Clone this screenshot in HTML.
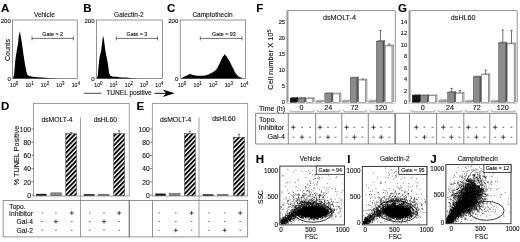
<!DOCTYPE html>
<html><head><meta charset="utf-8"><title>Figure</title>
<style>html,body{margin:0;padding:0;background:#fff}svg{display:block;filter:blur(0.35px);font-family:"Liberation Sans", Arial, sans-serif}text{stroke:#222;stroke-width:.12px;paint-order:stroke}</style></head>
<body><svg width="520" height="242" viewBox="0 0 520 242">
<rect width="520" height="242" fill="#fff"/>
<defs><pattern id="hatch" width="3.25" height="3.25" patternUnits="userSpaceOnUse" patternTransform="rotate(-46)"><rect width="3.25" height="3.25" fill="#fff"/><rect width="3.25" height="1.85" fill="#000"/></pattern></defs>
<text x="1" y="12" font-size="11.5" text-anchor="start" font-weight="bold" fill="#000" >A</text>
<text x="44.4" y="17.4" font-size="6.5" text-anchor="middle" font-weight="normal" fill="#111" >Vehicle</text>
<text x="10.799999999999999" y="23.2" font-size="6.1" text-anchor="end" font-weight="normal" fill="#111" >200</text>
<text x="10.799999999999999" y="80.7" font-size="6.1" text-anchor="end" font-weight="normal" fill="#111" >0</text>
<rect x="12.6" y="20" width="64.60000000000001" height="58.599999999999994" fill="none" stroke="#666" stroke-width="0.7" />
<line x1="32" y1="38.4" x2="73.4" y2="38.4" stroke="#333" stroke-width="0.7" />
<line x1="32" y1="36.4" x2="32" y2="40.4" stroke="#333" stroke-width="0.7" />
<line x1="73.4" y1="36.4" x2="73.4" y2="40.4" stroke="#333" stroke-width="0.7" />
<text x="52.7" y="35.8" font-size="5.4" text-anchor="middle" font-weight="normal" fill="#111" >Gate = 2</text>
<path d="M13.0 78.6 L13.4 76.8 L14.0 75.3 L14.6 68.9 L15.3 60.3 L16.2 54.0 L17.2 48.3 L18.2 42.2 L18.8 35.8 L19.9 31.3 L20.5 34.9 L21.7 41.7 L22.7 48.4 L23.5 54.8 L24.4 60.5 L25.4 66.5 L26.5 71.9 L27.5 75.0 L29.4 76.1 L32.7 76.8 L37.5 77.3 L42.6 77.4 L48.7 78.0 L54.5 78.2 L58.6 78.6 L58.6 78.6 Z" fill="#000"/>
<text transform="translate(14.2,86.8) scale(0.86,1)" font-size="6.1" text-anchor="middle" fill="#111">10<tspan dy="-1.7" font-size="5.2">0</tspan></text>
<text transform="translate(29.599999999999998,86.8) scale(0.86,1)" font-size="6.1" text-anchor="middle" fill="#111">10<tspan dy="-1.7" font-size="5.2">1</tspan></text>
<text transform="translate(45.0,86.8) scale(0.86,1)" font-size="6.1" text-anchor="middle" fill="#111">10<tspan dy="-1.7" font-size="5.2">2</tspan></text>
<text transform="translate(60.39999999999999,86.8) scale(0.86,1)" font-size="6.1" text-anchor="middle" fill="#111">10<tspan dy="-1.7" font-size="5.2">3</tspan></text>
<text transform="translate(75.8,86.8) scale(0.86,1)" font-size="6.1" text-anchor="middle" fill="#111">10<tspan dy="-1.7" font-size="5.2">4</tspan></text>
<text x="83.3" y="12" font-size="11.5" text-anchor="start" font-weight="bold" fill="#000" >B</text>
<text x="128.9" y="17.4" font-size="6.5" text-anchor="middle" font-weight="normal" fill="#111" >Galectin-2</text>
<text x="94.60000000000001" y="23.2" font-size="6.1" text-anchor="end" font-weight="normal" fill="#111" >200</text>
<text x="94.60000000000001" y="80.7" font-size="6.1" text-anchor="end" font-weight="normal" fill="#111" >0</text>
<rect x="96.4" y="20" width="66.0" height="58.599999999999994" fill="none" stroke="#666" stroke-width="0.7" />
<line x1="116.3" y1="38.4" x2="157.5" y2="38.4" stroke="#333" stroke-width="0.7" />
<line x1="116.3" y1="36.4" x2="116.3" y2="40.4" stroke="#333" stroke-width="0.7" />
<line x1="157.5" y1="36.4" x2="157.5" y2="40.4" stroke="#333" stroke-width="0.7" />
<text x="136.9" y="35.8" font-size="5.4" text-anchor="middle" font-weight="normal" fill="#111" >Gate = 3</text>
<path d="M96.8 78.6 L97.3 77.0 L97.8 75.7 L98.2 70.1 L99.0 62.0 L99.7 56.4 L101.0 51.4 L101.8 45.3 L102.4 40.1 L103.1 35.5 L103.9 39.4 L104.7 45.6 L105.5 51.5 L106.7 57.5 L107.6 61.9 L108.4 67.7 L109.0 72.6 L110.1 75.4 L113.2 76.7 L116.3 76.8 L121.4 77.6 L126.2 77.6 L132.4 78.2 L138.5 78.5 L142.3 78.4 L142.4 78.6 Z" fill="#000"/>
<text transform="translate(98.4,86.8) scale(0.86,1)" font-size="6.1" text-anchor="middle" fill="#111">10<tspan dy="-1.7" font-size="5.2">0</tspan></text>
<text transform="translate(113.65,86.8) scale(0.86,1)" font-size="6.1" text-anchor="middle" fill="#111">10<tspan dy="-1.7" font-size="5.2">1</tspan></text>
<text transform="translate(128.9,86.8) scale(0.86,1)" font-size="6.1" text-anchor="middle" fill="#111">10<tspan dy="-1.7" font-size="5.2">2</tspan></text>
<text transform="translate(144.15,86.8) scale(0.86,1)" font-size="6.1" text-anchor="middle" fill="#111">10<tspan dy="-1.7" font-size="5.2">3</tspan></text>
<text transform="translate(159.4,86.8) scale(0.86,1)" font-size="6.1" text-anchor="middle" fill="#111">10<tspan dy="-1.7" font-size="5.2">4</tspan></text>
<text x="167" y="12" font-size="11.5" text-anchor="start" font-weight="bold" fill="#000" >C</text>
<text x="212.45" y="17.4" font-size="6.5" text-anchor="middle" font-weight="normal" fill="#111" >Camptothecin</text>
<text x="178.39999999999998" y="23.2" font-size="6.1" text-anchor="end" font-weight="normal" fill="#111" >200</text>
<text x="178.39999999999998" y="80.7" font-size="6.1" text-anchor="end" font-weight="normal" fill="#111" >0</text>
<rect x="180.2" y="20" width="65.5" height="58.599999999999994" fill="none" stroke="#666" stroke-width="0.7" />
<line x1="200.3" y1="38.4" x2="242" y2="38.4" stroke="#333" stroke-width="0.7" />
<line x1="200.3" y1="36.4" x2="200.3" y2="40.4" stroke="#333" stroke-width="0.7" />
<line x1="242" y1="36.4" x2="242" y2="40.4" stroke="#333" stroke-width="0.7" />
<text x="223.95000000000002" y="35.8" font-size="5.4" text-anchor="middle" font-weight="normal" fill="#111" >Gate = 93</text>
<path d="M180.7 78.6 L181.7 77.9 L183.9 76.8 L186.2 75.7 L189.5 74.1 L192.2 74.7 L195.2 75.5 L197.5 75.7 L201.2 75.8 L205.5 75.6 L208.9 74.3 L211.2 73.0 L213.4 71.9 L215.2 70.4 L216.8 69.0 L218.6 65.5 L220.2 62.2 L221.4 59.5 L222.5 57.1 L223.7 55.7 L224.8 54.1 L225.7 55.4 L226.4 56.3 L227.2 57.6 L228.2 58.9 L230.0 61.9 L231.6 65.4 L233.2 68.6 L235.0 72.4 L236.8 74.6 L238.4 76.4 L240.2 77.3 L242.2 77.9 L242.2 78.6 Z" fill="#000"/>
<text transform="translate(182.1,86.8) scale(0.86,1)" font-size="6.1" text-anchor="middle" fill="#111">10<tspan dy="-1.7" font-size="5.2">0</tspan></text>
<text transform="translate(197.675,86.8) scale(0.86,1)" font-size="6.1" text-anchor="middle" fill="#111">10<tspan dy="-1.7" font-size="5.2">1</tspan></text>
<text transform="translate(213.25,86.8) scale(0.86,1)" font-size="6.1" text-anchor="middle" fill="#111">10<tspan dy="-1.7" font-size="5.2">2</tspan></text>
<text transform="translate(228.825,86.8) scale(0.86,1)" font-size="6.1" text-anchor="middle" fill="#111">10<tspan dy="-1.7" font-size="5.2">3</tspan></text>
<text transform="translate(244.4,86.8) scale(0.86,1)" font-size="6.1" text-anchor="middle" fill="#111">10<tspan dy="-1.7" font-size="5.2">4</tspan></text>
<line x1="83.8" y1="93.3" x2="101.5" y2="93.3" stroke="#222" stroke-width="0.8" />
<text x="129" y="95.3" font-size="6.6" text-anchor="middle" font-weight="normal" fill="#111" >TUNEL positive</text>
<line x1="154.5" y1="93.3" x2="168" y2="93.3" stroke="#111" stroke-width="1" />
<path d="M162.6 89.6 L174.8 93.3 L162.6 97 L166.2 93.3 Z" fill="#000"/>
<text transform="translate(9.7,50) rotate(-90)" font-size="6.9" text-anchor="middle" fill="#111">Counts</text>
<text x="1" y="110" font-size="11.5" text-anchor="start" font-weight="bold" fill="#000" >D</text>
<rect x="33.6" y="103.5" width="95.6" height="92.5" fill="none" stroke="#777" stroke-width="0.7" />
<line x1="80.5" y1="117.5" x2="80.5" y2="237.2" stroke="#777" stroke-width="0.7" />
<text x="57.05" y="122.3" font-size="6.8" text-anchor="middle" font-weight="normal" fill="#111" >dsMOLT-4</text>
<text x="105.35" y="122.3" font-size="6.8" text-anchor="middle" font-weight="normal" fill="#111" >dsHL60</text>
<text x="31.0" y="197.8" font-size="6.7" text-anchor="end" font-weight="normal" fill="#111" >0</text>
<line x1="31.400000000000002" y1="195.0" x2="33.6" y2="195.0" stroke="#333" stroke-width="0.6" />
<text x="31.0" y="184.60000000000002" font-size="6.7" text-anchor="end" font-weight="normal" fill="#111" >20</text>
<line x1="31.400000000000002" y1="181.8" x2="33.6" y2="181.8" stroke="#333" stroke-width="0.6" />
<text x="31.0" y="171.4" font-size="6.7" text-anchor="end" font-weight="normal" fill="#111" >40</text>
<line x1="31.400000000000002" y1="168.6" x2="33.6" y2="168.6" stroke="#333" stroke-width="0.6" />
<text x="31.0" y="158.20000000000002" font-size="6.7" text-anchor="end" font-weight="normal" fill="#111" >60</text>
<line x1="31.400000000000002" y1="155.4" x2="33.6" y2="155.4" stroke="#333" stroke-width="0.6" />
<text x="31.0" y="145.0" font-size="6.7" text-anchor="end" font-weight="normal" fill="#111" >80</text>
<line x1="31.400000000000002" y1="142.2" x2="33.6" y2="142.2" stroke="#333" stroke-width="0.6" />
<text x="31.0" y="131.8" font-size="6.7" text-anchor="end" font-weight="normal" fill="#111" >100</text>
<line x1="31.400000000000002" y1="129.0" x2="33.6" y2="129.0" stroke="#333" stroke-width="0.6" />
<rect x="36.2" y="194.0546" width="10.2" height="1.4454000000000065" fill="#111" stroke="#111" stroke-width="0.4" />
<rect x="50.8" y="192.872" width="10.5" height="2.627999999999986" fill="#888" stroke="#444" stroke-width="0.5" />
<rect x="65.8" y="133.742" width="10.7" height="61.75800000000001" fill="url(#hatch)" stroke="#222" stroke-width="0.45" />
<line x1="71.14999999999999" y1="133.742" x2="71.14999999999999" y2="132.542" stroke="#222" stroke-width="0.6" />
<line x1="69.94999999999999" y1="132.542" x2="72.35" y2="132.542" stroke="#222" stroke-width="0.6" />
<rect x="84" y="194.3174" width="10.2" height="1.1826000000000079" fill="#111" stroke="#111" stroke-width="0.4" />
<rect x="98.5" y="194.186" width="10.5" height="1.313999999999993" fill="#888" stroke="#444" stroke-width="0.5" />
<rect x="113.7" y="133.742" width="10.8" height="61.75800000000001" fill="url(#hatch)" stroke="#222" stroke-width="0.45" />
<line x1="119.10000000000001" y1="133.742" x2="119.10000000000001" y2="130.742" stroke="#222" stroke-width="0.6" />
<line x1="117.9" y1="130.742" x2="120.30000000000001" y2="130.742" stroke="#222" stroke-width="0.6" />
<rect x="3.1" y="200.5" width="126.1" height="36.4" fill="none" stroke="#666" stroke-width="0.7"/>
<line x1="41.5" y1="213" x2="43.099999999999994" y2="213" stroke="#333" stroke-width="0.7" />
<line x1="55.1" y1="213" x2="56.699999999999996" y2="213" stroke="#333" stroke-width="0.7" />
<line x1="69.8" y1="213" x2="73.8" y2="213" stroke="#222" stroke-width="0.8" />
<line x1="71.8" y1="211" x2="71.8" y2="215" stroke="#222" stroke-width="0.8" />
<line x1="88.9" y1="213" x2="90.5" y2="213" stroke="#333" stroke-width="0.7" />
<line x1="103.2" y1="213" x2="104.8" y2="213" stroke="#333" stroke-width="0.7" />
<line x1="117.2" y1="213" x2="121.2" y2="213" stroke="#222" stroke-width="0.8" />
<line x1="119.2" y1="211" x2="119.2" y2="215" stroke="#222" stroke-width="0.8" />
<line x1="41.5" y1="221.6" x2="43.099999999999994" y2="221.6" stroke="#333" stroke-width="0.7" />
<line x1="53.9" y1="221.6" x2="57.9" y2="221.6" stroke="#222" stroke-width="0.8" />
<line x1="55.9" y1="219.6" x2="55.9" y2="223.6" stroke="#222" stroke-width="0.8" />
<line x1="71.0" y1="221.6" x2="72.6" y2="221.6" stroke="#333" stroke-width="0.7" />
<line x1="88.9" y1="221.6" x2="90.5" y2="221.6" stroke="#333" stroke-width="0.7" />
<line x1="102" y1="221.6" x2="106" y2="221.6" stroke="#222" stroke-width="0.8" />
<line x1="104" y1="219.6" x2="104" y2="223.6" stroke="#222" stroke-width="0.8" />
<line x1="118.4" y1="221.6" x2="120.0" y2="221.6" stroke="#333" stroke-width="0.7" />
<line x1="41.5" y1="230.3" x2="43.099999999999994" y2="230.3" stroke="#333" stroke-width="0.7" />
<line x1="55.1" y1="230.3" x2="56.699999999999996" y2="230.3" stroke="#333" stroke-width="0.7" />
<line x1="71.0" y1="230.3" x2="72.6" y2="230.3" stroke="#333" stroke-width="0.7" />
<line x1="88.9" y1="230.3" x2="90.5" y2="230.3" stroke="#333" stroke-width="0.7" />
<line x1="103.2" y1="230.3" x2="104.8" y2="230.3" stroke="#333" stroke-width="0.7" />
<line x1="118.4" y1="230.3" x2="120.0" y2="230.3" stroke="#333" stroke-width="0.7" />
<text x="32.9" y="216.4" font-size="6.7" text-anchor="end" font-weight="normal" fill="#111" >Inhibitor</text>
<text x="32.9" y="223.8" font-size="6.7" text-anchor="end" font-weight="normal" fill="#111" >Gal-4</text>
<text x="32.9" y="232.5" font-size="6.7" text-anchor="end" font-weight="normal" fill="#111" >Gal-2</text>
<text x="9.3" y="208.8" font-size="6.7" text-anchor="start" font-weight="normal" fill="#111" >Topo.</text>
<text transform="translate(18.6,155.5) rotate(-90)" font-size="7.3" text-anchor="middle" fill="#111">% TUNEL Positive</text>
<text x="136.5" y="110" font-size="11.5" text-anchor="start" font-weight="bold" fill="#000" >E</text>
<rect x="152.3" y="103.5" width="95.39999999999998" height="92.5" fill="none" stroke="#777" stroke-width="0.7" />
<line x1="199" y1="117.5" x2="199" y2="237.2" stroke="#777" stroke-width="0.7" />
<text x="175.65" y="122.3" font-size="6.8" text-anchor="middle" font-weight="normal" fill="#111" >dsMOLT-4</text>
<text x="223.85" y="121.4" font-size="6.8" text-anchor="middle" font-weight="normal" fill="#111" >dsHL60</text>
<text x="149.70000000000002" y="197.8" font-size="6.7" text-anchor="end" font-weight="normal" fill="#111" >0</text>
<line x1="150.10000000000002" y1="195.0" x2="152.3" y2="195.0" stroke="#333" stroke-width="0.6" />
<text x="149.70000000000002" y="184.60000000000002" font-size="6.7" text-anchor="end" font-weight="normal" fill="#111" >20</text>
<line x1="150.10000000000002" y1="181.8" x2="152.3" y2="181.8" stroke="#333" stroke-width="0.6" />
<text x="149.70000000000002" y="171.4" font-size="6.7" text-anchor="end" font-weight="normal" fill="#111" >40</text>
<line x1="150.10000000000002" y1="168.6" x2="152.3" y2="168.6" stroke="#333" stroke-width="0.6" />
<text x="149.70000000000002" y="158.20000000000002" font-size="6.7" text-anchor="end" font-weight="normal" fill="#111" >60</text>
<line x1="150.10000000000002" y1="155.4" x2="152.3" y2="155.4" stroke="#333" stroke-width="0.6" />
<text x="149.70000000000002" y="145.0" font-size="6.7" text-anchor="end" font-weight="normal" fill="#111" >80</text>
<line x1="150.10000000000002" y1="142.2" x2="152.3" y2="142.2" stroke="#333" stroke-width="0.6" />
<text x="149.70000000000002" y="131.8" font-size="6.7" text-anchor="end" font-weight="normal" fill="#111" >100</text>
<line x1="150.10000000000002" y1="129.0" x2="152.3" y2="129.0" stroke="#333" stroke-width="0.6" />
<rect x="155.5" y="193.8575" width="10.2" height="1.6425000000000125" fill="#111" stroke="#111" stroke-width="0.4" />
<rect x="169.5" y="193.529" width="10.5" height="1.9710000000000036" fill="#888" stroke="#444" stroke-width="0.5" />
<rect x="184.5" y="133.742" width="10.8" height="61.75800000000001" fill="url(#hatch)" stroke="#222" stroke-width="0.45" />
<line x1="189.9" y1="133.742" x2="189.9" y2="131.242" stroke="#222" stroke-width="0.6" />
<line x1="188.70000000000002" y1="131.242" x2="191.1" y2="131.242" stroke="#222" stroke-width="0.6" />
<rect x="203" y="194.5145" width="10.2" height="0.9855000000000018" fill="#111" stroke="#111" stroke-width="0.4" />
<rect x="217.5" y="194.3174" width="10.5" height="1.1826000000000079" fill="#888" stroke="#444" stroke-width="0.5" />
<rect x="233.6" y="137.3555" width="10.8" height="58.144499999999994" fill="url(#hatch)" stroke="#222" stroke-width="0.45" />
<line x1="239.0" y1="137.3555" x2="239.0" y2="134.3555" stroke="#222" stroke-width="0.6" />
<line x1="237.8" y1="134.3555" x2="240.2" y2="134.3555" stroke="#222" stroke-width="0.6" />
<rect x="129.2" y="200.5" width="118.5" height="36.4" fill="none" stroke="#666" stroke-width="0.7"/>
<line x1="158.2" y1="213" x2="159.8" y2="213" stroke="#333" stroke-width="0.7" />
<line x1="175.0" y1="213" x2="176.60000000000002" y2="213" stroke="#333" stroke-width="0.7" />
<line x1="189.6" y1="213" x2="193.6" y2="213" stroke="#222" stroke-width="0.8" />
<line x1="191.6" y1="211" x2="191.6" y2="215" stroke="#222" stroke-width="0.8" />
<line x1="208.2" y1="213" x2="209.8" y2="213" stroke="#333" stroke-width="0.7" />
<line x1="223.89999999999998" y1="213" x2="225.5" y2="213" stroke="#333" stroke-width="0.7" />
<line x1="238.2" y1="213" x2="242.2" y2="213" stroke="#222" stroke-width="0.8" />
<line x1="240.2" y1="211" x2="240.2" y2="215" stroke="#222" stroke-width="0.8" />
<line x1="158.2" y1="221.6" x2="159.8" y2="221.6" stroke="#333" stroke-width="0.7" />
<line x1="175.0" y1="221.6" x2="176.60000000000002" y2="221.6" stroke="#333" stroke-width="0.7" />
<line x1="190.79999999999998" y1="221.6" x2="192.4" y2="221.6" stroke="#333" stroke-width="0.7" />
<line x1="208.2" y1="221.6" x2="209.8" y2="221.6" stroke="#333" stroke-width="0.7" />
<line x1="223.89999999999998" y1="221.6" x2="225.5" y2="221.6" stroke="#333" stroke-width="0.7" />
<line x1="239.39999999999998" y1="221.6" x2="241.0" y2="221.6" stroke="#333" stroke-width="0.7" />
<line x1="158.2" y1="230.3" x2="159.8" y2="230.3" stroke="#333" stroke-width="0.7" />
<line x1="173.8" y1="230.3" x2="177.8" y2="230.3" stroke="#222" stroke-width="0.8" />
<line x1="175.8" y1="228.3" x2="175.8" y2="232.3" stroke="#222" stroke-width="0.8" />
<line x1="190.79999999999998" y1="230.3" x2="192.4" y2="230.3" stroke="#333" stroke-width="0.7" />
<line x1="208.2" y1="230.3" x2="209.8" y2="230.3" stroke="#333" stroke-width="0.7" />
<line x1="222.7" y1="230.3" x2="226.7" y2="230.3" stroke="#222" stroke-width="0.8" />
<line x1="224.7" y1="228.3" x2="224.7" y2="232.3" stroke="#222" stroke-width="0.8" />
<line x1="239.39999999999998" y1="230.3" x2="241.0" y2="230.3" stroke="#333" stroke-width="0.7" />
<line x1="152.5" y1="200.5" x2="152.5" y2="237.2" stroke="#666" stroke-width="0.7" />
<text x="256.2" y="11.9" font-size="11.5" text-anchor="start" font-weight="bold" fill="#000" >F</text>
<path d="M287.6 102.5 V10.6 H394.7 q0.6 0 0.6 0.6 V102.5" fill="none" stroke="#666" stroke-width="0.7"/>
<rect x="286.40000000000003" y="10.6" width="2" height="91.9" fill="#999"/>
<path d="M286.40000000000003 103.5 H394.3 l1.5 -2.2 H288.40000000000003 Z" fill="#eee" stroke="#aaa" stroke-width="0.5"/>
<text x="339.5" y="19.7" font-size="7.2" text-anchor="middle" font-weight="normal" fill="#111" >dsMOLT-4</text>
<text x="285.0" y="104.1" font-size="5.7" text-anchor="end" font-weight="normal" fill="#111" >0</text>
<text x="285.0" y="88.1" font-size="5.7" text-anchor="end" font-weight="normal" fill="#111" >5</text>
<text x="285.0" y="72.1" font-size="5.7" text-anchor="end" font-weight="normal" fill="#111" >10</text>
<text x="285.0" y="56.1" font-size="5.7" text-anchor="end" font-weight="normal" fill="#111" >15</text>
<text x="285.0" y="40.1" font-size="5.7" text-anchor="end" font-weight="normal" fill="#111" >20</text>
<text x="285.0" y="24.1" font-size="5.7" text-anchor="end" font-weight="normal" fill="#111" >25</text>
<path d="M296.4 98.48 l1.6 -0.96 V101.34 l-1.6 0.96 Z" fill="#000" stroke="#000" stroke-width="0.4"/>
<path d="M290.2 98.48 l1.6 -0.96 h6.199999999999999 l-1.6 0.96 Z" fill="#333" stroke="#000" stroke-width="0.4"/>
<rect x="290.2" y="98.48" width="6.199999999999999" height="3.819999999999993" fill="#111" stroke="#000" stroke-width="0.4"/>
<path d="M304.2 98.32 l1.6 -0.96 V101.34 l-1.6 0.96 Z" fill="#5a5a5a" stroke="#3a3a3a" stroke-width="0.4"/>
<path d="M298 98.32 l1.6 -0.96 h6.199999999999999 l-1.6 0.96 Z" fill="#b0b0b0" stroke="#3a3a3a" stroke-width="0.4"/>
<rect x="298" y="98.32" width="6.199999999999999" height="3.980000000000004" fill="#8c8c8c" stroke="#3a3a3a" stroke-width="0.4"/>
<path d="M312.7 98.48 l1.6 -0.96 V101.34 l-1.6 0.96 Z" fill="#ccc" stroke="#4a4a4a" stroke-width="0.4"/>
<path d="M306.5 98.48 l1.6 -0.96 h6.199999999999999 l-1.6 0.96 Z" fill="#fff" stroke="#4a4a4a" stroke-width="0.4"/>
<rect x="306.5" y="98.48" width="6.199999999999999" height="3.819999999999993" fill="#fff" stroke="#4a4a4a" stroke-width="0.4"/>
<path d="M321.59999999999997 101.04 l1.6 -0.96 V101.34 l-1.6 0.96 Z" fill="#888" stroke="#888" stroke-width="0.4"/>
<path d="M316.2 101.04 l1.6 -0.96 h5.4 l-1.6 0.96 Z" fill="#ccc" stroke="#888" stroke-width="0.4"/>
<rect x="316.2" y="101.04" width="5.4" height="1.259999999999991" fill="#a8a8a8" stroke="#888" stroke-width="0.4"/>
<path d="M331.2 93.68 l1.6 -0.96 V101.34 l-1.6 0.96 Z" fill="#5a5a5a" stroke="#3a3a3a" stroke-width="0.4"/>
<path d="M324.8 93.68 l1.6 -0.96 h6.4 l-1.6 0.96 Z" fill="#b0b0b0" stroke="#3a3a3a" stroke-width="0.4"/>
<rect x="324.8" y="93.68" width="6.4" height="8.61999999999999" fill="#8c8c8c" stroke="#3a3a3a" stroke-width="0.4"/>
<path d="M339.4 94.0 l1.6 -0.96 V101.34 l-1.6 0.96 Z" fill="#ccc" stroke="#4a4a4a" stroke-width="0.4"/>
<path d="M333 94.0 l1.6 -0.96 h6.4 l-1.6 0.96 Z" fill="#fff" stroke="#4a4a4a" stroke-width="0.4"/>
<rect x="333" y="94.0" width="6.4" height="8.299999999999997" fill="#fff" stroke="#4a4a4a" stroke-width="0.4"/>
<path d="M347.7 101.04 l1.6 -0.96 V101.34 l-1.6 0.96 Z" fill="#888" stroke="#888" stroke-width="0.4"/>
<path d="M342.3 101.04 l1.6 -0.96 h5.4 l-1.6 0.96 Z" fill="#ccc" stroke="#888" stroke-width="0.4"/>
<rect x="342.3" y="101.04" width="5.4" height="1.259999999999991" fill="#a8a8a8" stroke="#888" stroke-width="0.4"/>
<path d="M356.8 78.0 l1.6 -0.96 V101.34 l-1.6 0.96 Z" fill="#5a5a5a" stroke="#3a3a3a" stroke-width="0.4"/>
<path d="M350.2 78.0 l1.6 -0.96 h6.6 l-1.6 0.96 Z" fill="#b0b0b0" stroke="#3a3a3a" stroke-width="0.4"/>
<rect x="350.2" y="78.0" width="6.6" height="24.299999999999997" fill="#8c8c8c" stroke="#3a3a3a" stroke-width="0.4"/>
<path d="M365.40000000000003 80.08 l1.6 -0.96 V101.34 l-1.6 0.96 Z" fill="#ccc" stroke="#4a4a4a" stroke-width="0.4"/>
<path d="M358.8 80.08 l1.6 -0.96 h6.6 l-1.6 0.96 Z" fill="#fff" stroke="#4a4a4a" stroke-width="0.4"/>
<rect x="358.8" y="80.08" width="6.6" height="22.22" fill="#fff" stroke="#4a4a4a" stroke-width="0.4"/>
<line x1="362.90000000000003" y1="79.58" x2="362.90000000000003" y2="78.98" stroke="#444" stroke-width="0.75" />
<line x1="361.70000000000005" y1="78.98" x2="364.1" y2="78.98" stroke="#444" stroke-width="0.75" />
<path d="M374.2 101.04 l1.6 -0.96 V101.34 l-1.6 0.96 Z" fill="#888" stroke="#888" stroke-width="0.4"/>
<path d="M368.8 101.04 l1.6 -0.96 h5.4 l-1.6 0.96 Z" fill="#ccc" stroke="#888" stroke-width="0.4"/>
<rect x="368.8" y="101.04" width="5.4" height="1.259999999999991" fill="#a8a8a8" stroke="#888" stroke-width="0.4"/>
<path d="M383.0 41.52 l1.6 -0.96 V101.34 l-1.6 0.96 Z" fill="#5a5a5a" stroke="#3a3a3a" stroke-width="0.4"/>
<path d="M376.3 41.52 l1.6 -0.96 h6.700000000000001 l-1.6 0.96 Z" fill="#b0b0b0" stroke="#3a3a3a" stroke-width="0.4"/>
<rect x="376.3" y="41.52" width="6.700000000000001" height="60.779999999999994" fill="#8c8c8c" stroke="#3a3a3a" stroke-width="0.4"/>
<line x1="380.45000000000005" y1="41.02" x2="380.45000000000005" y2="30.520000000000003" stroke="#444" stroke-width="0.75" />
<line x1="379.25000000000006" y1="30.520000000000003" x2="381.65000000000003" y2="30.520000000000003" stroke="#444" stroke-width="0.75" />
<path d="M391.9 46.0 l1.6 -0.96 V101.34 l-1.6 0.96 Z" fill="#ccc" stroke="#4a4a4a" stroke-width="0.4"/>
<path d="M385.2 46.0 l1.6 -0.96 h6.700000000000001 l-1.6 0.96 Z" fill="#fff" stroke="#4a4a4a" stroke-width="0.4"/>
<rect x="385.2" y="46.0" width="6.700000000000001" height="56.3" fill="#fff" stroke="#4a4a4a" stroke-width="0.4"/>
<line x1="389.35" y1="45.5" x2="389.35" y2="44.0" stroke="#444" stroke-width="0.75" />
<line x1="388.15000000000003" y1="44.0" x2="390.55" y2="44.0" stroke="#444" stroke-width="0.75" />
<text x="301.5" y="110.4" font-size="7.2" text-anchor="middle" font-weight="normal" fill="#111" >0</text>
<text x="328.3" y="110.4" font-size="7.2" text-anchor="middle" font-weight="normal" fill="#111" >24</text>
<text x="354.6" y="110.4" font-size="7.2" text-anchor="middle" font-weight="normal" fill="#111" >72</text>
<text x="381" y="110.4" font-size="7.2" text-anchor="middle" font-weight="normal" fill="#111" >120</text>
<path d="M289.8 109.8 q0 2 2 2 H312.2 q2 0 2 -2" fill="none" stroke="#666" stroke-width="0.6"/>
<path d="M317.2 109.8 q0 2 2 2 H338.3 q2 0 2 -2" fill="none" stroke="#666" stroke-width="0.6"/>
<path d="M343.3 109.8 q0 2 2 2 H364.8 q2 0 2 -2" fill="none" stroke="#666" stroke-width="0.6"/>
<path d="M369.8 109.8 q0 2 2 2 H391.3 q2 0 2 -2" fill="none" stroke="#666" stroke-width="0.6"/>
<line x1="288.3" y1="113.3" x2="288.3" y2="144" stroke="#555" stroke-width="0.7" />
<line x1="315.7" y1="113.3" x2="315.7" y2="144" stroke="#555" stroke-width="0.7" />
<line x1="341.8" y1="113.3" x2="341.8" y2="144" stroke="#555" stroke-width="0.7" />
<line x1="368.3" y1="113.3" x2="368.3" y2="144" stroke="#555" stroke-width="0.7" />
<line x1="394.8" y1="113.3" x2="394.8" y2="144" stroke="#555" stroke-width="0.7" />
<line x1="291.1" y1="127.3" x2="295.5" y2="127.3" stroke="#111" stroke-width="0.75" />
<line x1="293.3" y1="125.1" x2="293.3" y2="129.5" stroke="#111" stroke-width="0.75" />
<line x1="292.3" y1="137.2" x2="294.3" y2="137.2" stroke="#333" stroke-width="0.7" />
<line x1="301" y1="127.3" x2="303" y2="127.3" stroke="#333" stroke-width="0.7" />
<line x1="299.8" y1="137.2" x2="304.2" y2="137.2" stroke="#111" stroke-width="0.75" />
<line x1="302" y1="135.0" x2="302" y2="139.39999999999998" stroke="#111" stroke-width="0.75" />
<line x1="309" y1="127.3" x2="311" y2="127.3" stroke="#333" stroke-width="0.7" />
<line x1="309" y1="137.2" x2="311" y2="137.2" stroke="#333" stroke-width="0.7" />
<line x1="317.8" y1="127.3" x2="322.2" y2="127.3" stroke="#111" stroke-width="0.75" />
<line x1="320" y1="125.1" x2="320" y2="129.5" stroke="#111" stroke-width="0.75" />
<line x1="319" y1="137.2" x2="321" y2="137.2" stroke="#333" stroke-width="0.7" />
<line x1="327" y1="127.3" x2="329" y2="127.3" stroke="#333" stroke-width="0.7" />
<line x1="325.8" y1="137.2" x2="330.2" y2="137.2" stroke="#111" stroke-width="0.75" />
<line x1="328" y1="135.0" x2="328" y2="139.39999999999998" stroke="#111" stroke-width="0.75" />
<line x1="334.5" y1="127.3" x2="336.5" y2="127.3" stroke="#333" stroke-width="0.7" />
<line x1="334.5" y1="137.2" x2="336.5" y2="137.2" stroke="#333" stroke-width="0.7" />
<line x1="344.40000000000003" y1="127.3" x2="348.8" y2="127.3" stroke="#111" stroke-width="0.75" />
<line x1="346.6" y1="125.1" x2="346.6" y2="129.5" stroke="#111" stroke-width="0.75" />
<line x1="345.6" y1="137.2" x2="347.6" y2="137.2" stroke="#333" stroke-width="0.7" />
<line x1="353.4" y1="127.3" x2="355.4" y2="127.3" stroke="#333" stroke-width="0.7" />
<line x1="352.2" y1="137.2" x2="356.59999999999997" y2="137.2" stroke="#111" stroke-width="0.75" />
<line x1="354.4" y1="135.0" x2="354.4" y2="139.39999999999998" stroke="#111" stroke-width="0.75" />
<line x1="361.5" y1="127.3" x2="363.5" y2="127.3" stroke="#333" stroke-width="0.7" />
<line x1="361.5" y1="137.2" x2="363.5" y2="137.2" stroke="#333" stroke-width="0.7" />
<line x1="371.3" y1="127.3" x2="375.7" y2="127.3" stroke="#111" stroke-width="0.75" />
<line x1="373.5" y1="125.1" x2="373.5" y2="129.5" stroke="#111" stroke-width="0.75" />
<line x1="372.5" y1="137.2" x2="374.5" y2="137.2" stroke="#333" stroke-width="0.7" />
<line x1="380.2" y1="127.3" x2="382.2" y2="127.3" stroke="#333" stroke-width="0.7" />
<line x1="379.0" y1="137.2" x2="383.4" y2="137.2" stroke="#111" stroke-width="0.75" />
<line x1="381.2" y1="135.0" x2="381.2" y2="139.39999999999998" stroke="#111" stroke-width="0.75" />
<line x1="388.3" y1="127.3" x2="390.3" y2="127.3" stroke="#333" stroke-width="0.7" />
<line x1="388.3" y1="137.2" x2="390.3" y2="137.2" stroke="#333" stroke-width="0.7" />
<line x1="255.6" y1="113.3" x2="394.8" y2="113.3" stroke="#555" stroke-width="0.7" />
<line x1="255.6" y1="144" x2="394.8" y2="144" stroke="#555" stroke-width="0.7" />
<line x1="255.6" y1="113.3" x2="255.6" y2="144" stroke="#555" stroke-width="0.7" />
<text x="259" y="110.5" font-size="7.1" text-anchor="start" font-weight="normal" fill="#111" >Time (h)</text>
<text x="258.9" y="121.6" font-size="7.2" text-anchor="start" font-weight="normal" fill="#111" >Topo.</text>
<text x="258.7" y="130.2" font-size="7.2" text-anchor="start" font-weight="normal" fill="#111" >Inhibitor</text>
<text x="285" y="139.4" font-size="7.2" text-anchor="end" font-weight="normal" fill="#111" >Gal-4</text>
<text transform="translate(273,59.6) rotate(-90)" font-size="7.4" text-anchor="middle" fill="#111">Cell number X 10<tspan dy="-2.3" font-size="5.6">5</tspan></text>
<text x="398.1" y="11.9" font-size="11.5" text-anchor="start" font-weight="bold" fill="#000" >G</text>
<path d="M409.7 102.5 V10.6 H516.6 q0.6 0 0.6 0.6 V102.5" fill="none" stroke="#666" stroke-width="0.7"/>
<rect x="408.5" y="10.6" width="2" height="91.9" fill="#999"/>
<path d="M408.5 103.5 H516.2 l1.5 -2.2 H410.5 Z" fill="#eee" stroke="#aaa" stroke-width="0.5"/>
<text x="463.2" y="19.7" font-size="7.2" text-anchor="middle" font-weight="normal" fill="#111" >dsHL60</text>
<text x="407.09999999999997" y="104.1" font-size="5.7" text-anchor="end" font-weight="normal" fill="#111" >0</text>
<text x="407.09999999999997" y="92.6" font-size="5.7" text-anchor="end" font-weight="normal" fill="#111" >2</text>
<text x="407.09999999999997" y="81.1" font-size="5.7" text-anchor="end" font-weight="normal" fill="#111" >4</text>
<text x="407.09999999999997" y="69.6" font-size="5.7" text-anchor="end" font-weight="normal" fill="#111" >6</text>
<text x="407.09999999999997" y="58.1" font-size="5.7" text-anchor="end" font-weight="normal" fill="#111" >8</text>
<text x="407.09999999999997" y="46.6" font-size="5.7" text-anchor="end" font-weight="normal" fill="#111" >10</text>
<text x="407.09999999999997" y="35.1" font-size="5.7" text-anchor="end" font-weight="normal" fill="#111" >12</text>
<text x="407.09999999999997" y="23.6" font-size="5.7" text-anchor="end" font-weight="normal" fill="#111" >14</text>
<path d="M418.90000000000003 95.78999999999999 l1.6 -0.96 V101.34 l-1.6 0.96 Z" fill="#000" stroke="#000" stroke-width="0.4"/>
<path d="M412.3 95.78999999999999 l1.6 -0.96 h6.6 l-1.6 0.96 Z" fill="#333" stroke="#000" stroke-width="0.4"/>
<rect x="412.3" y="95.78999999999999" width="6.6" height="6.510000000000005" fill="#111" stroke="#000" stroke-width="0.4"/>
<path d="M427.20000000000005 95.78999999999999 l1.6 -0.96 V101.34 l-1.6 0.96 Z" fill="#5a5a5a" stroke="#3a3a3a" stroke-width="0.4"/>
<path d="M420.6 95.78999999999999 l1.6 -0.96 h6.6 l-1.6 0.96 Z" fill="#b0b0b0" stroke="#3a3a3a" stroke-width="0.4"/>
<rect x="420.6" y="95.78999999999999" width="6.6" height="6.510000000000005" fill="#8c8c8c" stroke="#3a3a3a" stroke-width="0.4"/>
<path d="M435.5 95.78999999999999 l1.6 -0.96 V101.34 l-1.6 0.96 Z" fill="#ccc" stroke="#4a4a4a" stroke-width="0.4"/>
<path d="M428.9 95.78999999999999 l1.6 -0.96 h6.6 l-1.6 0.96 Z" fill="#fff" stroke="#4a4a4a" stroke-width="0.4"/>
<rect x="428.9" y="95.78999999999999" width="6.6" height="6.510000000000005" fill="#fff" stroke="#4a4a4a" stroke-width="0.4"/>
<path d="M444.9 100.5625 l1.6 -0.96 V101.34 l-1.6 0.96 Z" fill="#888" stroke="#888" stroke-width="0.4"/>
<path d="M439 100.5625 l1.6 -0.96 h5.9 l-1.6 0.96 Z" fill="#ccc" stroke="#888" stroke-width="0.4"/>
<rect x="439" y="100.5625" width="5.9" height="1.7374999999999972" fill="#a8a8a8" stroke="#888" stroke-width="0.4"/>
<path d="M454.20000000000005 92.5125 l1.6 -0.96 V101.34 l-1.6 0.96 Z" fill="#5a5a5a" stroke="#3a3a3a" stroke-width="0.4"/>
<path d="M447.6 92.5125 l1.6 -0.96 h6.6 l-1.6 0.96 Z" fill="#b0b0b0" stroke="#3a3a3a" stroke-width="0.4"/>
<rect x="447.6" y="92.5125" width="6.6" height="9.787499999999994" fill="#8c8c8c" stroke="#3a3a3a" stroke-width="0.4"/>
<line x1="451.70000000000005" y1="92.0125" x2="451.70000000000005" y2="88.41250000000001" stroke="#444" stroke-width="0.75" />
<line x1="450.50000000000006" y1="88.41250000000001" x2="452.90000000000003" y2="88.41250000000001" stroke="#444" stroke-width="0.75" />
<path d="M462.5 93.26 l1.6 -0.96 V101.34 l-1.6 0.96 Z" fill="#ccc" stroke="#4a4a4a" stroke-width="0.4"/>
<path d="M455.9 93.26 l1.6 -0.96 h6.6 l-1.6 0.96 Z" fill="#fff" stroke="#4a4a4a" stroke-width="0.4"/>
<rect x="455.9" y="93.26" width="6.6" height="9.039999999999992" fill="#fff" stroke="#4a4a4a" stroke-width="0.4"/>
<line x1="460.0" y1="92.76" x2="460.0" y2="90.36" stroke="#444" stroke-width="0.75" />
<line x1="458.8" y1="90.36" x2="461.2" y2="90.36" stroke="#444" stroke-width="0.75" />
<path d="M471.4 101.1375 l1.6 -0.96 V101.34 l-1.6 0.96 Z" fill="#888" stroke="#888" stroke-width="0.4"/>
<path d="M465.5 101.1375 l1.6 -0.96 h5.9 l-1.6 0.96 Z" fill="#ccc" stroke="#888" stroke-width="0.4"/>
<rect x="465.5" y="101.1375" width="5.9" height="1.1624999999999943" fill="#a8a8a8" stroke="#888" stroke-width="0.4"/>
<path d="M479.8 76.9875 l1.6 -0.96 V101.34 l-1.6 0.96 Z" fill="#5a5a5a" stroke="#3a3a3a" stroke-width="0.4"/>
<path d="M473.2 76.9875 l1.6 -0.96 h6.6 l-1.6 0.96 Z" fill="#b0b0b0" stroke="#3a3a3a" stroke-width="0.4"/>
<rect x="473.2" y="76.9875" width="6.6" height="25.3125" fill="#8c8c8c" stroke="#3a3a3a" stroke-width="0.4"/>
<path d="M488.20000000000005 74.6875 l1.6 -0.96 V101.34 l-1.6 0.96 Z" fill="#ccc" stroke="#4a4a4a" stroke-width="0.4"/>
<path d="M481.6 74.6875 l1.6 -0.96 h6.6 l-1.6 0.96 Z" fill="#fff" stroke="#4a4a4a" stroke-width="0.4"/>
<rect x="481.6" y="74.6875" width="6.6" height="27.612499999999997" fill="#fff" stroke="#4a4a4a" stroke-width="0.4"/>
<line x1="485.70000000000005" y1="74.1875" x2="485.70000000000005" y2="70.1875" stroke="#444" stroke-width="0.75" />
<line x1="484.50000000000006" y1="70.1875" x2="486.90000000000003" y2="70.1875" stroke="#444" stroke-width="0.75" />
<path d="M497.09999999999997 101.1375 l1.6 -0.96 V101.34 l-1.6 0.96 Z" fill="#888" stroke="#888" stroke-width="0.4"/>
<path d="M491.2 101.1375 l1.6 -0.96 h5.9 l-1.6 0.96 Z" fill="#ccc" stroke="#888" stroke-width="0.4"/>
<rect x="491.2" y="101.1375" width="5.9" height="1.1624999999999943" fill="#a8a8a8" stroke="#888" stroke-width="0.4"/>
<path d="M505.40000000000003 43.0625 l1.6 -0.96 V101.34 l-1.6 0.96 Z" fill="#5a5a5a" stroke="#3a3a3a" stroke-width="0.4"/>
<path d="M498.6 43.0625 l1.6 -0.96 h6.800000000000001 l-1.6 0.96 Z" fill="#b0b0b0" stroke="#3a3a3a" stroke-width="0.4"/>
<rect x="498.6" y="43.0625" width="6.800000000000001" height="59.2375" fill="#8c8c8c" stroke="#3a3a3a" stroke-width="0.4"/>
<line x1="502.8" y1="42.5625" x2="502.8" y2="29.9625" stroke="#444" stroke-width="0.75" />
<line x1="501.6" y1="29.9625" x2="504.0" y2="29.9625" stroke="#444" stroke-width="0.75" />
<path d="M514.1 43.925000000000004 l1.6 -0.96 V101.34 l-1.6 0.96 Z" fill="#ccc" stroke="#4a4a4a" stroke-width="0.4"/>
<path d="M507.3 43.925000000000004 l1.6 -0.96 h6.800000000000001 l-1.6 0.96 Z" fill="#fff" stroke="#4a4a4a" stroke-width="0.4"/>
<rect x="507.3" y="43.925000000000004" width="6.800000000000001" height="58.37499999999999" fill="#fff" stroke="#4a4a4a" stroke-width="0.4"/>
<line x1="511.5" y1="43.425000000000004" x2="511.5" y2="30.425000000000004" stroke="#444" stroke-width="0.75" />
<line x1="510.3" y1="30.425000000000004" x2="512.7" y2="30.425000000000004" stroke="#444" stroke-width="0.75" />
<text x="422.7" y="110.4" font-size="7.2" text-anchor="middle" font-weight="normal" fill="#111" >0</text>
<text x="450" y="110.4" font-size="7.2" text-anchor="middle" font-weight="normal" fill="#111" >24</text>
<text x="476.7" y="110.4" font-size="7.2" text-anchor="middle" font-weight="normal" fill="#111" >72</text>
<text x="502.8" y="110.4" font-size="7.2" text-anchor="middle" font-weight="normal" fill="#111" >120</text>
<path d="M411.0 109.8 q0 2 2 2 H433.1 q2 0 2 -2" fill="none" stroke="#666" stroke-width="0.6"/>
<path d="M438.1 109.8 q0 2 2 2 H460.3 q2 0 2 -2" fill="none" stroke="#666" stroke-width="0.6"/>
<path d="M465.3 109.8 q0 2 2 2 H486.3 q2 0 2 -2" fill="none" stroke="#666" stroke-width="0.6"/>
<path d="M491.3 109.8 q0 2 2 2 H513.3 q2 0 2 -2" fill="none" stroke="#666" stroke-width="0.6"/>
<line x1="409.5" y1="113.3" x2="409.5" y2="144" stroke="#555" stroke-width="0.7" />
<line x1="436.6" y1="113.3" x2="436.6" y2="144" stroke="#555" stroke-width="0.7" />
<line x1="463.8" y1="113.3" x2="463.8" y2="144" stroke="#555" stroke-width="0.7" />
<line x1="489.8" y1="113.3" x2="489.8" y2="144" stroke="#555" stroke-width="0.7" />
<line x1="516.8" y1="113.3" x2="516.8" y2="144" stroke="#555" stroke-width="0.7" />
<line x1="414.1" y1="127.3" x2="418.5" y2="127.3" stroke="#111" stroke-width="0.75" />
<line x1="416.3" y1="125.1" x2="416.3" y2="129.5" stroke="#111" stroke-width="0.75" />
<line x1="415.3" y1="137.2" x2="417.3" y2="137.2" stroke="#333" stroke-width="0.7" />
<line x1="423.4" y1="127.3" x2="425.4" y2="127.3" stroke="#333" stroke-width="0.7" />
<line x1="422.2" y1="137.2" x2="426.59999999999997" y2="137.2" stroke="#111" stroke-width="0.75" />
<line x1="424.4" y1="135.0" x2="424.4" y2="139.39999999999998" stroke="#111" stroke-width="0.75" />
<line x1="431.5" y1="127.3" x2="433.5" y2="127.3" stroke="#333" stroke-width="0.7" />
<line x1="431.5" y1="137.2" x2="433.5" y2="137.2" stroke="#333" stroke-width="0.7" />
<line x1="441.1" y1="127.3" x2="445.5" y2="127.3" stroke="#111" stroke-width="0.75" />
<line x1="443.3" y1="125.1" x2="443.3" y2="129.5" stroke="#111" stroke-width="0.75" />
<line x1="442.3" y1="137.2" x2="444.3" y2="137.2" stroke="#333" stroke-width="0.7" />
<line x1="450.4" y1="127.3" x2="452.4" y2="127.3" stroke="#333" stroke-width="0.7" />
<line x1="449.2" y1="137.2" x2="453.59999999999997" y2="137.2" stroke="#111" stroke-width="0.75" />
<line x1="451.4" y1="135.0" x2="451.4" y2="139.39999999999998" stroke="#111" stroke-width="0.75" />
<line x1="458.4" y1="127.3" x2="460.4" y2="127.3" stroke="#333" stroke-width="0.7" />
<line x1="458.4" y1="137.2" x2="460.4" y2="137.2" stroke="#333" stroke-width="0.7" />
<line x1="466.1" y1="127.3" x2="470.5" y2="127.3" stroke="#111" stroke-width="0.75" />
<line x1="468.3" y1="125.1" x2="468.3" y2="129.5" stroke="#111" stroke-width="0.75" />
<line x1="467.3" y1="137.2" x2="469.3" y2="137.2" stroke="#333" stroke-width="0.7" />
<line x1="475.4" y1="127.3" x2="477.4" y2="127.3" stroke="#333" stroke-width="0.7" />
<line x1="474.2" y1="137.2" x2="478.59999999999997" y2="137.2" stroke="#111" stroke-width="0.75" />
<line x1="476.4" y1="135.0" x2="476.4" y2="139.39999999999998" stroke="#111" stroke-width="0.75" />
<line x1="483.5" y1="127.3" x2="485.5" y2="127.3" stroke="#333" stroke-width="0.7" />
<line x1="483.5" y1="137.2" x2="485.5" y2="137.2" stroke="#333" stroke-width="0.7" />
<line x1="493.0" y1="127.3" x2="497.4" y2="127.3" stroke="#111" stroke-width="0.75" />
<line x1="495.2" y1="125.1" x2="495.2" y2="129.5" stroke="#111" stroke-width="0.75" />
<line x1="494.2" y1="137.2" x2="496.2" y2="137.2" stroke="#333" stroke-width="0.7" />
<line x1="502.3" y1="127.3" x2="504.3" y2="127.3" stroke="#333" stroke-width="0.7" />
<line x1="501.1" y1="137.2" x2="505.5" y2="137.2" stroke="#111" stroke-width="0.75" />
<line x1="503.3" y1="135.0" x2="503.3" y2="139.39999999999998" stroke="#111" stroke-width="0.75" />
<line x1="510.4" y1="127.3" x2="512.4" y2="127.3" stroke="#333" stroke-width="0.7" />
<line x1="510.4" y1="137.2" x2="512.4" y2="137.2" stroke="#333" stroke-width="0.7" />
<line x1="395.6" y1="113.3" x2="516.8" y2="113.3" stroke="#555" stroke-width="0.7" />
<line x1="395.6" y1="144" x2="516.8" y2="144" stroke="#555" stroke-width="0.7" />
<line x1="395.6" y1="113.3" x2="395.6" y2="144" stroke="#555" stroke-width="0.7" />
<text x="255.8" y="162.9" font-size="11.5" text-anchor="start" font-weight="bold" fill="#000" >H</text>
<text x="310.3" y="161.1" font-size="6.5" text-anchor="middle" font-weight="normal" fill="#111" >Vehicle</text>
<path d="M309.2 196.2h.7M321.2 192.0h.7M324.2 200.5h.7M305.2 186.4h.7M311.8 205.9h.7M306.6 197.8h.7M294.0 195.7h.7M318.4 195.6h.7M305.1 201.8h.7M316.5 184.2h.7M303.1 190.5h.7M308.4 191.1h.7M328.1 174.5h.7M310.9 206.3h.7M325.7 214.4h.7M284.8 186.7h.7M306.5 201.3h.7M329.4 170.3h.7M322.9 169.6h.7M314.8 209.9h.7M309.6 194.9h.7M324.8 194.1h.7M310.6 215.0h.7M328.8 187.6h.7M326.6 188.0h.7M314.1 202.6h.7M315.6 201.6h.7M287.6 169.4h.7M321.8 177.6h.7M295.6 169.9h.7M332.3 203.2h.7M335.6 177.9h.7M312.0 174.9h.7M324.3 215.8h.7M297.8 215.4h.7M327.8 189.3h.7M280.4 213.1h.7M310.5 183.0h.7M318.4 198.1h.7M336.0 176.7h.7M330.2 214.3h.7M335.2 189.3h.7M300.1 207.3h.7M313.8 193.9h.7M334.8 188.0h.7M282.3 204.3h.7M317.1 182.8h.7M311.8 204.5h.7M313.3 211.9h.7M311.0 207.6h.7M335.9 216.1h.7M301.3 205.2h.7M282.0 175.7h.7M280.6 208.0h.7M292.3 191.8h.7M308.9 191.6h.7M302.5 195.5h.7M340.7 192.7h.7M320.5 207.0h.7M308.8 173.1h.7M303.1 208.1h.7M285.7 183.0h.7M328.1 203.9h.7M312.1 204.1h.7M314.7 174.3h.7M287.0 182.4h.7M326.8 183.5h.7M297.6 180.4h.7M287.5 190.2h.7M293.1 197.5h.7M323.6 187.9h.7M316.7 185.1h.7M324.5 203.2h.7M322.7 196.9h.7M333.3 201.9h.7M326.3 211.6h.7M307.2 185.0h.7M297.2 202.3h.7M342.2 190.2h.7M321.0 205.5h.7M297.5 190.7h.7M316.7 204.4h.7M311.4 189.1h.7M295.7 186.6h.7M326.3 193.5h.7M298.4 179.4h.7M321.9 199.2h.7M338.9 198.4h.7M310.9 199.8h.7M280.9 207.5h.7M317.2 181.5h.7M333.2 219.1h.7M289.6 182.0h.7M316.7 194.8h.7M305.6 177.4h.7M292.9 171.8h.7M339.3 206.8h.7M341.1 204.2h.7M298.0 195.9h.7M311.1 199.8h.7M300.4 190.1h.7M319.3 197.7h.7M322.2 195.1h.7M306.8 203.8h.7M312.8 179.6h.7M302.0 192.0h.7M310.2 194.4h.7M312.0 194.6h.7M309.9 173.1h.7M318.7 207.8h.7M319.0 189.2h.7M319.1 177.5h.7M281.7 192.9h.7M297.1 203.1h.7M295.4 215.7h.7M305.9 171.5h.7M299.8 199.8h.7M319.9 194.7h.7M335.7 202.6h.7M311.7 201.0h.7M338.5 206.6h.7M328.4 175.8h.7M309.6 202.9h.7M307.3 208.0h.7M321.5 205.6h.7M331.8 188.8h.7M306.5 205.1h.7M327.7 192.1h.7M293.3 194.8h.7M317.8 208.9h.7M324.5 192.4h.7M325.7 200.1h.7M315.3 192.8h.7M308.1 202.3h.7M295.1 182.6h.7M312.1 170.0h.7M301.1 200.5h.7M321.1 191.2h.7M308.3 170.7h.7M341.2 199.7h.7M329.5 178.8h.7M324.5 206.0h.7M281.6 191.2h.7M282.8 176.0h.7M301.9 171.0h.7M312.5 195.7h.7M322.1 202.5h.7M301.2 197.6h.7M307.5 184.0h.7M310.4 191.9h.7M310.0 181.0h.7M313.9 187.9h.7M304.4 195.9h.7M314.0 185.1h.7M315.2 174.9h.7M305.1 188.0h.7M309.2 185.9h.7M302.6 197.8h.7M303.8 193.6h.7M301.2 199.0h.7M310.2 183.5h.7M306.2 187.6h.7M301.7 197.7h.7M317.9 176.9h.7M307.2 190.3h.7M306.9 190.8h.7M318.3 178.9h.7M298.2 194.3h.7M301.4 197.0h.7M314.6 178.4h.7M315.2 178.5h.7M298.8 198.0h.7M305.3 194.9h.7M304.3 193.6h.7M312.9 183.1h.7M314.0 176.0h.7M303.3 193.8h.7M315.8 174.3h.7M306.3 191.2h.7M301.1 197.7h.7M317.0 178.3h.7M308.9 190.1h.7M319.4 179.0h.7M313.1 188.3h.7M308.2 187.9h.7M309.3 181.3h.7M310.4 185.8h.7M315.6 204.7h.7M299.2 206.9h.7M304.2 214.8h.7M319.2 205.4h.7M304.3 202.1h.7M298.8 204.0h.7M313.5 208.9h.7M316.8 217.8h.7M301.5 206.1h.7M303.7 206.9h.7M311.9 208.3h.7M307.1 208.1h.7M310.6 210.3h.7M287.3 201.0h.7M310.0 200.2h.7M297.5 209.5h.7M302.2 209.6h.7M318.9 207.7h.7M316.1 205.4h.7M293.1 205.8h.7M315.5 203.0h.7M308.8 210.2h.7M299.5 209.6h.7M332.4 202.9h.7M311.8 205.2h.7M328.5 207.8h.7M320.8 202.1h.7M309.8 205.9h.7M288.7 214.1h.7M320.8 196.2h.7M318.9 205.3h.7M315.4 208.1h.7M292.0 204.8h.7M327.9 202.8h.7M297.7 198.4h.7M295.3 207.9h.7M330.3 208.4h.7M312.9 218.5h.7M303.8 202.2h.7M316.3 209.1h.7M297.8 199.4h.7M313.5 207.4h.7M294.3 204.9h.7M303.5 208.6h.7M308.6 205.5h.7M305.8 211.9h.7M326.7 203.9h.7M320.2 201.8h.7M310.9 210.2h.7M328.2 203.9h.7M309.1 207.1h.7M292.0 206.1h.7M301.9 208.1h.7M296.4 194.9h.7M310.5 207.5h.7M303.4 211.0h.7M306.7 202.6h.7M315.7 197.2h.7M301.9 205.9h.7M320.2 205.1h.7M313.7 202.3h.7M313.6 215.3h.7M301.8 219.3h.7M302.3 206.1h.7M312.1 211.7h.7M295.2 194.2h.7M317.3 210.5h.7M317.5 220.7h.7M312.5 207.4h.7M321.2 208.1h.7M330.0 199.1h.7M305.5 186.7h.7M319.7 203.9h.7M321.1 218.1h.7M309.9 204.6h.7M304.0 201.3h.7M302.4 209.6h.7M310.4 206.4h.7M307.9 211.1h.7M315.9 205.2h.7M318.0 205.2h.7M296.2 214.1h.7M315.6 200.6h.7M322.9 207.9h.7M291.2 215.0h.7M314.0 211.0h.7M312.4 205.2h.7M291.4 211.4h.7M310.4 204.4h.7M314.2 206.4h.7M318.1 203.9h.7M309.6 194.0h.7M304.9 209.8h.7M326.0 204.0h.7M308.5 214.9h.7M306.1 210.1h.7M330.1 206.2h.7M324.7 202.0h.7M312.5 205.6h.7M311.4 212.3h.7M338.7 202.3h.7M303.1 208.8h.7M297.3 208.8h.7M316.9 204.4h.7M316.4 197.3h.7M319.1 197.3h.7M301.6 202.9h.7M305.2 210.8h.7M311.0 203.8h.7M316.5 214.9h.7M310.1 208.0h.7M324.9 207.5h.7M294.6 219.9h.7M336.5 194.9h.7M309.5 208.3h.7M321.6 209.7h.7M306.7 200.1h.7M311.2 211.8h.7M296.9 200.2h.7M309.7 195.2h.7M306.9 203.6h.7M315.4 202.1h.7M299.4 203.8h.7M309.4 202.3h.7M310.1 210.2h.7M324.2 215.5h.7M300.6 203.6h.7M301.3 205.8h.7M316.3 198.4h.7M315.6 205.9h.7M288.1 207.6h.7M324.3 195.5h.7M319.7 207.2h.7M315.7 208.5h.7M325.6 204.7h.7M320.5 203.7h.7M318.7 201.4h.7M308.7 215.7h.7M315.3 205.1h.7M296.3 201.6h.7M312.3 211.3h.7M315.1 208.9h.7M309.5 213.6h.7M305.3 202.9h.7M320.7 206.4h.7M306.7 202.8h.7M306.9 209.5h.7M314.2 199.2h.7M315.1 207.0h.7M298.0 210.3h.7M306.6 204.1h.7M319.5 213.4h.7M301.7 208.5h.7M299.5 219.0h.7M304.1 212.7h.7M302.2 210.5h.7M336.6 191.8h.7M304.8 208.8h.7M308.9 202.3h.7M335.8 206.4h.7M290.3 210.8h.7M289.3 212.4h.7M303.1 206.8h.7M325.1 206.7h.7M293.3 196.5h.7M324.2 210.1h.7M300.2 210.8h.7M316.0 209.6h.7M282.9 204.3h.7M320.8 210.1h.7M320.6 192.2h.7M312.0 208.8h.7M340.6 200.7h.7M306.0 206.2h.7M320.6 203.5h.7M323.8 201.6h.7M313.2 203.0h.7M311.9 202.1h.7M290.8 212.1h.7M313.6 202.9h.7M312.4 211.5h.7M298.3 205.4h.7M316.5 208.9h.7M306.0 194.2h.7M324.9 207.8h.7M310.2 204.4h.7M313.2 203.6h.7M297.7 201.9h.7M302.8 202.6h.7M296.1 209.6h.7M294.3 209.7h.7M297.8 208.0h.7M326.5 207.1h.7M301.2 206.3h.7M311.8 196.3h.7M302.7 206.9h.7M304.4 206.4h.7M318.8 210.3h.7M320.9 209.3h.7M306.5 205.9h.7M306.7 204.2h.7M307.8 196.3h.7M306.0 205.9h.7M298.3 205.9h.7M316.2 205.1h.7M334.9 191.4h.7M307.5 195.8h.7M321.8 220.9h.7M316.2 204.3h.7M316.6 193.4h.7M320.2 208.1h.7M310.3 202.7h.7M317.7 203.3h.7M312.7 203.1h.7M283.0 205.8h.7M312.4 210.2h.7M299.5 205.8h.7M317.4 206.8h.7M324.9 217.2h.7M299.1 195.2h.7M320.3 214.6h.7M321.1 210.6h.7M302.6 202.0h.7M320.7 200.9h.7M288.2 200.4h.7M339.9 216.8h.7M301.8 201.9h.7M312.8 201.8h.7M325.7 205.6h.7M297.0 213.3h.7M303.0 207.2h.7M309.8 204.2h.7M313.9 202.1h.7M287.9 193.6h.7M294.8 201.8h.7M309.7 206.3h.7M316.7 206.7h.7M300.5 202.0h.7M284.6 205.1h.7M315.8 209.0h.7M308.5 205.0h.7M321.2 206.1h.7M318.9 209.3h.7M312.6 213.3h.7M303.1 204.0h.7M300.3 201.5h.7M328.7 215.9h.7M310.3 209.2h.7M324.1 210.5h.7M324.5 198.9h.7M302.3 208.5h.7M327.2 206.6h.7M299.7 204.0h.7M302.1 201.2h.7M328.0 202.5h.7M310.2 218.1h.7M324.2 207.9h.7M302.7 208.3h.7M329.5 209.5h.7M325.1 206.5h.7M316.2 204.9h.7M315.1 213.3h.7M292.8 205.6h.7M312.9 202.8h.7M306.3 210.4h.7M334.0 209.5h.7M313.9 197.3h.7M333.1 206.4h.7M309.6 199.7h.7M309.3 199.9h.7M310.9 208.6h.7M310.4 207.6h.7M299.8 214.0h.7M302.2 195.8h.7M307.7 201.7h.7M297.9 204.0h.7M313.5 199.4h.7M308.3 214.0h.7M318.2 205.1h.7M311.5 205.3h.7M309.4 210.1h.7M308.9 192.5h.7M309.7 201.0h.7M317.8 202.6h.7M311.8 218.2h.7M297.4 199.7h.7M293.1 192.6h.7M287.5 208.0h.7M302.3 195.5h.7M292.2 209.5h.7M300.7 203.9h.7M314.0 213.6h.7M333.3 211.8h.7M311.7 207.0h.7M331.6 214.0h.7M306.3 208.6h.7M313.4 206.3h.7M304.0 198.6h.7M303.6 197.4h.7M324.7 209.0h.7M295.5 213.8h.7M320.7 195.3h.7M332.1 210.5h.7M334.8 199.1h.7M316.4 208.4h.7M312.4 207.0h.7M322.6 197.6h.7M295.1 198.2h.7M303.3 202.6h.7M314.4 207.5h.7M310.4 202.2h.7M304.7 211.3h.7M319.2 206.6h.7M306.1 214.7h.7M302.9 209.6h.7M323.8 204.5h.7M319.9 199.8h.7M322.2 207.1h.7M291.0 209.7h.7M299.3 213.2h.7M301.9 205.1h.7M313.4 204.1h.7M313.1 202.9h.7M318.1 206.0h.7M312.5 190.6h.7M323.9 206.2h.7M288.6 206.5h.7M315.6 212.0h.7M297.0 214.7h.7M308.1 219.4h.7M308.2 209.8h.7M305.6 199.8h.7M323.2 211.1h.7M328.5 210.8h.7M303.1 196.7h.7M302.2 202.2h.7M300.2 209.3h.7M313.9 204.5h.7M312.1 205.2h.7M312.6 210.2h.7M321.5 202.2h.7M291.9 214.0h.7M311.4 212.2h.7M290.3 204.2h.7M310.3 197.9h.7M303.8 210.1h.7M322.9 214.9h.7M299.6 198.2h.7M316.2 211.3h.7M312.3 198.7h.7M319.4 210.4h.7M316.6 203.3h.7M313.6 210.4h.7M303.3 195.7h.7M313.9 208.7h.7M310.2 211.0h.7M303.0 205.5h.7M306.3 209.2h.7M329.1 204.6h.7M334.7 214.6h.7M319.5 209.3h.7M331.2 205.0h.7M308.7 200.0h.7M315.7 213.5h.7M316.4 208.4h.7M307.6 206.9h.7M292.9 211.9h.7M305.1 199.8h.7M301.0 201.4h.7M320.3 211.9h.7M293.7 211.2h.7M320.7 202.8h.7M292.2 201.8h.7M302.4 207.9h.7M305.7 194.6h.7M312.8 197.4h.7M320.9 199.2h.7M301.7 201.2h.7M303.5 213.3h.7M320.2 209.4h.7M313.8 197.3h.7M303.8 202.9h.7M298.3 208.9h.7M301.1 202.0h.7M297.5 194.5h.7M317.1 213.5h.7M312.1 200.5h.7M324.6 207.7h.7M321.1 214.3h.7M323.5 203.5h.7M322.6 210.3h.7M291.6 203.7h.7M292.9 205.4h.7M316.9 200.0h.7M285.3 213.3h.7M314.5 214.2h.7M294.1 211.9h.7M334.9 217.2h.7M307.5 207.5h.7M308.2 211.6h.7M322.5 206.5h.7M293.7 210.2h.7M304.4 209.5h.7M313.2 215.1h.7M323.7 203.5h.7M314.2 215.9h.7M303.6 208.4h.7M324.3 213.0h.7M316.2 198.6h.7M294.9 207.4h.7M314.6 220.3h.7M299.7 212.4h.7M319.2 196.6h.7M300.2 206.9h.7M304.1 205.1h.7M315.6 201.5h.7M315.6 202.4h.7M303.5 209.0h.7M303.1 207.6h.7M329.2 206.2h.7M308.2 210.1h.7M305.6 212.1h.7M294.6 209.5h.7M303.9 201.5h.7M331.2 201.2h.7M331.1 209.7h.7M327.4 200.5h.7M324.4 214.2h.7M308.6 205.3h.7M339.5 207.0h.7M304.9 202.5h.7M315.4 207.9h.7M312.1 215.6h.7M306.1 208.6h.7M327.5 200.4h.7M322.5 216.3h.7M293.7 199.9h.7M297.5 195.7h.7M315.4 195.6h.7M316.0 214.1h.7M290.6 204.2h.7M287.0 210.4h.7M301.2 204.5h.7M310.7 209.1h.7M305.8 206.1h.7M303.4 206.6h.7M295.9 206.4h.7M286.8 203.3h.7M333.0 206.4h.7M294.9 207.4h.7M298.3 196.8h.7M301.2 210.1h.7M314.6 205.5h.7M298.9 200.0h.7M326.2 207.4h.7M298.6 194.2h.7M293.6 219.9h.7M296.2 205.6h.7M312.5 205.1h.7M306.7 198.3h.7M297.4 215.5h.7M300.9 210.7h.7M289.7 204.5h.7M313.1 211.8h.7M296.5 209.3h.7M314.6 201.9h.7M315.7 201.0h.7M300.4 205.9h.7M298.0 197.8h.7M304.9 210.3h.7M305.1 213.1h.7M296.1 198.7h.7M328.6 208.2h.7M321.3 201.4h.7M319.7 207.5h.7M317.8 206.1h.7M324.5 202.4h.7M298.4 197.7h.7M323.9 201.9h.7M297.5 200.7h.7M304.7 198.9h.7M306.5 202.5h.7M303.4 200.6h.7M310.4 203.4h.7M311.4 207.4h.7M314.1 193.7h.7M303.6 201.5h.7M319.3 197.2h.7M301.4 204.4h.7M306.0 211.6h.7M304.7 211.4h.7M292.4 195.9h.7M324.6 208.4h.7M315.9 206.7h.7M315.8 199.2h.7M321.4 203.0h.7M321.8 206.5h.7M286.3 198.8h.7M323.5 205.2h.7M305.3 207.4h.7M304.9 203.0h.7M311.2 206.8h.7M328.2 206.3h.7M332.6 216.1h.7M330.6 211.9h.7M311.6 206.8h.7M308.3 201.9h.7M309.2 202.4h.7M329.7 209.0h.7M304.6 195.3h.7M309.4 203.7h.7M297.0 199.6h.7M283.0 209.2h.7M309.2 220.5h.7M309.6 205.2h.7M327.3 206.8h.7M312.0 203.9h.7M302.7 214.4h.7M322.0 215.6h.7M305.8 206.2h.7M299.4 211.4h.7M293.3 209.2h.7M323.2 213.9h.7M298.7 212.1h.7M301.4 201.8h.7M294.1 212.5h.7M329.8 202.7h.7M300.9 204.1h.7M340.1 211.6h.7M303.5 196.0h.7M301.9 212.6h.7M332.4 204.5h.7M301.7 203.1h.7M287.4 211.1h.7M297.0 212.0h.7M289.5 198.9h.7M313.5 201.7h.7M319.4 206.0h.7M295.9 209.5h.7M320.1 195.3h.7M331.9 208.8h.7M319.1 195.6h.7M301.4 204.0h.7M322.9 197.8h.7M299.4 194.6h.7M307.1 207.9h.7M289.8 202.7h.7M316.1 214.9h.7M318.0 204.3h.7M295.9 200.8h.7M302.0 206.8h.7M309.4 215.3h.7M313.4 200.0h.7M328.5 211.3h.7M311.2 202.0h.7M287.6 200.3h.7M320.9 201.5h.7M294.2 207.1h.7M312.9 209.4h.7M317.9 213.9h.7M299.9 211.5h.7M298.2 209.9h.7M312.1 207.4h.7M321.6 205.9h.7M323.3 210.9h.7M311.6 202.8h.7M301.0 203.0h.7M307.6 205.9h.7M319.2 201.2h.7M301.5 204.2h.7M312.3 200.2h.7M329.3 202.8h.7M322.9 192.9h.7M309.9 207.6h.7M312.3 209.4h.7M313.4 206.9h.7M287.3 202.0h.7M281.9 209.5h.7M313.7 204.9h.7M300.1 202.7h.7M332.1 215.7h.7M309.3 213.2h.7M290.9 195.2h.7M304.2 201.1h.7M303.3 207.1h.7M310.6 207.5h.7M309.6 211.2h.7M331.3 199.0h.7M311.9 204.5h.7M314.3 197.4h.7M288.9 193.0h.7M316.3 207.1h.7M310.9 192.7h.7M305.5 201.8h.7M293.0 200.9h.7M318.4 209.0h.7M309.7 208.9h.7M302.8 206.4h.7M310.5 209.1h.7M309.2 205.2h.7M308.4 202.4h.7M336.8 208.9h.7M315.1 218.8h.7M326.8 197.3h.7M318.3 210.7h.7M332.6 213.4h.7M319.2 199.4h.7M299.6 207.5h.7M316.1 200.3h.7M305.4 203.8h.7M310.7 207.9h.7M306.6 199.1h.7M324.9 214.9h.7M308.7 211.7h.7M315.3 209.7h.7M315.8 201.7h.7M316.9 211.7h.7M299.2 217.0h.7M335.1 216.2h.7M333.9 210.2h.7M305.9 202.6h.7M300.2 206.6h.7M309.6 209.8h.7M285.8 218.9h.7M337.3 205.8h.7M318.1 208.7h.7M313.3 204.8h.7M308.5 201.4h.7M312.1 205.9h.7M313.8 201.2h.7M310.5 206.3h.7M317.3 200.0h.7M315.0 211.5h.7M317.2 203.9h.7M304.1 204.7h.7M318.8 214.7h.7M308.1 202.4h.7M314.5 207.1h.7M299.1 201.9h.7M308.8 209.8h.7M295.7 200.3h.7M316.0 199.1h.7M311.3 208.0h.7M308.7 200.3h.7M309.3 204.1h.7M314.0 201.3h.7M323.1 196.6h.7M307.9 206.0h.7M321.5 202.6h.7M316.6 202.8h.7M318.9 215.7h.7M305.2 208.5h.7M298.9 211.4h.7M324.5 206.2h.7M296.4 208.3h.7M323.8 212.1h.7M319.8 195.7h.7M301.8 214.0h.7M295.3 212.3h.7M332.6 210.3h.7M323.4 204.1h.7M295.3 205.4h.7M307.6 205.7h.7M318.4 205.2h.7M312.3 208.4h.7M309.9 216.3h.7M315.3 206.5h.7M307.5 202.5h.7M326.1 206.8h.7M297.1 202.9h.7M308.4 203.5h.7M323.0 199.5h.7M315.9 206.8h.7M295.9 206.3h.7M308.9 208.8h.7M304.6 207.7h.7M290.0 199.9h.7M319.4 211.8h.7M309.8 202.6h.7M323.0 194.3h.7M300.4 209.8h.7M317.8 200.2h.7M287.4 214.1h.7M311.8 201.0h.7M310.7 211.0h.7M318.9 194.3h.7M319.3 196.0h.7M323.7 208.2h.7M337.0 202.6h.7M310.1 211.9h.7M302.3 202.1h.7M305.5 205.6h.7M297.0 208.7h.7M316.5 206.4h.7M330.4 204.2h.7M325.7 202.9h.7M319.1 195.2h.7M312.4 205.0h.7M304.1 202.6h.7M305.8 202.0h.7M283.7 202.7h.7M303.4 203.1h.7M297.3 205.2h.7M319.4 204.6h.7M304.1 213.6h.7M321.7 211.2h.7M323.9 204.2h.7M308.4 212.2h.7M303.4 205.3h.7M314.5 208.1h.7M306.7 211.5h.7M307.9 210.1h.7M322.8 209.7h.7M318.8 199.5h.7M294.3 202.5h.7M315.7 214.4h.7M295.3 207.7h.7M299.8 201.9h.7M306.7 209.9h.7M312.6 212.6h.7M298.2 211.0h.7M321.2 206.4h.7M315.7 202.8h.7M296.9 203.7h.7M302.3 222.2h.7M304.2 215.2h.7M312.4 207.7h.7M318.9 201.6h.7M321.0 208.1h.7M291.8 209.4h.7M316.6 208.5h.7M329.0 203.7h.7M316.1 210.2h.7M299.2 212.7h.7M292.6 198.7h.7M316.3 199.9h.7M308.6 196.8h.7M310.8 199.7h.7M314.1 197.4h.7M315.4 204.5h.7M310.8 205.6h.7M311.6 198.6h.7M298.8 203.5h.7M315.1 194.9h.7M300.8 202.6h.7M297.3 207.8h.7M308.3 201.4h.7M298.2 210.5h.7M302.1 209.3h.7M315.4 195.4h.7M297.0 206.0h.7M314.1 210.4h.7M319.6 211.8h.7M305.5 204.8h.7M319.3 203.6h.7M322.7 197.1h.7M317.8 205.0h.7M286.4 211.5h.7M313.7 206.1h.7M297.1 203.4h.7M328.1 201.4h.7M295.6 205.3h.7M305.3 200.9h.7M299.9 211.9h.7M292.7 217.0h.7M303.5 199.9h.7M319.4 209.2h.7M297.5 210.2h.7M287.9 200.8h.7M323.5 204.6h.7M294.4 208.9h.7M321.0 205.9h.7M288.3 204.1h.7M315.0 210.3h.7M332.2 204.6h.7M304.2 205.8h.7M324.5 200.7h.7M325.7 190.6h.7M319.6 202.2h.7M315.5 209.9h.7M295.8 205.5h.7M312.9 209.3h.7M298.8 200.4h.7M286.9 220.2h.7M307.7 204.8h.7M292.1 211.2h.7M303.6 214.0h.7M320.2 206.1h.7M318.7 199.8h.7M306.1 202.8h.7M294.8 206.1h.7M308.3 214.0h.7M299.0 203.4h.7M315.1 208.3h.7M310.3 203.3h.7M315.9 208.0h.7M287.9 204.5h.7M293.5 199.4h.7M311.8 206.3h.7M311.4 201.1h.7M307.6 200.9h.7M314.6 209.9h.7M331.1 213.1h.7M300.3 203.4h.7M298.7 207.7h.7M333.8 210.0h.7M283.6 199.0h.7M294.5 208.9h.7M310.0 207.7h.7M331.4 201.4h.7M299.8 217.0h.7M314.1 201.6h.7M285.7 197.5h.7M280.7 206.4h.7M310.5 211.6h.7M308.3 202.1h.7M301.1 216.6h.7M288.8 207.0h.7M310.3 209.5h.7M305.1 208.8h.7M319.8 205.2h.7M304.5 205.0h.7M298.4 204.8h.7M306.4 207.2h.7M326.0 213.3h.7M304.7 209.4h.7M313.5 210.3h.7M310.3 207.5h.7M304.4 201.6h.7M320.5 213.3h.7M317.9 208.4h.7M313.2 203.5h.7M288.6 209.7h.7M312.4 202.9h.7M298.4 213.2h.7M288.3 215.9h.7M317.7 219.3h.7M301.4 205.9h.7M303.9 206.9h.7M311.2 209.6h.7M322.1 209.5h.7M308.7 213.8h.7M308.4 210.6h.7M316.0 210.8h.7M302.4 211.7h.7M311.1 217.5h.7M303.7 215.1h.7M306.3 210.9h.7M310.2 212.9h.7M320.3 217.6h.7M307.6 216.3h.7M321.5 214.6h.7M306.5 214.9h.7M312.1 213.1h.7M310.7 214.1h.7M322.5 215.6h.7M311.3 215.2h.7M325.3 209.0h.7M325.5 207.7h.7M317.6 213.9h.7M325.6 212.9h.7M308.9 209.5h.7M302.4 214.5h.7M311.0 209.7h.7M317.5 209.6h.7M309.3 210.5h.7M327.1 216.7h.7M311.7 207.0h.7M315.4 212.2h.7M316.0 213.8h.7M310.3 215.0h.7M320.1 212.7h.7M309.5 210.5h.7M318.9 208.5h.7M311.6 209.6h.7M301.2 213.9h.7M312.8 212.1h.7M320.4 207.2h.7M312.4 212.9h.7M320.1 208.5h.7M319.1 212.7h.7M324.5 215.6h.7M317.7 218.9h.7M313.0 210.6h.7M310.1 209.0h.7M312.8 206.0h.7M312.3 213.4h.7M321.4 210.9h.7M324.8 209.9h.7M311.9 206.0h.7M306.5 209.5h.7M325.4 213.7h.7M303.8 213.7h.7M317.0 211.3h.7M313.2 211.0h.7M308.5 206.5h.7M312.2 216.0h.7M324.9 211.1h.7M306.8 211.3h.7M320.4 213.1h.7M308.2 213.1h.7M311.3 213.6h.7M309.6 207.4h.7M313.5 214.4h.7M303.8 211.7h.7M320.3 210.8h.7M307.6 218.3h.7M319.9 215.2h.7M305.2 217.1h.7M299.3 210.4h.7M319.1 216.1h.7M305.3 209.9h.7M314.6 206.0h.7M318.3 213.7h.7M309.3 213.7h.7M319.4 213.0h.7M317.3 216.7h.7M309.1 212.5h.7M308.7 215.2h.7M309.6 213.5h.7M314.1 212.2h.7M327.1 211.7h.7M324.7 214.6h.7M323.9 211.5h.7M320.6 214.3h.7M307.9 212.8h.7M311.9 211.9h.7M323.7 209.8h.7M299.2 206.6h.7M309.3 210.0h.7M313.1 213.7h.7M327.4 213.0h.7M316.8 209.7h.7M317.8 216.2h.7M324.0 206.0h.7M320.3 216.9h.7M319.8 207.4h.7M310.5 213.8h.7M316.4 209.5h.7M305.7 215.0h.7M302.1 216.4h.7M313.2 212.9h.7M302.1 210.2h.7M318.6 207.5h.7M329.9 207.7h.7M303.0 212.1h.7M316.9 214.3h.7M310.0 211.4h.7M311.1 210.2h.7M291.9 215.0h.7M315.1 212.5h.7M307.9 212.8h.7M312.9 211.8h.7M322.0 206.7h.7M315.1 208.7h.7M310.4 216.6h.7M304.1 211.7h.7M308.2 214.9h.7M305.0 206.8h.7M317.2 210.9h.7M310.4 215.3h.7M305.8 210.9h.7M314.2 213.3h.7M308.8 215.2h.7M331.3 210.7h.7M328.3 205.5h.7M324.5 210.9h.7M314.1 211.0h.7M307.8 208.1h.7M309.8 216.0h.7M322.3 210.9h.7M308.7 209.8h.7M303.2 217.5h.7M318.4 212.4h.7M309.0 208.9h.7M323.7 214.4h.7M305.2 215.0h.7M304.0 214.0h.7M305.2 210.7h.7M317.0 213.3h.7M321.3 209.4h.7M325.9 216.1h.7M312.9 213.4h.7M306.7 211.5h.7M302.2 212.3h.7M314.6 216.1h.7M320.7 214.5h.7M310.0 211.3h.7M310.2 212.7h.7M297.2 214.4h.7M300.2 210.4h.7M313.2 210.4h.7M326.6 211.7h.7M325.8 215.6h.7M308.9 213.2h.7M323.6 211.0h.7M313.7 210.3h.7M313.5 210.9h.7M313.7 215.1h.7M324.4 212.4h.7M314.6 214.6h.7M310.6 208.7h.7M322.1 209.1h.7M320.6 209.0h.7M327.9 208.8h.7M319.9 216.6h.7M305.2 216.6h.7M306.3 206.6h.7M318.9 214.2h.7M311.3 204.2h.7M312.6 211.1h.7M309.9 211.1h.7M298.4 210.3h.7M327.7 216.8h.7M310.0 209.8h.7M316.2 215.3h.7M318.9 208.4h.7M314.3 212.4h.7M324.7 215.7h.7M317.3 215.7h.7M309.8 216.7h.7M309.5 213.2h.7M320.5 209.2h.7M307.3 206.6h.7M314.3 211.8h.7M310.3 213.5h.7M295.7 211.9h.7M313.7 211.2h.7M319.5 217.4h.7M309.4 209.1h.7M308.1 212.3h.7M317.8 209.4h.7M321.2 208.9h.7M319.7 213.3h.7M316.8 218.6h.7M310.8 211.5h.7M316.9 214.7h.7M302.1 212.8h.7M306.9 213.9h.7M324.2 212.2h.7M312.1 212.6h.7M288.9 214.4h.7M317.6 212.5h.7M309.8 209.8h.7M311.5 215.7h.7M312.2 216.1h.7M292.0 210.6h.7M315.2 212.0h.7M299.5 210.0h.7M323.2 208.0h.7M304.9 208.6h.7M308.5 214.0h.7M317.8 205.8h.7M324.9 210.2h.7M308.2 217.1h.7M312.3 208.2h.7M307.8 209.8h.7M304.8 211.0h.7M320.2 213.1h.7M301.7 220.6h.7M304.9 212.4h.7M313.3 214.3h.7M310.3 213.4h.7M330.2 212.3h.7M304.2 213.0h.7M306.4 210.9h.7M314.5 213.0h.7M310.7 214.6h.7M311.4 208.0h.7M320.2 210.9h.7M322.9 210.0h.7M317.7 213.0h.7M291.0 207.4h.7M303.9 216.3h.7M297.6 214.8h.7M321.9 213.5h.7M318.5 210.5h.7M312.9 212.7h.7M316.4 214.2h.7M311.3 209.8h.7M308.4 213.3h.7M299.4 208.1h.7M309.6 210.3h.7M310.8 203.8h.7M310.2 211.2h.7M319.3 205.9h.7M310.5 213.5h.7M317.0 215.7h.7M321.6 208.8h.7M318.2 211.0h.7M306.4 216.7h.7M307.9 209.4h.7M309.7 209.4h.7M321.2 213.2h.7M324.4 213.3h.7M308.0 215.2h.7M307.6 210.6h.7M311.6 212.1h.7M322.8 210.1h.7M315.9 211.9h.7M302.7 208.6h.7M311.2 213.2h.7M315.6 213.5h.7M313.4 210.6h.7M316.5 208.9h.7M302.0 211.0h.7M301.3 210.4h.7M306.9 210.3h.7M312.6 209.5h.7M309.5 206.7h.7M314.2 209.3h.7M316.3 203.3h.7M306.4 212.7h.7M293.0 210.9h.7M313.8 212.3h.7M300.7 212.7h.7M314.2 209.0h.7M319.1 211.8h.7M313.2 210.6h.7M317.5 212.3h.7M322.3 213.4h.7M307.9 211.3h.7M320.5 210.9h.7M316.1 213.6h.7M311.5 204.8h.7M314.1 212.7h.7M314.1 209.7h.7M322.9 211.6h.7M307.9 209.8h.7M315.9 208.6h.7M304.8 218.2h.7M323.8 215.3h.7M324.2 213.8h.7M299.1 215.7h.7M323.2 213.5h.7M296.9 215.8h.7M324.2 210.5h.7M314.0 214.4h.7M312.3 215.4h.7M313.7 214.1h.7M313.7 207.4h.7M304.8 221.8h.7M315.3 216.1h.7M322.4 217.3h.7M317.6 210.2h.7M313.2 206.0h.7M311.4 214.8h.7M295.2 212.6h.7M319.8 216.1h.7M305.4 210.0h.7M297.5 208.8h.7M317.4 218.4h.7M303.5 216.3h.7M316.5 210.5h.7M331.1 204.2h.7M312.4 212.7h.7M330.6 217.6h.7M331.7 212.4h.7M321.1 216.2h.7M317.2 213.1h.7M311.5 210.7h.7M302.8 218.1h.7M309.3 205.5h.7M315.2 211.9h.7M314.5 217.6h.7M312.1 211.2h.7M306.8 211.9h.7M309.4 212.6h.7M338.8 213.2h.7M305.9 218.0h.7M320.1 214.5h.7M318.9 214.6h.7M318.6 216.4h.7M321.3 216.2h.7M308.8 212.0h.7M307.0 215.0h.7M319.9 210.5h.7M317.8 220.2h.7M323.2 208.5h.7M312.2 214.0h.7M312.7 213.2h.7M322.8 213.0h.7M303.9 214.2h.7M312.2 212.4h.7M308.3 207.7h.7M302.7 210.9h.7M304.1 203.5h.7M322.5 208.4h.7M307.0 213.7h.7M293.0 216.2h.7M306.6 214.1h.7M309.0 213.0h.7M313.9 212.0h.7M297.9 207.4h.7M312.7 216.4h.7M308.5 213.7h.7M314.3 213.5h.7M321.2 207.3h.7M315.3 211.4h.7M310.4 209.3h.7M306.5 208.8h.7M303.9 219.8h.7M327.1 212.0h.7M319.1 209.0h.7M290.0 206.3h.7M314.2 216.5h.7M312.7 208.9h.7M311.0 208.9h.7M301.4 211.3h.7M309.7 209.5h.7M305.7 209.1h.7M315.0 216.3h.7M311.3 219.0h.7M299.6 212.9h.7M303.4 211.5h.7M313.8 213.7h.7M322.4 210.3h.7M302.7 211.4h.7M315.4 209.8h.7M320.4 217.3h.7M301.2 213.1h.7M321.4 206.0h.7M314.7 211.3h.7M301.2 216.1h.7M314.8 210.5h.7M316.7 214.0h.7M319.4 213.8h.7M316.4 208.3h.7M309.5 212.4h.7M290.1 218.6h.7M309.9 208.7h.7M297.9 212.8h.7M313.3 210.2h.7M309.5 209.2h.7M306.8 211.7h.7M307.7 214.1h.7M311.8 212.4h.7M316.4 216.0h.7M318.0 212.7h.7M311.6 209.5h.7M310.2 214.1h.7M314.9 210.8h.7M302.0 207.2h.7M315.7 215.2h.7M316.1 207.7h.7M311.2 212.7h.7M305.4 213.1h.7M311.3 209.4h.7M302.7 214.5h.7M316.0 209.2h.7M304.6 214.8h.7M317.9 211.1h.7M326.2 211.1h.7M304.3 215.4h.7M311.4 213.1h.7M313.3 208.9h.7M303.2 211.4h.7M324.6 208.9h.7M324.2 212.7h.7M303.8 212.8h.7M317.7 209.2h.7M295.4 213.1h.7M303.8 213.4h.7M297.2 211.6h.7M306.3 207.4h.7M311.0 212.5h.7M308.4 208.3h.7M314.8 206.6h.7M317.4 213.5h.7M326.9 214.7h.7M315.9 212.8h.7M313.2 207.9h.7M325.1 213.6h.7M310.6 208.4h.7M325.3 213.7h.7M303.2 214.1h.7M328.7 211.9h.7M316.3 210.7h.7M307.8 215.3h.7M338.4 212.4h.7M312.0 214.5h.7M310.5 214.3h.7M319.8 208.8h.7M304.1 211.8h.7M319.9 212.9h.7M323.2 207.7h.7M317.1 210.1h.7M313.8 213.0h.7M305.0 211.3h.7M303.4 212.8h.7M306.0 210.5h.7M314.8 210.0h.7M322.5 210.0h.7M320.0 212.9h.7M304.5 211.3h.7M306.1 210.9h.7M310.8 217.6h.7M309.5 216.9h.7M316.7 207.9h.7M293.9 214.1h.7M296.6 214.2h.7M321.5 213.2h.7M311.3 211.2h.7M315.1 211.1h.7M308.6 210.9h.7M322.6 210.1h.7M316.1 208.4h.7M307.1 207.7h.7M311.4 214.1h.7M315.5 210.5h.7M318.0 210.9h.7M316.1 212.8h.7M317.5 204.3h.7M302.3 214.4h.7M312.1 218.9h.7M311.1 210.3h.7M325.3 213.7h.7M328.6 213.6h.7M311.3 214.2h.7M306.5 210.6h.7M308.4 211.3h.7M319.4 210.5h.7M315.6 210.5h.7M320.3 203.5h.7M311.3 212.5h.7M304.1 215.1h.7M314.8 216.0h.7M320.9 214.0h.7M311.8 208.6h.7M311.2 210.6h.7M315.1 210.6h.7M338.1 207.1h.7M322.6 210.5h.7M311.0 214.9h.7M313.0 208.3h.7M316.4 211.4h.7M296.1 212.6h.7M304.3 209.7h.7M317.0 212.9h.7M310.6 218.7h.7M316.4 210.1h.7M314.9 211.6h.7M294.9 207.1h.7M301.6 218.4h.7M311.5 211.1h.7M308.4 215.0h.7M313.2 217.3h.7M319.5 217.1h.7M312.0 213.2h.7M309.4 211.5h.7M298.8 210.2h.7M305.2 210.0h.7M323.0 212.8h.7M323.0 214.6h.7M320.5 215.1h.7M308.0 214.5h.7M310.4 210.4h.7M322.8 218.7h.7M305.0 217.4h.7M319.8 209.4h.7M315.2 213.1h.7M316.1 210.9h.7M302.5 212.1h.7M320.1 214.4h.7M318.4 215.4h.7M304.9 211.9h.7M315.8 215.1h.7M314.3 213.6h.7M314.1 218.5h.7M295.1 211.9h.7M333.3 212.7h.7M298.0 212.4h.7M301.3 209.9h.7M314.8 217.3h.7M316.8 214.1h.7M321.3 212.6h.7M306.0 211.7h.7M315.8 211.1h.7M307.5 210.9h.7M300.7 208.8h.7M312.3 210.9h.7M313.3 216.3h.7M315.5 211.9h.7M303.4 208.7h.7M316.1 209.3h.7M316.5 208.7h.7M314.1 211.8h.7M321.2 210.8h.7M310.0 212.8h.7M313.4 217.2h.7M310.9 210.3h.7M310.4 213.5h.7M314.9 214.1h.7M301.7 219.6h.7M328.1 211.9h.7M303.1 212.5h.7M316.4 205.1h.7M313.1 207.4h.7M316.7 216.3h.7M321.5 207.4h.7M324.3 214.8h.7M310.0 213.5h.7M325.4 211.0h.7M312.9 210.3h.7M322.5 205.4h.7M324.6 209.0h.7M320.6 207.0h.7M305.3 210.2h.7M319.8 207.0h.7M317.9 210.0h.7M323.2 211.0h.7M317.0 211.5h.7M327.7 210.9h.7M312.8 218.1h.7M313.6 214.1h.7M307.0 212.6h.7M294.4 212.3h.7M307.7 207.4h.7M301.4 215.5h.7M316.5 207.3h.7M327.8 209.9h.7M310.0 212.8h.7M303.7 207.0h.7M306.9 215.6h.7M320.8 207.1h.7M322.8 212.1h.7M317.1 212.2h.7M316.4 208.9h.7M305.6 209.8h.7M310.0 213.9h.7M303.1 216.9h.7M307.8 210.2h.7M318.8 213.3h.7M310.2 208.7h.7M304.8 207.1h.7M322.4 215.3h.7M328.3 213.5h.7M315.7 214.3h.7M320.8 211.2h.7M315.9 218.6h.7M299.1 207.7h.7M305.1 214.3h.7M322.7 211.0h.7M318.5 211.9h.7M315.5 210.3h.7M312.8 212.0h.7M322.3 218.9h.7M298.1 213.6h.7M313.0 215.0h.7M321.7 214.4h.7M319.6 209.1h.7M299.0 217.1h.7M322.9 209.1h.7M323.6 214.1h.7M292.9 214.8h.7M304.9 215.6h.7M307.4 209.7h.7M300.4 211.3h.7M321.3 209.9h.7M297.8 218.6h.7M328.1 214.1h.7M308.6 208.3h.7M299.6 213.7h.7M323.6 208.7h.7M313.0 211.1h.7M310.9 213.5h.7M330.1 210.0h.7M320.0 215.4h.7M310.7 211.5h.7M302.0 215.3h.7M308.7 210.0h.7M313.6 209.4h.7M304.5 211.1h.7M325.2 211.4h.7M317.3 207.5h.7M297.0 217.6h.7M309.7 207.3h.7M312.1 213.9h.7M298.8 209.3h.7M315.1 209.2h.7M319.5 215.0h.7M316.6 210.7h.7M312.6 210.0h.7M311.9 213.0h.7M310.5 215.0h.7M334.3 210.3h.7M315.8 214.5h.7M318.3 211.3h.7M309.1 215.1h.7M318.1 213.6h.7M306.4 214.0h.7M319.5 211.4h.7M318.3 218.7h.7M297.6 213.9h.7M303.4 207.8h.7M311.1 213.7h.7M313.4 208.4h.7M301.2 210.3h.7M313.1 209.4h.7M300.6 217.4h.7M306.1 211.5h.7M308.5 210.2h.7M313.3 211.1h.7M318.1 208.3h.7M300.8 218.0h.7M312.4 214.4h.7M322.7 213.7h.7M313.3 207.2h.7M299.8 215.0h.7M318.6 213.8h.7M299.3 205.4h.7M304.3 208.3h.7M314.3 208.8h.7M326.0 210.1h.7M308.4 214.7h.7M315.7 209.2h.7M319.8 218.0h.7M302.9 211.2h.7M304.1 206.0h.7M318.2 214.2h.7M321.0 213.3h.7M296.4 211.9h.7M307.5 208.3h.7M303.9 214.4h.7M310.6 218.1h.7M316.9 206.1h.7M320.4 215.9h.7M313.3 208.2h.7M327.6 207.9h.7M312.3 206.1h.7M302.6 206.7h.7M322.0 215.7h.7M309.6 207.8h.7M312.5 213.2h.7M300.4 208.4h.7M312.2 214.2h.7M313.6 213.4h.7M302.7 204.2h.7M315.6 209.1h.7M312.0 210.8h.7M317.0 209.6h.7M325.0 212.1h.7M317.4 214.0h.7M321.6 213.3h.7M298.5 210.0h.7M328.4 213.5h.7M317.7 213.5h.7M307.7 209.9h.7M307.6 215.6h.7M316.0 217.6h.7M317.1 217.9h.7M316.8 208.3h.7M327.5 213.1h.7M322.9 212.7h.7M310.3 212.5h.7M303.7 208.3h.7M305.6 210.4h.7M301.7 211.7h.7M315.5 218.4h.7M328.3 211.8h.7M320.4 211.3h.7M316.3 211.9h.7M308.5 212.2h.7M300.7 213.4h.7M310.6 208.6h.7M310.0 213.7h.7M307.3 213.5h.7M317.8 216.9h.7M303.9 211.7h.7M317.3 216.7h.7M315.2 214.4h.7M300.7 210.2h.7M326.9 211.1h.7M331.1 209.7h.7M310.7 207.0h.7M318.3 212.8h.7M329.9 212.5h.7M310.9 207.6h.7M312.3 215.0h.7M319.2 215.9h.7M320.3 211.9h.7M318.1 212.5h.7M301.8 217.4h.7M316.1 208.7h.7M316.2 212.9h.7M321.4 216.6h.7M287.5 213.8h.7M325.9 209.0h.7M297.4 212.9h.7M315.8 213.1h.7M303.7 210.5h.7M314.6 214.4h.7M331.4 212.9h.7M307.9 204.5h.7M322.0 211.6h.7M312.1 208.9h.7M319.2 206.3h.7M313.9 212.4h.7M315.5 216.1h.7M312.2 212.3h.7M320.2 207.1h.7M310.5 212.2h.7M321.1 209.5h.7M319.8 213.2h.7M300.5 207.3h.7M300.9 212.4h.7M314.7 214.3h.7M319.9 210.2h.7M322.0 214.6h.7M317.0 213.5h.7M302.1 213.1h.7M304.3 208.2h.7M310.0 212.4h.7M312.5 210.9h.7M304.6 212.6h.7M306.7 207.5h.7M313.8 216.6h.7M309.6 208.6h.7M324.7 217.4h.7M310.5 211.3h.7M314.8 221.4h.7M314.1 215.2h.7M316.8 206.2h.7M303.7 208.1h.7M316.7 212.3h.7M328.1 211.1h.7M315.6 212.2h.7M314.2 219.4h.7M315.4 216.7h.7M324.0 210.1h.7M318.8 210.8h.7M313.9 212.5h.7M313.2 210.5h.7M326.2 211.2h.7M319.0 217.4h.7M318.3 215.3h.7M324.8 215.5h.7M327.6 207.4h.7M329.6 212.1h.7M298.2 210.0h.7M301.2 211.9h.7M300.4 208.8h.7M315.5 212.5h.7M306.2 211.3h.7M312.2 212.2h.7M312.9 211.3h.7M320.5 206.9h.7M308.8 212.4h.7M309.6 210.2h.7M309.3 212.7h.7M323.6 211.4h.7M310.7 213.1h.7M310.9 205.8h.7M315.3 210.8h.7M308.1 214.0h.7M313.4 210.2h.7M294.5 206.5h.7M313.1 211.6h.7M316.7 212.7h.7M308.9 208.0h.7M303.7 211.6h.7M303.2 214.4h.7M301.7 206.3h.7M311.4 206.3h.7M326.8 208.8h.7M312.6 211.2h.7M306.0 206.3h.7M297.2 214.8h.7M321.7 218.9h.7M300.6 213.8h.7M312.9 214.7h.7M308.6 214.3h.7M320.6 213.9h.7M325.3 211.4h.7M326.1 209.8h.7M327.2 203.2h.7M313.1 209.4h.7M313.0 215.3h.7M319.1 212.3h.7M327.5 207.3h.7M306.1 216.8h.7M315.8 205.4h.7M315.9 208.2h.7M325.6 215.7h.7M308.4 216.1h.7M305.9 214.9h.7M317.9 211.6h.7M300.9 211.1h.7M293.5 210.2h.7M297.3 215.9h.7M304.8 204.2h.7M318.0 213.2h.7M308.7 218.8h.7M319.6 212.2h.7M307.5 202.5h.7M317.1 215.1h.7M308.0 207.5h.7M312.6 206.6h.7M313.1 214.5h.7M325.8 212.8h.7M314.7 214.4h.7M324.9 211.0h.7M302.6 209.5h.7M302.3 209.2h.7M312.0 213.1h.7M314.3 212.2h.7M310.0 213.4h.7M320.5 214.4h.7M325.7 211.1h.7M310.9 217.4h.7M314.7 213.3h.7M310.1 215.1h.7M309.6 208.8h.7M312.5 210.6h.7M320.1 210.8h.7M314.0 211.3h.7M315.9 210.0h.7M322.4 207.4h.7M309.7 209.7h.7M318.5 212.1h.7M317.1 210.9h.7M306.9 208.4h.7M310.2 210.3h.7M315.4 213.1h.7M321.3 211.7h.7M306.6 208.6h.7M313.5 213.2h.7M329.6 212.6h.7M327.9 218.0h.7M304.1 215.9h.7M322.7 216.3h.7M312.9 215.1h.7M308.9 211.8h.7M313.2 217.7h.7M311.2 215.1h.7M313.6 209.7h.7M315.1 214.1h.7M306.9 214.0h.7M306.9 209.2h.7M314.9 211.2h.7M304.6 206.8h.7M313.2 212.8h.7M309.1 212.6h.7M300.0 213.3h.7M316.5 212.9h.7M307.8 212.3h.7M314.1 215.4h.7M315.3 212.8h.7M306.8 214.8h.7M323.0 210.4h.7M318.4 213.0h.7M312.6 207.9h.7M327.9 206.0h.7M315.6 210.8h.7M322.7 210.6h.7M313.3 214.0h.7M316.9 210.3h.7M318.8 213.3h.7M321.4 210.4h.7M312.6 210.8h.7M305.9 212.8h.7M316.5 216.5h.7M310.2 213.2h.7M322.7 211.6h.7M313.5 212.4h.7M307.1 208.8h.7M322.5 212.6h.7M312.4 208.0h.7M314.0 215.7h.7M303.2 209.2h.7M322.4 216.6h.7M326.2 210.2h.7M318.1 209.6h.7M317.4 210.8h.7M314.7 216.3h.7M315.9 211.2h.7M313.5 212.8h.7M308.7 212.7h.7M318.1 217.0h.7M295.6 208.2h.7M302.5 214.8h.7M333.6 212.6h.7M314.0 215.6h.7M292.4 211.4h.7M286.7 212.5h.7M308.7 210.5h.7M315.9 210.1h.7M322.4 212.0h.7M316.2 220.1h.7M309.2 214.9h.7M306.0 216.0h.7M321.1 212.4h.7M321.4 217.1h.7M324.6 212.0h.7M312.5 215.5h.7M300.6 210.1h.7M317.1 213.8h.7M328.7 217.6h.7M315.7 213.4h.7M301.9 211.4h.7M315.2 211.3h.7M313.5 213.9h.7M305.0 210.2h.7M298.0 215.6h.7M304.1 206.6h.7M319.5 211.3h.7M321.1 210.8h.7M330.9 214.3h.7M314.3 212.4h.7M311.3 214.6h.7M329.8 210.7h.7M303.9 213.9h.7M322.0 207.3h.7M307.2 208.8h.7M317.7 213.6h.7M306.8 208.4h.7M318.7 205.5h.7M318.4 211.5h.7M329.1 215.1h.7M308.1 211.1h.7M310.7 209.7h.7M313.7 215.0h.7M300.4 211.3h.7M325.5 214.3h.7M306.2 209.5h.7M305.8 206.9h.7M322.6 212.2h.7M307.2 207.5h.7M309.8 210.4h.7M327.4 210.6h.7M314.0 215.4h.7M318.6 211.4h.7M294.7 216.4h.7M318.0 210.6h.7M312.3 209.0h.7M305.5 207.3h.7M317.2 213.6h.7M314.5 214.5h.7M317.5 212.4h.7M305.6 213.9h.7M322.9 214.0h.7M323.4 210.5h.7M304.8 215.9h.7M308.1 212.8h.7M311.4 212.1h.7M310.7 210.3h.7M298.1 218.0h.7M314.7 206.0h.7M305.4 208.5h.7M306.8 204.0h.7M317.8 217.1h.7M310.9 214.3h.7M318.0 208.1h.7M323.2 206.7h.7M308.2 210.9h.7M323.5 212.4h.7M312.0 209.5h.7M313.8 212.1h.7M319.1 216.4h.7M319.1 212.1h.7M311.7 217.0h.7M314.7 211.9h.7M328.0 216.9h.7M317.7 211.7h.7M307.7 215.3h.7M309.2 215.0h.7M306.5 212.3h.7M316.3 212.5h.7M314.9 213.2h.7M303.7 208.5h.7M311.8 217.6h.7M312.0 209.1h.7M307.5 212.1h.7M322.8 210.2h.7M317.7 212.6h.7M310.0 209.0h.7M311.7 209.7h.7M317.5 206.5h.7M322.4 214.4h.7M317.8 216.7h.7M318.0 206.7h.7M313.4 213.4h.7M307.3 208.5h.7M316.6 213.6h.7M309.5 211.2h.7M308.8 210.2h.7M312.5 215.4h.7M299.6 210.9h.7M326.4 213.0h.7M314.3 214.6h.7M304.7 208.2h.7M299.2 207.4h.7M315.1 214.7h.7M309.5 209.9h.7M316.3 213.9h.7M315.1 206.1h.7M308.5 204.1h.7M315.0 209.4h.7M307.6 216.7h.7M323.9 213.5h.7M315.3 212.5h.7M308.2 211.8h.7M328.8 209.3h.7M307.5 212.5h.7M320.4 214.6h.7M305.0 211.6h.7M310.8 208.2h.7M313.6 210.5h.7M320.6 213.3h.7M306.5 212.3h.7M310.1 210.0h.7M309.0 215.3h.7M309.6 206.7h.7M306.6 214.5h.7M330.8 208.7h.7M310.1 211.0h.7M301.4 213.3h.7M312.6 212.9h.7M331.5 211.2h.7M319.6 214.6h.7M307.7 210.2h.7M325.9 214.2h.7M314.2 208.6h.7M320.3 213.6h.7M331.2 216.6h.7M319.6 212.8h.7M313.5 210.3h.7M315.6 212.8h.7M318.4 215.4h.7M315.6 210.3h.7M319.7 216.8h.7M306.1 213.3h.7M317.5 213.7h.7M317.2 211.7h.7M312.2 217.2h.7M327.3 207.6h.7M292.0 213.4h.7M307.4 210.4h.7M299.8 213.1h.7M312.6 210.3h.7M320.4 219.6h.7M325.2 215.7h.7M309.6 214.0h.7M312.7 215.6h.7M317.8 211.9h.7M317.6 209.8h.7M319.5 216.7h.7M310.0 213.7h.7M299.2 214.9h.7M320.3 208.8h.7M327.4 212.4h.7M298.7 207.7h.7M320.2 211.2h.7M322.1 207.2h.7M312.2 215.0h.7M307.4 214.1h.7M310.0 213.1h.7M315.7 218.9h.7M302.8 214.4h.7M323.8 208.5h.7M313.7 219.2h.7M321.7 202.8h.7M311.0 206.7h.7M315.5 209.7h.7M308.4 209.4h.7M315.4 210.6h.7M305.5 211.3h.7M316.4 209.3h.7M322.2 206.8h.7M316.4 210.8h.7M326.0 210.0h.7M307.5 207.8h.7M329.4 213.9h.7M304.0 211.0h.7M305.1 216.7h.7M316.5 205.7h.7M314.7 214.8h.7M313.0 213.5h.7M312.1 212.6h.7M314.8 209.8h.7M315.9 212.5h.7M312.7 209.9h.7M304.6 212.8h.7M319.8 204.5h.7M308.6 216.2h.7M320.6 209.8h.7M324.2 208.9h.7M306.5 218.0h.7M309.4 211.3h.7M299.4 208.9h.7M303.3 211.6h.7M297.8 215.3h.7M310.1 210.1h.7M307.8 214.3h.7M325.7 210.7h.7M326.3 217.0h.7M324.1 212.9h.7M300.7 214.1h.7M309.6 212.6h.7M297.4 211.1h.7M314.9 209.1h.7M315.4 217.2h.7M314.9 209.9h.7M332.7 205.3h.7M305.4 213.3h.7M308.1 204.9h.7M315.2 214.6h.7M306.4 216.6h.7M317.1 215.7h.7M300.4 212.0h.7M326.2 218.3h.7M323.9 212.0h.7M314.5 210.0h.7M322.1 209.8h.7M314.0 205.6h.7M300.5 217.5h.7M313.5 212.7h.7M294.8 211.9h.7M330.2 207.3h.7M293.3 211.5h.7M308.6 211.3h.7M302.6 207.8h.7M302.8 214.0h.7M312.6 214.6h.7M304.1 213.8h.7M309.3 212.3h.7M320.7 212.1h.7M310.1 206.8h.7M313.5 214.5h.7M307.7 211.8h.7M298.3 207.8h.7M316.4 216.1h.7M310.4 206.8h.7M309.8 207.1h.7M310.7 218.0h.7M315.5 211.5h.7M321.6 210.8h.7M315.8 212.6h.7M316.7 207.4h.7M318.9 214.8h.7M294.0 203.5h.7M305.5 216.7h.7M313.2 214.1h.7M317.6 214.8h.7M307.7 210.2h.7M316.1 213.9h.7M317.8 213.1h.7M309.0 215.5h.7M316.9 215.3h.7M291.8 215.2h.7M292.6 212.7h.7M307.4 212.4h.7M309.0 211.0h.7M314.6 213.1h.7M306.3 204.0h.7M306.5 213.7h.7M305.9 213.4h.7M309.9 209.0h.7M322.8 217.2h.7M312.1 211.8h.7M321.0 207.8h.7M305.7 215.6h.7M320.6 210.4h.7M306.5 213.1h.7M301.2 210.4h.7M311.1 204.2h.7M318.0 214.4h.7M322.0 207.5h.7M302.2 209.4h.7M302.0 218.5h.7M304.8 211.0h.7M314.7 213.4h.7M325.2 208.6h.7M320.4 212.5h.7M303.1 212.5h.7M301.2 217.1h.7M306.9 215.2h.7M324.0 210.0h.7M305.4 212.4h.7M304.2 214.9h.7M314.5 209.6h.7M307.2 214.3h.7M300.8 217.4h.7M306.4 211.4h.7M305.2 217.2h.7M320.0 216.1h.7M318.5 212.3h.7M327.3 214.1h.7M316.7 213.8h.7M319.2 212.9h.7M311.6 206.9h.7M330.4 207.9h.7M294.8 209.7h.7M329.4 215.9h.7M307.9 212.8h.7M312.8 205.7h.7M310.2 212.9h.7M322.9 208.2h.7M293.9 207.0h.7M315.8 212.3h.7M314.3 212.5h.7M309.9 207.6h.7M316.8 213.2h.7M317.9 216.0h.7M302.5 204.5h.7M297.9 218.8h.7M305.2 213.3h.7M312.9 214.3h.7M340.3 210.3h.7M311.6 210.1h.7M315.1 213.7h.7M304.8 216.2h.7M322.7 213.4h.7M312.1 211.2h.7M299.0 214.1h.7M304.7 210.4h.7M321.5 209.1h.7M308.6 214.7h.7M328.8 209.8h.7M322.4 209.9h.7M316.3 213.5h.7M303.3 215.3h.7M328.3 212.2h.7M315.3 208.2h.7M328.2 212.2h.7M302.2 214.4h.7M300.6 209.8h.7M294.9 216.4h.7M331.8 210.0h.7M307.4 210.2h.7M308.2 213.8h.7M325.4 208.8h.7M316.7 206.2h.7M326.0 211.7h.7M307.0 216.9h.7M312.1 216.4h.7M322.1 217.3h.7M306.2 212.2h.7M316.1 211.4h.7M325.9 209.7h.7M321.5 216.4h.7M296.4 208.9h.7M305.3 210.3h.7M316.3 211.4h.7M313.7 210.5h.7M312.3 213.6h.7M319.3 209.5h.7M312.0 209.6h.7M311.5 207.4h.7M321.1 214.1h.7M312.0 209.8h.7M309.1 209.9h.7M299.9 217.2h.7M341.0 208.1h.7M303.1 213.9h.7M318.1 207.0h.7M296.7 213.7h.7M296.1 216.6h.7M308.8 212.3h.7M313.0 210.2h.7M311.8 211.0h.7M323.6 211.7h.7M312.7 210.3h.7M307.6 209.6h.7M313.1 217.9h.7M322.5 212.8h.7M327.2 215.2h.7M314.8 211.5h.7M303.7 212.8h.7M310.3 206.9h.7M302.1 218.2h.7M314.8 213.6h.7M314.7 210.5h.7M316.9 215.5h.7M310.4 213.6h.7M321.7 210.5h.7M314.4 209.6h.7M318.1 210.8h.7M322.7 209.6h.7M327.4 211.0h.7M305.9 209.1h.7M318.6 209.3h.7M328.3 216.1h.7M317.4 207.4h.7M312.8 209.7h.7M297.6 213.4h.7M331.7 210.3h.7M319.9 216.1h.7M304.8 210.9h.7M315.3 213.5h.7M303.3 212.7h.7M312.1 215.0h.7M299.4 210.2h.7M308.7 211.0h.7M319.1 210.0h.7M336.3 209.7h.7M320.1 215.3h.7M321.2 211.3h.7M305.9 211.2h.7M318.7 212.4h.7M317.9 213.8h.7M305.5 209.0h.7M325.3 210.4h.7M299.5 217.9h.7M305.9 209.0h.7M321.2 208.4h.7M305.6 215.4h.7M306.0 220.0h.7M313.8 220.6h.7M314.1 212.2h.7M307.5 211.3h.7M308.7 211.9h.7M319.6 207.9h.7M305.2 205.3h.7M325.8 211.8h.7M312.9 211.8h.7M321.5 213.0h.7M320.2 211.5h.7M312.0 211.8h.7M297.2 215.5h.7M299.6 208.8h.7M318.7 212.2h.7M319.9 217.5h.7M328.8 216.4h.7M311.1 218.6h.7M305.5 211.7h.7M321.5 211.3h.7M312.0 210.9h.7M324.6 204.1h.7M323.8 215.4h.7M312.4 213.8h.7M304.8 215.5h.7M339.0 209.1h.7M324.9 211.8h.7M310.1 210.4h.7M311.4 208.0h.7M301.5 217.3h.7M312.9 213.8h.7M315.6 213.5h.7M300.0 209.0h.7M318.4 215.2h.7M303.3 210.2h.7M303.9 214.1h.7M315.9 212.1h.7M307.5 213.1h.7M313.3 209.6h.7M315.8 209.9h.7M321.1 214.0h.7M307.2 213.9h.7M313.6 209.7h.7M305.2 206.7h.7M303.4 213.1h.7M323.3 210.0h.7M314.4 213.1h.7M319.6 213.4h.7M323.4 214.5h.7M306.5 213.3h.7M293.1 211.4h.7M313.2 213.9h.7M310.4 214.7h.7M324.2 209.3h.7M308.4 212.8h.7M317.2 212.5h.7M320.1 208.2h.7M319.6 215.7h.7M322.4 213.4h.7M311.0 213.3h.7M312.4 206.9h.7M307.9 211.9h.7M308.6 209.0h.7M311.0 210.8h.7M313.6 211.8h.7M314.5 215.2h.7M314.2 213.3h.7M302.6 202.6h.7M309.6 214.2h.7M310.1 210.0h.7M302.5 214.9h.7M308.5 212.8h.7M322.6 213.7h.7M332.1 211.6h.7M321.1 214.2h.7M307.4 212.2h.7M308.2 208.7h.7M315.5 209.5h.7M327.3 209.6h.7M308.4 212.3h.7M308.6 212.2h.7M307.8 207.4h.7M292.5 207.9h.7M325.9 213.4h.7M314.3 210.5h.7M311.8 213.0h.7M301.2 209.4h.7M305.4 216.0h.7M304.0 215.8h.7M309.0 220.7h.7M312.3 212.1h.7M324.5 214.8h.7M321.0 208.6h.7M322.7 217.4h.7M312.1 210.5h.7M303.7 215.3h.7M315.5 212.0h.7M302.5 217.2h.7M320.4 211.9h.7M325.5 209.0h.7M320.5 208.8h.7M325.0 211.1h.7M323.4 210.7h.7M316.4 215.7h.7M305.3 212.3h.7M305.9 214.7h.7M307.9 210.8h.7M311.3 215.7h.7M304.1 211.9h.7M310.2 210.2h.7M306.3 211.5h.7M314.7 207.0h.7M315.0 208.2h.7M313.1 219.3h.7M304.8 211.8h.7M310.8 215.1h.7M309.0 206.3h.7M299.3 212.6h.7M315.2 215.4h.7M308.4 214.1h.7M304.0 216.1h.7M312.4 209.8h.7M314.5 217.6h.7M305.8 208.0h.7M304.4 208.3h.7M312.6 213.1h.7M311.6 212.6h.7M323.1 211.1h.7M302.4 204.7h.7M315.1 209.8h.7M310.9 213.3h.7M316.9 207.0h.7M304.9 212.2h.7M311.8 215.7h.7M308.7 205.4h.7M322.9 206.8h.7M304.8 213.2h.7M304.0 220.0h.7M315.0 213.7h.7M309.3 219.1h.7M317.6 209.7h.7M323.7 206.6h.7M308.0 212.9h.7M314.2 208.9h.7M326.4 216.7h.7M305.1 213.2h.7M307.6 210.6h.7M321.4 212.4h.7M312.1 212.3h.7M303.0 215.9h.7M306.6 216.2h.7M309.1 210.5h.7M325.6 212.6h.7M307.6 210.3h.7M318.1 218.0h.7M318.2 210.7h.7M303.5 209.8h.7M312.0 212.8h.7M307.4 216.1h.7M304.9 209.7h.7M317.2 213.5h.7M309.7 215.1h.7M301.0 217.2h.7M331.6 218.2h.7M314.0 218.3h.7M313.5 216.3h.7M311.3 212.6h.7M317.5 206.4h.7M311.2 217.5h.7M288.2 213.2h.7M320.8 213.0h.7M314.7 216.4h.7M315.9 205.9h.7M305.0 211.1h.7M314.2 210.6h.7M312.1 217.3h.7M288.1 215.7h.7M321.0 213.9h.7M313.1 212.2h.7M316.1 212.8h.7M306.9 214.5h.7M306.0 211.9h.7M310.0 208.3h.7M318.1 211.8h.7M303.1 211.8h.7M301.3 216.6h.7M317.4 218.3h.7M308.2 214.3h.7M304.8 209.3h.7M312.2 213.3h.7M320.8 211.1h.7M322.4 215.1h.7M305.6 211.4h.7M305.2 217.4h.7M308.3 214.8h.7M320.7 211.2h.7M308.9 213.1h.7M306.4 208.0h.7M304.8 213.1h.7M314.6 217.6h.7M297.5 213.6h.7M303.2 215.7h.7M318.9 212.4h.7M325.5 210.8h.7M308.5 208.6h.7M307.4 212.4h.7M318.7 216.1h.7M310.7 209.7h.7M310.2 210.6h.7M309.0 210.7h.7M305.6 211.8h.7M308.7 211.5h.7M301.3 212.5h.7M317.8 214.1h.7M308.4 208.4h.7M302.0 208.3h.7M307.6 211.0h.7M298.0 214.1h.7M300.0 209.8h.7M306.9 214.6h.7M328.5 210.9h.7M310.7 210.8h.7M311.3 211.5h.7M333.8 208.5h.7M312.1 209.5h.7M316.0 210.4h.7M317.8 208.6h.7M330.8 212.7h.7M298.1 214.2h.7M309.0 208.3h.7M316.7 210.4h.7M319.2 210.3h.7M320.6 212.5h.7M316.0 212.5h.7M309.9 210.9h.7M316.8 214.2h.7M309.6 219.1h.7M327.2 208.4h.7M322.1 211.8h.7M315.0 209.5h.7M326.9 209.4h.7M312.3 209.7h.7M329.2 216.0h.7M301.9 210.6h.7M316.1 210.6h.7M310.0 208.6h.7M315.1 208.6h.7M320.0 219.6h.7M310.3 217.2h.7M316.1 209.9h.7M310.1 209.0h.7M314.0 214.2h.7M320.8 211.1h.7M303.0 211.8h.7M327.0 212.9h.7M312.5 205.5h.7M309.4 213.7h.7M305.1 216.3h.7M308.3 209.3h.7M308.1 211.7h.7M321.4 210.2h.7M298.1 211.8h.7M317.4 216.9h.7M303.6 216.7h.7M318.7 213.4h.7M306.6 209.2h.7M305.0 214.9h.7M314.8 215.4h.7M328.2 212.1h.7M312.6 218.0h.7M302.1 210.6h.7M309.9 210.8h.7M314.2 209.4h.7M322.7 207.7h.7M306.2 206.7h.7M301.3 213.9h.7M318.3 211.4h.7M320.1 214.0h.7M308.2 211.9h.7M316.1 218.3h.7M309.3 213.2h.7M317.6 215.8h.7M316.6 215.4h.7M304.1 211.2h.7M296.8 211.9h.7M332.5 212.8h.7M313.7 212.8h.7M314.2 207.9h.7M307.2 211.5h.7M314.4 209.3h.7M312.1 209.7h.7M302.0 210.0h.7M306.3 214.6h.7M324.2 213.8h.7M311.2 210.3h.7M299.9 210.4h.7M326.1 215.6h.7M314.9 211.3h.7M313.0 213.3h.7M312.9 213.4h.7M306.6 212.2h.7M310.1 215.4h.7M302.6 216.1h.7M312.3 210.4h.7M313.2 212.4h.7M311.1 213.3h.7M308.2 206.7h.7M318.8 211.9h.7M326.9 213.2h.7M296.3 215.9h.7M307.3 213.7h.7M331.5 215.4h.7M303.9 211.7h.7M299.6 214.1h.7M317.7 208.8h.7M316.8 214.9h.7M319.7 209.9h.7M307.2 208.5h.7M302.2 213.0h.7M313.3 216.1h.7M315.3 211.0h.7M301.1 216.8h.7M314.4 211.9h.7M304.6 208.8h.7M318.3 209.0h.7M317.9 214.0h.7M309.8 207.0h.7M316.4 216.4h.7M306.1 208.1h.7M322.1 212.5h.7M307.8 215.8h.7M310.7 213.4h.7M309.6 209.7h.7M314.8 209.4h.7M298.2 210.3h.7M323.3 215.4h.7M331.1 215.1h.7M326.5 212.8h.7M309.4 213.5h.7M305.1 214.3h.7M309.3 212.8h.7M305.9 211.6h.7M321.2 211.4h.7M307.4 212.9h.7M320.3 211.5h.7M303.3 207.2h.7M301.8 215.3h.7M312.3 213.5h.7M322.0 212.9h.7M317.0 210.5h.7M299.6 214.0h.7M312.2 213.8h.7M304.1 211.6h.7M329.8 209.4h.7M313.8 216.1h.7M311.1 212.4h.7M295.2 214.4h.7M309.3 216.0h.7M312.2 210.9h.7M316.6 211.3h.7M308.7 216.8h.7M321.2 212.4h.7M319.7 214.6h.7M317.8 212.2h.7M313.6 213.3h.7M317.7 213.1h.7M308.4 211.8h.7M316.8 209.0h.7M312.9 214.4h.7M314.4 211.2h.7M312.8 210.6h.7M321.2 210.9h.7M299.1 208.3h.7M315.5 212.7h.7M309.1 208.0h.7M311.8 209.5h.7M307.5 212.0h.7M306.6 213.0h.7M306.8 210.6h.7M311.1 216.5h.7M326.1 214.9h.7M306.9 212.1h.7M320.6 214.5h.7M299.5 211.9h.7M306.8 214.3h.7M318.3 210.4h.7M330.8 211.2h.7M333.3 211.5h.7M312.3 217.9h.7M308.6 210.6h.7M325.3 211.9h.7M317.0 208.2h.7M327.9 215.1h.7M316.0 214.2h.7M308.8 210.6h.7M299.9 213.2h.7M323.3 214.7h.7M320.7 214.2h.7M305.3 208.1h.7M318.3 212.6h.7M321.2 211.2h.7M305.7 213.4h.7M308.4 207.0h.7M307.9 209.4h.7M303.7 210.4h.7M320.9 219.2h.7M327.4 210.8h.7M322.5 211.8h.7M316.3 210.0h.7M312.4 206.9h.7M327.9 209.7h.7M317.9 210.3h.7M315.2 208.5h.7M309.9 214.8h.7M317.9 206.1h.7M320.1 208.1h.7M315.4 213.6h.7M307.7 211.1h.7M311.0 213.3h.7M320.6 216.2h.7M315.7 218.1h.7M305.1 217.5h.7M310.8 214.4h.7M312.0 212.3h.7M305.4 213.2h.7M329.8 212.5h.7M312.8 212.1h.7M318.9 211.4h.7M313.0 212.7h.7M323.8 214.9h.7M304.2 210.1h.7M313.2 214.6h.7M321.1 211.4h.7M330.7 211.6h.7M324.7 216.4h.7M326.3 212.7h.7M317.8 207.4h.7M298.2 210.2h.7M319.0 215.3h.7M312.1 215.2h.7M317.8 216.7h.7M299.8 209.5h.7M305.0 208.9h.7M326.7 209.2h.7M306.1 210.8h.7M320.4 210.7h.7M319.1 213.7h.7M307.7 204.9h.7M305.4 208.3h.7M326.6 209.9h.7M304.1 213.2h.7M313.5 209.2h.7M322.1 214.8h.7M315.3 209.7h.7M305.7 205.8h.7M316.2 213.2h.7M305.3 212.1h.7M340.3 208.6h.7M298.8 213.9h.7M309.5 210.5h.7M318.2 211.7h.7M321.3 213.6h.7M322.7 212.4h.7M295.0 216.2h.7M298.8 215.2h.7M315.1 207.8h.7M313.6 214.7h.7M304.5 212.2h.7M306.8 209.0h.7M307.9 215.9h.7M318.7 212.0h.7M312.3 212.4h.7M315.4 212.6h.7M298.7 214.8h.7M305.9 204.1h.7M318.9 208.4h.7M311.8 211.8h.7M308.1 213.7h.7M310.7 211.2h.7M305.0 211.2h.7M304.4 212.2h.7M324.0 215.1h.7M316.6 207.9h.7M321.6 214.9h.7M330.2 205.2h.7M313.1 211.0h.7M322.1 208.7h.7M309.8 219.1h.7M321.3 206.0h.7M313.2 216.2h.7M307.8 213.8h.7M313.8 207.6h.7M307.8 215.5h.7M322.9 210.2h.7M322.4 209.9h.7M315.1 212.0h.7M302.6 213.0h.7M309.8 203.7h.7M306.1 209.4h.7M306.0 209.0h.7M307.2 204.6h.7M320.4 212.2h.7M315.1 211.2h.7M313.5 211.2h.7M303.9 207.4h.7M313.6 215.1h.7M315.0 216.9h.7M301.6 211.2h.7M307.8 215.8h.7M327.2 210.4h.7M319.1 211.3h.7M304.7 211.7h.7M304.3 216.8h.7M317.9 215.6h.7M316.0 204.6h.7M319.7 212.3h.7M293.1 212.3h.7M321.5 217.2h.7M304.4 214.4h.7M315.8 211.5h.7M310.6 213.6h.7M317.8 214.0h.7M309.6 208.0h.7M324.0 216.0h.7M308.3 211.9h.7M319.8 206.6h.7M317.2 219.4h.7M315.3 209.9h.7M330.1 212.0h.7M314.8 210.7h.7M314.5 206.5h.7M302.3 207.5h.7M320.5 211.7h.7M322.6 205.8h.7M308.0 216.5h.7M306.4 206.3h.7M306.8 211.0h.7M312.9 216.0h.7M324.1 216.8h.7M317.9 210.5h.7M308.9 207.5h.7M323.6 215.8h.7M313.7 209.3h.7M318.6 213.5h.7M314.3 208.4h.7M315.0 210.3h.7M319.2 213.8h.7M316.7 210.7h.7M325.7 214.4h.7M323.6 214.6h.7M318.5 213.2h.7M304.1 206.4h.7M305.2 213.9h.7M320.6 212.6h.7M313.7 217.6h.7M309.7 206.5h.7M300.1 211.0h.7M318.8 214.3h.7M311.2 214.5h.7M312.6 209.8h.7M309.8 214.3h.7M321.0 208.6h.7M304.8 212.4h.7M330.7 208.4h.7M302.6 213.3h.7M317.2 210.1h.7M312.8 213.5h.7M298.5 211.9h.7M318.0 214.8h.7M322.7 211.8h.7M301.0 216.1h.7M319.4 210.1h.7M321.6 215.2h.7M311.8 204.8h.7M309.1 209.7h.7M306.0 211.8h.7M304.0 213.2h.7M328.7 208.4h.7M321.7 210.4h.7M317.5 211.6h.7M323.7 209.8h.7M319.1 209.6h.7M314.9 212.0h.7M322.1 207.2h.7M301.8 216.3h.7M316.2 217.2h.7M304.4 212.6h.7M318.0 217.4h.7M312.6 210.6h.7M319.0 211.7h.7M306.8 214.3h.7M297.2 208.9h.7M324.3 210.5h.7M310.3 213.1h.7M322.3 213.6h.7M305.0 210.3h.7M321.7 211.6h.7M307.8 214.7h.7M322.5 218.7h.7M304.1 209.8h.7M307.2 213.1h.7M309.0 215.4h.7M290.7 215.0h.7M307.7 211.2h.7M317.7 212.6h.7M304.6 216.6h.7M317.8 210.5h.7M314.7 208.6h.7M302.8 211.1h.7M316.0 212.3h.7M306.6 207.8h.7M299.1 216.9h.7M316.1 209.5h.7M322.9 213.7h.7M309.6 210.1h.7M322.5 213.0h.7M326.6 213.1h.7M308.2 210.2h.7M307.2 212.8h.7M315.1 213.9h.7M316.7 208.8h.7M311.3 209.1h.7M317.0 208.0h.7M308.2 209.4h.7M307.9 211.2h.7M325.5 211.2h.7M301.1 211.1h.7M319.2 213.7h.7M315.0 218.1h.7M322.2 212.3h.7M323.1 207.9h.7M311.6 209.3h.7M314.5 217.0h.7M308.9 216.9h.7M304.6 216.4h.7M299.0 209.4h.7M321.3 211.7h.7M314.2 212.0h.7M314.5 211.5h.7M304.9 211.1h.7M313.9 209.2h.7M316.9 217.4h.7M299.4 210.3h.7M310.7 212.1h.7M313.8 209.8h.7M312.7 212.0h.7M312.3 216.7h.7M314.1 207.5h.7M300.1 213.8h.7M310.2 210.1h.7M301.8 211.1h.7M312.2 209.9h.7M310.1 214.7h.7M319.5 213.7h.7M311.6 207.8h.7M319.4 216.6h.7M323.5 215.6h.7M315.3 213.2h.7M312.9 215.8h.7M310.8 218.6h.7M319.4 211.0h.7M313.0 207.1h.7M307.0 211.1h.7M333.2 209.5h.7M320.6 212.2h.7M310.6 213.9h.7M296.5 214.9h.7M329.0 212.9h.7M312.5 212.5h.7M318.5 210.5h.7M314.0 213.5h.7M310.1 213.2h.7M315.8 214.2h.7M304.9 210.4h.7M309.5 215.7h.7M315.1 206.9h.7M302.5 218.0h.7M315.8 208.0h.7M305.5 212.4h.7M324.8 217.0h.7M310.0 211.1h.7M328.8 209.0h.7M325.9 213.0h.7M313.8 216.0h.7M317.0 209.4h.7M300.4 212.0h.7M317.2 216.2h.7M291.4 216.1h.7M318.1 216.7h.7M319.6 212.7h.7M316.6 213.2h.7M307.8 211.7h.7M314.1 210.6h.7M300.9 207.6h.7M317.2 213.6h.7M313.9 208.4h.7M320.0 210.8h.7M295.9 216.8h.7M300.7 218.9h.7M317.4 210.6h.7M293.6 209.8h.7M325.2 216.2h.7M315.1 206.7h.7M309.9 211.1h.7M316.8 211.6h.7M315.9 207.0h.7M307.7 216.4h.7M301.0 214.8h.7M332.1 214.0h.7M301.5 215.8h.7M297.7 213.0h.7M309.6 215.8h.7M322.7 212.6h.7M327.8 215.0h.7M309.1 209.0h.7M333.3 210.8h.7M316.4 211.6h.7M309.1 207.1h.7M311.8 211.6h.7M321.1 210.4h.7M300.1 208.7h.7M312.7 212.8h.7M319.0 210.8h.7M317.5 212.4h.7M326.9 211.8h.7M314.2 213.7h.7M323.1 209.2h.7M309.1 211.2h.7M295.4 216.0h.7M321.9 212.1h.7M340.8 215.9h.7M329.7 216.8h.7M320.5 207.6h.7M325.6 213.3h.7M303.1 212.2h.7M319.2 215.0h.7M314.4 210.4h.7M319.3 209.7h.7M312.4 214.4h.7M301.1 213.2h.7M296.8 209.1h.7M302.8 211.7h.7M318.9 211.8h.7M320.5 212.3h.7M311.3 213.5h.7M311.0 212.4h.7M321.6 210.2h.7M322.5 208.6h.7M311.2 206.6h.7M308.6 216.9h.7M315.9 215.9h.7M300.9 208.9h.7M316.9 214.6h.7M319.9 206.8h.7M317.2 211.8h.7M314.0 213.5h.7M310.7 206.8h.7M304.2 207.5h.7M302.1 211.6h.7M323.8 209.8h.7M306.7 208.5h.7M298.7 212.2h.7M309.0 211.3h.7M305.1 213.5h.7M303.1 213.7h.7M307.5 214.4h.7M305.7 213.4h.7M316.6 211.8h.7M326.5 212.5h.7M305.7 214.1h.7M306.2 210.3h.7M313.1 212.6h.7M327.1 206.6h.7M310.9 215.5h.7M311.7 213.0h.7M325.6 208.2h.7M313.4 214.5h.7M308.1 206.6h.7M304.7 212.6h.7M314.6 217.7h.7M324.0 207.2h.7M321.6 214.8h.7M326.4 211.5h.7M308.4 212.5h.7M325.8 213.9h.7M327.1 214.4h.7M308.1 208.9h.7M328.3 207.3h.7M310.1 211.0h.7M305.5 210.2h.7M313.1 219.4h.7M312.5 210.4h.7M314.0 214.9h.7M306.2 210.7h.7M298.5 214.2h.7M318.6 216.6h.7M303.1 218.7h.7M320.2 211.1h.7M309.8 211.0h.7M303.0 214.4h.7M308.0 209.8h.7M317.3 212.3h.7M308.2 211.3h.7M308.9 216.2h.7M321.3 209.8h.7M312.7 216.2h.7M310.6 217.5h.7M316.7 214.1h.7M295.8 214.6h.7M315.8 213.8h.7M317.0 213.6h.7M308.8 214.8h.7M313.5 208.8h.7M304.6 212.5h.7M315.8 205.2h.7M295.9 215.3h.7M312.9 220.8h.7M300.3 211.2h.7M308.0 213.7h.7M324.7 217.0h.7M304.6 215.8h.7M302.9 213.0h.7M314.4 213.9h.7M306.4 216.1h.7M312.4 211.9h.7M310.8 208.7h.7M319.0 213.0h.7M316.8 217.8h.7M305.8 211.1h.7M313.1 214.7h.7M311.5 214.9h.7M316.8 206.5h.7M293.6 216.7h.7M282.4 222.9h.7M282.3 217.8h.7M290.0 215.8h.7M299.0 210.8h.7M281.5 223.5h.7M298.3 216.0h.7M286.1 220.2h.7M283.1 223.9h.7M297.5 208.5h.7M284.7 220.5h.7M301.6 214.4h.7M286.7 220.9h.7M298.7 212.4h.7M290.1 214.4h.7M282.9 221.7h.7M283.5 222.3h.7M286.4 215.3h.7M297.1 212.0h.7M297.1 215.3h.7M280.4 219.2h.7M282.7 222.3h.7M294.7 218.2h.7M294.7 213.2h.7M292.1 215.7h.7M282.4 221.2h.7M285.0 217.1h.7M286.7 219.0h.7M286.6 222.1h.7M297.5 211.7h.7M294.3 213.0h.7M286.2 223.8h.7M284.7 218.8h.7M295.6 214.8h.7M281.4 221.0h.7M286.1 219.2h.7M294.1 210.1h.7M285.7 219.6h.7M294.4 215.6h.7M291.7 212.9h.7M293.1 212.5h.7M284.8 221.7h.7M285.6 221.2h.7M301.7 215.6h.7M287.8 215.2h.7M286.4 218.2h.7M298.8 213.3h.7M290.2 212.6h.7M293.1 215.8h.7M281.7 224.0h.7M280.8 219.2h.7M280.4 218.5h.7M293.4 213.2h.7M285.7 222.7h.7M292.9 215.4h.7M288.2 217.9h.7M296.0 211.2h.7M289.7 217.1h.7M301.9 216.3h.7M291.1 211.4h.7M282.4 221.4h.7M294.4 210.4h.7M292.5 216.9h.7M280.4 221.0h.7M283.9 220.1h.7M298.0 213.1h.7M287.9 218.5h.7M287.8 223.2h.7M293.6 215.0h.7M281.9 221.8h.7M288.9 221.7h.7M299.6 212.3h.7M280.8 222.8h.7M289.6 217.5h.7M288.9 215.6h.7M292.2 212.8h.7M287.4 217.0h.7M283.0 222.2h.7M296.4 213.4h.7M283.5 222.1h.7M299.8 211.5h.7M285.7 219.0h.7M281.7 222.3h.7M297.7 211.9h.7M283.6 223.1h.7M297.5 216.1h.7M296.3 219.1h.7M281.1 220.2h.7M290.1 218.5h.7M281.1 223.5h.7M289.7 216.2h.7M300.5 215.7h.7M284.0 220.7h.7M287.6 219.8h.7M285.3 218.2h.7M292.7 214.4h.7M300.3 215.5h.7M286.1 220.2h.7M299.8 211.2h.7M297.6 218.2h.7M289.9 217.8h.7M298.4 210.0h.7M295.3 211.5h.7M298.3 215.6h.7M282.7 222.7h.7M282.3 220.2h.7M287.7 219.4h.7M294.2 216.4h.7M296.1 215.5h.7M284.1 223.8h.7M290.7 216.4h.7M288.2 219.6h.7M299.9 211.7h.7M293.8 216.6h.7M288.3 220.0h.7M284.6 219.2h.7M286.0 218.1h.7M295.6 214.5h.7M289.4 212.7h.7M280.7 221.2h.7M287.6 221.5h.7M293.1 212.4h.7M291.4 213.5h.7M282.0 219.8h.7M299.1 215.2h.7M286.4 221.1h.7M294.8 215.7h.7M298.4 207.8h.7M285.3 215.8h.7M283.2 220.3h.7M281.5 222.5h.7M291.1 210.6h.7M292.7 216.4h.7M280.7 222.4h.7M288.5 216.4h.7M294.6 209.4h.7M284.5 217.6h.7M284.1 220.5h.7M284.3 220.6h.7M289.7 219.3h.7M290.9 216.5h.7M294.1 212.8h.7M285.1 215.0h.7M299.4 214.7h.7M293.3 215.7h.7M294.4 211.4h.7M286.2 221.0h.7M290.4 219.1h.7M297.7 212.4h.7M288.9 221.4h.7M295.0 213.6h.7M282.3 222.6h.7M296.3 213.8h.7M283.7 221.1h.7M286.2 218.2h.7M292.1 219.8h.7M298.7 212.9h.7M294.8 215.3h.7M285.9 220.2h.7M291.2 224.0h.7M287.6 216.6h.7M294.4 213.8h.7M292.1 212.3h.7M285.1 220.7h.7M289.5 215.4h.7M282.2 223.6h.7M292.8 213.6h.7M293.5 215.4h.7M282.5 219.4h.7M286.3 223.2h.7M292.0 217.0h.7M283.9 220.0h.7M283.7 218.3h.7M295.8 209.2h.7M290.1 216.6h.7M282.7 222.9h.7M292.3 216.1h.7M289.4 219.2h.7M286.4 219.3h.7M284.7 221.2h.7M286.9 218.4h.7M280.5 223.0h.7M289.3 219.2h.7M296.9 211.2h.7M296.0 214.2h.7M288.1 216.9h.7M283.6 217.7h.7M290.2 214.5h.7M297.0 213.5h.7M295.6 215.6h.7M283.3 222.0h.7M294.8 210.9h.7M282.5 218.3h.7M283.6 220.6h.7M295.7 214.6h.7M283.0 218.4h.7M289.5 218.5h.7M282.7 220.2h.7M284.2 221.3h.7M286.2 220.7h.7M282.4 223.4h.7M289.8 218.3h.7M289.6 216.3h.7M295.5 215.2h.7M289.2 216.5h.7M285.9 217.7h.7M298.2 216.7h.7M288.4 216.0h.7M301.0 215.0h.7M282.3 219.4h.7M283.3 220.7h.7M292.0 213.2h.7M290.8 212.5h.7M299.9 211.1h.7M289.7 211.3h.7M287.6 218.4h.7M287.1 216.7h.7M281.4 221.6h.7M282.1 220.5h.7M287.6 216.1h.7M283.2 223.7h.7M299.6 211.6h.7M284.4 219.2h.7M295.8 215.0h.7M283.1 220.6h.7M287.3 220.7h.7M291.6 219.1h.7M290.7 216.9h.7M281.5 224.0h.7M292.4 219.9h.7M285.3 218.2h.7M297.7 211.4h.7M298.1 213.3h.7M288.9 218.8h.7M283.1 221.1h.7M286.4 218.5h.7M297.8 217.9h.7M285.7 219.6h.7M296.5 211.0h.7M282.1 221.3h.7M282.8 222.3h.7M298.1 214.9h.7M289.0 219.5h.7M297.2 211.0h.7M291.6 218.2h.7M293.1 220.4h.7M282.9 221.9h.7M287.6 215.7h.7M289.8 220.6h.7M289.8 217.3h.7M301.0 216.6h.7M280.9 221.7h.7M282.7 219.2h.7M296.8 211.8h.7M286.0 215.4h.7M284.1 222.3h.7M292.4 211.3h.7M283.6 221.4h.7M281.3 223.1h.7M287.3 220.5h.7M294.9 217.4h.7M291.1 219.6h.7M287.7 218.1h.7M293.4 216.2h.7M281.7 223.2h.7M301.6 215.5h.7M281.3 221.5h.7M289.5 220.4h.7M282.3 222.4h.7M288.7 213.1h.7M285.2 221.5h.7M281.0 221.6h.7M289.9 216.9h.7M288.9 213.5h.7M289.9 218.8h.7M292.5 216.8h.7M283.6 220.5h.7M286.9 221.3h.7M281.7 217.8h.7M285.3 217.9h.7M298.9 210.0h.7M290.5 216.5h.7M294.7 217.4h.7M283.1 217.1h.7M287.1 216.9h.7M282.9 218.8h.7M282.9 220.4h.7M287.0 220.6h.7M298.4 213.7h.7M281.0 222.1h.7M295.6 211.8h.7M287.0 217.8h.7M285.5 219.1h.7M291.3 218.0h.7M285.5 222.9h.7M291.1 218.6h.7M296.6 209.8h.7M282.8 217.3h.7M289.4 219.6h.7M281.8 219.5h.7M289.3 220.2h.7M289.4 214.8h.7M291.5 217.5h.7M296.9 211.1h.7M294.6 218.0h.7M291.7 216.0h.7M287.8 218.3h.7M282.4 222.5h.7M296.1 207.6h.7M281.0 221.2h.7M286.6 221.4h.7M297.5 212.2h.7M293.6 207.8h.7M290.4 220.7h.7M283.6 223.1h.7M296.5 210.6h.7M291.2 214.6h.7M283.6 218.9h.7M284.7 222.4h.7M293.1 217.3h.7M300.1 212.0h.7M286.2 222.0h.7M296.8 212.8h.7M291.6 213.2h.7M291.4 214.5h.7M293.9 216.8h.7M294.8 210.6h.7M292.1 213.3h.7M290.8 218.9h.7M294.1 218.8h.7M284.1 220.3h.7M290.4 216.0h.7M293.8 209.8h.7M296.8 213.9h.7M288.2 222.9h.7M291.3 213.1h.7M298.4 214.8h.7M291.2 213.1h.7M285.2 221.9h.7M286.9 222.3h.7M299.7 211.7h.7M281.6 221.9h.7M290.1 220.3h.7M287.0 220.2h.7M280.9 223.0h.7M282.0 223.9h.7M285.7 217.6h.7M289.8 219.0h.7M287.0 222.6h.7M291.4 215.3h.7M281.5 223.0h.7M288.7 219.2h.7M293.2 218.6h.7M295.8 217.4h.7M299.4 212.3h.7M297.6 210.5h.7M295.6 213.7h.7M293.2 216.9h.7M285.5 220.8h.7M285.0 220.8h.7M281.2 222.4h.7M298.4 210.8h.7M294.6 210.1h.7M285.5 215.0h.7M283.3 218.7h.7M283.3 223.3h.7M294.9 213.3h.7M301.1 215.8h.7M283.3 218.9h.7M286.8 217.5h.7M290.1 218.2h.7M284.2 223.1h.7M285.6 219.4h.7M291.8 213.8h.7M284.3 219.2h.7M290.0 217.8h.7M286.2 218.1h.7M286.0 215.6h.7M291.6 215.3h.7M282.4 222.9h.7M282.0 220.2h.7M298.3 212.9h.7M284.3 223.4h.7M291.4 217.9h.7M291.4 213.6h.7M291.7 215.2h.7M286.7 220.7h.7M293.8 219.3h.7M296.3 212.0h.7M289.4 218.1h.7M281.0 220.6h.7M301.3 215.7h.7M298.7 212.0h.7M289.8 214.5h.7M288.5 220.6h.7M286.5 223.4h.7M290.5 217.6h.7M291.1 217.4h.7M282.0 219.4h.7M286.6 221.8h.7M289.1 217.7h.7M283.4 221.5h.7M283.4 220.5h.7M280.4 221.2h.7M285.4 217.4h.7M291.2 221.5h.7M290.3 216.4h.7M283.9 223.3h.7M284.9 217.3h.7M284.7 223.7h.7M282.3 221.3h.7M292.6 219.0h.7M291.9 222.0h.7M288.5 218.1h.7M295.3 212.0h.7M288.3 221.2h.7M282.9 220.4h.7M290.8 212.6h.7M299.1 211.7h.7M287.4 220.7h.7M293.4 212.9h.7M300.6 217.1h.7M285.3 219.9h.7M296.0 213.4h.7M286.2 218.9h.7M289.6 217.5h.7M299.1 217.5h.7M285.2 223.3h.7M291.6 213.9h.7M290.8 218.9h.7M288.6 215.8h.7M294.7 218.2h.7M297.6 211.5h.7M286.3 220.3h.7M290.2 219.0h.7M281.7 220.3h.7M288.4 218.5h.7M283.9 217.3h.7M288.2 218.6h.7M286.2 218.4h.7M287.5 217.1h.7M292.0 215.5h.7M299.4 211.6h.7M299.3 212.0h.7M285.1 223.7h.7M290.0 219.1h.7M289.8 218.8h.7M297.0 211.1h.7M292.2 218.7h.7M293.4 218.3h.7M284.1 219.2h.7M296.9 211.0h.7M281.4 219.6h.7M280.8 221.7h.7M288.4 219.2h.7M293.6 214.3h.7M290.8 215.4h.7M288.7 216.6h.7M297.2 214.7h.7M297.5 215.1h.7M302.4 217.3h.7M284.8 223.8h.7M282.4 221.5h.7M281.9 221.8h.7M288.0 217.5h.7M290.2 220.8h.7M283.6 223.4h.7M289.4 215.9h.7M285.7 220.5h.7M291.2 215.9h.7M290.2 217.0h.7M294.6 210.3h.7M282.9 219.8h.7M292.8 213.9h.7M284.7 220.1h.7M289.5 213.1h.7M284.4 218.2h.7M295.7 217.0h.7M283.3 219.4h.7M284.7 222.8h.7M286.5 220.6h.7M284.1 220.3h.7M297.7 211.1h.7M287.6 215.1h.7M285.2 221.6h.7M280.8 222.4h.7M283.3 218.3h.7M299.8 216.8h.7M283.5 220.6h.7M288.8 220.1h.7M301.4 213.7h.7M292.7 213.3h.7M287.9 216.7h.7M284.1 221.2h.7M291.8 213.8h.7M290.1 216.7h.7M288.1 219.5h.7M288.9 219.6h.7M298.2 217.3h.7M295.5 214.6h.7M297.8 210.8h.7M296.7 208.3h.7M282.4 223.1h.7M281.5 222.1h.7M298.2 210.7h.7M293.3 214.8h.7M281.1 222.6h.7M289.5 215.7h.7M282.3 221.8h.7M290.9 218.2h.7M288.5 218.7h.7M290.0 221.7h.7M280.9 220.8h.7M281.9 215.0h.7M290.0 213.7h.7M284.7 221.7h.7M287.4 218.7h.7M296.5 211.9h.7M298.8 210.0h.7M298.2 215.8h.7M294.3 213.7h.7M280.6 221.5h.7M290.4 215.3h.7M287.0 213.6h.7M284.8 220.6h.7M281.7 222.7h.7M281.8 221.0h.7M300.4 219.1h.7M285.7 221.4h.7M289.6 219.1h.7M287.6 217.5h.7M282.0 221.9h.7M299.6 216.7h.7M295.2 211.8h.7M296.1 214.2h.7M300.7 213.8h.7M294.8 215.4h.7M293.5 218.3h.7M293.2 216.5h.7M283.5 221.9h.7M292.3 214.7h.7M296.8 212.4h.7M288.8 213.8h.7M289.9 217.8h.7M284.4 222.8h.7M296.3 212.2h.7M287.3 215.4h.7M286.3 215.8h.7M294.8 209.0h.7M293.5 216.9h.7M285.0 219.5h.7M286.2 222.6h.7M284.2 217.0h.7M286.7 220.6h.7M287.1 222.5h.7M286.9 218.4h.7M294.8 217.4h.7M295.5 215.7h.7M281.3 223.7h.7M282.3 220.8h.7M291.5 214.9h.7M292.7 215.4h.7M295.0 212.2h.7M285.5 221.0h.7M283.3 223.5h.7M290.7 218.7h.7M287.7 219.6h.7M293.9 221.6h.7M293.9 214.9h.7M283.0 221.6h.7M290.5 218.4h.7M283.5 223.1h.7M285.0 221.1h.7M281.8 220.7h.7M281.1 221.8h.7M295.2 213.7h.7M280.7 221.2h.7M295.2 215.3h.7M283.3 221.7h.7M282.2 221.4h.7M289.0 219.1h.7M292.7 214.1h.7M284.5 217.2h.7M296.7 210.0h.7M294.2 213.8h.7M289.1 216.2h.7M287.2 219.9h.7M294.6 215.8h.7M297.9 215.5h.7M293.6 214.4h.7M283.5 223.2h.7M291.9 215.6h.7M289.0 214.6h.7M291.4 215.0h.7M298.3 220.4h.7M289.6 215.7h.7M292.9 216.3h.7M291.9 210.6h.7M281.4 222.2h.7M290.9 215.5h.7M285.1 216.2h.7M282.5 223.6h.7M286.1 220.3h.7M282.7 219.5h.7M294.9 206.4h.7M287.2 218.7h.7M287.6 219.7h.7M296.6 215.4h.7M289.0 217.1h.7M280.8 220.9h.7M280.8 221.0h.7M300.9 212.5h.7M296.4 216.5h.7M287.2 221.8h.7M291.5 217.1h.7M288.8 216.5h.7M285.0 216.4h.7M294.9 212.9h.7M294.5 216.7h.7M281.1 223.4h.7M285.7 219.5h.7" stroke="#000" stroke-width="0.7" fill="none"/>
<ellipse cx="313" cy="212" rx="15" ry="5.6" fill="#000" transform="rotate(0 313 212)"/>
<clipPath id="clH"><rect x="279.8" y="215.7" width="64.59999999999997" height="30"/></clipPath>
<ellipse cx="313" cy="212.7" rx="17.8" ry="8.6" fill="none" stroke="#fff" stroke-width="1.1" clip-path="url(#clH)"/>
<ellipse cx="313" cy="212.7" rx="18.8" ry="9.6" fill="none" stroke="#111" stroke-width="0.8" transform="rotate(0 313 212.7)"/>
<rect x="279.8" y="166.1" width="64.59999999999997" height="58.80000000000001" fill="none" stroke="#222" stroke-width="0.9" />
<rect x="316.2" y="166.1" width="28.19999999999999" height="8.200000000000017" fill="#fff" stroke="#222" stroke-width="0.8" />
<text x="330.29999999999995" y="172.0" font-size="5.3" text-anchor="middle" font-weight="normal" fill="#111" >Gate = 94</text>
<text x="278.1" y="172.79999999999998" font-size="6.3" text-anchor="end" font-weight="normal" fill="#111" >1000</text>
<text x="278.1" y="198.7" font-size="6.3" text-anchor="end" font-weight="normal" fill="#111" >500</text>
<text x="278.1" y="226.5" font-size="6.3" text-anchor="end" font-weight="normal" fill="#111" >0</text>
<text x="281" y="232.3" font-size="6.3" text-anchor="middle" font-weight="normal" fill="#111" >0</text>
<text x="310.4" y="232.3" font-size="6.3" text-anchor="middle" font-weight="normal" fill="#111" >500</text>
<text x="342.5" y="232.3" font-size="6.3" text-anchor="middle" font-weight="normal" fill="#111" >1000</text>
<text x="311.5" y="239.4" font-size="6.5" text-anchor="middle" font-weight="normal" fill="#111" >FSC</text>
<text transform="translate(263,197.2) rotate(-90)" font-size="6.7" text-anchor="middle" fill="#111">SSC</text>
<text x="347.2" y="162.9" font-size="11.5" text-anchor="start" font-weight="bold" fill="#000" >I</text>
<text x="394.7" y="161.1" font-size="6.5" text-anchor="middle" font-weight="normal" fill="#111" >Galectin-2</text>
<path d="M401.0 187.4h.7M372.9 173.1h.7M412.3 186.1h.7M398.6 188.9h.7M400.5 170.7h.7M397.5 183.6h.7M412.9 201.1h.7M376.9 177.8h.7M404.9 209.5h.7M408.0 189.8h.7M388.0 177.7h.7M380.4 200.3h.7M400.5 196.2h.7M394.2 201.1h.7M408.2 183.6h.7M410.6 178.4h.7M423.3 172.9h.7M391.8 176.1h.7M396.8 211.3h.7M384.6 218.1h.7M418.0 197.7h.7M387.1 205.3h.7M411.0 191.4h.7M375.7 188.8h.7M405.1 217.0h.7M369.0 194.3h.7M415.7 182.1h.7M389.2 174.2h.7M408.1 204.2h.7M405.3 195.6h.7M411.5 190.2h.7M407.3 204.0h.7M416.3 199.5h.7M397.5 202.4h.7M421.3 194.0h.7M379.9 183.5h.7M393.9 193.1h.7M384.4 206.7h.7M379.4 216.5h.7M406.6 167.2h.7M377.2 192.9h.7M400.4 185.8h.7M396.4 194.4h.7M378.4 192.9h.7M380.4 201.8h.7M417.1 207.4h.7M386.4 190.9h.7M399.4 188.9h.7M402.4 208.0h.7M404.7 191.8h.7M393.1 218.4h.7M377.0 221.6h.7M407.7 193.3h.7M384.6 219.1h.7M415.2 205.4h.7M397.8 187.5h.7M384.8 193.1h.7M404.6 199.8h.7M394.0 172.5h.7M405.0 201.0h.7M396.5 175.0h.7M399.3 203.1h.7M404.1 211.7h.7M380.0 181.8h.7M399.0 173.8h.7M386.6 212.5h.7M400.9 190.5h.7M387.3 192.7h.7M395.7 176.1h.7M408.6 173.1h.7M416.4 187.0h.7M400.8 179.1h.7M424.7 212.5h.7M417.5 183.0h.7M416.8 185.5h.7M395.4 171.8h.7M397.1 198.0h.7M395.2 175.6h.7M410.5 205.5h.7M394.8 203.6h.7M411.8 177.4h.7M379.8 198.4h.7M382.3 197.8h.7M388.5 214.6h.7M396.4 193.8h.7M385.0 168.2h.7M393.3 179.0h.7M418.4 217.5h.7M384.3 196.8h.7M381.9 204.8h.7M382.8 189.9h.7M417.0 199.8h.7M391.0 169.4h.7M370.8 209.9h.7M404.4 192.9h.7M416.2 194.2h.7M384.6 190.4h.7M394.7 191.8h.7M400.6 188.3h.7M385.4 177.2h.7M366.2 185.1h.7M418.1 210.6h.7M380.7 222.6h.7M396.5 177.1h.7M368.4 188.1h.7M414.6 198.7h.7M372.8 182.1h.7M384.1 209.1h.7M394.6 177.3h.7M382.7 205.4h.7M365.6 194.9h.7M394.4 204.2h.7M377.8 205.6h.7M370.1 191.5h.7M392.8 193.8h.7M380.3 204.9h.7M380.9 183.3h.7M407.8 194.0h.7M383.9 210.5h.7M404.5 207.4h.7M393.3 211.2h.7M388.7 175.2h.7M396.0 171.1h.7M416.2 203.0h.7M369.1 194.6h.7M409.7 186.6h.7M402.8 183.2h.7M395.0 190.7h.7M403.9 177.5h.7M378.0 196.9h.7M388.0 199.8h.7M388.0 172.3h.7M408.0 196.0h.7M407.9 186.9h.7M390.3 211.0h.7M368.9 218.1h.7M404.4 191.1h.7M397.5 201.1h.7M383.7 196.2h.7M399.3 193.5h.7M406.5 200.4h.7M407.3 203.9h.7M379.1 210.3h.7M375.8 202.3h.7M410.8 207.2h.7M420.8 171.2h.7M402.1 199.0h.7M416.2 178.6h.7M396.5 186.4h.7M393.5 189.8h.7M395.5 193.0h.7M384.9 182.2h.7M382.1 216.1h.7M406.7 204.9h.7M384.8 208.8h.7M389.1 214.6h.7M408.9 205.3h.7M403.1 201.4h.7M377.7 210.9h.7M415.0 204.2h.7M390.0 195.6h.7M420.9 199.0h.7M384.8 204.9h.7M410.1 206.3h.7M395.8 206.1h.7M405.8 205.8h.7M397.9 205.6h.7M383.2 213.8h.7M388.0 198.3h.7M391.0 206.2h.7M405.5 197.4h.7M381.4 207.0h.7M400.5 199.6h.7M382.9 207.0h.7M394.4 196.6h.7M385.9 214.6h.7M383.8 212.1h.7M378.3 214.7h.7M414.6 202.3h.7M388.1 209.7h.7M381.7 209.2h.7M410.1 207.5h.7M399.8 205.1h.7M407.6 201.2h.7M414.4 205.9h.7M392.3 196.5h.7M390.9 207.4h.7M410.4 196.6h.7M394.6 202.0h.7M382.2 206.0h.7M387.2 211.1h.7M364.9 210.3h.7M374.0 194.6h.7M402.0 204.0h.7M397.5 200.4h.7M383.9 201.7h.7M395.4 201.1h.7M391.2 201.0h.7M398.7 199.4h.7M372.0 190.7h.7M395.8 206.6h.7M407.1 201.7h.7M382.8 197.3h.7M404.8 202.4h.7M407.4 205.5h.7M392.8 195.2h.7M388.2 210.6h.7M389.0 209.9h.7M377.0 211.9h.7M399.7 198.8h.7M389.9 202.2h.7M398.2 194.2h.7M386.0 210.6h.7M397.7 210.3h.7M405.9 199.3h.7M380.5 208.7h.7M396.4 206.5h.7M386.6 211.9h.7M401.7 212.6h.7M391.9 210.0h.7M395.3 200.5h.7M395.1 196.4h.7M393.9 207.0h.7M404.0 199.9h.7M380.7 201.7h.7M372.1 202.2h.7M387.2 202.0h.7M416.4 199.2h.7M394.7 205.5h.7M387.5 201.8h.7M376.6 201.1h.7M411.0 214.2h.7M392.7 210.1h.7M401.3 206.6h.7M394.4 213.1h.7M402.6 204.7h.7M393.3 211.4h.7M389.2 201.8h.7M392.8 203.1h.7M410.6 208.1h.7M395.0 202.9h.7M412.3 208.6h.7M420.0 211.3h.7M393.5 202.8h.7M392.7 207.1h.7M405.1 208.8h.7M414.1 197.2h.7M396.3 197.7h.7M384.1 202.5h.7M388.5 200.4h.7M378.5 212.6h.7M392.3 211.6h.7M383.3 192.5h.7M389.1 211.1h.7M389.6 208.3h.7M383.6 214.1h.7M401.0 212.1h.7M392.8 213.4h.7M396.8 203.2h.7M388.6 206.3h.7M385.5 199.1h.7M397.5 210.1h.7M392.6 210.9h.7M414.3 198.6h.7M399.0 200.4h.7M388.6 207.0h.7M368.6 209.5h.7M405.7 209.2h.7M403.5 216.5h.7M391.8 212.4h.7M412.7 208.9h.7M375.4 205.1h.7M392.6 196.6h.7M395.3 210.4h.7M393.0 204.9h.7M412.9 202.4h.7M385.1 206.2h.7M408.9 209.4h.7M396.8 203.1h.7M410.2 211.1h.7M376.0 207.9h.7M368.3 214.7h.7M403.1 202.3h.7M381.1 204.2h.7M375.8 209.3h.7M390.1 195.7h.7M395.8 212.9h.7M381.3 203.9h.7M416.9 207.1h.7M389.6 207.1h.7M405.0 200.2h.7M394.9 196.5h.7M377.7 197.0h.7M405.7 207.8h.7M404.4 213.1h.7M396.5 207.4h.7M400.7 208.7h.7M383.7 204.4h.7M394.2 206.2h.7M387.3 205.2h.7M399.3 207.1h.7M402.8 210.8h.7M402.4 211.6h.7M405.7 214.1h.7M403.2 202.4h.7M422.8 212.6h.7M410.4 210.2h.7M396.5 199.3h.7M401.0 203.9h.7M391.4 193.6h.7M413.8 199.2h.7M383.3 208.7h.7M402.5 201.4h.7M395.9 207.5h.7M397.8 209.1h.7M404.9 203.9h.7M377.3 218.6h.7M391.6 200.2h.7M404.6 209.4h.7M388.9 219.7h.7M368.9 213.4h.7M395.5 207.8h.7M399.7 204.6h.7M399.7 198.4h.7M391.4 216.7h.7M366.3 213.2h.7M370.2 201.0h.7M406.1 203.6h.7M389.3 197.3h.7M394.6 205.0h.7M388.6 196.9h.7M397.8 208.4h.7M409.1 209.0h.7M413.5 213.0h.7M363.4 215.7h.7M394.8 199.9h.7M401.0 211.6h.7M378.1 198.8h.7M403.9 202.8h.7M412.8 207.3h.7M389.6 198.3h.7M402.9 196.0h.7M380.9 198.4h.7M415.6 215.9h.7M393.4 203.8h.7M404.1 213.2h.7M386.7 218.8h.7M393.6 212.6h.7M368.7 205.7h.7M387.9 217.5h.7M393.5 198.6h.7M418.5 202.0h.7M395.9 198.7h.7M403.8 207.1h.7M392.7 203.7h.7M389.4 201.8h.7M379.7 213.0h.7M406.3 197.9h.7M382.5 208.4h.7M422.1 204.8h.7M392.4 204.5h.7M398.9 205.0h.7M408.5 211.7h.7M402.4 215.2h.7M393.3 202.8h.7M378.0 192.3h.7M400.1 199.8h.7M408.2 193.8h.7M394.4 203.7h.7M383.5 212.5h.7M391.4 208.6h.7M389.9 206.9h.7M390.8 206.4h.7M394.8 202.0h.7M401.0 204.9h.7M384.8 199.9h.7M401.1 213.7h.7M380.8 203.6h.7M401.2 212.1h.7M404.2 199.1h.7M396.4 211.2h.7M398.8 204.7h.7M382.3 207.0h.7M395.2 206.2h.7M413.3 212.9h.7M386.8 207.3h.7M392.4 206.6h.7M414.8 211.3h.7M396.5 202.2h.7M394.1 208.1h.7M390.2 212.4h.7M396.2 199.1h.7M419.6 189.1h.7M392.9 205.3h.7M407.4 212.5h.7M412.8 215.1h.7M399.7 206.7h.7M407.7 205.8h.7M381.4 203.3h.7M403.6 209.6h.7M383.2 213.0h.7M399.6 197.2h.7M401.4 211.9h.7M402.1 204.2h.7M386.7 212.5h.7M398.6 206.0h.7M391.4 200.0h.7M374.3 204.0h.7M408.8 210.4h.7M388.1 214.9h.7M393.4 200.1h.7M407.3 214.1h.7M391.5 198.9h.7M395.3 191.9h.7M396.6 214.9h.7M399.2 201.7h.7M404.2 203.1h.7M410.6 203.9h.7M419.5 204.0h.7M398.2 200.5h.7M381.2 208.0h.7M400.0 200.3h.7M402.5 203.6h.7M389.6 205.6h.7M400.5 210.2h.7M410.3 208.2h.7M387.6 202.0h.7M400.3 199.0h.7M394.0 203.8h.7M394.9 207.1h.7M408.0 215.5h.7M406.2 211.9h.7M383.7 212.0h.7M411.0 198.1h.7M425.2 202.7h.7M368.5 216.3h.7M396.7 201.3h.7M389.4 212.2h.7M399.0 203.8h.7M409.3 200.5h.7M386.2 202.7h.7M387.4 210.0h.7M393.3 199.9h.7M390.7 194.4h.7M397.9 206.6h.7M403.0 204.6h.7M400.6 200.6h.7M396.3 206.9h.7M382.0 209.4h.7M397.6 206.3h.7M390.5 217.6h.7M396.0 201.5h.7M386.2 209.4h.7M393.6 201.4h.7M387.6 211.4h.7M397.0 212.1h.7M395.8 199.1h.7M406.0 207.8h.7M388.5 204.2h.7M384.8 210.8h.7M391.2 208.8h.7M399.0 204.5h.7M400.3 204.6h.7M382.4 203.6h.7M382.4 210.4h.7M403.5 202.6h.7M403.1 207.4h.7M407.2 200.6h.7M396.3 200.2h.7M388.1 213.9h.7M372.9 200.7h.7M401.6 210.5h.7M387.0 194.2h.7M376.2 208.1h.7M408.7 211.3h.7M387.6 213.8h.7M393.8 209.6h.7M393.8 215.2h.7M390.0 193.5h.7M392.4 207.1h.7M399.2 201.8h.7M393.3 199.4h.7M393.3 206.5h.7M398.8 215.5h.7M373.0 209.0h.7M401.0 199.3h.7M396.8 206.0h.7M384.5 210.2h.7M418.0 209.9h.7M404.9 212.2h.7M394.5 211.6h.7M386.7 207.0h.7M404.1 213.6h.7M392.7 204.3h.7M401.4 205.5h.7M397.6 210.6h.7M387.2 211.1h.7M400.4 204.5h.7M381.6 202.4h.7M395.5 211.4h.7M373.4 210.1h.7M398.2 199.5h.7M405.8 208.3h.7M401.0 200.3h.7M383.3 211.2h.7M412.1 208.1h.7M393.8 203.4h.7M376.4 211.7h.7M394.9 213.1h.7M387.7 212.1h.7M387.8 209.4h.7M411.7 201.9h.7M406.4 206.0h.7M385.3 207.2h.7M403.4 201.9h.7M392.9 202.7h.7M387.2 204.8h.7M405.4 203.1h.7M410.2 203.8h.7M388.1 212.2h.7M412.0 202.2h.7M402.7 199.3h.7M391.4 203.8h.7M404.1 198.8h.7M390.2 202.0h.7M397.1 198.9h.7M380.7 222.3h.7M398.4 197.3h.7M405.5 198.4h.7M374.5 215.6h.7M410.2 201.2h.7M383.6 208.7h.7M419.1 209.4h.7M403.5 199.2h.7M375.7 208.2h.7M407.5 206.8h.7M395.9 213.9h.7M386.4 212.3h.7M405.5 202.4h.7M397.4 206.6h.7M402.6 200.4h.7M393.4 206.5h.7M396.3 206.1h.7M398.8 204.9h.7M390.3 211.9h.7M388.7 204.2h.7M386.0 199.4h.7M401.1 205.8h.7M394.5 208.6h.7M394.0 209.9h.7M416.5 208.0h.7M393.0 215.5h.7M404.0 196.5h.7M411.1 207.2h.7M405.7 199.4h.7M386.4 202.3h.7M402.3 199.6h.7M388.0 211.4h.7M388.7 206.7h.7M385.8 196.3h.7M395.1 205.3h.7M379.8 211.6h.7M405.3 211.0h.7M390.2 199.5h.7M395.0 206.9h.7M394.0 202.6h.7M384.7 201.8h.7M395.1 203.2h.7M414.8 204.4h.7M401.1 203.3h.7M393.9 200.4h.7M390.5 197.5h.7M372.5 213.6h.7M384.1 208.5h.7M394.6 202.8h.7M404.2 202.8h.7M400.9 203.9h.7M406.9 211.4h.7M396.7 212.2h.7M401.7 214.9h.7M394.6 197.2h.7M398.4 207.3h.7M391.9 204.8h.7M392.9 198.9h.7M415.3 201.6h.7M383.9 197.0h.7M386.5 205.8h.7M412.6 209.4h.7M387.8 198.9h.7M383.4 205.5h.7M405.8 203.3h.7M414.0 217.0h.7M397.8 193.7h.7M408.3 205.4h.7M403.5 211.6h.7M384.6 206.4h.7M398.0 201.7h.7M403.8 205.3h.7M391.4 216.7h.7M397.9 215.3h.7M394.2 211.9h.7M387.5 206.8h.7M408.1 193.6h.7M402.0 204.4h.7M408.2 207.0h.7M395.1 198.7h.7M392.3 201.9h.7M392.6 207.2h.7M380.9 212.0h.7M393.0 209.4h.7M372.3 203.0h.7M392.6 203.8h.7M388.5 207.7h.7M400.5 200.4h.7M373.9 210.1h.7M392.4 212.1h.7M405.8 205.4h.7M379.9 203.9h.7M387.8 213.0h.7M376.9 211.2h.7M378.6 202.7h.7M380.1 202.0h.7M391.0 208.1h.7M389.3 209.9h.7M415.6 206.9h.7M383.0 205.0h.7M394.8 203.9h.7M408.9 212.5h.7M418.4 209.0h.7M366.0 205.2h.7M403.5 201.4h.7M389.2 211.1h.7M397.6 199.6h.7M389.4 188.5h.7M395.9 199.0h.7M395.3 199.2h.7M385.5 203.1h.7M382.6 202.9h.7M407.8 210.5h.7M403.7 204.1h.7M397.4 201.6h.7M393.9 201.4h.7M379.6 200.3h.7M417.6 208.2h.7M387.5 205.4h.7M390.9 212.9h.7M395.6 202.4h.7M403.5 207.8h.7M388.2 201.6h.7M397.5 196.7h.7M385.7 211.7h.7M405.6 212.3h.7M390.9 202.6h.7M392.9 203.3h.7M410.3 204.7h.7M411.1 201.9h.7M400.1 215.2h.7M387.6 202.3h.7M389.2 196.8h.7M392.6 202.3h.7M420.6 203.3h.7M371.9 211.3h.7M406.6 205.8h.7M399.1 210.0h.7M389.6 206.2h.7M397.5 215.4h.7M411.7 206.9h.7M380.9 211.0h.7M395.3 212.6h.7M396.5 207.0h.7M403.2 201.8h.7M388.5 219.0h.7M386.2 211.3h.7M403.5 210.6h.7M411.2 198.4h.7M406.6 194.3h.7M396.5 207.9h.7M407.4 212.1h.7M385.4 204.4h.7M394.1 202.0h.7M386.7 202.2h.7M408.7 213.7h.7M404.3 215.5h.7M396.9 199.8h.7M388.5 207.1h.7M407.4 212.9h.7M385.8 211.4h.7M389.9 209.4h.7M406.1 214.4h.7M390.0 207.4h.7M400.7 203.6h.7M396.9 209.4h.7M377.4 202.3h.7M421.7 208.6h.7M389.6 195.5h.7M385.1 208.9h.7M403.5 208.5h.7M402.5 202.6h.7M413.7 199.6h.7M401.6 204.5h.7M376.7 211.1h.7M392.8 210.0h.7M410.1 206.9h.7M388.5 204.8h.7M395.1 214.2h.7M405.4 215.0h.7M404.3 201.6h.7M406.2 211.5h.7M394.5 208.6h.7M392.3 198.8h.7M394.8 210.3h.7M391.8 193.2h.7M386.9 212.2h.7M398.4 212.4h.7M387.4 203.6h.7M384.6 201.6h.7M401.6 206.8h.7M390.4 207.7h.7M381.2 203.8h.7M379.1 197.5h.7M380.6 199.7h.7M413.5 213.8h.7M409.9 202.7h.7M402.8 199.5h.7M389.8 207.4h.7M378.0 207.1h.7M402.7 194.2h.7M368.5 204.4h.7M394.5 206.8h.7M383.2 209.2h.7M397.2 201.8h.7M414.2 207.5h.7M404.1 216.6h.7M390.3 204.7h.7M376.4 204.7h.7M400.7 220.3h.7M402.1 207.1h.7M381.7 201.1h.7M375.1 198.1h.7M397.1 207.7h.7M385.6 204.7h.7M386.8 209.5h.7M403.0 202.8h.7M390.7 199.0h.7M390.6 218.5h.7M395.7 210.9h.7M402.3 214.4h.7M392.2 200.8h.7M407.4 211.3h.7M388.4 212.3h.7M395.7 205.7h.7M416.4 209.0h.7M399.3 204.2h.7M398.0 212.0h.7M400.9 201.7h.7M400.8 205.3h.7M399.3 204.9h.7M371.4 196.8h.7M391.5 193.4h.7M379.0 217.6h.7M403.6 203.4h.7M399.5 193.2h.7M398.6 211.6h.7M397.9 198.5h.7M406.7 202.9h.7M389.4 207.1h.7M392.4 217.7h.7M394.3 218.3h.7M400.9 198.9h.7M395.8 206.3h.7M411.9 213.3h.7M424.5 202.2h.7M390.9 219.4h.7M385.8 208.0h.7M413.9 200.2h.7M391.9 201.7h.7M401.7 208.3h.7M395.4 209.8h.7M387.0 203.8h.7M401.1 217.6h.7M395.4 206.3h.7M410.5 206.4h.7M410.4 207.4h.7M408.8 207.0h.7M385.5 201.1h.7M400.6 216.8h.7M416.8 204.2h.7M423.9 199.6h.7M386.3 211.4h.7M378.7 211.3h.7M400.1 209.6h.7M382.3 208.2h.7M406.4 205.7h.7M407.4 206.1h.7M399.7 204.2h.7M380.5 205.1h.7M401.4 201.6h.7M373.8 197.1h.7M410.6 204.7h.7M387.2 213.1h.7M393.9 197.3h.7M390.9 200.9h.7M393.7 200.7h.7M396.6 208.6h.7M389.4 204.8h.7M394.1 210.8h.7M387.7 210.3h.7M409.9 204.9h.7M384.9 204.2h.7M375.8 202.9h.7M382.4 205.0h.7M391.6 209.0h.7M397.1 208.4h.7M395.3 207.6h.7M383.1 209.8h.7M410.5 212.4h.7M380.7 208.4h.7M377.5 210.4h.7M393.5 203.3h.7M387.4 204.6h.7M395.8 200.4h.7M396.5 207.5h.7M401.8 205.7h.7M395.8 219.4h.7M407.2 207.9h.7M380.2 209.6h.7M402.3 190.6h.7M394.0 208.2h.7M396.2 206.6h.7M394.1 214.0h.7M400.1 204.4h.7M393.3 218.1h.7M386.1 203.0h.7M399.5 206.9h.7M399.2 213.9h.7M408.7 208.4h.7M396.3 205.6h.7M393.2 211.8h.7M381.5 200.0h.7M390.7 200.4h.7M387.5 212.9h.7M370.4 209.3h.7M381.0 204.6h.7M389.3 200.3h.7M379.0 206.4h.7M391.4 212.4h.7M416.8 204.3h.7M386.8 204.4h.7M401.2 211.4h.7M385.0 208.8h.7M395.5 212.6h.7M391.2 204.8h.7M386.2 198.3h.7M398.9 210.1h.7M408.6 207.6h.7M390.6 200.7h.7M382.7 201.8h.7M399.7 206.5h.7M369.9 205.4h.7M392.6 199.9h.7M395.6 209.1h.7M384.1 198.2h.7M392.2 207.5h.7M392.9 215.0h.7M397.5 200.2h.7M404.7 202.2h.7M403.7 206.6h.7M409.9 200.2h.7M404.1 208.5h.7M385.6 210.1h.7M421.6 208.1h.7M387.2 205.1h.7M410.7 207.5h.7M412.7 202.2h.7M410.8 196.9h.7M394.0 204.3h.7M390.3 213.1h.7M389.0 208.0h.7M417.0 210.8h.7M391.2 201.8h.7M373.1 208.2h.7M406.0 212.4h.7M398.6 218.5h.7M404.7 192.6h.7M385.9 210.6h.7M391.4 210.9h.7M425.1 201.6h.7M421.1 205.5h.7M379.1 206.6h.7M406.2 202.6h.7M413.9 200.9h.7M393.7 211.4h.7M393.5 202.8h.7M395.7 209.8h.7M415.7 213.9h.7M417.3 205.8h.7M377.0 205.8h.7M391.2 200.2h.7M390.0 205.6h.7M396.5 211.3h.7M385.5 212.7h.7M396.4 210.3h.7M410.2 198.8h.7M414.2 201.8h.7M400.5 212.3h.7M406.5 196.9h.7M397.8 212.6h.7M394.5 205.5h.7M396.8 215.5h.7M389.7 200.5h.7M383.3 202.9h.7M393.3 208.0h.7M395.0 196.0h.7M377.9 210.0h.7M404.3 198.1h.7M406.7 191.9h.7M422.6 209.4h.7M376.9 209.0h.7M395.6 203.4h.7M391.7 204.7h.7M394.8 200.8h.7M389.4 209.2h.7M402.0 198.3h.7M390.3 215.1h.7M404.2 215.6h.7M380.5 200.0h.7M371.1 194.7h.7M391.7 199.9h.7M383.5 202.0h.7M393.8 210.8h.7M402.4 195.8h.7M413.1 204.1h.7M384.5 205.8h.7M391.4 197.9h.7M413.9 202.6h.7M389.1 209.1h.7M415.2 208.8h.7M385.6 208.5h.7M408.7 208.2h.7M403.4 203.2h.7M395.2 196.2h.7M387.7 199.4h.7M396.1 214.7h.7M370.1 198.3h.7M385.3 205.5h.7M409.4 201.5h.7M387.0 213.1h.7M400.3 209.1h.7M405.6 201.7h.7M398.6 202.2h.7M387.7 206.8h.7M401.0 198.6h.7M387.1 209.5h.7M397.9 209.9h.7M392.4 201.3h.7M405.0 209.5h.7M363.3 211.0h.7M387.2 209.9h.7M414.1 204.4h.7M384.8 207.5h.7M397.0 209.3h.7M379.8 207.4h.7M406.3 210.1h.7M403.2 213.0h.7M386.5 213.1h.7M398.4 200.2h.7M392.6 207.6h.7M399.8 213.9h.7M398.2 203.0h.7M421.2 204.1h.7M386.5 211.4h.7M391.2 201.4h.7M383.7 212.9h.7M383.7 206.6h.7M390.7 204.9h.7M386.6 206.9h.7M403.0 212.1h.7M391.9 199.2h.7M378.9 206.1h.7M367.3 213.8h.7M396.3 206.7h.7M379.9 202.3h.7M387.4 209.9h.7M391.3 209.6h.7M401.9 194.8h.7M393.3 213.4h.7M390.1 206.8h.7M394.5 198.9h.7M421.2 205.3h.7M403.4 203.4h.7M412.2 212.7h.7M409.6 211.6h.7M404.1 214.1h.7M400.6 206.8h.7M405.3 200.8h.7M366.7 210.7h.7M398.2 209.4h.7M394.8 208.3h.7M390.2 212.1h.7M398.0 214.9h.7M396.3 214.0h.7M402.5 209.6h.7M383.4 208.6h.7M395.0 209.8h.7M414.7 210.3h.7M400.8 209.3h.7M402.5 207.6h.7M404.6 212.9h.7M393.8 207.4h.7M410.4 210.5h.7M408.6 203.8h.7M387.4 217.8h.7M411.3 212.7h.7M405.0 214.4h.7M394.1 212.1h.7M387.8 206.5h.7M398.0 214.5h.7M398.3 207.5h.7M403.8 212.5h.7M403.0 211.1h.7M394.9 215.5h.7M408.0 208.1h.7M388.1 214.8h.7M399.9 212.2h.7M389.1 215.0h.7M398.5 212.7h.7M400.1 210.1h.7M400.2 212.5h.7M402.8 213.5h.7M386.7 208.8h.7M394.8 215.9h.7M391.8 215.6h.7M405.7 215.4h.7M415.1 212.8h.7M399.6 216.3h.7M400.3 215.6h.7M396.0 216.8h.7M399.8 205.2h.7M405.7 211.6h.7M389.9 210.4h.7M394.7 215.8h.7M399.7 211.7h.7M396.9 208.6h.7M391.9 209.9h.7M395.2 207.6h.7M393.8 215.2h.7M400.6 212.0h.7M399.8 211.1h.7M387.5 214.5h.7M415.0 214.6h.7M402.5 220.9h.7M387.3 213.2h.7M394.3 210.7h.7M383.7 210.9h.7M400.2 206.3h.7M395.2 210.0h.7M389.0 213.7h.7M410.2 214.0h.7M405.3 215.0h.7M396.5 213.9h.7M407.6 210.9h.7M395.8 206.9h.7M382.1 208.1h.7M404.2 213.5h.7M399.1 216.6h.7M382.8 216.0h.7M397.7 214.7h.7M408.1 209.6h.7M390.0 212.9h.7M396.5 209.8h.7M396.0 209.2h.7M398.1 210.5h.7M410.7 208.9h.7M401.7 212.4h.7M409.7 209.1h.7M393.3 217.8h.7M391.7 210.2h.7M393.8 208.2h.7M406.8 217.8h.7M395.8 209.1h.7M386.1 213.6h.7M392.7 213.6h.7M377.7 209.3h.7M402.0 213.6h.7M374.0 211.7h.7M398.0 211.8h.7M394.3 210.1h.7M398.2 213.7h.7M371.6 210.4h.7M404.5 211.5h.7M406.8 209.1h.7M412.4 216.1h.7M393.7 221.4h.7M408.6 218.1h.7M387.4 210.9h.7M400.8 215.8h.7M397.6 207.3h.7M406.8 211.8h.7M400.5 210.9h.7M396.1 206.9h.7M402.4 209.9h.7M382.7 212.5h.7M396.7 215.2h.7M403.6 207.9h.7M395.6 211.8h.7M397.7 208.2h.7M397.6 215.4h.7M407.0 217.5h.7M403.1 203.2h.7M394.8 209.8h.7M373.7 216.0h.7M404.3 212.2h.7M399.9 213.7h.7M395.3 216.6h.7M411.7 215.5h.7M392.5 212.5h.7M404.9 214.8h.7M391.5 214.9h.7M402.8 214.2h.7M393.6 211.6h.7M381.7 210.9h.7M393.4 210.6h.7M394.7 210.6h.7M397.7 212.2h.7M392.1 211.1h.7M396.3 213.5h.7M400.5 210.8h.7M390.4 205.7h.7M387.0 212.7h.7M389.6 217.1h.7M395.7 210.4h.7M395.7 209.8h.7M391.9 211.8h.7M385.4 211.7h.7M396.3 208.6h.7M405.2 213.6h.7M405.7 210.0h.7M387.0 207.1h.7M384.4 204.5h.7M409.6 210.8h.7M398.6 210.0h.7M395.8 217.3h.7M383.1 207.6h.7M398.1 208.7h.7M402.6 216.7h.7M404.2 214.9h.7M395.7 215.3h.7M390.6 207.3h.7M394.9 210.8h.7M406.8 208.9h.7M406.2 209.6h.7M386.9 205.3h.7M396.7 206.7h.7M398.7 212.1h.7M393.8 204.9h.7M392.8 213.2h.7M382.7 213.5h.7M397.1 209.9h.7M398.6 214.2h.7M396.8 209.1h.7M403.3 209.8h.7M399.9 215.4h.7M407.5 218.0h.7M405.2 212.8h.7M395.4 212.4h.7M401.2 222.6h.7M402.3 209.2h.7M409.2 206.9h.7M405.1 207.7h.7M388.3 209.6h.7M394.7 206.9h.7M402.0 211.7h.7M407.8 208.8h.7M382.5 213.5h.7M395.2 215.2h.7M378.2 206.4h.7M397.7 218.8h.7M387.1 204.6h.7M393.4 216.6h.7M409.7 207.7h.7M392.1 205.1h.7M390.2 208.1h.7M400.4 216.0h.7M416.1 211.6h.7M403.6 212.9h.7M398.0 218.7h.7M402.6 217.6h.7M399.4 215.0h.7M401.1 211.7h.7M391.4 210.1h.7M397.1 210.5h.7M394.3 209.2h.7M403.9 211.3h.7M396.1 211.0h.7M407.5 210.5h.7M408.3 209.4h.7M409.3 214.6h.7M393.1 213.2h.7M406.1 208.9h.7M395.2 212.8h.7M395.3 210.7h.7M397.2 212.9h.7M403.2 217.4h.7M394.4 222.1h.7M394.4 218.0h.7M396.0 206.6h.7M393.5 210.4h.7M405.6 205.1h.7M391.9 211.1h.7M402.3 213.5h.7M403.9 211.6h.7M395.1 216.0h.7M410.8 213.9h.7M398.3 208.9h.7M413.9 214.1h.7M402.0 206.4h.7M401.9 220.7h.7M395.7 211.0h.7M409.3 211.8h.7M403.8 219.0h.7M387.7 208.4h.7M402.5 212.5h.7M397.3 211.2h.7M398.1 213.1h.7M393.2 210.6h.7M398.9 208.1h.7M400.6 204.3h.7M402.1 211.7h.7M387.6 216.1h.7M387.7 218.6h.7M391.2 215.8h.7M396.5 217.5h.7M395.3 215.4h.7M394.5 205.1h.7M400.1 213.7h.7M400.2 217.9h.7M391.2 206.4h.7M399.1 209.5h.7M396.2 211.8h.7M390.5 215.3h.7M396.1 218.1h.7M399.0 215.7h.7M394.7 209.4h.7M392.8 208.5h.7M400.6 212.5h.7M388.4 205.9h.7M390.2 205.0h.7M390.0 206.1h.7M402.7 208.0h.7M392.3 211.1h.7M397.3 213.3h.7M403.1 214.4h.7M394.3 216.1h.7M400.0 209.5h.7M408.9 208.3h.7M400.8 216.5h.7M397.9 213.1h.7M398.0 214.2h.7M398.8 211.9h.7M402.6 205.4h.7M399.0 210.9h.7M412.6 213.7h.7M391.8 213.9h.7M394.0 207.5h.7M394.8 213.5h.7M406.5 216.0h.7M398.9 211.3h.7M398.6 216.2h.7M396.0 215.9h.7M390.7 211.4h.7M403.2 214.6h.7M398.6 210.1h.7M382.8 209.5h.7M390.3 210.0h.7M409.6 209.8h.7M403.8 212.1h.7M388.3 211.7h.7M403.0 207.9h.7M387.9 210.0h.7M402.8 210.0h.7M400.4 213.6h.7M397.1 213.4h.7M407.1 211.7h.7M399.6 208.2h.7M391.3 211.2h.7M403.5 209.8h.7M386.1 214.5h.7M415.8 203.7h.7M388.7 211.8h.7M400.9 208.7h.7M399.7 215.8h.7M394.9 214.3h.7M398.0 208.6h.7M392.2 209.4h.7M407.5 216.5h.7M398.9 206.4h.7M393.2 210.2h.7M381.9 210.9h.7M399.3 207.3h.7M393.7 210.0h.7M411.6 214.9h.7M403.1 212.4h.7M387.0 214.5h.7M391.7 204.7h.7M402.8 210.9h.7M397.0 213.6h.7M395.2 213.2h.7M407.2 211.2h.7M394.3 211.7h.7M402.1 210.7h.7M397.7 209.4h.7M396.4 213.7h.7M390.6 210.8h.7M385.6 208.7h.7M397.6 213.7h.7M389.0 211.0h.7M389.8 212.5h.7M399.1 213.5h.7M395.4 206.7h.7M392.6 206.9h.7M391.7 211.3h.7M405.5 210.0h.7M391.0 212.2h.7M380.9 218.0h.7M385.0 214.7h.7M404.7 215.6h.7M396.2 214.3h.7M394.3 215.0h.7M391.9 208.7h.7M400.0 210.4h.7M402.3 209.1h.7M399.1 208.5h.7M396.2 219.3h.7M388.6 207.0h.7M384.5 210.3h.7M409.7 210.9h.7M404.3 211.6h.7M392.1 218.6h.7M405.4 205.8h.7M389.4 212.8h.7M402.1 211.3h.7M399.5 213.8h.7M394.3 215.2h.7M390.4 214.1h.7M404.1 212.9h.7M394.3 211.6h.7M379.8 211.8h.7M386.0 204.1h.7M403.0 208.9h.7M399.8 212.1h.7M383.3 207.9h.7M394.9 213.3h.7M397.6 207.4h.7M392.9 212.0h.7M387.1 209.7h.7M392.8 204.1h.7M410.4 215.6h.7M393.4 214.9h.7M388.9 216.8h.7M394.1 212.1h.7M392.5 211.9h.7M399.6 212.1h.7M390.6 214.1h.7M401.3 212.0h.7M405.2 209.7h.7M406.9 211.8h.7M408.8 210.9h.7M395.1 212.4h.7M405.5 217.3h.7M393.5 209.1h.7M402.9 216.5h.7M402.5 210.9h.7M406.9 212.2h.7M398.3 214.1h.7M392.6 203.6h.7M398.7 214.4h.7M400.4 213.9h.7M398.3 215.5h.7M397.9 217.1h.7M397.4 214.6h.7M392.7 212.6h.7M400.3 212.5h.7M409.0 212.6h.7M405.7 213.5h.7M405.5 209.1h.7M394.2 215.0h.7M390.7 212.8h.7M401.4 212.7h.7M400.4 213.9h.7M395.2 213.2h.7M393.0 210.0h.7M384.7 210.8h.7M383.9 211.2h.7M398.6 208.1h.7M397.6 212.9h.7M394.3 208.5h.7M396.2 213.2h.7M404.2 219.0h.7M381.7 212.2h.7M400.4 209.7h.7M399.5 219.3h.7M397.9 216.7h.7M405.3 210.7h.7M379.1 214.9h.7M408.9 206.2h.7M395.5 209.3h.7M398.6 212.1h.7M405.9 210.2h.7M411.9 206.6h.7M398.7 221.3h.7M396.3 214.0h.7M393.4 223.2h.7M403.9 210.9h.7M382.2 211.8h.7M402.7 204.9h.7M393.2 213.6h.7M378.4 210.1h.7M384.7 206.4h.7M400.2 216.0h.7M406.0 210.0h.7M400.9 205.8h.7M385.6 213.1h.7M393.9 208.0h.7M382.5 210.2h.7M414.3 205.6h.7M388.9 215.3h.7M382.2 208.8h.7M397.5 215.8h.7M396.4 218.2h.7M396.8 211.4h.7M400.4 213.2h.7M385.4 207.8h.7M395.2 212.9h.7M387.5 208.8h.7M391.2 212.7h.7M393.7 213.8h.7M400.0 208.7h.7M394.7 207.3h.7M397.8 214.7h.7M389.4 205.1h.7M401.0 211.0h.7M396.8 213.4h.7M399.9 215.2h.7M393.5 203.8h.7M393.2 210.5h.7M393.8 213.0h.7M395.1 216.3h.7M392.1 211.5h.7M394.2 219.2h.7M389.6 207.9h.7M394.0 214.3h.7M397.1 211.2h.7M385.6 203.8h.7M395.3 210.9h.7M410.7 213.9h.7M400.3 215.4h.7M390.0 207.1h.7M394.1 216.9h.7M404.7 210.1h.7M387.3 214.6h.7M405.5 208.4h.7M409.5 209.7h.7M402.8 211.4h.7M394.4 209.5h.7M402.4 214.3h.7M403.3 211.1h.7M390.4 219.1h.7M410.4 211.8h.7M388.1 216.6h.7M398.0 212.1h.7M403.7 213.4h.7M397.9 218.9h.7M382.2 213.3h.7M389.3 211.6h.7M395.7 212.7h.7M378.1 213.2h.7M415.2 211.3h.7M404.1 214.4h.7M399.3 210.1h.7M402.0 213.0h.7M408.3 215.4h.7M391.4 201.1h.7M408.8 214.2h.7M398.4 209.7h.7M416.7 217.6h.7M397.8 210.5h.7M401.5 216.9h.7M401.1 215.4h.7M399.1 213.2h.7M387.0 211.7h.7M397.4 211.6h.7M395.1 212.8h.7M392.5 210.9h.7M386.7 219.5h.7M390.0 207.1h.7M392.8 210.1h.7M388.5 202.7h.7M409.9 216.1h.7M394.0 213.6h.7M388.2 205.6h.7M399.6 214.0h.7M391.6 211.5h.7M372.7 210.0h.7M405.3 212.9h.7M398.4 213.9h.7M380.5 206.3h.7M387.0 212.1h.7M392.0 204.8h.7M404.0 211.5h.7M404.9 219.4h.7M383.9 206.6h.7M405.5 217.3h.7M400.1 213.3h.7M402.5 214.4h.7M386.9 213.9h.7M404.8 210.8h.7M389.8 209.7h.7M392.3 213.4h.7M403.1 212.2h.7M394.6 205.4h.7M393.6 208.1h.7M392.6 212.8h.7M390.1 209.5h.7M387.9 210.4h.7M394.7 215.3h.7M381.5 214.2h.7M402.1 210.2h.7M391.6 212.2h.7M401.1 211.5h.7M395.8 211.8h.7M388.4 212.3h.7M401.6 212.2h.7M387.9 211.3h.7M396.1 212.9h.7M393.7 214.6h.7M405.6 215.2h.7M398.8 216.2h.7M396.7 211.2h.7M385.6 211.3h.7M406.6 208.9h.7M403.2 207.6h.7M399.4 218.4h.7M397.3 207.7h.7M399.3 211.4h.7M403.3 210.3h.7M383.2 209.4h.7M401.7 215.7h.7M399.2 212.0h.7M402.4 211.4h.7M393.4 212.4h.7M405.7 210.5h.7M400.9 209.8h.7M391.1 212.1h.7M386.4 208.2h.7M387.5 209.2h.7M389.7 219.6h.7M401.8 212.3h.7M386.3 202.9h.7M400.5 209.8h.7M405.3 210.9h.7M386.6 209.0h.7M384.8 206.2h.7M402.6 210.3h.7M402.4 210.1h.7M395.1 209.8h.7M392.6 209.3h.7M408.8 212.3h.7M381.5 216.9h.7M406.9 216.3h.7M396.1 211.2h.7M393.1 212.0h.7M400.7 212.0h.7M390.4 208.1h.7M410.2 218.4h.7M387.1 209.0h.7M396.6 213.8h.7M396.0 212.6h.7M399.8 215.9h.7M386.6 215.1h.7M400.4 213.9h.7M384.9 210.4h.7M394.9 213.9h.7M402.4 214.5h.7M386.6 215.6h.7M397.5 215.1h.7M396.8 209.4h.7M417.8 215.2h.7M403.0 210.5h.7M395.2 215.6h.7M400.5 218.1h.7M406.5 208.6h.7M384.6 215.2h.7M401.7 211.2h.7M394.6 209.8h.7M411.2 212.0h.7M385.9 214.4h.7M396.2 213.0h.7M393.8 211.5h.7M381.9 212.9h.7M391.4 210.2h.7M399.4 216.4h.7M379.7 210.4h.7M401.2 215.6h.7M389.6 212.5h.7M400.1 215.2h.7M391.9 210.9h.7M392.8 215.5h.7M405.5 210.8h.7M395.8 212.5h.7M389.7 211.0h.7M403.8 214.9h.7M391.5 209.3h.7M395.9 206.7h.7M399.3 212.4h.7M386.2 210.4h.7M391.6 210.6h.7M389.9 216.1h.7M389.2 214.0h.7M398.5 216.9h.7M396.4 211.8h.7M397.4 205.4h.7M416.0 212.1h.7M394.3 207.8h.7M395.8 217.3h.7M390.8 213.0h.7M405.1 215.5h.7M393.6 205.7h.7M400.1 213.9h.7M394.3 210.2h.7M410.8 207.2h.7M392.8 209.5h.7M384.4 208.8h.7M390.5 215.7h.7M382.9 206.4h.7M398.9 206.7h.7M380.9 208.8h.7M387.2 208.0h.7M395.6 213.3h.7M391.7 210.6h.7M402.6 211.6h.7M402.7 210.1h.7M400.8 216.4h.7M385.8 221.4h.7M394.3 210.5h.7M395.6 213.3h.7M387.2 211.4h.7M392.2 216.4h.7M383.1 213.3h.7M394.3 209.2h.7M397.9 211.1h.7M397.2 212.7h.7M406.5 211.0h.7M410.2 203.4h.7M411.4 216.7h.7M409.3 213.2h.7M399.1 208.5h.7M407.5 208.5h.7M390.5 211.5h.7M398.7 213.1h.7M387.6 210.2h.7M400.8 216.1h.7M403.0 213.6h.7M394.8 209.9h.7M392.8 211.3h.7M401.1 210.4h.7M413.3 209.3h.7M403.4 211.5h.7M395.7 210.5h.7M409.1 211.5h.7M401.2 212.5h.7M402.8 214.1h.7M410.0 210.1h.7M390.3 217.2h.7M407.0 212.6h.7M394.6 212.6h.7M407.2 209.8h.7M408.4 212.3h.7M394.0 210.4h.7M380.1 212.0h.7M386.4 209.4h.7M389.7 212.2h.7M402.6 212.3h.7M398.4 213.3h.7M409.7 214.5h.7M409.4 212.3h.7M399.7 209.8h.7M401.6 209.2h.7M400.6 209.9h.7M394.0 215.8h.7M398.0 214.6h.7M394.9 205.4h.7M408.6 211.9h.7M391.7 214.8h.7M387.8 208.8h.7M406.0 210.0h.7M405.9 211.3h.7M395.2 212.0h.7M392.9 215.2h.7M405.6 212.5h.7M401.7 213.9h.7M410.3 207.2h.7M405.0 215.4h.7M394.4 211.8h.7M394.1 215.9h.7M387.7 213.4h.7M407.1 214.3h.7M393.0 210.1h.7M380.0 207.5h.7M405.6 209.1h.7M383.8 210.3h.7M385.0 212.8h.7M389.9 214.7h.7M395.9 207.0h.7M390.7 209.3h.7M390.1 215.6h.7M388.9 212.6h.7M392.2 213.6h.7M385.5 206.0h.7M400.9 216.9h.7M385.8 210.2h.7M392.8 208.5h.7M404.6 212.4h.7M385.8 210.5h.7M407.5 210.0h.7M392.8 208.8h.7M398.2 210.1h.7M404.0 209.4h.7M385.2 212.7h.7M371.6 207.3h.7M399.1 212.8h.7M392.3 210.1h.7M390.4 210.9h.7M393.2 213.5h.7M396.9 213.7h.7M409.9 211.6h.7M394.6 213.0h.7M413.6 211.5h.7M410.3 216.6h.7M375.0 207.3h.7M389.0 212.8h.7M407.5 212.6h.7M398.2 219.2h.7M399.7 219.2h.7M389.7 217.0h.7M392.8 203.5h.7M390.3 209.9h.7M396.5 214.4h.7M402.4 213.9h.7M390.9 217.5h.7M406.4 212.5h.7M392.3 211.4h.7M395.1 209.4h.7M396.8 209.6h.7M402.0 209.9h.7M400.8 213.1h.7M398.2 213.7h.7M388.7 220.1h.7M391.4 214.0h.7M397.1 210.4h.7M410.8 216.3h.7M394.7 213.6h.7M402.3 217.5h.7M405.0 211.7h.7M394.9 207.8h.7M399.0 214.9h.7M393.8 213.9h.7M397.9 210.3h.7M387.2 215.1h.7M417.1 214.8h.7M388.3 207.9h.7M398.9 214.2h.7M409.0 204.4h.7M411.7 213.2h.7M398.0 213.2h.7M394.1 210.7h.7M405.3 206.5h.7M396.0 213.7h.7M383.7 210.6h.7M409.1 213.8h.7M402.6 214.5h.7M398.7 213.2h.7M390.4 210.8h.7M411.7 208.5h.7M395.6 207.5h.7M392.6 209.0h.7M387.1 212.1h.7M389.4 213.2h.7M411.4 204.0h.7M395.6 204.7h.7M395.9 213.1h.7M398.6 216.0h.7M398.2 206.1h.7M409.0 209.3h.7M396.2 212.9h.7M389.9 211.8h.7M408.9 206.8h.7M383.6 209.6h.7M395.6 207.4h.7M378.5 214.0h.7M400.1 207.5h.7M401.5 211.9h.7M398.2 207.4h.7M395.2 213.4h.7M382.9 207.5h.7M404.7 219.0h.7M402.2 211.9h.7M388.3 210.0h.7M394.9 213.2h.7M394.9 220.2h.7M407.5 204.9h.7M387.6 211.3h.7M404.8 213.6h.7M374.9 205.1h.7M407.8 214.4h.7M417.5 215.7h.7M400.7 217.2h.7M393.4 209.8h.7M388.8 212.3h.7M400.5 215.2h.7M408.6 214.6h.7M406.8 211.5h.7M389.2 213.9h.7M405.1 216.8h.7M395.6 210.2h.7M394.1 212.9h.7M396.6 211.2h.7M399.0 211.0h.7M399.7 209.9h.7M384.6 210.1h.7M412.1 209.9h.7M404.3 216.8h.7M392.6 212.5h.7M378.7 212.8h.7M409.3 213.1h.7M381.0 209.0h.7M391.0 211.9h.7M399.3 210.5h.7M394.5 208.9h.7M401.6 212.8h.7M399.8 210.3h.7M400.9 211.0h.7M399.4 211.4h.7M391.7 207.8h.7M382.0 206.3h.7M400.7 223.2h.7M383.8 208.3h.7M396.9 224.1h.7M395.3 207.7h.7M400.3 219.2h.7M374.6 206.6h.7M406.9 208.4h.7M396.1 209.6h.7M403.1 207.2h.7M399.5 212.7h.7M401.5 213.5h.7M398.2 205.8h.7M394.4 208.4h.7M401.2 211.3h.7M398.2 215.7h.7M396.1 217.6h.7M403.7 207.1h.7M392.3 215.8h.7M393.0 215.7h.7M392.5 211.2h.7M405.2 206.8h.7M397.6 210.3h.7M398.4 217.8h.7M400.9 207.4h.7M404.7 210.7h.7M398.3 215.9h.7M394.5 215.0h.7M398.4 208.8h.7M394.5 207.0h.7M406.5 212.9h.7M404.8 208.4h.7M403.8 208.1h.7M399.2 211.9h.7M392.3 212.6h.7M397.3 208.8h.7M391.0 207.0h.7M408.0 212.9h.7M394.1 214.0h.7M390.1 207.4h.7M399.9 217.4h.7M399.4 212.5h.7M411.0 207.2h.7M421.5 209.3h.7M396.4 207.1h.7M387.3 210.5h.7M416.6 209.6h.7M392.1 212.5h.7M388.8 210.5h.7M403.6 204.6h.7M394.6 210.7h.7M392.9 211.2h.7M382.6 209.5h.7M392.8 208.0h.7M407.1 219.3h.7M403.4 209.2h.7M408.4 214.1h.7M390.5 213.5h.7M392.4 213.5h.7M404.4 216.2h.7M388.6 210.9h.7M397.0 207.6h.7M400.3 214.4h.7M385.9 209.3h.7M388.2 206.9h.7M388.5 216.1h.7M391.7 210.1h.7M404.9 215.8h.7M408.3 205.2h.7M403.0 206.1h.7M391.9 210.1h.7M392.4 218.4h.7M395.7 215.8h.7M395.6 211.5h.7M401.1 213.6h.7M401.0 206.0h.7M401.1 213.1h.7M401.8 211.9h.7M400.3 207.5h.7M406.1 208.1h.7M408.2 215.9h.7M396.5 210.8h.7M403.2 211.1h.7M387.5 212.3h.7M387.2 209.7h.7M411.4 215.4h.7M393.4 211.4h.7M391.8 211.5h.7M385.4 213.5h.7M397.1 209.7h.7M392.1 220.7h.7M393.5 210.0h.7M392.3 209.8h.7M407.5 214.7h.7M400.4 213.3h.7M387.9 202.9h.7M409.1 214.9h.7M398.7 212.9h.7M398.6 212.0h.7M394.9 203.9h.7M401.6 212.2h.7M404.8 213.3h.7M394.7 213.8h.7M398.5 210.3h.7M394.0 210.2h.7M394.6 210.1h.7M404.9 222.4h.7M396.1 215.6h.7M381.2 199.7h.7M393.2 211.1h.7M391.1 206.8h.7M390.2 209.7h.7M398.2 210.7h.7M387.4 210.0h.7M409.1 209.4h.7M397.5 215.3h.7M390.6 209.5h.7M420.2 217.4h.7M392.8 212.1h.7M397.8 212.4h.7M400.7 211.0h.7M379.3 207.5h.7M398.2 207.1h.7M394.4 216.9h.7M398.9 209.6h.7M398.1 215.5h.7M383.3 206.7h.7M391.7 210.0h.7M396.3 209.7h.7M397.9 212.2h.7M387.7 209.1h.7M387.1 212.3h.7M399.1 214.2h.7M390.0 209.6h.7M379.3 210.9h.7M384.1 212.3h.7M405.6 213.8h.7M402.0 212.9h.7M400.0 215.2h.7M407.1 219.4h.7M394.9 214.6h.7M403.9 213.7h.7M399.1 207.5h.7M405.7 209.2h.7M391.8 208.6h.7M401.5 208.7h.7M400.7 214.0h.7M397.8 210.7h.7M401.8 216.6h.7M393.3 208.0h.7M392.2 208.5h.7M395.1 211.2h.7M378.6 215.9h.7M390.5 210.0h.7M381.4 204.1h.7M388.9 212.2h.7M403.8 205.9h.7M398.8 217.1h.7M394.7 214.9h.7M399.5 208.7h.7M404.9 210.1h.7M399.8 210.6h.7M395.3 212.2h.7M407.6 206.5h.7M388.1 211.7h.7M404.8 211.6h.7M395.5 213.5h.7M409.6 209.3h.7M384.3 210.1h.7M403.1 207.6h.7M406.0 215.5h.7M403.3 209.2h.7M386.7 213.5h.7M399.1 214.3h.7M386.2 201.0h.7M405.9 215.7h.7M394.8 211.7h.7M400.6 214.6h.7M395.5 209.9h.7M389.2 214.9h.7M397.8 200.0h.7M399.7 210.0h.7M386.8 209.5h.7M386.8 209.7h.7M392.6 213.3h.7M388.9 205.1h.7M392.2 206.8h.7M402.9 211.4h.7M383.6 208.0h.7M396.8 211.6h.7M382.3 210.6h.7M399.4 215.3h.7M405.8 211.8h.7M386.6 209.9h.7M402.2 208.9h.7M407.0 209.0h.7M388.0 214.2h.7M396.2 212.9h.7M394.6 211.8h.7M392.3 218.1h.7M402.2 211.6h.7M400.8 214.9h.7M392.8 212.2h.7M398.6 209.9h.7M390.8 210.8h.7M394.6 210.3h.7M381.5 211.2h.7M402.2 212.3h.7M410.7 215.5h.7M394.2 209.3h.7M401.0 210.7h.7M384.1 211.5h.7M394.6 210.9h.7M401.9 212.7h.7M413.1 210.1h.7M396.2 212.8h.7M393.5 209.8h.7M411.0 207.5h.7M399.8 205.9h.7M399.7 205.3h.7M387.7 215.2h.7M409.3 212.9h.7M375.3 214.1h.7M398.9 208.1h.7M394.2 207.1h.7M396.2 211.5h.7M398.0 214.6h.7M391.9 203.9h.7M387.7 206.9h.7M394.1 210.1h.7M396.7 216.5h.7M397.2 208.1h.7M394.6 208.6h.7M395.1 213.7h.7M388.0 213.7h.7M411.2 217.8h.7M410.0 212.8h.7M386.2 218.1h.7M396.6 212.6h.7M394.2 208.4h.7M401.9 207.2h.7M386.0 213.1h.7M394.0 208.7h.7M401.0 216.9h.7M394.7 211.2h.7M401.5 215.3h.7M405.2 214.6h.7M391.7 213.3h.7M397.1 206.0h.7M406.8 214.3h.7M407.9 212.2h.7M402.8 211.9h.7M398.3 215.0h.7M397.5 213.9h.7M396.7 216.0h.7M402.2 206.4h.7M410.2 214.0h.7M392.9 209.4h.7M412.8 213.0h.7M401.1 214.1h.7M392.2 217.6h.7M413.7 210.0h.7M406.0 206.7h.7M394.3 211.9h.7M397.4 213.8h.7M400.2 213.3h.7M395.9 212.8h.7M392.6 218.3h.7M397.5 216.1h.7M397.8 211.3h.7M395.6 207.3h.7M413.5 214.1h.7M398.0 210.3h.7M407.2 211.2h.7M393.3 209.7h.7M409.3 213.5h.7M395.8 209.5h.7M407.2 213.3h.7M394.4 214.7h.7M404.0 208.8h.7M406.1 216.0h.7M395.1 207.1h.7M405.7 211.1h.7M395.4 210.7h.7M394.9 214.6h.7M388.3 213.2h.7M406.2 215.9h.7M402.7 213.0h.7M395.5 211.3h.7M390.1 217.2h.7M396.1 208.3h.7M403.6 217.3h.7M399.2 210.8h.7M388.2 213.5h.7M395.1 209.4h.7M401.8 207.7h.7M402.9 203.8h.7M392.2 206.7h.7M395.1 214.4h.7M386.8 215.9h.7M391.7 209.9h.7M404.9 209.7h.7M408.5 211.7h.7M396.3 208.5h.7M406.1 212.1h.7M393.2 208.4h.7M392.1 211.2h.7M391.4 214.2h.7M396.8 209.7h.7M400.7 216.9h.7M380.7 212.1h.7M405.6 212.7h.7M403.6 206.9h.7M391.2 214.9h.7M396.4 212.0h.7M402.0 213.3h.7M400.6 210.3h.7M394.7 216.1h.7M393.2 206.7h.7M394.3 214.7h.7M411.2 213.1h.7M392.2 213.6h.7M399.5 216.0h.7M401.2 214.6h.7M401.1 213.4h.7M390.0 210.9h.7M409.7 217.0h.7M404.7 213.6h.7M396.3 212.9h.7M394.6 215.4h.7M394.7 209.1h.7M384.5 216.4h.7M391.2 208.6h.7M400.3 218.1h.7M402.4 211.0h.7M401.6 209.3h.7M395.2 211.8h.7M397.3 214.5h.7M401.4 218.4h.7M403.7 211.2h.7M399.2 209.1h.7M392.4 210.4h.7M405.1 209.9h.7M385.0 207.7h.7M387.8 210.7h.7M394.8 207.7h.7M391.0 210.1h.7M400.3 214.1h.7M407.5 211.5h.7M402.1 212.3h.7M388.7 209.2h.7M414.3 212.2h.7M410.1 215.3h.7M410.2 211.9h.7M404.5 211.2h.7M388.6 207.4h.7M400.7 206.6h.7M400.1 209.0h.7M400.0 207.3h.7M403.9 211.4h.7M385.4 206.3h.7M397.8 206.3h.7M399.8 213.6h.7M392.2 216.3h.7M408.5 213.5h.7M400.8 213.6h.7M395.3 216.1h.7M393.1 203.1h.7M397.5 213.3h.7M403.7 208.4h.7M408.1 209.6h.7M402.2 214.6h.7M398.7 215.7h.7M393.5 218.5h.7M401.1 210.6h.7M417.5 212.9h.7M384.8 215.9h.7M409.3 210.5h.7M389.7 215.2h.7M397.8 208.6h.7M393.6 211.9h.7M404.9 217.5h.7M392.5 216.7h.7M385.6 213.6h.7M396.2 213.2h.7M393.9 209.2h.7M399.5 215.8h.7M380.2 211.1h.7M394.2 208.0h.7M386.9 213.0h.7M401.6 214.2h.7M381.9 205.8h.7M392.6 210.1h.7M411.0 211.3h.7M398.3 215.2h.7M410.3 213.8h.7M400.0 218.5h.7M394.2 205.6h.7M391.5 210.5h.7M407.5 213.4h.7M406.6 212.7h.7M397.7 209.9h.7M387.8 213.0h.7M400.1 213.9h.7M393.2 210.2h.7M400.3 214.0h.7M412.7 209.7h.7M405.0 215.2h.7M395.3 212.2h.7M396.9 217.0h.7M417.0 214.0h.7M395.4 214.9h.7M401.2 211.4h.7M403.2 215.1h.7M394.3 214.5h.7M380.0 206.5h.7M394.9 212.2h.7M386.1 216.2h.7M394.4 212.2h.7M397.0 214.4h.7M392.9 214.1h.7M390.9 206.5h.7M401.3 212.6h.7M404.2 205.6h.7M398.2 209.7h.7M395.9 210.4h.7M394.4 209.4h.7M405.2 206.4h.7M384.4 212.3h.7M412.9 210.1h.7M390.3 207.5h.7M389.4 215.6h.7M402.6 215.2h.7M400.0 212.8h.7M392.8 208.3h.7M402.1 220.5h.7M394.5 216.0h.7M391.9 211.7h.7M410.5 212.3h.7M402.3 210.2h.7M411.9 208.4h.7M401.7 211.3h.7M398.9 213.1h.7M407.5 215.3h.7M405.5 213.5h.7M389.1 215.9h.7M409.2 214.1h.7M403.5 211.4h.7M386.2 214.6h.7M391.7 218.0h.7M402.7 212.0h.7M392.6 211.9h.7M389.5 210.1h.7M409.7 211.5h.7M411.6 212.3h.7M400.6 208.9h.7M395.0 210.2h.7M386.6 217.8h.7M401.9 211.8h.7M388.9 211.5h.7M389.2 208.1h.7M395.9 219.1h.7M383.8 213.0h.7M393.1 201.7h.7M386.4 210.8h.7M397.8 209.3h.7M411.1 214.4h.7M392.4 206.0h.7M398.7 209.6h.7M405.2 208.7h.7M406.6 210.8h.7M398.8 211.0h.7M402.1 216.0h.7M393.1 208.5h.7M412.0 215.9h.7M412.1 215.9h.7M398.3 217.4h.7M392.1 210.1h.7M394.2 214.0h.7M390.7 210.9h.7M390.7 210.7h.7M406.0 216.1h.7M395.6 220.4h.7M391.8 213.1h.7M393.6 204.1h.7M388.1 215.5h.7M384.4 221.1h.7M396.3 212.7h.7M407.0 212.4h.7M392.3 209.5h.7M390.0 213.3h.7M393.6 213.4h.7M385.6 209.7h.7M413.3 213.9h.7M396.5 215.8h.7M399.4 217.2h.7M388.2 214.0h.7M389.0 213.7h.7M416.4 218.1h.7M390.6 212.9h.7M400.8 209.6h.7M399.1 208.3h.7M404.8 215.3h.7M396.0 214.1h.7M415.8 212.3h.7M382.7 212.2h.7M393.7 209.0h.7M404.3 215.6h.7M401.9 217.6h.7M392.3 210.1h.7M400.5 202.8h.7M376.0 211.8h.7M395.6 211.9h.7M389.8 212.2h.7M405.4 210.1h.7M401.6 211.5h.7M396.0 212.2h.7M409.0 214.2h.7M402.6 212.6h.7M380.5 214.1h.7M397.1 212.1h.7M393.3 206.3h.7M408.8 218.7h.7M409.4 206.2h.7M401.5 208.0h.7M395.8 210.0h.7M392.4 208.9h.7M393.4 214.3h.7M409.7 215.7h.7M397.1 211.3h.7M395.3 211.6h.7M392.4 210.9h.7M403.8 211.4h.7M390.8 211.1h.7M397.9 211.6h.7M395.1 214.1h.7M396.8 208.3h.7M401.6 209.6h.7M403.2 214.9h.7M400.9 213.1h.7M386.7 210.6h.7M398.1 214.1h.7M388.4 210.8h.7M385.2 211.8h.7M397.8 212.3h.7M410.1 215.0h.7M395.6 209.8h.7M393.7 214.3h.7M404.3 210.5h.7M396.2 210.3h.7M402.5 212.8h.7M391.5 208.5h.7M407.3 207.6h.7M383.0 200.5h.7M413.1 210.8h.7M403.8 214.1h.7M403.7 216.1h.7M393.5 211.6h.7M404.9 214.1h.7M391.2 208.9h.7M385.8 212.1h.7M393.0 206.3h.7M392.8 212.7h.7M398.6 211.1h.7M398.4 214.1h.7M387.7 208.5h.7M404.8 214.7h.7M386.1 208.7h.7M408.5 215.0h.7M396.0 215.2h.7M407.9 217.2h.7M386.2 206.8h.7M393.1 211.4h.7M394.4 212.5h.7M408.8 216.2h.7M404.9 212.2h.7M410.1 214.1h.7M399.1 211.9h.7M382.7 218.4h.7M397.0 214.9h.7M415.0 212.1h.7M388.0 214.8h.7M399.0 208.7h.7M404.7 212.3h.7M389.7 202.8h.7M389.3 212.7h.7M389.0 214.7h.7M414.5 213.8h.7M398.9 211.6h.7M403.9 212.3h.7M405.3 217.1h.7M403.9 208.9h.7M402.4 211.2h.7M399.6 215.3h.7M391.9 212.2h.7M408.7 209.6h.7M395.6 214.2h.7M395.3 215.2h.7M389.2 206.3h.7M400.1 211.5h.7M399.6 215.2h.7M405.4 211.1h.7M394.1 205.0h.7M389.5 212.2h.7M398.9 206.9h.7M403.4 212.0h.7M405.8 211.1h.7M404.8 208.5h.7M382.5 208.3h.7M402.7 213.5h.7M382.2 211.5h.7M402.4 217.8h.7M403.3 213.9h.7M384.7 212.4h.7M381.6 210.0h.7M394.2 208.4h.7M389.1 210.9h.7M401.7 209.9h.7M399.5 214.4h.7M397.0 218.3h.7M394.7 209.2h.7M382.1 214.6h.7M402.5 211.5h.7M399.6 211.5h.7M404.0 212.2h.7M398.9 211.6h.7M390.1 203.9h.7M401.4 207.8h.7M400.3 214.2h.7M412.0 210.1h.7M398.3 215.1h.7M391.8 209.5h.7M400.7 219.0h.7M405.7 215.5h.7M389.5 213.6h.7M406.2 208.0h.7M397.2 211.2h.7M402.2 206.2h.7M402.7 212.1h.7M395.0 204.5h.7M380.7 209.1h.7M402.3 213.5h.7M403.1 206.4h.7M398.7 216.5h.7M384.9 213.4h.7M391.4 213.4h.7M397.9 206.4h.7M388.8 215.7h.7M396.3 216.0h.7M399.8 215.0h.7M394.0 212.4h.7M394.2 214.7h.7M392.6 215.3h.7M409.6 208.4h.7M395.8 213.6h.7M411.2 216.5h.7M397.8 206.0h.7M403.8 210.2h.7M398.7 213.3h.7M386.0 214.8h.7M404.4 214.2h.7M401.8 213.3h.7M386.1 209.5h.7M403.6 211.0h.7M397.3 213.1h.7M397.8 212.7h.7M401.0 212.0h.7M388.4 210.4h.7M404.7 209.9h.7M400.8 213.0h.7M390.1 201.9h.7M397.0 209.2h.7M392.2 214.7h.7M391.0 212.7h.7M398.0 212.5h.7M412.9 206.0h.7M404.7 211.7h.7M394.9 209.4h.7M397.4 212.0h.7M389.9 217.0h.7M391.2 211.0h.7M387.1 211.8h.7M399.9 215.6h.7M404.9 210.5h.7M409.8 212.1h.7M409.4 218.3h.7M393.9 208.0h.7M401.4 216.9h.7M400.3 215.7h.7M401.8 215.1h.7M407.6 211.4h.7M385.9 210.8h.7M390.9 207.5h.7M395.8 214.1h.7M382.5 205.9h.7M403.4 209.2h.7M394.0 216.2h.7M406.0 213.5h.7M401.4 202.9h.7M401.5 213.3h.7M386.1 211.8h.7M400.7 211.6h.7M403.4 215.1h.7M397.5 211.0h.7M387.8 215.1h.7M392.6 212.6h.7M409.2 215.1h.7M387.1 211.0h.7M391.5 206.0h.7M390.8 213.4h.7M399.8 211.3h.7M398.5 208.0h.7M391.1 210.9h.7M403.4 211.1h.7M395.8 212.9h.7M408.7 208.2h.7M401.3 212.7h.7M396.5 212.6h.7M381.5 211.1h.7M395.2 207.6h.7M403.8 211.8h.7M394.4 214.2h.7M389.8 209.0h.7M403.6 215.1h.7M413.0 211.1h.7M385.6 206.2h.7M387.7 211.7h.7M395.2 209.4h.7M389.1 209.0h.7M394.2 215.7h.7M402.0 216.7h.7M403.5 214.7h.7M406.4 213.8h.7M409.2 216.3h.7M411.4 213.3h.7M391.0 219.9h.7M394.9 213.4h.7M394.1 209.3h.7M400.5 208.2h.7M395.8 216.5h.7M398.1 214.6h.7M402.1 213.4h.7M397.9 213.9h.7M389.4 213.4h.7M388.6 208.8h.7M392.4 207.1h.7M381.6 212.3h.7M401.0 214.2h.7M414.5 213.3h.7M403.0 209.6h.7M402.7 208.3h.7M412.6 209.4h.7M393.8 214.2h.7M379.7 215.4h.7M389.6 212.1h.7M404.8 212.7h.7M404.4 210.5h.7M401.7 204.7h.7M409.0 210.2h.7M390.2 211.5h.7M410.5 210.2h.7M396.9 210.6h.7M389.7 207.0h.7M401.7 214.4h.7M391.1 212.3h.7M400.6 213.3h.7M395.7 211.9h.7M399.2 208.3h.7M395.9 214.4h.7M392.6 216.0h.7M395.2 208.0h.7M394.7 207.1h.7M401.9 206.7h.7M397.2 211.0h.7M394.6 213.1h.7M399.3 210.1h.7M403.5 210.6h.7M404.1 216.7h.7M400.0 215.1h.7M386.5 213.1h.7M385.3 210.6h.7M402.5 203.1h.7M390.9 208.9h.7M389.6 211.5h.7M402.1 208.2h.7M392.1 205.3h.7M391.5 204.5h.7M385.2 212.7h.7M403.9 209.4h.7M399.8 209.3h.7M405.4 218.1h.7M377.6 207.8h.7M392.0 209.9h.7M409.4 217.8h.7M396.9 213.9h.7M384.5 210.1h.7M394.8 211.2h.7M399.4 206.7h.7M388.8 218.6h.7M383.3 211.3h.7M402.8 213.8h.7M397.5 206.4h.7M393.3 206.4h.7M412.5 213.8h.7M402.8 212.8h.7M393.9 215.6h.7M404.0 214.3h.7M401.6 214.5h.7M394.8 213.1h.7M397.7 211.0h.7M402.1 219.3h.7M381.0 215.8h.7M393.6 215.7h.7M389.0 210.7h.7M405.1 212.0h.7M399.8 207.9h.7M388.0 216.9h.7M398.3 211.6h.7M386.1 207.7h.7M388.9 211.2h.7M396.1 209.7h.7M391.7 211.9h.7M406.2 207.6h.7M385.8 215.0h.7M385.7 209.8h.7M397.9 218.0h.7M380.9 201.2h.7M396.4 215.4h.7M398.1 209.1h.7M398.5 205.0h.7M403.5 217.1h.7M395.4 214.5h.7M388.7 216.3h.7M391.9 208.8h.7M391.0 205.5h.7M402.3 218.8h.7M385.7 210.5h.7M400.5 210.1h.7M384.7 212.3h.7M404.9 212.6h.7M388.6 210.3h.7M381.8 210.8h.7M406.6 216.1h.7M396.3 213.2h.7M392.9 212.0h.7M392.3 212.1h.7M392.9 212.2h.7M402.5 212.0h.7M386.8 212.9h.7M395.1 210.0h.7M401.4 209.2h.7M404.4 214.1h.7M391.6 209.2h.7M396.1 208.7h.7M404.5 204.6h.7M398.2 210.7h.7M388.4 213.5h.7M393.2 213.1h.7M393.6 210.7h.7M401.1 215.3h.7M404.9 212.2h.7M408.7 211.3h.7M386.3 204.9h.7M385.6 208.3h.7M383.0 212.2h.7M397.3 211.7h.7M398.9 211.5h.7M395.0 210.6h.7M397.3 208.0h.7M407.1 217.5h.7M397.3 219.5h.7M389.4 214.4h.7M384.2 213.2h.7M391.1 214.9h.7M397.9 215.1h.7M401.8 213.8h.7M394.9 217.1h.7M399.8 213.6h.7M408.3 211.5h.7M410.7 216.2h.7M397.6 206.9h.7M406.6 211.3h.7M397.8 212.3h.7M404.5 214.4h.7M382.7 208.8h.7M399.8 212.5h.7M403.3 214.1h.7M409.8 210.1h.7M407.3 213.7h.7M399.4 214.2h.7M394.4 214.1h.7M395.4 214.2h.7M391.0 215.4h.7M385.1 208.9h.7M396.7 212.6h.7M390.8 210.1h.7M399.0 215.5h.7M407.2 210.8h.7M396.5 210.7h.7M385.1 209.7h.7M405.9 207.7h.7M419.5 216.3h.7M410.6 213.2h.7M378.9 212.3h.7M409.5 210.5h.7M407.0 214.9h.7M403.2 214.7h.7M401.6 214.3h.7M406.4 213.7h.7M402.0 213.5h.7M398.1 208.9h.7M382.9 207.6h.7M387.3 206.3h.7M402.5 211.0h.7M407.0 222.9h.7M403.1 210.6h.7M400.0 211.3h.7M399.3 219.0h.7M409.6 216.8h.7M399.3 218.0h.7M403.6 215.2h.7M387.9 209.2h.7M398.4 211.2h.7M393.0 204.8h.7M391.2 211.1h.7M399.5 208.3h.7M396.0 217.9h.7M398.3 205.2h.7M395.6 211.7h.7M407.0 213.0h.7M407.9 213.5h.7M406.3 216.9h.7M409.2 213.1h.7M387.5 212.0h.7M400.8 209.6h.7M403.6 211.6h.7M403.3 212.8h.7M389.8 215.0h.7M412.9 215.8h.7M399.3 206.1h.7M399.6 211.9h.7M390.9 205.0h.7M400.6 215.3h.7M402.7 219.9h.7M382.2 212.2h.7M396.9 216.6h.7M396.8 208.5h.7M396.6 213.3h.7M391.3 208.8h.7M399.2 214.9h.7M395.3 213.4h.7M393.1 210.4h.7M398.6 215.2h.7M409.5 212.1h.7M400.6 218.7h.7M403.6 211.0h.7M400.3 207.2h.7M380.6 208.3h.7M391.5 207.0h.7M405.1 210.7h.7M397.8 212.1h.7M395.5 207.7h.7M412.3 205.9h.7M396.8 214.2h.7M395.5 211.4h.7M399.5 212.8h.7M394.5 215.4h.7M401.1 217.2h.7M397.8 205.1h.7M384.2 209.4h.7M400.7 206.5h.7M392.7 215.8h.7M399.7 209.6h.7M396.3 212.2h.7M393.8 210.6h.7M392.1 212.3h.7M409.5 217.4h.7M387.4 219.2h.7M396.2 207.0h.7M385.5 211.7h.7M398.9 209.8h.7M390.9 210.8h.7M399.2 214.2h.7M401.5 204.0h.7M392.5 212.5h.7M400.0 214.7h.7M385.5 216.5h.7M387.8 210.6h.7M393.5 210.0h.7M391.1 214.3h.7M403.3 213.4h.7M387.2 209.2h.7M396.7 213.2h.7M392.8 210.7h.7M417.6 213.1h.7M394.8 203.3h.7M391.3 217.1h.7M403.7 208.1h.7M403.3 212.7h.7M391.0 214.2h.7M392.4 210.5h.7M397.3 212.6h.7M393.7 212.7h.7M397.2 212.5h.7M400.2 209.8h.7M386.5 211.0h.7M406.7 213.5h.7M398.9 209.4h.7M388.3 207.1h.7M390.0 210.2h.7M385.2 210.8h.7M384.9 213.4h.7M396.9 205.8h.7M392.9 212.4h.7M400.1 214.6h.7M394.4 211.2h.7M395.3 213.6h.7M391.8 211.0h.7M398.3 210.7h.7M388.8 216.0h.7M401.0 208.9h.7M412.4 210.1h.7M390.4 210.2h.7M401.3 217.1h.7M407.8 214.3h.7M397.7 214.1h.7M391.1 209.1h.7M401.2 212.7h.7M399.0 208.5h.7M399.1 207.0h.7M404.3 212.3h.7M392.2 210.0h.7M418.7 223.6h.7M391.7 216.2h.7M374.7 214.5h.7M397.3 212.7h.7M389.7 207.0h.7M399.0 210.4h.7M401.1 215.6h.7M396.2 213.6h.7M398.5 212.7h.7M393.1 212.4h.7M400.5 212.3h.7M393.6 206.7h.7M388.9 216.7h.7M405.0 213.3h.7M399.4 211.4h.7M402.4 215.4h.7M395.2 212.8h.7M404.5 206.9h.7M389.9 209.5h.7M388.2 209.9h.7M390.6 210.1h.7M400.8 208.0h.7M397.9 216.6h.7M398.6 207.8h.7M392.5 215.6h.7M395.1 209.6h.7M403.2 209.7h.7M388.6 213.5h.7M397.3 209.6h.7M400.8 215.8h.7M405.5 212.6h.7M400.7 213.7h.7M385.7 216.9h.7M392.1 209.7h.7M390.8 208.2h.7M405.6 212.3h.7M392.7 205.4h.7M398.4 211.7h.7M389.2 211.1h.7M383.1 213.3h.7M387.8 213.0h.7M397.9 204.7h.7M388.5 209.1h.7M403.3 214.2h.7M402.0 217.8h.7M394.9 210.0h.7M382.7 207.5h.7M401.5 209.2h.7M390.4 214.7h.7M378.2 215.6h.7M407.1 206.3h.7M400.8 212.0h.7M404.1 211.1h.7M396.2 216.6h.7M392.6 213.0h.7M402.0 211.7h.7M403.9 214.0h.7M403.6 206.4h.7M389.2 212.4h.7M406.2 217.2h.7M397.3 209.3h.7M388.8 204.8h.7M393.3 213.6h.7M396.6 206.8h.7M396.4 212.0h.7M391.4 216.5h.7M400.5 215.8h.7M397.9 208.6h.7M405.5 216.1h.7M392.7 207.1h.7M403.4 210.3h.7M388.2 211.1h.7M401.4 209.5h.7M397.4 215.2h.7M402.9 206.9h.7M402.7 218.2h.7M404.2 211.9h.7M400.0 206.6h.7M392.7 209.8h.7M413.1 212.7h.7M389.7 217.2h.7M406.6 206.7h.7M395.6 206.0h.7M405.1 204.5h.7M411.4 209.0h.7M389.2 218.6h.7M401.3 213.3h.7M403.8 208.8h.7M403.9 211.3h.7M401.2 212.8h.7M407.8 208.0h.7M386.5 213.5h.7M415.3 214.7h.7M395.9 214.1h.7M387.9 211.7h.7M384.3 211.6h.7M402.7 217.9h.7M393.3 214.8h.7M407.5 208.8h.7M395.1 205.4h.7M390.5 213.0h.7M381.6 210.0h.7M402.7 217.0h.7M378.0 212.1h.7M392.5 203.7h.7M389.4 213.4h.7M397.0 214.2h.7M394.9 214.0h.7M389.7 208.1h.7M395.9 205.8h.7M406.6 211.5h.7M389.7 208.5h.7M389.8 211.9h.7M394.4 214.6h.7M388.3 211.1h.7M385.6 209.6h.7M407.6 212.0h.7M404.0 212.0h.7M388.8 208.4h.7M388.5 212.5h.7M398.9 222.0h.7M409.9 215.4h.7M389.7 211.8h.7M390.2 219.5h.7M391.6 215.5h.7M386.8 213.9h.7M387.8 209.7h.7M398.5 212.4h.7M396.7 211.6h.7M390.6 211.1h.7M396.6 208.6h.7M401.5 212.7h.7M391.4 216.0h.7M392.8 205.1h.7M406.8 211.1h.7M408.3 213.9h.7M390.3 215.3h.7M400.7 215.2h.7M397.5 217.2h.7M404.2 211.1h.7M385.6 211.1h.7M397.7 208.5h.7M395.7 216.9h.7M393.5 215.5h.7M390.0 208.1h.7M404.3 211.6h.7M398.8 215.5h.7M409.6 208.3h.7M401.6 212.9h.7M398.2 218.1h.7M395.3 209.7h.7M401.0 205.1h.7M399.9 208.9h.7M399.6 209.4h.7M401.0 211.2h.7M391.7 213.4h.7M402.8 206.6h.7M387.3 210.4h.7M394.2 216.2h.7M409.2 214.1h.7M405.5 211.2h.7M386.7 212.3h.7M383.7 216.7h.7M399.1 215.9h.7M392.2 206.0h.7M395.6 213.4h.7M395.5 210.0h.7M397.7 211.2h.7M407.8 207.9h.7M380.2 210.6h.7M399.2 206.7h.7M396.8 213.3h.7M399.7 213.0h.7M391.3 206.5h.7M404.4 211.0h.7M386.6 216.6h.7M402.8 202.5h.7M416.9 213.4h.7M384.8 214.5h.7M399.6 216.2h.7M397.2 206.1h.7M395.8 210.3h.7M399.3 211.3h.7M401.4 207.9h.7M392.9 209.8h.7M400.3 206.1h.7M397.1 220.0h.7M383.3 214.6h.7M397.8 215.3h.7M397.5 212.7h.7M399.9 213.6h.7M387.9 210.9h.7M411.1 217.5h.7M390.6 208.2h.7M395.8 215.4h.7M404.1 210.2h.7M378.9 210.7h.7M384.4 215.3h.7M408.4 214.7h.7M401.6 214.0h.7M411.2 216.3h.7M408.1 208.5h.7M393.1 211.6h.7M380.0 209.9h.7M396.9 211.6h.7M416.4 212.2h.7M395.6 211.3h.7M394.4 206.8h.7M405.7 212.4h.7M399.8 212.1h.7M391.1 206.0h.7M394.9 213.5h.7M396.1 214.3h.7M391.0 210.5h.7M398.2 211.5h.7M398.4 216.8h.7M393.8 212.1h.7M392.1 213.4h.7M398.8 209.4h.7M389.3 207.3h.7M394.9 212.2h.7M393.3 211.2h.7M398.1 220.0h.7M406.1 220.3h.7M398.1 212.6h.7M412.0 213.9h.7M402.1 210.3h.7M392.9 214.3h.7M392.5 209.3h.7M385.6 212.2h.7M396.3 213.7h.7M390.4 207.2h.7M405.5 212.4h.7M403.1 208.2h.7M387.1 202.6h.7M399.3 215.4h.7M407.2 218.5h.7M383.1 207.3h.7M393.0 208.9h.7M395.4 209.0h.7M385.8 211.1h.7M398.0 209.2h.7M397.3 207.3h.7M394.5 210.5h.7M393.5 211.4h.7M387.3 206.7h.7M390.7 214.0h.7M389.7 208.2h.7M412.2 211.7h.7M394.1 208.6h.7M408.3 214.2h.7M399.0 217.4h.7M387.9 205.5h.7M405.5 213.8h.7M393.1 214.3h.7M396.3 218.5h.7M387.3 212.5h.7M404.5 215.3h.7M394.2 210.3h.7M393.7 214.0h.7M393.9 211.2h.7M404.9 211.8h.7M398.9 211.5h.7M397.1 204.1h.7M389.8 212.7h.7M392.1 209.4h.7M397.4 219.7h.7M391.2 208.2h.7M383.2 212.6h.7M396.6 208.9h.7M393.9 215.0h.7M404.8 213.5h.7M405.9 215.8h.7M393.5 214.4h.7M398.2 214.5h.7M399.1 219.3h.7M387.3 212.5h.7M388.7 219.4h.7M393.0 210.3h.7M396.8 211.6h.7M410.1 212.3h.7M398.9 215.6h.7M408.6 209.1h.7M399.3 207.3h.7M400.8 216.9h.7M393.0 210.6h.7M406.2 213.8h.7M403.2 210.6h.7M394.6 210.4h.7M409.1 207.3h.7M393.0 217.0h.7M396.5 208.0h.7M398.8 211.1h.7M396.1 213.5h.7M403.1 206.9h.7M398.5 217.1h.7M386.7 210.9h.7M388.1 213.6h.7M390.5 210.3h.7M393.8 213.2h.7M386.9 206.4h.7M398.4 216.6h.7M393.1 213.0h.7M399.0 212.3h.7M396.8 209.9h.7M395.1 215.9h.7M400.4 216.4h.7M391.4 211.9h.7M392.0 206.9h.7M403.9 211.2h.7M398.8 207.0h.7M395.0 211.3h.7M394.0 215.2h.7M400.5 212.5h.7M398.7 210.3h.7M391.5 210.5h.7M389.1 210.8h.7M396.1 215.7h.7M367.4 222.0h.7M364.1 222.0h.7M373.9 214.1h.7M369.5 216.8h.7M373.1 209.8h.7M374.3 213.9h.7M377.7 214.8h.7M378.1 212.1h.7M367.9 220.4h.7M372.9 214.5h.7M364.6 222.1h.7M364.7 221.5h.7M370.4 221.3h.7M369.9 215.6h.7M363.3 223.6h.7M379.5 217.0h.7M382.0 218.1h.7M376.8 207.6h.7M366.0 220.5h.7M371.5 220.9h.7M369.6 218.6h.7M369.4 219.3h.7M370.7 215.8h.7M367.5 217.5h.7M377.8 214.9h.7M375.2 214.6h.7M369.1 222.7h.7M377.3 211.1h.7M363.9 221.8h.7M381.7 215.0h.7M379.2 213.1h.7M366.0 217.8h.7M365.6 222.9h.7M376.1 207.0h.7M377.9 213.7h.7M366.3 217.2h.7M378.7 216.2h.7M363.4 223.2h.7M372.3 220.3h.7M368.5 219.3h.7M380.4 211.9h.7M368.0 215.1h.7M364.1 224.0h.7M369.0 219.1h.7M365.4 220.2h.7M372.5 219.0h.7M366.9 220.1h.7M364.5 223.5h.7M367.2 216.4h.7M374.7 215.2h.7M371.2 217.7h.7M374.1 212.6h.7M381.3 214.3h.7M371.2 215.9h.7M376.3 210.0h.7M372.3 221.0h.7M364.2 222.6h.7M372.3 218.1h.7M371.4 215.3h.7M380.9 212.6h.7M370.8 219.5h.7M364.6 220.3h.7M363.6 222.7h.7M378.1 215.1h.7M364.4 222.7h.7M373.6 218.7h.7M367.7 218.8h.7M379.4 210.7h.7M369.7 218.4h.7M373.2 217.6h.7M368.3 221.7h.7M366.8 220.6h.7M372.3 218.8h.7M363.0 222.0h.7M375.3 212.1h.7M363.0 221.4h.7M370.0 215.4h.7M367.7 217.1h.7M376.6 212.7h.7M370.0 221.4h.7M363.3 223.4h.7M364.4 221.3h.7M364.6 217.4h.7M372.1 214.6h.7M368.0 223.6h.7M375.8 213.9h.7M374.3 216.5h.7M379.8 213.6h.7M370.4 216.5h.7M369.7 221.2h.7M380.1 213.6h.7M380.2 215.1h.7M378.4 213.4h.7M364.1 222.4h.7M370.1 220.1h.7M371.1 213.1h.7M378.7 211.9h.7M370.0 220.2h.7M374.0 212.0h.7M367.5 221.2h.7M364.5 223.4h.7M364.4 220.4h.7M365.6 223.3h.7M363.7 221.4h.7M370.5 213.1h.7M379.1 213.5h.7M375.4 216.5h.7M372.4 221.4h.7M366.5 222.9h.7M370.2 216.2h.7M364.8 220.4h.7M374.5 214.2h.7M364.0 219.4h.7M366.1 220.3h.7M367.1 220.8h.7M376.4 212.9h.7M369.1 217.7h.7M366.9 218.1h.7M376.8 209.8h.7M366.5 220.3h.7M370.6 215.8h.7M363.2 222.6h.7M379.4 211.3h.7M366.1 223.6h.7M366.7 222.9h.7M373.7 214.1h.7M373.1 217.1h.7M375.8 217.4h.7M365.1 218.5h.7M373.1 218.3h.7M366.2 220.0h.7M366.2 222.7h.7M379.8 215.3h.7M374.6 218.1h.7M375.5 215.5h.7M372.4 216.0h.7M366.0 220.1h.7M364.2 223.0h.7M363.5 223.2h.7M371.5 218.6h.7M370.2 215.0h.7M371.5 216.6h.7M379.4 211.3h.7M369.2 221.1h.7M372.0 219.9h.7M367.5 218.6h.7M376.7 212.9h.7M366.2 221.3h.7M368.7 221.7h.7M369.9 220.4h.7M364.6 223.2h.7M365.1 217.7h.7M381.3 212.7h.7M371.8 214.4h.7M368.7 217.4h.7M368.7 219.6h.7M377.0 216.0h.7M366.0 221.4h.7M369.1 222.0h.7M365.1 220.4h.7M364.4 223.1h.7M365.3 218.5h.7M375.4 209.6h.7M372.4 216.6h.7M373.6 216.8h.7M366.0 220.3h.7M373.2 218.4h.7M371.8 216.5h.7M368.8 218.7h.7M376.2 209.4h.7M363.8 221.9h.7M376.5 213.1h.7M379.9 212.1h.7M369.2 214.1h.7M368.9 222.4h.7M363.6 223.2h.7M369.7 222.8h.7M369.5 215.4h.7M376.0 215.2h.7M378.1 210.3h.7M367.9 223.2h.7M376.6 214.6h.7M366.4 222.8h.7M367.7 219.8h.7M372.2 216.1h.7M373.9 212.5h.7M375.9 211.6h.7M373.0 219.3h.7M365.6 223.7h.7M370.4 216.5h.7M365.6 221.1h.7M363.9 223.0h.7M366.8 222.2h.7M373.8 219.5h.7M373.7 210.3h.7M373.9 218.0h.7M363.6 221.3h.7M372.1 222.5h.7M367.7 222.1h.7M368.7 222.1h.7M371.9 222.8h.7M365.0 223.6h.7M371.0 217.5h.7M365.0 221.3h.7M364.6 222.6h.7M374.5 212.6h.7M370.5 216.0h.7M372.8 220.3h.7M380.5 213.3h.7M370.2 214.8h.7M366.8 219.7h.7M373.7 211.8h.7M379.2 214.3h.7M369.8 222.8h.7M365.9 222.3h.7M374.6 213.3h.7M369.8 217.7h.7M364.4 223.8h.7M366.0 218.9h.7M367.7 216.2h.7M371.4 217.0h.7M364.4 219.3h.7M371.5 219.9h.7M379.4 214.6h.7M364.8 218.2h.7M368.5 221.5h.7M381.0 213.1h.7M364.2 219.3h.7M370.4 216.1h.7M370.3 217.2h.7M377.9 209.7h.7M366.2 223.5h.7M372.7 218.6h.7M370.3 220.9h.7M370.8 219.8h.7M380.1 213.6h.7M367.8 221.4h.7M379.0 212.4h.7M378.7 215.6h.7M379.4 211.0h.7M366.1 219.6h.7M363.1 221.5h.7M365.9 223.2h.7M369.3 220.5h.7M379.5 214.9h.7M365.7 223.3h.7M372.7 214.0h.7M372.6 212.9h.7M376.2 218.7h.7M380.0 213.2h.7M364.7 222.9h.7M375.1 216.0h.7M367.9 210.6h.7M363.3 222.9h.7M378.0 210.0h.7M378.3 214.6h.7M380.4 213.3h.7M381.1 212.4h.7M376.9 214.2h.7M369.7 221.4h.7M377.5 213.1h.7M365.1 219.1h.7M377.2 215.3h.7M367.4 218.6h.7M376.6 214.9h.7M373.9 212.8h.7M376.8 218.2h.7M368.2 218.5h.7M368.0 219.8h.7M365.4 223.0h.7M366.1 222.8h.7M368.1 221.3h.7M369.5 220.7h.7M381.8 215.2h.7M376.3 208.7h.7M372.4 215.6h.7M375.7 219.8h.7M377.6 208.8h.7M378.3 209.1h.7M374.2 208.8h.7M367.7 220.1h.7M365.5 221.7h.7M371.9 215.1h.7M374.9 211.1h.7M379.0 217.2h.7M377.4 213.7h.7M377.8 213.6h.7M379.8 213.5h.7M364.1 223.8h.7M369.0 218.8h.7M375.9 214.1h.7M363.9 223.4h.7M374.5 210.6h.7M368.4 217.4h.7M365.8 222.3h.7M367.5 220.5h.7M371.8 219.4h.7M367.3 219.3h.7M363.8 223.5h.7M375.9 216.2h.7M365.3 217.2h.7M370.3 217.0h.7M365.9 218.7h.7M366.9 218.3h.7M365.6 220.5h.7M365.0 217.4h.7M365.0 221.5h.7M378.2 216.1h.7M364.0 221.6h.7M369.8 221.1h.7M367.7 220.5h.7M376.5 212.3h.7M366.8 219.9h.7M367.7 219.3h.7M372.6 209.4h.7M364.1 221.4h.7M365.6 221.4h.7M368.1 215.6h.7M374.5 212.1h.7M374.5 220.2h.7M376.0 210.7h.7M379.9 214.9h.7M363.0 222.1h.7M368.8 217.4h.7M370.4 218.2h.7M379.1 210.8h.7M373.6 219.3h.7M376.4 216.1h.7M369.7 217.3h.7M363.9 218.2h.7M363.8 222.8h.7M369.0 219.6h.7M368.1 221.7h.7M364.1 223.6h.7M370.2 217.9h.7M367.7 220.6h.7M364.9 220.0h.7M379.9 211.5h.7M366.8 222.9h.7M372.6 212.2h.7M367.3 216.7h.7M377.3 216.3h.7M377.3 214.6h.7M379.9 214.6h.7M365.1 219.9h.7M380.9 216.1h.7M377.4 209.2h.7M373.3 217.6h.7M364.6 222.4h.7M365.6 222.6h.7M376.2 211.5h.7M369.3 216.8h.7M364.1 223.8h.7M370.2 217.6h.7M372.9 217.7h.7M366.7 219.0h.7M363.8 223.2h.7M373.8 211.8h.7M364.5 222.5h.7M377.2 216.0h.7M369.5 217.1h.7M367.6 222.0h.7M363.7 220.3h.7M373.7 214.2h.7M365.0 219.6h.7M371.6 218.8h.7M369.3 221.1h.7M374.8 214.2h.7M368.9 218.3h.7M370.7 218.1h.7M366.7 217.4h.7M380.7 212.3h.7M368.3 221.4h.7M371.8 215.8h.7M376.7 215.3h.7M368.8 223.4h.7M368.0 223.7h.7M372.7 214.7h.7M378.6 210.6h.7M371.3 213.8h.7M369.2 219.6h.7M374.3 214.5h.7M376.0 214.2h.7M367.1 222.0h.7M368.3 216.5h.7M375.6 213.6h.7M374.5 217.3h.7M370.2 215.2h.7M377.0 213.8h.7M377.3 214.5h.7M367.0 219.2h.7M372.4 218.2h.7M377.7 211.6h.7M371.2 216.7h.7M380.2 212.5h.7M374.3 214.6h.7M370.0 215.5h.7M374.8 211.7h.7M372.1 217.4h.7M367.1 221.0h.7M370.4 216.7h.7M370.4 215.9h.7M368.7 218.4h.7M377.1 207.9h.7M378.5 213.2h.7M366.4 222.2h.7M368.4 219.7h.7M371.4 211.0h.7M379.6 215.5h.7M379.1 212.1h.7M369.5 220.7h.7M369.8 217.1h.7M367.6 221.0h.7M367.3 223.7h.7M379.9 215.4h.7M365.0 220.3h.7M370.1 217.1h.7M378.5 213.3h.7M366.5 222.8h.7M364.0 222.9h.7M371.2 219.6h.7M375.4 213.2h.7M363.9 222.4h.7M366.1 222.2h.7M379.6 213.1h.7M367.4 223.3h.7M371.9 220.1h.7M377.2 211.7h.7M363.8 223.2h.7M369.8 220.8h.7M366.2 219.5h.7M373.6 216.1h.7M368.0 220.7h.7M367.3 219.2h.7M365.2 222.8h.7M367.5 222.2h.7M369.9 218.8h.7M377.7 212.9h.7M365.9 219.6h.7M366.7 220.5h.7M370.8 222.2h.7M366.5 220.7h.7M364.8 222.8h.7M373.2 215.0h.7M364.9 221.7h.7M373.7 217.2h.7M369.5 215.0h.7M369.3 219.4h.7M368.5 220.9h.7M377.4 215.8h.7M372.4 214.5h.7M364.1 221.1h.7M379.7 215.1h.7M377.3 211.1h.7M367.1 218.9h.7M364.6 221.2h.7M370.6 217.5h.7M367.3 223.0h.7M372.5 215.8h.7M365.1 222.3h.7M363.8 219.8h.7M367.3 218.2h.7M367.3 220.4h.7M363.8 222.0h.7M373.2 219.3h.7M378.3 216.1h.7M363.9 223.9h.7M374.4 216.9h.7M370.8 218.5h.7M363.6 223.8h.7M365.0 222.0h.7M376.3 215.2h.7M368.7 218.8h.7M364.8 219.7h.7M376.1 216.0h.7M363.6 223.1h.7M374.6 216.0h.7M377.9 213.6h.7M372.7 215.3h.7M365.6 221.5h.7M366.7 220.2h.7M373.1 214.4h.7M365.0 217.8h.7M374.0 208.8h.7M369.3 215.3h.7M364.8 221.0h.7M374.3 212.4h.7M380.4 212.8h.7M368.8 221.5h.7M368.5 219.5h.7M377.9 216.6h.7M377.6 210.4h.7M365.5 221.4h.7M378.0 211.3h.7M373.5 213.9h.7M363.1 222.8h.7M379.9 214.4h.7M366.4 218.4h.7M366.0 218.7h.7M363.6 223.1h.7M366.4 220.5h.7M367.3 219.0h.7M380.4 213.5h.7M373.4 213.8h.7M365.9 219.9h.7M376.5 214.6h.7M374.4 216.8h.7M375.0 209.0h.7M368.0 220.5h.7M367.0 218.7h.7M365.0 220.9h.7M367.6 223.6h.7M365.8 222.9h.7M369.7 216.6h.7M370.2 217.6h.7M366.1 223.9h.7M370.4 219.2h.7M373.7 214.4h.7M374.3 215.0h.7M369.1 218.3h.7M378.9 210.0h.7M365.1 223.2h.7M377.8 214.1h.7" stroke="#000" stroke-width="0.7" fill="none"/>
<ellipse cx="397" cy="212" rx="13.8" ry="6" fill="#000" transform="rotate(4 397 212)"/>
<ellipse cx="397.2" cy="211.3" rx="20.2" ry="10.6" fill="none" stroke="#111" stroke-width="0.8" transform="rotate(5 397.2 211.3)"/>
<rect x="362.3" y="166.4" width="64.59999999999997" height="58.5" fill="none" stroke="#222" stroke-width="0.9" />
<rect x="398.8" y="166.4" width="28.099999999999966" height="8.0" fill="#fff" stroke="#222" stroke-width="0.8" />
<text x="412.85" y="172.1" font-size="5.3" text-anchor="middle" font-weight="normal" fill="#111" >Gate = 95</text>
<text x="360.6" y="173.1" font-size="6.3" text-anchor="end" font-weight="normal" fill="#111" >1000</text>
<text x="360.6" y="198.85" font-size="6.3" text-anchor="end" font-weight="normal" fill="#111" >500</text>
<text x="360.6" y="225.20000000000002" font-size="6.3" text-anchor="end" font-weight="normal" fill="#111" >0</text>
<text x="365.3" y="231.9" font-size="6.3" text-anchor="middle" font-weight="normal" fill="#111" >0</text>
<text x="394.4" y="231.9" font-size="6.3" text-anchor="middle" font-weight="normal" fill="#111" >500</text>
<text x="426.5" y="231.9" font-size="6.3" text-anchor="middle" font-weight="normal" fill="#111" >1000</text>
<text x="395.3" y="239.4" font-size="6.5" text-anchor="middle" font-weight="normal" fill="#111" >FSC</text>
<text x="430.3" y="162.9" font-size="11.5" text-anchor="start" font-weight="bold" fill="#000" >J</text>
<text x="477.7" y="161.1" font-size="6.5" text-anchor="middle" font-weight="normal" fill="#111" >Camptothecin</text>
<path d="M470.3 198.4h.7M452.5 218.5h.7M448.6 222.0h.7M457.7 196.9h.7M470.8 192.4h.7M456.5 204.3h.7M451.9 218.5h.7M458.5 212.5h.7M476.2 201.2h.7M469.2 180.3h.7M470.3 192.3h.7M474.3 188.8h.7M472.1 198.0h.7M462.0 203.9h.7M458.3 200.7h.7M451.0 219.2h.7M463.1 206.7h.7M457.5 205.3h.7M448.1 218.5h.7M453.6 219.6h.7M475.8 186.8h.7M468.5 200.4h.7M454.0 214.5h.7M461.1 201.8h.7M464.1 188.2h.7M457.5 205.8h.7M477.9 190.9h.7M452.2 219.9h.7M451.2 218.2h.7M462.1 201.7h.7M466.5 189.7h.7M455.2 211.7h.7M448.7 222.8h.7M457.1 214.0h.7M449.3 221.2h.7M464.4 200.7h.7M451.2 216.6h.7M463.8 199.0h.7M466.8 200.4h.7M458.4 209.7h.7M471.0 196.5h.7M451.7 222.6h.7M454.1 219.0h.7M467.8 199.8h.7M459.5 200.5h.7M452.2 214.9h.7M460.2 202.1h.7M459.3 214.3h.7M447.1 221.3h.7M467.4 187.6h.7M455.5 216.6h.7M458.0 202.5h.7M459.6 198.0h.7M471.8 196.8h.7M475.2 186.7h.7M468.2 197.6h.7M451.7 212.2h.7M456.8 210.7h.7M469.8 184.7h.7M465.6 203.2h.7M456.6 212.3h.7M466.5 194.1h.7M457.0 203.5h.7M458.1 209.7h.7M452.7 195.4h.7M454.8 218.1h.7M466.9 199.5h.7M451.5 218.4h.7M452.6 214.9h.7M447.7 222.4h.7M452.9 213.0h.7M450.4 213.4h.7M453.9 214.0h.7M478.3 187.7h.7M464.6 197.6h.7M473.7 193.2h.7M464.5 203.1h.7M449.4 215.2h.7M447.3 221.1h.7M453.8 214.2h.7M479.5 194.5h.7M456.5 210.0h.7M478.3 194.8h.7M473.3 188.3h.7M462.6 210.5h.7M468.1 190.1h.7M460.1 208.1h.7M480.6 190.8h.7M465.1 197.3h.7M484.5 198.5h.7M451.0 218.9h.7M456.3 210.1h.7M474.8 187.5h.7M471.4 197.1h.7M447.8 221.7h.7M469.8 202.2h.7M458.3 212.9h.7M487.7 195.6h.7M455.3 212.9h.7M455.5 197.9h.7M458.4 209.2h.7M455.7 214.4h.7M474.8 186.8h.7M479.7 195.6h.7M475.1 186.1h.7M464.0 196.7h.7M472.8 187.2h.7M460.8 215.4h.7M458.7 210.5h.7M456.2 206.7h.7M466.7 198.3h.7M469.1 187.2h.7M472.2 197.2h.7M461.1 208.3h.7M453.5 204.2h.7M457.8 213.3h.7M450.7 220.7h.7M458.3 208.9h.7M478.9 188.4h.7M454.3 198.8h.7M482.8 190.2h.7M466.8 201.9h.7M457.3 205.2h.7M456.1 197.9h.7M456.4 206.7h.7M476.5 193.6h.7M451.8 214.9h.7M456.7 201.9h.7M450.8 221.1h.7M483.8 190.6h.7M473.3 195.6h.7M456.5 214.8h.7M448.0 219.3h.7M475.2 198.6h.7M458.1 211.9h.7M478.7 201.2h.7M448.5 222.6h.7M460.2 214.1h.7M462.4 206.8h.7M450.6 222.7h.7M469.7 198.9h.7M464.3 211.4h.7M467.6 203.8h.7M459.1 202.9h.7M451.8 217.1h.7M477.5 188.3h.7M477.3 186.6h.7M453.1 208.3h.7M472.7 191.6h.7M471.6 195.7h.7M474.7 196.4h.7M469.6 184.5h.7M467.6 195.0h.7M474.1 205.2h.7M457.7 206.5h.7M457.5 202.8h.7M449.2 221.3h.7M468.2 194.9h.7M470.3 184.4h.7M478.2 187.0h.7M450.5 214.2h.7M446.8 217.3h.7M448.8 216.8h.7M451.9 217.5h.7M476.8 201.2h.7M451.4 213.8h.7M465.3 199.5h.7M454.2 206.2h.7M455.7 209.5h.7M447.3 219.7h.7M465.4 199.1h.7M465.9 198.5h.7M451.9 221.2h.7M460.9 212.0h.7M458.8 205.6h.7M447.3 222.7h.7M456.7 204.0h.7M461.9 206.7h.7M471.9 194.6h.7M455.2 212.6h.7M462.2 201.0h.7M457.7 213.7h.7M468.1 195.5h.7M460.8 191.9h.7M454.4 218.1h.7M464.2 196.8h.7M448.3 215.3h.7M471.4 181.9h.7M449.1 218.8h.7M467.6 194.2h.7M467.1 179.1h.7M469.6 185.4h.7M463.5 197.8h.7M460.0 192.6h.7M455.1 213.8h.7M467.7 186.3h.7M461.4 200.7h.7M453.4 210.8h.7M468.2 201.1h.7M463.5 203.0h.7M450.9 222.3h.7M448.9 218.0h.7M463.9 197.2h.7M464.3 208.3h.7M458.2 203.1h.7M461.5 194.0h.7M448.1 219.3h.7M461.9 208.7h.7M461.7 207.0h.7M469.3 180.7h.7M458.2 212.6h.7M463.9 198.3h.7M448.8 214.7h.7M452.7 204.8h.7M464.9 194.5h.7M470.0 193.1h.7M469.1 192.9h.7M470.2 184.2h.7M462.4 195.0h.7M455.3 211.9h.7M449.5 221.8h.7M466.0 199.0h.7M456.5 210.1h.7M464.3 206.2h.7M476.7 202.2h.7M467.1 195.9h.7M456.4 191.9h.7M456.7 206.3h.7M449.4 218.9h.7M461.0 207.7h.7M469.9 190.0h.7M447.5 221.2h.7M481.3 190.3h.7M470.9 191.0h.7M457.6 219.6h.7M456.8 210.8h.7M465.4 183.4h.7M454.9 215.1h.7M456.7 210.1h.7M451.9 217.8h.7M464.2 206.5h.7M482.0 192.5h.7M454.2 211.1h.7M460.0 197.6h.7M448.7 222.4h.7M459.9 205.9h.7M457.2 205.0h.7M452.1 210.3h.7M466.2 195.6h.7M452.5 210.0h.7M472.1 188.0h.7M463.6 202.8h.7M455.3 211.8h.7M479.1 189.9h.7M465.4 210.5h.7M453.5 215.8h.7M458.1 204.6h.7M472.4 188.3h.7M454.9 210.0h.7M474.1 195.7h.7M471.7 203.1h.7M456.3 213.1h.7M470.5 196.7h.7M461.5 203.7h.7M466.2 207.0h.7M478.0 188.1h.7M462.2 201.2h.7M465.0 206.0h.7M450.8 218.6h.7M459.3 211.6h.7M464.4 206.0h.7M457.8 206.3h.7M450.1 217.4h.7M458.0 201.7h.7M449.5 217.1h.7M451.6 221.2h.7M456.7 203.1h.7M455.3 218.0h.7M447.5 220.1h.7M479.7 189.9h.7M451.8 221.9h.7M477.6 201.6h.7M450.2 219.5h.7M452.4 215.7h.7M472.5 195.6h.7M466.7 202.6h.7M451.1 220.9h.7M466.5 197.4h.7M478.1 188.4h.7M456.2 205.7h.7M452.3 216.1h.7M448.5 221.3h.7M458.3 210.4h.7M461.0 206.7h.7M465.6 204.0h.7M471.8 187.4h.7M476.0 194.3h.7M452.8 214.6h.7M472.8 189.6h.7M467.4 189.1h.7M462.7 203.3h.7M476.4 193.7h.7M447.3 222.4h.7M473.7 191.8h.7M466.4 193.7h.7M468.9 190.1h.7M461.4 203.1h.7M458.8 204.6h.7M469.9 187.3h.7M449.9 210.5h.7M454.6 210.2h.7M457.1 211.0h.7M480.1 192.5h.7M467.0 184.8h.7M455.4 217.1h.7M460.6 195.5h.7M475.6 188.1h.7M471.0 206.7h.7M473.8 193.5h.7M461.4 212.7h.7M450.3 221.1h.7M451.8 219.8h.7M464.6 197.1h.7M451.8 218.1h.7M449.2 221.4h.7M446.7 220.0h.7M456.1 215.9h.7M470.2 190.6h.7M456.5 216.5h.7M447.6 220.2h.7M452.5 219.2h.7M456.7 199.7h.7M466.4 202.9h.7M453.6 214.0h.7M451.5 213.6h.7M453.2 214.2h.7M468.4 184.1h.7M465.0 204.6h.7M464.6 186.3h.7M468.7 194.7h.7M460.1 210.3h.7M474.3 186.4h.7M461.4 195.7h.7M447.9 218.6h.7M458.5 201.2h.7M477.9 186.6h.7M455.8 213.1h.7M468.1 196.6h.7M451.9 219.0h.7M481.0 188.9h.7M461.9 206.9h.7M462.9 195.4h.7M465.6 198.2h.7M463.2 195.9h.7M447.5 221.6h.7M453.2 214.0h.7M476.7 192.7h.7M479.6 192.1h.7M462.4 200.2h.7M462.7 209.1h.7M474.5 188.3h.7M458.0 211.6h.7M457.1 205.5h.7M454.8 211.3h.7M464.0 204.3h.7M460.4 198.6h.7M456.3 203.2h.7M452.1 213.1h.7M462.5 202.5h.7M447.8 221.9h.7M463.5 202.1h.7M455.3 214.4h.7M479.4 193.9h.7M468.4 183.2h.7M449.1 219.1h.7M462.6 205.7h.7M458.1 212.0h.7M469.1 196.2h.7M460.2 205.5h.7M460.5 195.3h.7M450.8 222.8h.7M451.3 221.0h.7M461.2 210.3h.7M459.6 201.3h.7M481.1 189.3h.7M467.5 195.0h.7M475.6 197.8h.7M451.1 218.9h.7M467.6 193.9h.7M454.8 212.3h.7M456.1 206.6h.7M468.4 204.0h.7M468.3 194.3h.7M465.1 205.4h.7M476.5 186.9h.7M465.2 194.1h.7M458.4 215.1h.7M462.3 207.6h.7M472.2 182.5h.7M450.9 222.0h.7M448.4 219.2h.7M473.1 187.9h.7M470.4 190.1h.7M452.7 208.9h.7M457.4 211.0h.7M468.4 181.6h.7M446.7 219.7h.7M455.9 213.2h.7M469.2 191.4h.7M464.8 202.8h.7M452.9 210.8h.7M477.7 188.4h.7M467.7 199.1h.7M450.1 221.4h.7M456.6 203.1h.7M447.4 222.0h.7M461.6 206.1h.7M449.0 218.7h.7M456.7 213.0h.7M482.7 191.2h.7M464.1 190.2h.7M462.3 205.6h.7M469.8 197.1h.7M482.2 191.3h.7M472.3 200.1h.7M468.0 191.5h.7M472.6 195.1h.7M452.9 216.3h.7M464.1 214.7h.7M462.0 202.5h.7M446.8 222.3h.7M450.3 222.6h.7M467.0 196.0h.7M480.1 192.5h.7M464.2 198.0h.7M464.2 206.6h.7M453.5 220.4h.7M457.2 208.7h.7M460.0 197.5h.7M450.4 217.8h.7M467.4 196.9h.7M459.1 216.1h.7M464.2 203.6h.7M477.2 190.2h.7M447.3 222.3h.7M464.3 196.8h.7M455.9 217.0h.7M466.2 209.3h.7M476.9 195.8h.7M448.8 221.0h.7M461.7 208.2h.7M450.1 220.6h.7M453.2 212.6h.7M459.0 199.3h.7M451.3 220.8h.7M456.6 204.6h.7M469.1 202.0h.7M453.7 217.8h.7M455.2 210.5h.7M458.3 197.1h.7M460.5 208.6h.7M462.3 201.9h.7M482.9 196.4h.7M449.4 221.9h.7M450.9 218.8h.7M464.0 204.5h.7M473.9 194.8h.7M472.7 192.1h.7M474.0 208.5h.7M449.5 213.1h.7M465.9 213.4h.7M468.6 188.2h.7M472.1 199.4h.7M446.9 219.2h.7M465.9 188.0h.7M456.0 200.9h.7M465.8 201.1h.7M456.2 204.5h.7M453.7 215.8h.7M468.9 196.4h.7M458.8 209.5h.7M452.7 215.4h.7M451.6 221.5h.7M463.8 195.7h.7M453.2 219.1h.7M453.0 215.6h.7M447.2 222.3h.7M478.5 186.8h.7M470.5 182.4h.7M455.1 216.2h.7M453.5 214.7h.7M456.9 215.1h.7M463.6 201.5h.7M463.1 202.6h.7M473.6 187.6h.7M469.4 181.2h.7M479.9 188.9h.7M459.2 207.2h.7M453.5 210.5h.7M465.2 192.2h.7M460.9 182.2h.7M452.0 221.8h.7M476.8 193.3h.7M465.7 196.0h.7M468.4 201.0h.7M457.2 212.5h.7M472.3 194.8h.7M452.7 217.0h.7M454.0 209.4h.7M447.5 221.9h.7M449.1 215.8h.7M450.8 217.7h.7M450.2 219.1h.7M463.0 188.3h.7M458.2 207.7h.7M472.9 186.9h.7M468.7 189.8h.7M470.0 196.7h.7M456.0 210.1h.7M459.2 200.0h.7M464.9 202.6h.7M469.6 195.8h.7M457.7 211.4h.7M452.9 221.0h.7M447.5 222.3h.7M448.3 217.0h.7M448.3 221.5h.7M461.1 200.0h.7M457.4 213.9h.7M452.7 214.1h.7M465.7 206.8h.7M447.4 222.8h.7M448.2 222.7h.7M455.4 211.9h.7M475.5 186.6h.7M458.5 197.3h.7M454.8 218.3h.7M459.3 198.1h.7M448.2 222.9h.7M450.3 217.2h.7M470.6 196.1h.7M481.1 189.1h.7M473.6 185.7h.7M462.4 212.3h.7M460.6 217.6h.7M446.8 219.6h.7M458.1 202.9h.7M451.3 215.2h.7M477.3 187.8h.7M469.6 187.4h.7M450.4 219.6h.7M450.4 216.1h.7M468.0 184.8h.7M477.1 189.2h.7M446.6 220.9h.7M487.6 194.8h.7M451.2 213.1h.7M458.7 207.1h.7M449.6 219.8h.7M465.7 189.1h.7M447.7 219.7h.7M453.1 217.4h.7M451.9 218.2h.7M477.8 195.1h.7M459.2 211.4h.7M454.6 212.7h.7M467.6 209.7h.7M452.5 215.8h.7M459.9 208.4h.7M452.7 210.4h.7M466.2 185.9h.7M463.2 198.4h.7M455.8 221.0h.7M471.0 204.2h.7M454.1 208.2h.7M451.5 212.5h.7M466.4 200.9h.7M465.1 193.8h.7M461.6 177.5h.7M451.6 218.5h.7M451.7 219.8h.7M453.5 212.9h.7M448.4 222.8h.7M454.9 212.7h.7M480.9 191.1h.7M449.0 221.3h.7M466.6 203.5h.7M457.5 216.3h.7M464.6 199.1h.7M455.1 213.2h.7M450.8 221.9h.7M469.0 188.6h.7M455.4 213.9h.7M450.2 220.9h.7M475.0 187.0h.7M456.1 214.8h.7M459.9 199.8h.7M456.9 214.1h.7M447.7 219.2h.7M456.9 215.7h.7M459.9 209.3h.7M451.5 218.9h.7M467.6 196.7h.7M473.8 186.4h.7M449.9 216.0h.7M455.7 216.1h.7M460.6 204.7h.7M460.3 209.3h.7M447.2 217.3h.7M453.8 218.2h.7M454.5 218.1h.7M449.5 216.9h.7M453.2 218.0h.7M469.7 194.7h.7M452.0 217.3h.7M469.9 198.9h.7M447.0 221.9h.7M459.7 200.7h.7M454.6 213.4h.7M450.6 215.5h.7M465.8 204.0h.7M478.6 192.0h.7M485.7 198.3h.7M460.2 207.0h.7M475.2 197.4h.7M465.1 192.6h.7M455.1 213.5h.7M462.9 200.1h.7M455.3 209.4h.7M461.7 205.3h.7M461.0 208.8h.7M451.0 220.4h.7M469.5 181.1h.7M461.2 203.4h.7M450.0 219.9h.7M467.4 205.3h.7M459.8 201.7h.7M455.2 216.0h.7M465.1 202.6h.7M457.4 207.4h.7M466.7 181.5h.7M454.1 218.1h.7M450.7 221.6h.7M453.6 217.0h.7M465.0 188.9h.7M466.7 212.8h.7M464.3 179.8h.7M464.1 198.7h.7M481.4 189.4h.7M453.7 212.8h.7M447.9 221.7h.7M466.3 206.2h.7M469.9 182.4h.7M464.6 206.1h.7M453.2 203.7h.7M462.8 195.7h.7M467.0 205.4h.7M452.1 213.4h.7M468.1 189.7h.7M465.6 206.9h.7M468.4 187.8h.7M447.4 220.6h.7M463.6 204.3h.7M453.6 220.1h.7M462.5 208.4h.7M453.7 219.3h.7M451.4 221.7h.7M453.8 216.8h.7M448.0 222.3h.7M448.5 221.5h.7M468.9 194.5h.7M481.4 189.7h.7M450.2 218.9h.7M476.1 187.5h.7M449.4 219.7h.7M471.2 184.9h.7M467.3 186.8h.7M470.2 198.0h.7M472.9 196.1h.7M453.8 212.2h.7M459.3 211.8h.7M448.9 219.6h.7M455.5 217.2h.7M472.9 187.8h.7M449.2 219.2h.7M464.2 204.3h.7M470.0 188.4h.7M447.1 221.0h.7M470.0 200.5h.7M456.6 215.5h.7M456.2 202.3h.7M456.8 207.7h.7M457.8 211.5h.7M462.5 198.8h.7M473.5 200.8h.7M473.9 191.4h.7M465.2 207.4h.7M459.5 207.2h.7M472.2 199.8h.7M456.0 209.0h.7M453.2 211.6h.7M446.7 222.3h.7M466.7 201.7h.7M477.8 193.1h.7M471.9 187.7h.7M461.3 208.5h.7M451.8 218.8h.7M463.1 186.9h.7M470.4 186.4h.7M456.1 216.5h.7M451.8 211.7h.7M467.0 206.5h.7M447.9 220.0h.7M465.0 191.9h.7M471.1 198.2h.7M472.3 203.7h.7M447.3 220.1h.7M450.3 221.9h.7M470.9 197.7h.7M453.0 220.1h.7M455.7 209.3h.7M449.7 211.9h.7M458.2 208.8h.7M460.4 206.8h.7M467.6 194.2h.7M467.2 203.5h.7M449.1 219.4h.7M472.0 182.9h.7M448.4 221.3h.7M448.6 218.8h.7M458.6 207.4h.7M470.3 184.1h.7M451.1 215.2h.7M454.9 220.5h.7M475.7 198.1h.7M458.4 210.1h.7M459.9 209.8h.7M469.7 194.2h.7M483.2 193.1h.7M449.2 216.7h.7M463.8 205.5h.7M450.2 222.9h.7M480.1 190.0h.7M451.5 222.3h.7M456.0 212.7h.7M457.7 211.4h.7M455.2 212.8h.7M448.6 217.2h.7M447.5 220.6h.7M457.2 219.2h.7M461.2 208.6h.7M468.5 188.5h.7M456.9 215.7h.7M477.2 190.4h.7M455.9 214.2h.7M471.3 197.3h.7M454.9 214.0h.7M447.3 222.6h.7M472.8 183.4h.7M463.1 201.5h.7M460.5 208.4h.7M462.1 207.7h.7M463.3 209.0h.7M475.1 190.4h.7M450.4 215.1h.7M472.1 187.3h.7M449.2 217.2h.7M469.1 201.9h.7M453.0 212.3h.7M466.8 192.6h.7M458.5 206.9h.7M458.2 200.1h.7M465.2 199.6h.7M454.8 214.4h.7M468.8 187.1h.7M470.9 187.8h.7M475.8 187.1h.7M449.2 218.0h.7M449.1 220.5h.7M468.2 200.7h.7M468.1 180.5h.7M478.2 186.0h.7M471.5 193.7h.7M468.4 192.3h.7M466.2 199.1h.7M461.6 205.8h.7M447.6 220.7h.7M472.5 195.5h.7M450.3 221.3h.7M461.8 202.6h.7M468.7 183.3h.7M449.8 208.5h.7M451.9 220.0h.7M460.9 193.6h.7M461.9 206.7h.7M453.7 213.6h.7M472.3 188.6h.7M448.9 219.8h.7M460.3 211.0h.7M451.3 221.4h.7M470.8 197.8h.7M459.7 202.4h.7M461.6 205.9h.7M463.3 204.9h.7M466.1 198.8h.7M450.0 217.1h.7M448.4 219.9h.7M464.4 202.8h.7M454.5 217.9h.7M468.8 194.6h.7M451.9 211.4h.7M450.0 222.3h.7M471.9 200.4h.7M450.5 220.1h.7M447.3 219.3h.7M456.9 208.0h.7M458.3 210.6h.7M465.5 209.8h.7M448.6 215.5h.7M450.3 222.6h.7M464.7 203.8h.7M472.9 186.1h.7M463.5 202.4h.7M446.9 222.0h.7M450.8 215.3h.7M453.1 221.1h.7M456.9 211.6h.7M477.1 193.2h.7M460.6 190.9h.7M451.2 212.6h.7M480.9 192.6h.7M458.1 203.9h.7M470.5 198.9h.7M456.3 206.4h.7M466.0 185.1h.7M463.6 209.2h.7M457.8 217.4h.7M467.4 192.4h.7M451.3 220.8h.7M465.6 203.0h.7M459.5 192.9h.7M481.2 194.5h.7M454.2 215.2h.7M459.1 214.3h.7M453.3 221.7h.7M463.3 186.4h.7M463.4 203.9h.7M446.9 221.4h.7M461.2 203.2h.7M455.4 215.8h.7M457.5 208.4h.7M459.6 204.0h.7M458.9 192.8h.7M461.1 215.6h.7M455.9 216.9h.7M451.4 209.7h.7M475.2 192.9h.7M447.7 219.9h.7M449.2 211.6h.7M449.6 216.1h.7M461.4 203.8h.7M455.3 215.9h.7M478.2 189.6h.7M479.1 192.6h.7M452.4 219.9h.7M471.6 190.4h.7M454.5 219.6h.7M459.8 205.7h.7M457.8 213.4h.7M465.4 199.3h.7M450.1 220.8h.7M448.1 222.3h.7M453.3 210.7h.7M453.2 212.9h.7M453.1 213.5h.7M473.7 192.6h.7M459.6 208.8h.7M470.8 191.6h.7M469.5 190.9h.7M454.4 211.9h.7M477.5 191.9h.7M460.1 205.6h.7M464.0 205.8h.7M459.5 213.5h.7M453.1 222.2h.7M450.8 222.7h.7M472.2 195.0h.7M477.7 186.2h.7M449.5 213.7h.7M458.1 195.1h.7M477.9 193.4h.7M449.4 220.1h.7M455.8 217.1h.7M476.0 200.7h.7M458.9 185.3h.7M449.7 221.3h.7M449.3 218.8h.7M449.7 220.0h.7M462.4 204.2h.7M474.9 184.9h.7M454.0 206.4h.7M462.7 207.2h.7M454.5 202.2h.7M471.5 187.9h.7M451.4 217.3h.7M471.7 196.9h.7M464.2 203.6h.7M449.5 217.0h.7M457.8 209.3h.7M448.3 220.4h.7M459.1 214.5h.7M466.6 195.4h.7M464.9 209.8h.7M473.0 196.7h.7M458.1 203.8h.7M446.9 221.4h.7M452.9 217.7h.7M449.4 218.6h.7M447.3 222.6h.7M447.5 222.2h.7M453.0 216.0h.7M456.1 208.7h.7M458.3 198.6h.7M470.0 193.2h.7M449.0 222.5h.7M462.4 202.3h.7M450.2 221.0h.7M458.4 212.1h.7M453.1 212.3h.7M463.1 201.9h.7M464.8 193.4h.7M460.7 217.0h.7M454.9 215.6h.7M467.1 197.3h.7M462.2 204.4h.7M470.5 181.1h.7M459.2 210.0h.7M447.1 219.6h.7M483.2 191.1h.7M467.3 203.2h.7M450.8 220.2h.7M477.5 193.7h.7M474.6 193.9h.7M464.7 203.0h.7M454.2 218.9h.7M466.2 202.3h.7M458.0 207.7h.7M466.9 185.8h.7M461.8 199.3h.7M455.6 210.2h.7M447.9 221.7h.7M477.4 193.6h.7M466.8 196.7h.7M450.5 217.1h.7M474.1 196.0h.7M466.8 200.3h.7M466.9 207.3h.7M448.5 218.3h.7M473.2 194.0h.7M462.2 204.8h.7M453.9 213.3h.7M449.1 218.7h.7M459.9 207.8h.7M474.8 196.5h.7M467.3 191.9h.7M452.6 214.8h.7M485.9 194.8h.7M461.2 196.3h.7M472.9 196.2h.7M455.9 214.2h.7M471.0 202.1h.7M447.7 221.6h.7M460.0 210.2h.7M448.1 219.2h.7M478.2 187.0h.7M455.2 205.2h.7M457.1 209.8h.7M454.2 217.3h.7M463.5 206.7h.7M471.2 186.5h.7M466.6 204.3h.7M476.4 190.7h.7M455.6 212.9h.7M459.7 206.0h.7M462.0 193.7h.7M472.7 189.5h.7M455.1 211.7h.7M461.6 200.5h.7M451.0 216.5h.7M459.2 205.2h.7M464.8 203.4h.7M463.4 206.1h.7M476.7 201.7h.7M458.8 209.5h.7M450.1 218.1h.7M465.6 199.5h.7M460.8 205.4h.7M456.9 206.2h.7M479.1 192.2h.7M447.6 222.8h.7M459.1 204.6h.7M474.3 198.0h.7M458.4 205.8h.7M453.3 216.6h.7M463.5 212.9h.7M470.9 199.5h.7M467.2 199.2h.7M452.8 212.9h.7M452.7 216.9h.7M448.6 222.5h.7M457.2 205.0h.7M472.9 185.9h.7M448.7 219.6h.7M467.2 194.9h.7M479.7 190.0h.7M448.9 218.6h.7M473.9 196.5h.7M457.4 210.7h.7M450.9 221.4h.7M453.6 209.7h.7M454.2 211.9h.7M455.2 214.1h.7M449.7 220.8h.7M456.8 215.5h.7M457.8 208.6h.7M460.0 197.9h.7M446.7 219.7h.7M472.6 190.2h.7M463.5 202.4h.7M448.9 217.9h.7M450.1 215.3h.7M450.8 220.9h.7M454.1 206.7h.7M473.8 193.9h.7M467.9 204.7h.7M448.8 222.1h.7M470.2 205.9h.7M452.5 219.2h.7M463.0 197.4h.7M458.7 211.5h.7M449.8 221.2h.7M463.8 199.7h.7M469.8 196.2h.7M451.2 222.5h.7M475.2 186.7h.7M467.2 201.7h.7M455.5 209.7h.7M452.2 215.2h.7M457.8 213.2h.7M472.7 199.7h.7M452.4 213.8h.7M454.5 203.9h.7M447.7 218.0h.7M458.8 211.6h.7M458.3 209.0h.7M474.9 191.2h.7M460.3 203.0h.7M462.5 208.5h.7M457.1 208.4h.7M471.7 183.7h.7M461.4 195.1h.7M460.7 213.8h.7M456.2 215.7h.7M451.5 217.0h.7M469.2 191.3h.7M463.9 194.5h.7M455.2 215.8h.7M467.0 206.7h.7M458.8 205.7h.7M460.9 215.3h.7M451.1 220.3h.7M463.4 196.5h.7M449.7 218.4h.7M464.5 202.1h.7M470.5 193.3h.7M460.0 214.5h.7M482.6 193.3h.7M456.8 218.2h.7M473.5 190.3h.7M466.1 207.4h.7M453.6 215.0h.7M451.7 218.5h.7M453.0 213.2h.7M449.8 219.0h.7M454.9 207.2h.7M456.6 212.5h.7M472.1 192.9h.7M454.1 219.2h.7M449.4 218.6h.7M455.3 206.7h.7M449.9 210.5h.7M467.5 195.1h.7M448.9 221.3h.7M464.7 198.9h.7M466.6 179.4h.7M448.0 215.3h.7M466.0 199.2h.7M453.1 212.6h.7M454.5 215.8h.7M448.8 220.8h.7M480.3 195.1h.7M477.1 195.5h.7M465.5 182.9h.7M467.8 199.6h.7M461.8 209.3h.7M447.6 222.6h.7M473.7 191.4h.7M461.2 196.8h.7M452.9 213.5h.7M465.0 182.2h.7M461.1 204.2h.7M459.7 206.1h.7M454.4 211.1h.7M468.4 180.4h.7M451.3 218.1h.7M448.9 219.2h.7M460.1 210.1h.7M450.6 216.9h.7M462.9 203.5h.7M454.3 219.1h.7M448.7 221.7h.7M471.9 192.0h.7M471.8 182.5h.7M466.2 206.4h.7M464.7 199.7h.7M449.8 221.5h.7M449.2 222.8h.7M459.4 205.9h.7M476.4 190.2h.7M448.8 220.4h.7M448.2 218.8h.7M468.4 184.1h.7M467.3 188.8h.7M466.4 202.4h.7M448.4 220.1h.7M451.3 218.6h.7M450.9 217.5h.7M468.2 206.5h.7M467.2 193.0h.7M464.7 209.0h.7M457.3 204.1h.7M452.2 210.2h.7M468.0 203.1h.7M459.2 211.7h.7M454.0 215.3h.7M453.4 211.0h.7M448.5 217.0h.7M449.6 221.1h.7M459.8 203.9h.7M456.5 213.2h.7M457.5 213.5h.7M466.3 192.1h.7M459.5 211.7h.7M472.1 203.6h.7M470.4 188.9h.7M467.7 200.9h.7M471.2 193.7h.7M478.8 190.4h.7M474.1 185.6h.7M457.3 198.7h.7M460.5 209.4h.7M462.6 210.9h.7M460.8 211.1h.7M451.6 216.6h.7M454.8 208.8h.7M453.5 212.7h.7M463.4 202.8h.7M449.8 219.8h.7M464.9 205.6h.7M470.3 187.1h.7M453.0 215.1h.7M460.0 208.0h.7M468.5 197.3h.7M450.5 222.3h.7M448.2 218.3h.7M474.2 188.2h.7M447.3 218.3h.7M447.1 221.7h.7M453.1 212.2h.7M448.6 220.5h.7M480.4 192.0h.7M449.4 218.2h.7M446.9 221.5h.7M452.4 219.4h.7M447.2 222.8h.7M449.0 212.2h.7M456.5 206.6h.7M479.3 195.6h.7M475.8 191.0h.7M471.7 188.7h.7M453.4 214.6h.7M450.1 219.6h.7M465.7 188.7h.7M455.1 214.7h.7M463.0 202.9h.7M451.4 211.6h.7M459.5 210.4h.7M451.3 216.2h.7M463.2 195.6h.7M466.2 206.6h.7M451.4 217.4h.7M464.9 202.1h.7M455.3 217.3h.7M476.3 196.9h.7M453.5 208.2h.7M485.7 196.5h.7M467.2 207.2h.7M459.8 201.9h.7M449.2 218.3h.7M472.2 183.8h.7M459.6 213.2h.7M455.6 215.1h.7M458.5 211.0h.7M467.6 190.5h.7M454.4 209.5h.7M462.3 201.4h.7M456.0 209.0h.7M461.4 206.9h.7M449.5 222.1h.7M453.8 209.8h.7M467.2 178.4h.7M452.9 217.4h.7M446.6 222.0h.7M460.0 192.6h.7M455.1 220.4h.7M456.8 210.2h.7M457.8 201.5h.7M463.1 192.7h.7M447.3 222.5h.7M471.5 187.6h.7M464.3 188.9h.7M463.4 192.7h.7M448.2 221.7h.7M460.9 202.0h.7M470.9 192.2h.7M463.4 192.5h.7M464.6 203.3h.7M457.8 209.6h.7M467.8 194.3h.7M465.2 193.2h.7M466.0 194.6h.7M473.2 193.3h.7M463.6 200.1h.7M474.6 189.9h.7M472.3 183.5h.7M451.3 217.6h.7M472.8 185.0h.7M460.1 212.2h.7M465.0 204.0h.7M454.0 212.4h.7M455.1 212.3h.7M468.3 192.5h.7M468.3 184.9h.7M477.8 206.8h.7M458.3 199.0h.7M463.5 204.1h.7M455.8 214.7h.7M455.7 211.1h.7M462.0 201.5h.7M468.3 200.7h.7M446.5 220.0h.7M467.3 196.3h.7M456.0 212.3h.7M461.9 197.9h.7M463.5 194.4h.7M470.2 180.8h.7M463.2 200.8h.7M479.7 191.2h.7M462.8 201.2h.7M449.2 212.1h.7M458.1 209.8h.7M473.8 195.1h.7M460.5 214.5h.7M461.0 206.7h.7M458.8 209.2h.7M463.7 207.4h.7M450.2 216.6h.7M463.0 213.7h.7M463.6 206.2h.7M448.1 221.4h.7M453.2 213.7h.7M447.4 222.4h.7M447.8 222.8h.7M463.5 202.5h.7M467.1 190.6h.7M464.3 190.9h.7M460.6 212.4h.7M467.0 205.0h.7M451.0 215.2h.7M453.0 215.3h.7M468.1 198.5h.7M457.1 207.3h.7M462.4 201.0h.7M460.0 210.0h.7M464.9 203.5h.7M473.1 185.8h.7M454.2 214.3h.7M463.4 199.4h.7M465.8 196.6h.7M458.9 213.8h.7M473.5 188.7h.7M447.6 221.9h.7M472.6 190.8h.7M470.2 193.2h.7M465.5 197.8h.7M480.1 189.7h.7M450.7 211.4h.7M449.9 220.3h.7M451.3 210.9h.7M466.7 190.0h.7M464.8 200.2h.7M452.7 219.9h.7M463.1 193.2h.7M457.6 208.1h.7M456.0 203.6h.7M449.7 221.7h.7M475.3 186.9h.7M449.9 218.7h.7M451.1 216.1h.7M476.9 201.1h.7M459.0 211.3h.7M448.8 219.3h.7M453.8 207.9h.7M468.7 184.7h.7M473.2 204.3h.7M460.0 205.1h.7M451.6 219.9h.7M466.5 205.5h.7M477.9 194.8h.7M466.4 189.3h.7M449.7 222.3h.7M465.5 200.7h.7M464.1 205.0h.7M463.0 195.8h.7M473.6 191.6h.7M458.6 207.0h.7M470.6 200.0h.7M475.6 184.1h.7M463.7 206.7h.7M479.2 195.0h.7M462.2 195.8h.7M459.1 204.2h.7M463.1 211.4h.7M461.4 201.2h.7M463.3 193.5h.7M452.5 214.3h.7M469.4 196.2h.7M449.5 218.8h.7M447.1 222.5h.7M474.7 188.7h.7M463.1 201.8h.7M451.5 222.0h.7M457.4 207.4h.7M448.6 219.6h.7M458.1 210.8h.7M464.9 195.8h.7M465.1 205.4h.7M452.9 208.5h.7M467.9 198.4h.7M451.8 213.5h.7M452.8 215.1h.7M450.4 217.4h.7M463.2 186.9h.7M451.2 213.1h.7M466.8 189.2h.7M473.9 185.6h.7M466.8 198.9h.7M478.7 186.8h.7M449.6 221.7h.7M451.8 214.0h.7M464.4 205.2h.7M477.0 192.5h.7M451.9 216.0h.7M447.6 220.8h.7M473.8 193.2h.7M450.1 216.8h.7M451.4 212.0h.7M477.1 194.0h.7M456.0 218.9h.7M471.0 196.6h.7M451.9 219.1h.7M479.8 191.4h.7M455.0 216.1h.7M451.1 220.1h.7M481.9 198.8h.7M453.7 216.8h.7M446.9 222.1h.7M473.2 188.1h.7M460.4 213.7h.7M459.2 210.0h.7M448.9 218.9h.7M464.9 204.2h.7M463.1 203.8h.7M458.4 217.8h.7M469.0 199.1h.7M457.3 209.7h.7M467.6 197.3h.7M455.4 210.6h.7M455.8 221.2h.7M459.7 207.9h.7M457.3 206.5h.7M471.6 208.5h.7M454.1 205.1h.7M469.6 204.7h.7M451.4 209.8h.7M449.8 221.6h.7M470.9 180.9h.7M477.9 203.1h.7M457.9 221.0h.7M461.5 212.5h.7M453.4 219.4h.7M478.5 193.4h.7M461.9 184.8h.7M476.7 191.4h.7M469.9 199.7h.7M466.7 204.1h.7M477.2 194.7h.7M449.0 221.6h.7M464.5 199.0h.7M466.2 203.9h.7M458.8 203.9h.7M450.7 217.7h.7M473.0 186.9h.7M467.2 198.0h.7M473.9 183.7h.7M457.4 214.5h.7M470.2 202.4h.7M460.8 207.8h.7M459.7 199.9h.7M463.9 197.0h.7M451.5 217.2h.7M464.6 201.7h.7M468.8 204.3h.7M467.9 201.2h.7M473.6 193.5h.7M459.6 213.4h.7M473.7 185.5h.7M465.0 197.8h.7M477.5 202.2h.7M464.9 197.8h.7M447.8 220.6h.7M455.5 212.6h.7M456.3 209.7h.7M459.1 193.8h.7M468.4 195.1h.7M471.7 185.5h.7M449.7 214.8h.7M453.5 219.4h.7M450.9 213.2h.7M476.5 187.6h.7M453.6 215.2h.7M459.5 211.9h.7M473.3 195.6h.7M457.1 208.9h.7M460.2 212.1h.7M460.0 212.9h.7M451.5 208.1h.7M470.2 187.0h.7M479.3 189.5h.7M456.9 218.6h.7M462.4 207.8h.7M472.3 190.2h.7M457.3 212.6h.7M473.7 189.5h.7M448.4 215.2h.7M461.5 207.4h.7M455.4 202.5h.7M459.5 201.9h.7M474.5 186.1h.7M480.1 195.1h.7M454.6 211.6h.7M449.9 219.1h.7M458.3 205.3h.7M458.4 210.3h.7M451.0 219.2h.7M448.2 220.8h.7M465.9 190.6h.7M461.8 190.3h.7M457.1 214.3h.7M473.1 185.6h.7M462.7 205.7h.7M475.6 192.0h.7M462.9 199.2h.7M459.4 211.7h.7M473.9 188.9h.7M454.3 214.3h.7M448.5 219.1h.7M451.2 218.1h.7M450.1 206.6h.7M465.1 209.4h.7M460.1 203.0h.7M461.1 205.2h.7M458.9 213.6h.7M463.9 211.8h.7M457.4 208.3h.7M447.7 219.6h.7M450.9 220.1h.7M465.4 186.3h.7M459.7 200.2h.7M453.4 212.5h.7M472.1 184.9h.7M473.7 193.2h.7M476.5 193.3h.7M457.9 215.7h.7M463.9 207.4h.7M469.2 188.1h.7M464.8 179.6h.7M463.6 204.6h.7M469.1 196.6h.7M449.8 217.9h.7M466.4 199.4h.7M459.3 203.6h.7M470.4 186.3h.7M469.2 200.9h.7M447.3 218.0h.7M462.4 216.0h.7M465.1 202.5h.7M467.9 192.3h.7M459.9 205.9h.7M453.4 213.1h.7M447.4 221.5h.7M449.0 218.1h.7M469.6 196.3h.7M455.7 213.3h.7M455.2 206.6h.7M451.7 221.3h.7M462.5 202.8h.7M472.3 197.4h.7M472.4 199.9h.7M474.9 191.6h.7M449.8 217.5h.7M475.3 189.8h.7M474.1 187.9h.7M464.1 205.0h.7M468.0 209.6h.7M465.9 202.9h.7M458.0 212.5h.7M449.8 218.2h.7M469.3 190.3h.7M465.0 203.4h.7M447.5 219.9h.7M479.1 194.4h.7M464.1 202.4h.7M465.9 202.5h.7M467.8 194.3h.7M468.4 194.1h.7M473.6 182.7h.7M461.4 208.3h.7M471.8 195.9h.7M473.6 195.3h.7M468.0 194.3h.7M470.6 182.2h.7M479.0 187.7h.7M452.0 212.3h.7M482.6 190.4h.7M451.2 211.3h.7M449.8 218.5h.7M449.7 210.0h.7M468.5 190.1h.7M460.3 209.0h.7M446.7 222.1h.7M458.3 202.6h.7M456.1 208.0h.7M457.3 218.7h.7M462.6 192.6h.7M471.8 189.4h.7M462.5 197.5h.7M465.1 194.7h.7M452.1 218.8h.7M451.2 213.3h.7M450.7 213.0h.7M459.8 196.9h.7M460.6 217.6h.7M470.2 192.0h.7M455.9 213.3h.7M461.2 198.8h.7M473.5 182.3h.7M476.5 186.2h.7M465.9 208.1h.7M477.2 185.8h.7M451.0 220.7h.7M457.4 214.4h.7M466.0 184.1h.7M454.2 210.6h.7M448.8 217.9h.7M458.1 215.2h.7M462.7 194.6h.7M468.5 205.1h.7M453.6 216.3h.7M455.6 206.7h.7M451.9 207.4h.7M478.5 194.2h.7M447.5 222.7h.7M469.1 188.0h.7M455.5 210.8h.7M471.6 187.2h.7M453.0 209.2h.7M448.9 217.9h.7M453.6 219.7h.7M447.1 220.3h.7M465.2 196.3h.7M471.2 188.4h.7M469.4 187.4h.7M453.4 213.4h.7M472.8 193.4h.7M450.8 221.4h.7M456.5 211.2h.7M447.4 222.6h.7M467.2 196.1h.7M462.5 209.1h.7M450.4 218.8h.7M451.8 214.8h.7M459.3 206.0h.7M458.6 205.7h.7M467.8 198.0h.7M451.8 211.8h.7M464.9 194.5h.7M462.4 214.2h.7M453.2 213.7h.7M467.8 189.4h.7M452.7 214.3h.7M481.5 188.5h.7M463.5 204.3h.7M465.4 202.3h.7M477.9 193.5h.7M467.5 198.4h.7M467.6 194.3h.7M460.9 205.1h.7M476.1 194.0h.7M455.2 217.3h.7M451.2 219.0h.7M453.2 218.0h.7M448.8 222.6h.7M466.6 210.7h.7M448.9 220.2h.7M455.0 218.4h.7M472.9 197.9h.7M463.5 204.4h.7M458.0 204.3h.7M464.7 199.4h.7M468.6 196.3h.7M468.1 199.6h.7M465.7 199.9h.7M478.7 189.1h.7M470.9 194.8h.7M448.6 219.5h.7M457.2 211.0h.7M457.8 214.2h.7M453.4 210.7h.7M464.8 202.0h.7M453.8 213.7h.7M455.6 214.8h.7M457.6 211.1h.7M463.7 199.4h.7M477.4 192.2h.7M450.1 217.4h.7M450.4 222.5h.7M463.0 198.9h.7M474.8 185.6h.7M469.1 201.4h.7M459.0 209.0h.7M468.8 194.2h.7M456.3 211.8h.7M458.1 217.0h.7M463.5 197.4h.7M458.4 207.4h.7M448.2 222.1h.7M469.5 201.2h.7M447.6 219.2h.7M464.0 209.1h.7M452.1 210.5h.7M450.8 210.8h.7M450.1 218.8h.7M464.2 200.7h.7M455.0 217.6h.7M455.7 213.4h.7M460.7 202.1h.7M468.2 200.1h.7M457.2 210.8h.7M449.9 221.4h.7M472.4 193.7h.7M454.9 208.2h.7M450.7 216.6h.7M461.2 211.8h.7M466.2 201.3h.7M455.9 203.1h.7M457.3 201.0h.7M449.3 222.2h.7M458.1 216.7h.7M463.2 191.4h.7M469.3 194.3h.7M474.8 199.7h.7M473.3 184.9h.7M450.0 222.3h.7M457.9 211.0h.7M446.9 220.0h.7M469.0 178.8h.7M470.1 191.9h.7M466.5 200.0h.7M451.3 209.8h.7M447.8 216.8h.7M456.8 214.8h.7M454.9 222.6h.7M456.7 211.8h.7M452.2 220.9h.7M455.0 217.6h.7M455.9 212.8h.7M451.9 213.4h.7M468.2 195.7h.7M466.3 191.3h.7M457.2 202.8h.7M471.4 190.5h.7M449.8 218.8h.7M473.8 183.2h.7M452.5 218.3h.7M449.4 221.1h.7M467.1 196.0h.7M475.6 188.1h.7M458.0 212.7h.7M468.3 194.1h.7M458.0 210.0h.7M462.7 198.4h.7M466.2 191.4h.7M457.4 210.6h.7M468.5 188.3h.7M450.3 221.2h.7M458.4 201.9h.7M452.2 217.6h.7M459.0 195.0h.7M448.1 220.6h.7M460.2 204.7h.7M460.8 202.9h.7M452.5 216.0h.7M453.0 220.2h.7M449.8 219.3h.7M457.4 200.3h.7M476.1 193.5h.7M464.2 204.1h.7M467.7 181.2h.7M456.9 212.9h.7M476.1 192.2h.7M471.8 188.2h.7M466.7 191.8h.7M467.1 197.7h.7M478.2 191.0h.7M447.6 220.3h.7M449.9 216.2h.7M465.2 204.0h.7M470.6 188.2h.7M475.7 185.4h.7M464.0 202.1h.7M459.4 204.3h.7M478.2 192.2h.7M471.5 193.7h.7M484.8 194.4h.7M457.2 210.4h.7M468.2 185.8h.7M463.2 197.8h.7M464.2 204.3h.7M448.5 220.0h.7M466.5 207.7h.7M472.8 191.7h.7M464.5 197.7h.7M449.7 219.1h.7M451.4 218.0h.7M464.0 209.4h.7M464.0 209.4h.7M475.3 198.2h.7M461.7 201.5h.7M468.2 185.5h.7M452.2 217.6h.7M450.1 214.1h.7M474.6 184.9h.7M463.2 192.6h.7M456.7 212.1h.7M466.9 202.2h.7M454.4 214.9h.7M472.1 186.9h.7M459.9 207.9h.7M451.1 214.0h.7M472.9 182.4h.7M450.9 222.0h.7M455.3 218.9h.7M474.4 185.9h.7M457.2 204.8h.7M465.6 199.7h.7M452.6 207.1h.7M449.4 222.3h.7M448.6 220.8h.7M456.7 214.8h.7M452.9 207.6h.7M462.2 204.7h.7M450.9 218.7h.7M457.8 209.2h.7M471.6 192.3h.7M449.5 221.4h.7M447.4 220.6h.7M451.9 203.6h.7M460.9 210.6h.7M468.5 209.6h.7M466.0 193.1h.7M453.9 209.1h.7M451.6 217.1h.7M455.5 218.7h.7M467.3 202.5h.7M449.2 219.3h.7M468.4 182.4h.7M448.2 219.5h.7M449.9 222.4h.7M448.8 210.9h.7M466.8 193.5h.7M453.9 203.9h.7M469.1 193.9h.7M449.6 208.9h.7M453.1 220.0h.7M447.5 220.2h.7M465.1 195.8h.7M465.1 198.1h.7M475.8 199.3h.7M459.2 209.8h.7M452.2 218.5h.7M447.8 215.7h.7M446.9 217.0h.7M464.6 207.8h.7M457.1 212.0h.7M448.3 222.5h.7M458.8 209.0h.7M447.4 222.7h.7M470.1 187.5h.7M455.5 212.9h.7M462.2 207.9h.7M474.4 195.7h.7M466.2 184.2h.7M447.9 219.2h.7M476.8 190.7h.7M459.5 208.2h.7M464.4 209.6h.7M460.8 202.5h.7M463.9 204.8h.7M448.3 222.8h.7M452.4 219.4h.7M464.6 198.9h.7M463.7 200.8h.7M449.4 222.3h.7M458.8 214.6h.7M471.0 183.1h.7M467.1 190.3h.7M478.9 188.6h.7M482.8 191.0h.7M473.5 185.8h.7M451.9 219.0h.7M453.2 214.0h.7M470.1 206.1h.7M450.2 218.6h.7M470.8 183.2h.7M453.5 215.4h.7M466.7 189.8h.7M459.6 212.8h.7M458.1 207.2h.7M460.5 202.1h.7M452.3 217.1h.7M469.9 200.4h.7M457.6 212.9h.7M465.7 196.7h.7M449.9 222.0h.7M472.9 196.8h.7M449.4 214.4h.7M469.8 206.2h.7M466.2 192.4h.7M448.2 222.0h.7M452.1 216.6h.7M453.7 216.5h.7M473.7 191.9h.7M468.3 195.3h.7M449.6 218.2h.7M457.5 209.6h.7M458.5 209.8h.7M472.0 196.4h.7M480.2 190.9h.7M457.5 191.1h.7M458.7 210.5h.7M458.7 213.1h.7M465.6 204.6h.7M478.2 192.1h.7M472.9 186.6h.7M453.1 216.6h.7M457.4 212.4h.7M451.9 215.7h.7M456.5 201.9h.7M461.0 204.8h.7M472.3 194.0h.7M468.2 206.9h.7M468.9 192.6h.7M451.7 219.0h.7M465.1 202.6h.7M472.6 198.5h.7M452.5 211.4h.7M468.6 203.7h.7M461.1 209.7h.7M462.8 184.9h.7M466.8 188.0h.7M450.1 217.6h.7M456.8 202.2h.7M472.5 202.8h.7M474.4 195.0h.7M466.3 198.3h.7M463.2 203.8h.7M451.1 219.2h.7M456.0 209.7h.7M455.4 209.8h.7M456.4 213.7h.7M464.0 193.4h.7M462.7 203.1h.7M464.9 200.2h.7M452.5 217.5h.7M463.9 197.0h.7M461.9 203.9h.7M465.0 201.6h.7M463.6 199.2h.7M466.8 203.5h.7M448.9 219.3h.7M478.0 191.2h.7M448.8 221.4h.7M456.6 208.0h.7M469.8 184.5h.7M465.2 190.5h.7M449.7 213.6h.7M447.4 218.3h.7M458.6 201.1h.7M482.4 193.2h.7M448.9 217.7h.7M458.2 204.0h.7M455.1 210.9h.7M460.4 185.9h.7M466.4 211.2h.7M446.9 219.0h.7M467.9 184.5h.7M451.9 215.6h.7M463.1 203.2h.7M470.6 191.2h.7M455.1 209.2h.7M469.1 191.5h.7M450.3 204.7h.7M462.2 200.7h.7M473.8 201.7h.7M472.4 185.2h.7M474.8 194.2h.7M464.2 202.7h.7M470.7 202.2h.7M460.6 206.6h.7M459.3 209.3h.7M456.1 212.1h.7M464.9 202.9h.7M453.1 209.5h.7M452.5 215.3h.7M455.0 212.6h.7M459.7 205.2h.7M453.0 214.8h.7M462.8 196.8h.7M468.2 190.8h.7M455.7 213.7h.7M450.5 221.8h.7M478.4 194.5h.7M475.8 189.3h.7M450.4 209.5h.7M449.7 218.4h.7M449.0 220.0h.7M447.7 222.3h.7M468.3 195.3h.7M474.6 197.1h.7M449.1 218.1h.7M451.4 217.4h.7M451.5 220.3h.7M474.3 188.1h.7M461.7 206.0h.7M459.0 216.7h.7M464.4 194.0h.7M461.2 202.4h.7M467.4 200.4h.7M451.7 219.2h.7M455.5 208.4h.7M463.9 197.3h.7M453.7 219.2h.7M464.8 197.6h.7M447.8 222.7h.7M460.5 197.1h.7M452.3 214.9h.7M463.9 183.0h.7M448.2 222.7h.7M463.1 209.4h.7M451.9 221.4h.7M473.1 188.6h.7M462.6 206.6h.7M477.5 190.9h.7M462.3 202.4h.7M453.3 222.3h.7M462.0 192.7h.7M460.3 205.2h.7M474.8 187.8h.7M453.2 209.0h.7M450.9 213.8h.7M452.1 216.8h.7M463.0 204.4h.7M451.2 214.3h.7M459.7 200.0h.7M467.6 197.3h.7M466.2 195.7h.7M459.4 204.8h.7M469.1 203.4h.7M453.4 205.5h.7M463.1 195.1h.7M463.7 198.0h.7M462.0 212.8h.7M452.8 205.2h.7M457.1 209.2h.7M457.3 206.9h.7M463.3 196.8h.7M471.9 190.2h.7M470.7 190.0h.7M458.2 200.5h.7M463.9 198.4h.7M448.7 219.0h.7M454.3 212.2h.7M447.8 218.0h.7M454.7 217.4h.7M461.6 203.5h.7M472.9 203.1h.7M472.3 182.8h.7M452.3 210.6h.7M466.6 203.5h.7M456.2 209.8h.7M471.5 201.6h.7M468.1 196.1h.7M470.5 189.5h.7M470.5 185.4h.7M452.0 209.0h.7M466.9 205.9h.7M450.2 222.6h.7M451.8 216.8h.7M468.6 204.7h.7M455.3 211.5h.7M452.2 218.9h.7M477.9 190.5h.7M457.8 209.0h.7M460.8 200.6h.7M466.3 202.5h.7M447.9 220.7h.7M476.2 192.1h.7M480.3 194.4h.7M468.9 196.5h.7M451.3 218.0h.7M454.2 212.1h.7M472.6 202.6h.7M457.2 205.3h.7M455.3 210.6h.7M449.7 221.0h.7M461.2 211.1h.7M458.3 208.3h.7M459.3 209.5h.7M457.9 200.3h.7M471.0 204.5h.7M473.6 191.3h.7M473.1 202.3h.7M469.3 196.7h.7M460.2 201.0h.7M467.1 201.4h.7M460.3 209.4h.7M461.3 198.4h.7M478.3 190.9h.7M464.1 202.4h.7M462.0 201.4h.7M471.2 198.7h.7M452.0 218.5h.7M464.4 205.6h.7M478.0 190.8h.7M454.2 215.8h.7M465.3 194.1h.7M464.7 190.3h.7M451.3 220.5h.7M448.3 222.3h.7M449.0 219.9h.7M463.6 189.8h.7M449.0 220.0h.7M475.0 187.8h.7M454.4 217.1h.7M456.4 209.3h.7M451.1 199.5h.7M452.6 207.8h.7M449.1 216.7h.7M446.9 219.4h.7M461.0 208.3h.7M453.4 213.7h.7M450.2 221.0h.7M453.6 216.0h.7M460.8 202.1h.7M459.8 215.0h.7M461.9 204.7h.7M474.3 203.1h.7M471.3 185.3h.7M464.4 204.7h.7M454.3 209.0h.7M452.7 210.0h.7M461.7 195.0h.7M470.2 195.0h.7M467.8 198.1h.7M449.5 218.7h.7M450.8 219.7h.7M452.0 215.9h.7M463.9 202.0h.7M465.7 201.5h.7M456.1 213.6h.7M450.3 213.1h.7M447.5 222.2h.7M468.9 189.1h.7M471.6 192.7h.7M454.7 210.6h.7M480.4 191.8h.7M474.3 195.7h.7M455.5 210.1h.7M471.5 193.7h.7M447.0 222.5h.7M471.2 186.8h.7M457.2 211.5h.7M457.6 202.9h.7M472.1 192.7h.7M449.8 218.4h.7M446.8 218.2h.7M465.6 208.1h.7M471.4 193.1h.7M474.0 201.0h.7M461.0 210.2h.7M452.0 215.3h.7M457.4 209.7h.7M459.9 208.7h.7M465.3 198.3h.7M457.8 214.2h.7M475.5 189.1h.7M452.0 217.3h.7M449.1 218.3h.7M458.6 213.9h.7M457.9 207.5h.7M465.1 197.0h.7M465.0 190.5h.7M448.8 221.7h.7M463.6 204.5h.7M463.0 202.0h.7M452.9 215.1h.7M466.9 189.8h.7M458.0 210.3h.7M456.0 207.9h.7M462.2 209.8h.7M469.6 185.1h.7M450.7 218.8h.7M461.7 193.3h.7M454.4 217.2h.7M455.7 214.0h.7M452.4 215.8h.7M464.0 200.1h.7M459.9 205.8h.7M461.5 196.0h.7M465.2 208.1h.7M462.7 200.1h.7M447.3 220.3h.7M454.6 214.3h.7M458.9 211.8h.7M460.3 215.9h.7M465.3 176.9h.7M465.6 198.1h.7M471.3 192.7h.7M449.6 216.8h.7M459.5 203.8h.7M468.6 207.0h.7M462.0 204.2h.7M473.4 189.0h.7M455.1 210.1h.7M451.0 220.9h.7M461.3 209.1h.7M471.5 201.1h.7M473.8 192.7h.7M454.4 211.2h.7M467.5 193.0h.7M452.9 217.8h.7M455.5 196.3h.7M455.6 212.9h.7M446.8 221.1h.7M449.9 215.1h.7M463.6 197.0h.7M459.3 201.9h.7M455.5 211.0h.7M461.3 208.8h.7M469.7 200.3h.7M451.3 210.1h.7M478.4 186.7h.7M460.8 212.0h.7M457.1 212.8h.7M461.8 207.2h.7M451.9 207.9h.7M462.9 201.8h.7M453.3 216.9h.7M449.3 219.4h.7M465.2 191.3h.7M458.2 212.2h.7M446.5 221.6h.7M449.9 221.4h.7M466.2 197.8h.7M464.6 202.7h.7M450.8 219.8h.7M460.7 203.3h.7M453.6 216.0h.7M474.4 194.0h.7M464.7 210.1h.7M472.2 195.5h.7M447.6 222.3h.7M446.8 218.1h.7M471.0 191.9h.7M477.7 190.4h.7M459.0 205.5h.7M471.4 198.5h.7M473.5 188.3h.7M470.6 190.3h.7M466.3 206.5h.7M448.8 218.1h.7M469.8 204.4h.7M452.3 209.9h.7M450.4 214.5h.7M449.2 218.9h.7M468.1 203.2h.7M468.6 187.2h.7M460.0 208.2h.7M458.4 204.0h.7M449.7 217.8h.7M456.8 216.5h.7M451.4 218.3h.7M457.2 213.7h.7M458.4 205.4h.7M470.5 190.2h.7M463.9 205.2h.7M450.1 220.2h.7M455.7 216.4h.7M448.4 216.5h.7M467.8 194.4h.7M453.7 215.6h.7M452.8 215.3h.7M448.3 216.4h.7M459.6 203.9h.7M471.4 195.9h.7M454.8 213.3h.7M454.7 220.8h.7M481.5 191.7h.7M461.3 206.2h.7M465.8 193.3h.7M470.0 189.7h.7M449.5 216.4h.7M451.1 209.6h.7M465.9 207.4h.7M457.5 212.4h.7M458.4 217.5h.7M460.9 213.6h.7M472.3 197.8h.7M460.2 198.9h.7M467.2 199.5h.7M472.4 184.8h.7M463.5 211.8h.7M452.5 215.8h.7M458.0 209.9h.7M463.6 210.8h.7M453.9 213.4h.7M466.9 193.1h.7M452.1 215.6h.7M468.4 196.7h.7M463.4 205.8h.7M479.2 194.7h.7M460.9 208.1h.7M463.6 206.3h.7M465.5 201.6h.7M464.7 214.1h.7M470.2 195.6h.7M460.0 205.1h.7M450.2 218.1h.7M456.4 213.9h.7M460.7 209.8h.7M458.0 205.1h.7M478.7 199.3h.7M467.4 192.2h.7M449.4 221.1h.7M466.0 195.8h.7M475.6 186.6h.7M450.3 220.2h.7M456.8 212.3h.7M458.2 214.9h.7M454.8 208.8h.7M450.5 217.1h.7M461.5 202.5h.7M456.9 205.9h.7M452.6 215.8h.7M460.7 204.7h.7M467.3 203.8h.7M458.2 208.1h.7M450.3 218.4h.7M449.9 215.2h.7M446.5 221.8h.7M449.7 222.3h.7M453.9 209.8h.7M466.7 209.4h.7M455.4 207.3h.7M454.9 213.0h.7M456.3 216.2h.7M456.1 213.5h.7M464.7 201.9h.7M463.5 205.1h.7M469.9 210.5h.7M448.5 218.3h.7M464.5 193.7h.7M460.0 208.9h.7M465.8 201.7h.7M460.9 207.0h.7M466.5 180.8h.7M471.9 207.0h.7M448.2 218.3h.7M453.9 218.0h.7M475.4 184.4h.7M459.8 203.5h.7M450.8 219.5h.7M469.5 190.2h.7M450.6 218.1h.7M472.3 189.2h.7M470.1 186.9h.7M460.5 208.1h.7M451.5 217.5h.7M465.9 210.3h.7M452.3 215.9h.7M461.9 202.9h.7M480.7 194.5h.7M468.1 193.9h.7M452.4 215.4h.7M470.4 193.3h.7M457.5 203.7h.7M471.4 187.7h.7M465.3 183.6h.7M462.6 209.6h.7M471.8 187.9h.7M468.9 210.4h.7M451.4 215.8h.7M458.2 211.5h.7M473.6 201.0h.7M452.8 208.3h.7M453.2 213.8h.7M456.9 205.1h.7M460.7 205.9h.7M450.6 221.5h.7M461.7 201.7h.7M472.6 196.3h.7M455.2 216.1h.7M459.5 207.9h.7M456.7 210.6h.7M460.9 208.5h.7M464.9 190.1h.7M457.3 213.6h.7M448.3 220.0h.7M451.2 221.6h.7M448.9 221.1h.7M477.3 189.3h.7M465.3 187.5h.7M459.7 207.8h.7M461.1 200.7h.7M458.0 218.1h.7M446.7 222.3h.7M463.7 213.4h.7M476.8 187.1h.7M458.3 207.4h.7M464.5 199.8h.7M459.6 209.7h.7M457.0 208.5h.7M477.3 186.0h.7M481.5 194.6h.7M466.4 207.4h.7M453.6 221.5h.7M454.5 210.3h.7M456.0 196.1h.7M454.2 216.0h.7M473.0 194.6h.7M470.1 199.7h.7M473.9 187.4h.7M452.7 218.6h.7M457.1 214.2h.7M453.4 221.5h.7M449.1 222.0h.7M466.8 192.8h.7M455.8 212.0h.7M448.4 221.3h.7M465.8 200.8h.7M466.3 198.0h.7M461.3 204.0h.7M477.2 192.6h.7M461.3 200.1h.7M455.7 211.3h.7M465.0 194.2h.7M459.0 200.0h.7M459.3 199.8h.7M454.8 211.6h.7M473.8 198.3h.7M460.5 207.0h.7M459.9 210.7h.7M450.9 211.8h.7M470.6 186.4h.7M476.5 191.6h.7M453.8 209.8h.7M459.5 211.9h.7M448.5 221.1h.7M451.4 215.6h.7M465.1 200.8h.7M461.2 207.2h.7M470.9 188.0h.7M468.3 199.6h.7M476.2 184.4h.7M474.7 186.6h.7M480.8 194.8h.7M449.9 218.7h.7M455.1 213.9h.7M463.5 207.7h.7M474.2 183.5h.7M470.4 194.8h.7M480.4 189.2h.7M464.4 205.0h.7M451.6 207.5h.7M446.6 220.1h.7M458.0 212.4h.7M466.7 206.7h.7M458.1 206.8h.7M466.4 202.6h.7M460.2 210.4h.7M449.1 222.6h.7M449.3 217.5h.7M455.7 211.8h.7M453.6 217.3h.7M448.6 220.3h.7M449.3 216.5h.7M451.0 215.6h.7M449.4 220.8h.7M453.3 213.1h.7M457.6 195.3h.7M472.7 192.9h.7M449.2 219.8h.7M453.1 218.9h.7M466.1 204.1h.7M473.8 196.8h.7M452.0 219.5h.7M450.1 215.9h.7M462.5 193.8h.7M461.6 197.4h.7M447.1 220.7h.7M457.8 208.1h.7M470.9 187.2h.7M455.3 213.5h.7M450.3 215.0h.7M468.8 199.2h.7M477.2 186.6h.7M462.8 206.4h.7M457.9 204.7h.7M450.2 220.6h.7M477.7 197.9h.7M465.6 211.7h.7M454.0 212.0h.7M454.7 209.7h.7M448.7 220.1h.7M480.1 191.4h.7M455.1 208.7h.7M475.0 185.5h.7M462.1 190.7h.7M461.9 199.8h.7M458.4 203.4h.7M459.3 215.0h.7M465.2 196.7h.7M452.1 221.1h.7M456.9 199.3h.7M455.2 208.8h.7M464.8 212.1h.7M463.8 189.4h.7M473.5 186.1h.7M448.4 216.5h.7M448.4 221.2h.7M450.8 220.3h.7M474.0 186.1h.7M457.4 209.2h.7M459.5 198.2h.7M455.0 210.7h.7M450.3 222.1h.7M477.1 191.2h.7M453.2 214.6h.7M470.4 185.3h.7M471.5 191.4h.7M449.7 220.1h.7M461.0 211.6h.7M454.6 212.4h.7M448.0 213.2h.7M454.4 221.1h.7M468.2 189.2h.7M447.0 221.7h.7M460.8 216.8h.7M465.8 196.6h.7M465.9 191.9h.7M468.9 198.0h.7M455.6 205.9h.7M456.3 210.0h.7M460.9 207.4h.7M448.0 220.0h.7M453.0 217.3h.7M461.7 213.9h.7M464.1 196.7h.7M452.7 213.1h.7M450.4 219.2h.7M473.8 184.7h.7M463.5 203.9h.7M470.1 182.9h.7M453.5 219.2h.7M468.8 184.1h.7M463.3 207.2h.7M461.2 206.3h.7M467.6 189.4h.7M462.7 202.5h.7M459.0 205.7h.7M465.0 201.8h.7M464.8 188.7h.7M458.8 212.6h.7M462.9 202.7h.7M456.4 208.6h.7M469.9 201.5h.7M452.5 219.4h.7M461.0 208.0h.7M463.9 193.1h.7M452.8 212.0h.7M457.0 210.3h.7M479.7 191.5h.7M454.8 219.9h.7M475.1 187.8h.7M465.2 203.6h.7M454.8 208.5h.7M473.7 196.9h.7M449.1 214.4h.7M467.2 184.1h.7M450.5 219.3h.7M447.6 220.9h.7M452.8 216.2h.7M468.9 188.0h.7M449.1 212.6h.7M478.2 188.5h.7M477.4 199.3h.7M473.2 189.7h.7M447.5 222.5h.7M471.9 203.4h.7M452.4 217.8h.7M466.6 204.5h.7M457.7 215.8h.7M472.4 187.0h.7M452.0 214.1h.7M471.1 196.6h.7M449.6 218.9h.7M455.1 219.5h.7M454.8 212.1h.7M451.8 218.7h.7M465.9 197.4h.7M456.1 193.9h.7M449.5 219.9h.7M468.1 199.4h.7M469.3 195.9h.7M448.5 217.9h.7M480.9 191.2h.7M449.4 221.3h.7M455.4 199.2h.7M450.0 214.3h.7M462.6 202.9h.7M451.2 218.5h.7M479.7 188.7h.7M463.8 205.4h.7M454.1 217.2h.7M461.7 202.3h.7M466.9 199.4h.7M473.8 187.4h.7M451.6 215.1h.7M453.4 211.1h.7M457.6 215.5h.7M458.5 199.3h.7M471.0 180.5h.7M467.1 202.5h.7M460.9 211.0h.7M450.8 220.2h.7M447.7 217.9h.7M470.1 191.9h.7M465.6 192.7h.7M474.1 190.3h.7M480.0 197.1h.7M448.6 222.7h.7M463.4 193.6h.7M472.8 198.2h.7M457.5 203.5h.7M465.2 201.0h.7M466.7 180.8h.7M475.1 197.2h.7M453.7 209.5h.7M458.0 210.9h.7M458.2 204.8h.7M447.6 220.3h.7M446.8 220.3h.7M470.4 203.4h.7M474.9 205.6h.7M459.6 204.8h.7M457.4 208.7h.7M469.8 192.2h.7M463.2 201.4h.7M469.8 190.1h.7M459.7 203.9h.7M470.4 192.4h.7M474.5 187.8h.7M449.9 219.8h.7M451.8 221.5h.7M451.2 215.0h.7M472.8 198.6h.7M463.4 184.0h.7M470.8 198.0h.7M462.8 209.2h.7M472.0 201.0h.7M472.3 199.3h.7M471.2 201.9h.7M463.2 200.4h.7M458.9 214.6h.7M462.7 207.6h.7M458.2 216.5h.7M458.3 208.8h.7M474.1 191.8h.7M447.2 211.9h.7M446.6 214.7h.7M469.8 198.2h.7M458.3 208.9h.7M459.8 203.4h.7M471.7 195.0h.7M450.9 218.1h.7M451.1 218.7h.7M477.0 206.3h.7M454.4 209.4h.7M461.7 204.6h.7M464.6 206.4h.7M467.4 189.2h.7M446.8 222.4h.7M457.6 213.8h.7M452.6 215.2h.7M457.9 210.7h.7M448.0 218.7h.7M457.6 205.6h.7M455.7 215.9h.7M456.9 216.2h.7M457.3 208.3h.7M474.3 192.7h.7M471.4 196.2h.7M469.0 191.6h.7M461.9 201.2h.7M467.0 200.8h.7M448.1 217.1h.7M452.4 217.5h.7M451.5 213.0h.7M475.8 189.0h.7M462.8 197.9h.7M458.9 207.4h.7M460.9 203.0h.7M459.5 207.6h.7M467.2 199.9h.7M451.2 216.2h.7M461.4 205.8h.7M467.3 209.2h.7M454.9 211.0h.7M460.1 204.9h.7M462.2 195.5h.7M460.7 213.1h.7M466.1 192.8h.7M451.0 220.4h.7M485.8 193.7h.7M460.3 214.3h.7M466.8 203.8h.7M461.7 208.4h.7M474.6 197.5h.7M455.0 195.3h.7M453.0 216.1h.7M449.3 217.1h.7M456.8 211.3h.7M459.1 206.1h.7M450.2 217.4h.7M449.2 217.5h.7M456.2 211.3h.7M482.6 190.5h.7M462.8 198.5h.7M472.5 192.0h.7M475.0 187.2h.7M468.0 193.8h.7M450.6 219.9h.7M460.5 204.0h.7M458.1 206.6h.7M458.2 197.5h.7M450.3 215.4h.7M454.0 217.9h.7M451.4 221.1h.7M473.1 199.7h.7M458.5 210.4h.7M471.6 204.0h.7M456.8 213.3h.7M465.1 202.2h.7M464.6 200.3h.7M468.6 192.5h.7M463.8 199.2h.7M455.0 217.4h.7M466.5 195.6h.7M467.1 190.7h.7M462.1 206.7h.7M453.3 219.4h.7M473.4 202.3h.7M460.8 200.3h.7M472.8 191.3h.7M465.7 198.3h.7M449.3 221.8h.7M467.8 189.2h.7M456.4 209.0h.7M453.7 212.9h.7M451.6 220.8h.7M448.5 222.8h.7M457.7 209.5h.7M451.1 211.4h.7M472.4 208.6h.7M457.9 212.3h.7M451.7 222.3h.7M452.6 219.6h.7M452.6 216.9h.7M459.4 211.5h.7M465.6 187.2h.7M475.5 188.6h.7M462.7 197.5h.7M469.8 194.6h.7M472.5 193.5h.7M446.6 218.8h.7M460.5 206.5h.7M451.7 216.1h.7M472.2 190.7h.7M478.1 191.5h.7M446.6 221.1h.7M463.0 189.2h.7M452.4 217.2h.7M453.1 210.3h.7M471.2 182.8h.7M453.3 214.8h.7M464.5 203.9h.7M472.2 191.4h.7M453.9 209.5h.7M457.9 208.4h.7M460.7 177.2h.7M451.5 216.8h.7M476.1 192.4h.7M446.9 220.3h.7M469.8 199.1h.7M469.9 201.8h.7M463.9 213.0h.7M461.2 191.1h.7M470.6 201.4h.7M480.1 193.1h.7M472.8 200.5h.7M459.3 190.5h.7M447.8 220.6h.7M479.8 188.5h.7M449.4 217.5h.7M472.4 183.2h.7M452.2 210.6h.7M463.7 194.3h.7M452.2 219.4h.7M459.2 195.7h.7M450.4 219.7h.7M458.0 213.1h.7M455.3 217.9h.7M458.0 207.2h.7M450.2 211.9h.7M482.1 195.1h.7M468.3 189.0h.7M446.8 218.1h.7M457.9 212.2h.7M475.1 191.5h.7M449.8 217.7h.7M454.0 215.6h.7M465.2 202.8h.7M466.8 206.3h.7M446.6 219.7h.7M467.2 194.7h.7M468.6 186.1h.7M462.4 208.9h.7M449.6 214.5h.7M457.1 206.7h.7M452.6 214.7h.7M465.7 198.6h.7M458.9 215.0h.7M453.8 216.2h.7M465.4 200.3h.7M467.6 197.0h.7M466.7 200.2h.7M458.5 213.2h.7M450.2 215.0h.7M463.7 204.9h.7M473.5 193.4h.7M485.3 194.1h.7M454.9 217.3h.7M473.6 182.3h.7M461.6 202.9h.7M472.4 186.0h.7M462.0 198.5h.7M476.0 193.4h.7M463.8 202.9h.7M470.2 197.4h.7M454.4 209.6h.7M448.5 221.2h.7M462.3 199.6h.7M455.0 217.4h.7M456.4 217.9h.7M451.3 221.6h.7M461.4 203.5h.7M458.0 215.6h.7M455.4 212.2h.7M450.9 215.3h.7M466.3 198.4h.7M464.0 187.4h.7M463.0 206.0h.7M451.7 208.5h.7M465.8 188.7h.7M451.0 211.6h.7M464.6 196.9h.7M453.7 216.7h.7M470.9 192.6h.7M455.7 213.5h.7M465.8 202.5h.7M458.1 204.2h.7M459.0 205.6h.7M461.3 203.2h.7M467.4 201.3h.7M473.4 194.6h.7M454.7 219.0h.7M450.2 219.6h.7M458.9 209.8h.7M470.1 188.7h.7M466.5 190.6h.7M469.6 201.7h.7M451.4 222.1h.7M453.0 214.2h.7M470.4 183.5h.7M465.1 210.4h.7M462.6 199.0h.7M449.8 220.4h.7M448.7 216.8h.7M456.6 216.5h.7M447.9 219.2h.7M448.0 218.1h.7M462.7 202.8h.7M474.9 187.6h.7M450.7 216.9h.7M450.7 220.8h.7M453.5 213.5h.7M453.6 217.7h.7M467.1 210.1h.7M457.9 216.6h.7M468.2 196.7h.7M477.0 192.8h.7M474.8 184.0h.7M459.8 197.1h.7M466.1 206.8h.7M455.6 210.3h.7M451.1 214.5h.7M448.5 216.9h.7M461.3 206.7h.7M478.5 194.2h.7M476.3 194.9h.7M472.0 190.6h.7M448.2 221.3h.7M459.5 199.3h.7M456.0 210.9h.7M456.1 210.1h.7M480.3 188.2h.7M461.7 191.5h.7M451.5 217.9h.7M462.8 201.6h.7M459.6 205.8h.7M456.1 208.2h.7M469.6 195.6h.7M465.3 207.5h.7M462.0 198.2h.7M466.6 198.7h.7M473.2 186.2h.7M470.8 195.7h.7M471.6 203.2h.7M461.4 193.0h.7M459.5 208.2h.7M447.3 220.1h.7M459.2 206.1h.7M468.9 179.6h.7M454.3 208.6h.7M470.5 192.3h.7M474.3 199.4h.7M456.1 212.9h.7M450.9 214.8h.7M456.1 208.2h.7M458.8 214.9h.7M469.9 185.9h.7M460.6 206.5h.7M472.8 185.6h.7M476.0 188.9h.7M453.4 209.9h.7M446.6 219.2h.7M463.3 196.4h.7M449.1 222.1h.7M456.6 205.6h.7M464.5 199.0h.7M463.4 203.9h.7M450.7 219.4h.7M462.5 198.7h.7M476.0 192.5h.7M479.0 192.6h.7M472.5 197.4h.7M449.1 221.3h.7M460.8 213.3h.7M459.5 192.5h.7M462.7 207.0h.7M458.5 203.0h.7M471.6 185.0h.7M456.7 210.7h.7M452.7 211.4h.7M449.7 222.2h.7M464.8 195.8h.7M458.3 207.7h.7M462.3 196.2h.7M448.3 218.9h.7M448.3 219.7h.7M468.7 193.4h.7M454.3 211.3h.7M470.1 189.1h.7M452.7 217.5h.7M466.9 198.7h.7M449.9 209.7h.7M450.9 215.2h.7M449.7 221.7h.7M449.6 220.7h.7M468.4 206.4h.7M451.7 217.8h.7M449.1 218.6h.7M470.5 192.9h.7M474.8 195.4h.7M464.6 202.8h.7M458.8 206.7h.7M468.1 198.0h.7M467.1 194.7h.7M464.9 204.0h.7M471.2 181.0h.7M472.0 184.1h.7M475.2 189.0h.7M456.0 206.3h.7M467.5 184.1h.7M448.4 221.9h.7M470.6 200.7h.7M456.1 205.3h.7M478.6 187.1h.7M461.0 193.4h.7M449.7 216.2h.7M453.8 212.5h.7M459.2 201.7h.7M471.7 196.6h.7M457.2 208.0h.7M476.7 190.3h.7M458.3 213.3h.7M472.6 184.1h.7M458.4 204.8h.7M465.9 197.5h.7M453.3 219.7h.7M468.2 201.5h.7M460.0 209.0h.7M471.2 197.5h.7M459.6 200.9h.7M453.3 212.6h.7M454.4 217.4h.7M460.9 200.0h.7M458.1 196.6h.7M457.4 214.1h.7M454.8 214.4h.7M467.8 181.4h.7M465.9 201.8h.7M476.9 192.7h.7M454.5 210.8h.7M454.9 215.8h.7M453.7 216.5h.7M463.3 196.9h.7M481.3 195.6h.7M457.4 209.8h.7M465.2 211.5h.7M456.2 213.1h.7M457.6 213.4h.7M479.8 196.2h.7M475.1 195.2h.7M449.9 217.7h.7M480.2 196.9h.7M459.1 206.5h.7M458.4 206.7h.7M448.0 222.6h.7M450.0 222.6h.7M465.7 209.0h.7M458.4 201.6h.7M451.2 221.2h.7M453.1 220.3h.7M478.3 186.6h.7M451.5 217.2h.7M474.7 187.3h.7M469.7 190.8h.7M448.3 222.2h.7M447.4 222.2h.7M474.8 205.3h.7M464.5 192.2h.7M452.1 220.4h.7M454.5 216.7h.7M451.0 214.8h.7M451.7 213.2h.7M474.4 188.3h.7M474.9 189.8h.7M464.8 196.7h.7M474.8 187.7h.7M471.8 198.5h.7M458.0 207.5h.7M461.4 193.5h.7M448.0 222.7h.7M465.0 210.5h.7M447.9 218.0h.7M461.1 206.2h.7M453.6 203.0h.7M471.4 204.2h.7M459.5 195.9h.7M465.1 194.3h.7M448.8 218.7h.7M478.2 195.9h.7M460.9 210.6h.7M477.5 191.3h.7M461.9 202.5h.7M469.7 189.1h.7M461.9 198.2h.7M451.3 215.3h.7M473.3 199.2h.7M454.3 204.0h.7M453.7 208.0h.7M482.6 199.0h.7M468.9 186.9h.7M448.7 220.2h.7M450.7 215.4h.7M448.1 221.0h.7M465.6 202.6h.7M451.6 207.1h.7M454.8 204.4h.7M465.2 192.7h.7M448.2 216.9h.7M456.8 211.3h.7M451.5 216.6h.7M473.1 185.7h.7M453.4 215.6h.7M460.9 209.4h.7M466.4 193.7h.7M452.5 211.5h.7M450.6 218.9h.7M455.2 207.7h.7M451.4 213.0h.7M457.4 203.5h.7M457.9 208.6h.7M457.2 213.0h.7M466.0 200.8h.7M448.4 219.8h.7M453.6 216.5h.7M460.4 191.1h.7M451.1 222.3h.7M453.6 211.4h.7M472.7 186.3h.7M452.9 214.1h.7M461.1 206.9h.7M466.9 192.4h.7M469.3 201.2h.7M464.8 203.5h.7M449.4 222.0h.7M454.3 209.3h.7M459.2 204.2h.7M470.0 196.1h.7M460.6 193.9h.7M460.2 211.0h.7M457.5 212.3h.7M462.7 194.4h.7M468.2 205.9h.7M467.3 211.7h.7M450.1 222.4h.7M469.2 187.3h.7M460.0 204.1h.7M469.3 187.6h.7M453.4 217.2h.7M448.4 217.9h.7M461.5 200.4h.7M481.1 193.8h.7M473.8 191.7h.7M451.8 216.6h.7M460.6 200.7h.7M466.5 186.8h.7M467.9 195.7h.7M446.9 221.4h.7M472.1 194.7h.7M448.6 222.7h.7M481.0 189.2h.7M461.4 193.5h.7M461.2 210.9h.7M457.4 211.9h.7M459.3 207.8h.7M476.5 192.5h.7M463.2 201.5h.7M459.6 198.7h.7M459.1 203.4h.7M452.3 216.7h.7M476.0 186.7h.7M470.7 193.2h.7M464.2 195.6h.7M450.5 221.2h.7M473.8 197.8h.7M459.0 208.2h.7M459.3 193.3h.7M448.1 218.8h.7M450.4 217.3h.7M452.9 218.5h.7M472.7 195.7h.7M455.1 209.5h.7M451.8 220.8h.7M452.4 218.8h.7M469.8 187.2h.7M455.2 211.2h.7M466.1 192.9h.7M470.2 187.0h.7M476.0 189.4h.7M468.5 206.3h.7M483.7 191.2h.7M454.3 213.9h.7M454.6 210.1h.7M465.7 200.9h.7M454.7 206.4h.7M447.4 221.1h.7M449.6 215.6h.7M458.2 196.9h.7M461.4 194.0h.7M448.2 219.1h.7M460.7 207.5h.7M465.7 203.5h.7M453.0 220.9h.7M467.2 195.8h.7M446.8 221.6h.7M460.0 205.7h.7M447.9 220.2h.7M459.0 197.2h.7M461.7 211.5h.7M461.5 210.8h.7M469.8 192.8h.7M459.1 208.6h.7M462.7 201.1h.7M468.5 186.7h.7M460.4 202.2h.7M465.3 189.5h.7M470.2 191.1h.7M473.7 204.6h.7M452.6 219.8h.7M452.9 211.3h.7M460.5 210.3h.7M458.2 203.1h.7M450.5 216.0h.7M468.6 194.8h.7M452.1 206.7h.7M448.6 221.7h.7M451.2 221.5h.7M464.4 203.9h.7M449.9 219.7h.7M453.5 210.0h.7M454.0 212.8h.7M460.0 205.0h.7M455.8 211.4h.7M447.7 220.8h.7M449.7 217.2h.7M463.3 180.5h.7M450.6 218.8h.7M451.2 216.6h.7M468.4 194.6h.7M469.4 192.4h.7M463.5 204.4h.7M467.5 187.7h.7M453.4 217.6h.7M452.0 217.1h.7M469.0 203.3h.7M452.1 218.0h.7M474.8 185.1h.7M452.0 220.1h.7M456.1 221.4h.7M461.5 204.7h.7M447.5 218.7h.7M475.0 189.4h.7M462.5 210.8h.7M473.7 185.2h.7M455.9 203.9h.7M449.4 222.5h.7M450.9 217.0h.7M453.7 214.2h.7M474.2 185.1h.7M446.6 221.8h.7M469.9 194.1h.7M447.7 222.8h.7M452.6 220.0h.7M463.4 201.2h.7M450.3 217.6h.7M456.5 209.1h.7M469.4 201.2h.7M456.0 210.0h.7M470.2 209.1h.7M456.6 208.3h.7M458.0 207.3h.7M453.1 210.9h.7M469.0 192.3h.7M451.0 221.7h.7M454.2 218.6h.7M472.8 197.7h.7M451.4 221.4h.7M451.5 212.2h.7M455.5 211.1h.7M465.6 193.6h.7M448.3 221.4h.7M463.5 211.1h.7M467.9 192.0h.7M466.7 190.6h.7M457.4 203.7h.7M464.7 199.5h.7M460.3 209.5h.7M477.2 199.9h.7M469.2 201.9h.7M463.1 204.8h.7M472.7 192.3h.7M470.6 182.6h.7M467.2 194.9h.7M454.9 217.3h.7M456.3 212.0h.7M450.8 221.9h.7M480.6 189.4h.7M475.2 200.8h.7M463.1 203.4h.7M469.7 202.4h.7M447.3 222.1h.7M475.3 187.0h.7M462.5 189.8h.7M468.5 197.5h.7M447.0 219.9h.7M470.6 186.8h.7M461.2 208.7h.7M456.5 210.2h.7M454.3 219.6h.7M467.9 203.6h.7M446.6 221.1h.7M467.8 206.9h.7M463.7 199.0h.7M461.1 212.0h.7M462.2 202.2h.7M461.5 206.7h.7M448.6 220.4h.7M446.9 220.6h.7M477.2 202.4h.7M460.8 211.5h.7M457.4 212.0h.7M476.8 187.2h.7M462.2 206.6h.7M453.3 213.3h.7M448.5 217.0h.7M464.8 204.8h.7M463.6 205.9h.7M454.0 219.3h.7M453.5 207.3h.7M449.6 218.4h.7M467.2 199.6h.7M466.4 206.5h.7M458.6 211.2h.7M467.2 198.8h.7M462.6 197.2h.7M461.0 207.0h.7M467.2 201.1h.7M470.3 196.7h.7M457.3 198.2h.7M447.8 220.1h.7M468.7 201.6h.7M447.4 222.1h.7M467.2 183.6h.7M448.2 220.7h.7M452.3 207.4h.7M472.3 183.5h.7M473.3 194.6h.7M473.8 199.2h.7M474.2 189.5h.7M461.1 201.7h.7M449.7 220.9h.7M449.9 216.9h.7M457.4 214.1h.7M477.1 191.0h.7M447.6 216.2h.7M450.4 218.4h.7M469.9 192.7h.7M470.4 201.2h.7M455.3 213.5h.7M462.7 198.1h.7M474.5 194.7h.7M469.2 180.8h.7M457.4 210.6h.7M461.6 197.8h.7M459.2 208.8h.7M467.5 189.0h.7M456.4 210.8h.7M457.6 211.5h.7M460.6 201.9h.7M456.1 203.0h.7M452.9 214.5h.7M448.1 221.0h.7M449.7 220.9h.7M446.5 217.0h.7M462.4 211.6h.7M454.5 211.8h.7M446.8 222.6h.7M470.7 194.8h.7M452.1 211.4h.7M451.0 215.3h.7M455.7 216.1h.7M466.3 196.8h.7M466.1 207.6h.7M458.9 207.1h.7M454.0 216.9h.7M472.9 191.2h.7M455.3 215.1h.7M454.6 213.3h.7M454.4 213.2h.7M462.8 213.2h.7M472.2 196.0h.7M462.4 206.8h.7M477.5 185.9h.7M471.6 192.2h.7M468.0 198.7h.7M466.7 209.5h.7M454.5 214.5h.7M450.3 215.4h.7M472.6 188.7h.7M460.1 209.1h.7M459.6 198.1h.7M469.3 195.2h.7M462.5 205.8h.7M449.0 220.9h.7M460.3 200.3h.7M464.2 205.7h.7M463.9 183.0h.7M456.8 208.9h.7M475.2 197.0h.7M449.7 222.8h.7M478.1 187.5h.7M458.4 187.2h.7M451.2 213.1h.7M458.3 209.6h.7M447.3 218.9h.7M475.0 197.6h.7M472.7 196.7h.7M468.6 194.4h.7M459.4 214.5h.7M478.6 188.0h.7M462.9 199.9h.7M454.3 215.4h.7M474.3 190.5h.7M447.0 220.9h.7M452.0 217.0h.7M462.7 202.3h.7M477.1 194.3h.7M457.7 206.6h.7M458.0 213.8h.7M462.6 201.3h.7M448.6 206.4h.7M468.1 195.3h.7M482.4 189.6h.7M461.6 203.6h.7M473.2 187.4h.7M468.6 187.6h.7M467.6 199.9h.7M458.0 206.4h.7M479.7 195.0h.7M472.1 190.9h.7M467.4 205.8h.7M458.1 208.2h.7M451.1 218.9h.7M452.2 215.0h.7M473.5 191.6h.7M476.9 192.2h.7M447.5 218.4h.7M457.3 215.3h.7M465.2 197.4h.7M450.0 220.6h.7M458.6 208.8h.7M458.1 202.1h.7M464.7 207.1h.7M446.5 222.0h.7M457.0 203.0h.7M463.2 204.4h.7M458.4 200.0h.7M471.4 195.4h.7M451.7 217.2h.7M448.9 222.0h.7M455.5 207.1h.7M462.1 201.5h.7M450.6 217.8h.7M462.7 210.9h.7M473.1 197.2h.7M472.1 204.4h.7M450.7 215.2h.7M449.2 219.5h.7M448.3 216.0h.7M470.4 193.9h.7M461.8 208.3h.7M464.1 208.9h.7M477.5 192.6h.7M469.1 193.3h.7M465.7 203.8h.7M449.2 222.0h.7M466.0 197.6h.7M463.2 201.3h.7M455.0 211.8h.7M466.7 206.5h.7M466.2 197.3h.7M474.2 195.2h.7M450.2 220.1h.7M462.6 203.8h.7M467.4 199.4h.7M451.9 218.7h.7M461.7 192.2h.7M446.8 222.2h.7M464.7 210.7h.7M472.8 192.6h.7M462.9 200.9h.7M469.9 196.5h.7M450.1 217.3h.7M450.3 217.5h.7M449.5 220.1h.7M471.3 196.0h.7M479.1 192.1h.7M448.3 222.0h.7M463.1 193.6h.7M450.8 218.6h.7M463.4 215.8h.7M449.8 215.6h.7M458.0 202.3h.7M467.7 192.2h.7M460.5 206.7h.7M460.6 205.3h.7M465.1 208.9h.7M460.7 210.8h.7M451.5 215.1h.7M472.4 190.5h.7M466.4 201.5h.7M463.9 208.6h.7M462.1 206.8h.7M465.9 188.9h.7M459.1 215.4h.7M456.1 216.8h.7M448.3 219.4h.7M460.0 205.7h.7M456.2 213.6h.7M467.1 198.5h.7M458.6 206.7h.7M464.2 205.0h.7M477.4 196.0h.7M472.9 193.2h.7M470.6 192.6h.7M466.8 186.7h.7M474.0 185.4h.7M458.4 210.4h.7M466.7 188.0h.7M461.7 195.5h.7M467.4 186.8h.7M481.2 180.3h.7M459.3 212.9h.7M475.1 193.0h.7M469.7 191.3h.7M464.9 185.9h.7M452.9 210.2h.7M459.9 181.5h.7M466.0 168.1h.7M460.2 205.4h.7M462.9 189.4h.7M486.8 189.8h.7M474.5 188.1h.7M467.1 210.7h.7M471.5 194.0h.7M468.4 201.2h.7M472.5 191.2h.7M461.1 190.8h.7M472.2 193.4h.7M473.6 180.7h.7M462.3 191.8h.7M454.8 204.6h.7M466.5 184.5h.7M475.9 189.0h.7M464.4 192.3h.7M464.6 200.7h.7M447.1 210.8h.7M474.3 192.0h.7M491.4 182.3h.7M472.0 196.5h.7M475.0 174.9h.7M453.0 190.3h.7M479.9 190.6h.7M480.5 194.3h.7M453.4 201.9h.7M474.9 200.5h.7M459.8 212.2h.7M476.6 186.0h.7M461.5 193.3h.7M468.3 179.5h.7M472.3 198.4h.7M474.0 193.1h.7M495.1 181.6h.7M464.9 204.9h.7M468.6 193.7h.7M486.4 203.9h.7M458.8 210.6h.7M462.9 211.5h.7M461.2 221.5h.7M460.8 191.5h.7M466.5 198.1h.7M467.2 207.8h.7M478.2 180.6h.7M473.3 186.5h.7M457.4 189.1h.7M465.9 200.9h.7M466.5 195.0h.7M459.8 175.7h.7M475.8 209.0h.7M456.6 188.7h.7M476.1 195.1h.7M476.9 198.6h.7M455.6 196.1h.7M465.6 205.3h.7M462.0 176.2h.7M480.2 180.1h.7M462.7 188.9h.7M457.9 205.5h.7M468.9 193.2h.7M471.7 182.7h.7M457.3 211.9h.7M465.0 187.2h.7M455.5 193.5h.7M463.7 208.3h.7M471.6 188.8h.7M457.4 196.3h.7M464.4 188.7h.7M485.4 177.0h.7M482.0 193.9h.7M464.5 194.5h.7M476.1 181.1h.7M477.8 190.2h.7M454.4 197.2h.7M454.3 175.6h.7M452.2 196.0h.7M447.8 193.1h.7M474.1 206.5h.7M478.5 206.1h.7M463.7 202.9h.7M453.5 198.7h.7M466.6 201.8h.7M455.1 213.3h.7M475.0 193.8h.7M463.3 196.9h.7M468.7 206.4h.7M458.3 194.6h.7M454.3 204.8h.7M469.2 184.1h.7M481.1 198.0h.7M474.6 196.0h.7M481.7 202.3h.7M472.0 184.1h.7M460.7 188.5h.7M471.3 194.0h.7M465.5 187.4h.7M464.8 204.9h.7M456.6 198.3h.7M471.9 184.2h.7M463.4 199.0h.7M472.2 202.9h.7M463.8 203.5h.7M473.0 192.4h.7M448.7 186.4h.7M460.5 188.8h.7M473.7 184.1h.7M469.1 189.9h.7M459.0 205.1h.7M463.7 197.7h.7M457.3 198.2h.7M468.8 186.0h.7M486.8 189.7h.7M481.5 201.5h.7M456.2 193.9h.7M472.1 199.9h.7M465.9 192.6h.7M467.2 179.5h.7M472.5 180.7h.7M480.3 176.0h.7M457.4 214.6h.7M463.8 204.2h.7M469.0 202.5h.7M478.9 188.6h.7M468.4 195.8h.7M463.0 183.1h.7M460.9 195.1h.7M468.3 190.8h.7M474.9 194.6h.7M467.3 202.8h.7M486.9 170.9h.7M468.2 199.0h.7M462.7 202.3h.7M478.9 195.4h.7M474.9 194.8h.7M480.9 197.5h.7M464.5 198.6h.7M465.7 186.9h.7M465.2 203.3h.7M465.2 205.0h.7M471.6 196.9h.7M458.4 191.7h.7M477.3 195.8h.7M460.0 184.9h.7M456.7 204.1h.7M457.7 216.4h.7M452.5 204.6h.7M463.2 185.2h.7M472.2 198.4h.7M465.2 184.7h.7M473.3 198.1h.7M462.6 171.8h.7M467.6 186.5h.7M467.6 207.2h.7M465.5 202.5h.7M477.2 174.8h.7M460.5 194.7h.7M461.9 201.6h.7M461.2 193.3h.7M474.2 183.2h.7M460.8 182.4h.7M487.8 187.9h.7M464.9 194.6h.7M457.4 206.0h.7M468.4 180.4h.7M467.9 199.0h.7M463.3 216.2h.7M460.3 212.1h.7M477.5 178.0h.7M449.8 203.4h.7M479.7 180.4h.7M462.1 177.8h.7M475.7 190.7h.7M468.0 181.5h.7M459.5 196.7h.7M472.8 174.5h.7M474.1 192.4h.7M458.1 203.0h.7M470.4 174.2h.7M469.0 186.9h.7M469.7 199.7h.7M467.8 188.3h.7M470.7 188.9h.7M469.6 200.2h.7M474.6 187.2h.7M468.3 198.1h.7M465.9 191.7h.7M481.8 202.7h.7M460.8 188.1h.7M464.3 173.8h.7M483.4 191.6h.7M486.2 191.6h.7M476.2 187.7h.7M472.3 194.4h.7M458.5 182.4h.7M472.5 190.0h.7M477.0 192.0h.7M450.9 195.3h.7M462.5 197.7h.7M453.3 177.2h.7M473.0 176.2h.7M471.0 201.6h.7M475.8 196.9h.7M477.5 172.9h.7M461.1 201.6h.7M481.3 181.3h.7M453.2 197.0h.7M482.2 189.6h.7M451.9 194.5h.7M472.4 200.2h.7M473.6 205.6h.7M468.9 197.4h.7M470.1 201.9h.7M467.0 202.5h.7M474.1 184.3h.7M472.1 191.0h.7M468.2 191.6h.7M469.2 194.6h.7M454.4 190.5h.7M467.5 184.9h.7M451.5 221.9h.7M465.3 180.7h.7M475.3 191.1h.7M471.3 191.5h.7M464.0 198.8h.7M453.2 203.9h.7M476.1 196.7h.7M473.7 190.7h.7M478.4 195.3h.7M447.8 197.4h.7M453.6 195.0h.7M484.7 177.0h.7M475.4 178.1h.7M451.5 190.6h.7M464.8 187.7h.7M467.1 188.8h.7M454.8 183.5h.7M459.8 204.4h.7M477.4 210.2h.7M465.7 187.2h.7M456.5 206.0h.7M461.5 191.8h.7M453.9 199.1h.7M472.8 181.1h.7M470.8 187.6h.7M471.8 180.9h.7M460.2 187.7h.7M466.6 187.6h.7M454.4 197.8h.7M475.5 196.0h.7M467.1 190.3h.7M479.1 176.6h.7M490.1 190.1h.7M470.6 195.0h.7M483.7 169.8h.7M458.7 198.3h.7M464.4 201.7h.7M470.3 182.6h.7M455.3 215.1h.7M458.8 185.2h.7M458.8 192.5h.7M472.4 188.7h.7M452.1 216.7h.7M481.7 185.8h.7M450.8 205.8h.7M470.9 189.4h.7M476.5 205.0h.7M465.1 192.5h.7M469.1 194.0h.7M465.3 209.5h.7M477.2 200.1h.7M454.4 205.3h.7M463.6 177.9h.7M481.2 170.8h.7M455.5 176.8h.7M455.7 202.5h.7M481.1 195.5h.7M470.0 200.6h.7M463.5 194.3h.7M465.6 185.0h.7M479.8 171.3h.7M468.9 193.3h.7M451.7 188.0h.7M470.8 182.7h.7M468.4 187.9h.7M467.0 188.1h.7M464.9 202.7h.7M451.8 191.1h.7M471.0 195.1h.7M473.9 191.8h.7M459.9 195.6h.7M454.3 206.9h.7M468.5 180.7h.7M472.3 200.6h.7M473.3 170.3h.7M474.0 195.3h.7M489.7 188.5h.7M484.4 186.3h.7M449.7 183.0h.7M478.6 192.8h.7M468.9 205.9h.7M466.3 194.9h.7M470.1 192.0h.7M462.3 195.3h.7M471.6 203.5h.7M467.3 196.9h.7M472.5 181.2h.7M457.6 199.0h.7M463.9 184.9h.7M461.6 179.0h.7M477.8 192.4h.7M466.6 195.8h.7M460.0 205.4h.7M466.8 197.4h.7M466.6 190.4h.7M462.6 195.7h.7M479.9 185.1h.7M459.8 190.3h.7M475.3 203.0h.7M473.1 194.2h.7M474.2 178.8h.7M462.8 200.2h.7M470.6 210.6h.7M462.3 204.3h.7M482.4 175.8h.7M465.8 200.4h.7M471.0 194.4h.7M481.7 197.8h.7M457.9 190.7h.7M458.5 195.3h.7M474.3 191.3h.7M476.1 194.4h.7M461.4 176.3h.7M462.1 183.5h.7M454.4 196.1h.7M485.6 178.2h.7M474.5 195.7h.7M467.5 183.9h.7M485.1 183.5h.7M486.3 185.9h.7M466.2 193.6h.7M462.6 188.6h.7M472.9 182.1h.7M473.8 178.6h.7M450.0 199.1h.7M477.7 180.0h.7M485.8 195.3h.7M465.9 205.8h.7M464.5 193.9h.7M471.3 190.2h.7M479.0 175.5h.7M457.1 182.3h.7M464.1 192.2h.7M456.4 204.6h.7M453.5 190.2h.7M481.8 179.1h.7M467.4 193.4h.7M465.6 200.3h.7M464.8 194.5h.7M460.0 194.9h.7M466.8 202.6h.7M460.6 185.7h.7M463.4 188.9h.7M464.4 206.9h.7M462.7 213.4h.7M478.6 187.2h.7M466.1 194.6h.7M459.0 202.8h.7M471.9 187.4h.7M462.5 200.5h.7M454.4 193.9h.7M457.8 180.7h.7M457.5 203.6h.7M479.2 177.5h.7M461.7 201.5h.7M468.6 185.4h.7M460.8 206.8h.7M449.9 188.0h.7M467.0 196.2h.7M458.8 187.7h.7M477.9 188.9h.7M455.5 202.5h.7M464.5 205.8h.7M475.8 179.2h.7M460.1 196.3h.7M462.5 200.7h.7M464.5 211.7h.7M457.2 183.8h.7M461.9 190.3h.7M462.0 189.3h.7M458.5 201.7h.7M466.4 190.0h.7M453.2 205.4h.7M480.2 184.4h.7M467.1 204.4h.7M466.4 201.7h.7M463.0 187.3h.7M480.6 172.1h.7M473.9 201.8h.7M468.6 192.6h.7M476.7 177.9h.7M466.0 196.8h.7M468.5 176.0h.7M469.3 187.3h.7M480.0 206.4h.7M453.2 203.1h.7M463.6 171.0h.7M472.9 213.6h.7M462.8 212.1h.7M481.3 190.6h.7M468.8 209.6h.7M450.1 199.8h.7M457.8 202.6h.7M467.8 196.0h.7M471.9 211.7h.7M481.3 186.7h.7M464.7 207.4h.7M470.9 201.3h.7M467.9 196.4h.7M450.6 213.3h.7M470.7 181.4h.7M458.8 196.7h.7M467.7 187.8h.7M470.1 204.3h.7M468.5 191.7h.7M485.4 194.5h.7M463.5 194.9h.7M461.5 194.5h.7M463.5 186.5h.7M473.6 185.9h.7M458.9 191.9h.7M457.3 196.9h.7M465.1 185.4h.7M476.1 190.6h.7M475.1 190.0h.7M472.8 175.1h.7M464.1 204.2h.7M462.0 199.2h.7M453.0 182.9h.7M453.0 219.8h.7M472.7 181.8h.7M470.8 189.9h.7M470.6 186.9h.7M466.5 203.7h.7M474.6 190.8h.7M473.0 191.2h.7M470.1 181.9h.7M465.2 208.1h.7M468.3 196.9h.7M482.2 196.5h.7M484.6 194.5h.7M483.4 174.1h.7M472.1 191.3h.7M451.8 204.2h.7M469.6 193.4h.7M471.6 191.2h.7M483.5 181.0h.7M468.0 176.3h.7M465.5 199.5h.7M471.7 197.3h.7M468.6 194.7h.7M462.5 211.5h.7M457.7 196.1h.7M454.6 209.4h.7M464.3 194.1h.7M454.4 215.4h.7M461.4 207.0h.7M467.6 192.8h.7M465.8 186.9h.7M472.2 197.4h.7M490.1 165.7h.7M465.2 185.4h.7M462.9 182.4h.7M457.9 205.6h.7M462.0 193.0h.7M475.6 191.2h.7M470.4 190.3h.7M468.4 188.0h.7M480.2 185.1h.7M461.4 192.7h.7M469.8 185.8h.7M482.5 189.3h.7M473.4 191.4h.7M457.4 193.7h.7M472.6 191.9h.7M462.4 182.3h.7M459.3 202.5h.7M446.6 221.4h.7M480.9 183.5h.7M464.0 176.6h.7M463.1 198.8h.7M459.9 198.4h.7M461.4 190.8h.7M462.7 209.2h.7M479.3 199.7h.7M456.6 187.4h.7M457.8 195.5h.7M475.2 203.6h.7M453.3 209.1h.7M462.6 191.0h.7M475.7 172.3h.7M476.0 208.5h.7M478.6 178.9h.7M470.3 196.7h.7M457.7 213.5h.7M466.4 204.3h.7M465.9 188.9h.7M463.1 201.6h.7M472.2 202.8h.7M451.9 184.3h.7M474.8 187.2h.7M479.4 192.7h.7M465.3 196.5h.7M463.7 185.9h.7M469.4 187.3h.7M466.4 191.5h.7M454.6 198.2h.7M470.3 182.2h.7M473.8 183.9h.7M478.5 203.4h.7M469.7 182.6h.7M466.4 212.6h.7M465.2 198.6h.7M467.7 189.2h.7M470.5 205.2h.7M484.0 171.6h.7M464.2 191.7h.7M477.7 182.3h.7M460.6 191.5h.7M467.9 198.5h.7M471.6 180.2h.7M467.3 183.9h.7M479.4 176.8h.7M464.1 205.9h.7M472.8 207.0h.7M468.7 199.5h.7M460.0 195.7h.7M482.1 189.7h.7M467.1 183.5h.7M476.5 207.9h.7M471.1 206.5h.7M472.1 182.8h.7M474.3 183.9h.7M470.0 204.5h.7M468.9 193.7h.7M455.3 193.6h.7M467.5 178.4h.7M475.1 196.7h.7M469.4 185.0h.7M456.9 189.7h.7M468.7 188.6h.7M452.7 200.6h.7M458.6 184.9h.7M464.5 193.6h.7M472.0 175.0h.7M467.1 199.0h.7M472.5 182.6h.7M459.3 195.9h.7M466.4 198.4h.7M450.6 196.4h.7M466.8 195.8h.7M474.6 170.5h.7M464.6 188.5h.7M463.2 185.9h.7M465.2 200.2h.7M468.9 193.7h.7M462.0 215.6h.7M453.0 205.0h.7M470.0 199.1h.7M462.2 200.4h.7M458.0 195.6h.7M478.4 187.0h.7M481.7 192.0h.7M459.3 199.0h.7M458.7 198.9h.7M478.5 175.2h.7M475.3 168.9h.7M458.2 203.5h.7M463.3 211.8h.7M458.7 184.1h.7M469.5 175.7h.7M460.9 190.0h.7M455.0 196.9h.7M465.4 190.1h.7M470.9 181.9h.7M465.8 175.7h.7M454.6 203.2h.7M457.4 203.8h.7M482.4 188.8h.7M463.2 190.6h.7M479.7 173.4h.7M458.0 211.6h.7M474.2 194.4h.7M464.4 188.0h.7M462.2 188.9h.7M461.0 197.8h.7M452.4 220.2h.7M453.0 193.3h.7M467.5 191.9h.7M464.9 189.6h.7M473.6 181.6h.7M472.1 185.4h.7M477.9 197.4h.7M476.3 209.9h.7M466.3 189.0h.7M467.8 179.9h.7M469.4 188.1h.7M471.2 185.4h.7M468.7 214.4h.7M452.8 200.6h.7M456.7 200.4h.7M449.7 203.8h.7M472.7 182.9h.7M475.9 196.7h.7M465.2 208.9h.7M467.2 194.8h.7M470.2 189.9h.7M450.5 206.7h.7M467.7 180.8h.7M493.5 173.6h.7M469.5 206.6h.7M486.8 182.5h.7M472.1 192.8h.7M459.6 199.0h.7M458.0 207.6h.7M483.7 176.0h.7M469.4 185.6h.7M482.6 180.3h.7M465.2 198.4h.7M479.3 182.3h.7M466.1 181.2h.7M464.4 212.8h.7M477.1 174.6h.7M473.4 176.6h.7M484.9 183.6h.7M464.7 205.5h.7M463.7 192.8h.7M472.1 200.4h.7M474.1 201.4h.7M448.5 189.6h.7M453.8 195.2h.7M468.4 181.4h.7M473.6 170.5h.7M464.9 186.9h.7M462.3 198.8h.7M470.0 214.0h.7M473.0 183.9h.7M467.1 193.9h.7M468.1 181.9h.7M459.8 210.6h.7M454.9 190.0h.7M479.3 183.3h.7M455.9 205.2h.7M477.9 176.3h.7M458.4 188.3h.7M480.7 168.7h.7M454.7 200.9h.7M459.2 199.9h.7M471.5 179.8h.7M478.3 181.5h.7M481.6 193.2h.7M485.4 178.0h.7M479.0 187.4h.7M477.0 172.4h.7M483.9 193.4h.7M455.7 202.8h.7M476.7 177.4h.7M479.0 172.0h.7M459.9 194.6h.7M462.4 174.9h.7M467.7 198.0h.7M468.0 195.0h.7M468.9 187.5h.7M467.9 202.6h.7M479.4 192.0h.7M472.9 209.4h.7M461.4 190.7h.7M474.6 187.3h.7M473.3 185.7h.7M475.8 197.5h.7M474.4 183.0h.7M476.3 193.3h.7M472.8 185.3h.7M480.2 178.5h.7M474.1 196.1h.7M472.7 202.1h.7M478.5 189.6h.7M490.2 183.0h.7M475.6 177.6h.7M466.3 199.7h.7M462.0 189.3h.7M472.8 185.1h.7M460.6 203.0h.7M466.8 181.6h.7M480.6 190.4h.7M461.5 199.6h.7M477.2 187.1h.7M456.3 172.4h.7M469.4 190.8h.7M468.6 193.2h.7M461.4 191.7h.7M479.4 174.0h.7M461.1 186.8h.7M474.5 206.4h.7M462.0 201.1h.7M456.6 185.2h.7M482.5 176.6h.7M483.4 172.9h.7M466.0 191.4h.7M474.0 180.5h.7M457.9 188.5h.7M484.0 165.3h.7M454.5 196.4h.7M456.4 196.5h.7M469.2 192.5h.7M472.8 177.5h.7M473.0 188.7h.7M467.8 183.5h.7M461.0 189.7h.7M485.2 191.1h.7M462.6 182.0h.7M463.2 198.5h.7M471.6 205.5h.7M467.7 205.9h.7M464.2 193.8h.7M479.3 178.9h.7M491.7 176.3h.7M484.3 176.5h.7M466.1 187.4h.7M469.7 199.5h.7M479.9 193.8h.7M469.9 181.4h.7M455.6 207.9h.7M461.5 192.9h.7M476.7 178.1h.7M460.7 191.8h.7M453.6 197.7h.7M474.3 192.4h.7M477.1 190.5h.7M463.3 192.5h.7M462.1 188.2h.7M463.1 209.7h.7M472.0 191.5h.7M449.2 202.7h.7M459.2 196.1h.7M464.8 191.5h.7M454.2 181.0h.7M473.2 196.3h.7M469.7 192.7h.7M451.7 201.0h.7M455.3 204.1h.7M467.5 186.5h.7M472.6 169.7h.7M465.7 209.8h.7M460.7 197.4h.7M469.7 180.2h.7M474.5 201.2h.7M468.9 181.4h.7M460.0 199.5h.7M481.6 193.6h.7M473.9 201.1h.7M475.5 209.6h.7M470.8 198.5h.7M475.7 191.6h.7M450.4 209.7h.7M486.2 188.8h.7M459.3 212.4h.7M452.6 210.8h.7M451.0 215.4h.7M476.6 194.0h.7M476.9 180.9h.7M456.6 214.1h.7M463.8 201.6h.7M460.0 215.9h.7M464.9 212.6h.7M476.9 179.8h.7M460.7 192.0h.7M451.9 192.4h.7M461.7 203.4h.7M470.3 191.8h.7M476.0 187.0h.7M468.3 192.5h.7M454.3 207.9h.7M479.4 201.6h.7M463.4 216.1h.7M469.3 201.9h.7M465.8 195.8h.7M471.2 200.9h.7M464.2 199.3h.7M473.7 200.1h.7M473.8 175.5h.7M484.1 176.4h.7M475.2 181.4h.7M464.7 189.5h.7M449.4 196.9h.7M464.8 211.7h.7M466.0 188.9h.7M473.2 197.0h.7M467.4 198.7h.7M452.9 193.1h.7M486.8 171.9h.7M453.2 184.8h.7M460.6 214.6h.7M485.3 199.3h.7M494.0 195.5h.7M476.3 169.7h.7M480.6 181.8h.7M469.8 179.6h.7M468.4 176.2h.7M484.5 199.2h.7M467.5 178.1h.7M469.1 187.2h.7M464.2 202.6h.7M475.0 190.0h.7M479.7 194.5h.7M472.2 193.5h.7M468.6 170.7h.7M453.8 205.3h.7M472.0 197.4h.7M466.3 180.4h.7M478.7 182.4h.7M467.3 185.1h.7M467.2 186.0h.7M459.3 200.0h.7M463.8 196.2h.7M468.7 191.3h.7M464.6 186.1h.7M471.6 200.1h.7M464.9 209.4h.7M469.5 203.3h.7M455.3 199.7h.7M463.9 178.8h.7M453.5 207.0h.7M464.7 208.7h.7M472.9 184.6h.7M481.9 199.0h.7M453.3 203.6h.7M471.6 178.8h.7M453.6 192.4h.7M476.2 177.4h.7M465.9 191.6h.7M475.9 209.0h.7M470.7 201.1h.7M483.8 187.2h.7M483.4 196.6h.7M475.3 186.0h.7M464.2 193.8h.7M464.5 201.9h.7M472.4 202.2h.7M470.2 191.4h.7M478.1 193.5h.7M454.2 212.0h.7M465.5 184.8h.7M463.1 186.4h.7M466.3 184.1h.7M457.0 193.3h.7M475.5 189.1h.7M468.4 196.7h.7M470.9 187.6h.7M474.1 196.2h.7M446.9 197.5h.7M467.3 207.3h.7M471.2 169.8h.7M470.0 194.4h.7M468.3 193.3h.7M475.9 197.0h.7M451.9 189.8h.7M469.8 175.6h.7M485.8 176.4h.7M468.6 202.7h.7M461.1 186.8h.7M472.1 180.6h.7M474.6 193.3h.7M473.9 189.3h.7M461.4 185.9h.7M450.7 184.5h.7M462.7 203.3h.7M476.5 172.3h.7M469.8 187.9h.7M469.8 185.5h.7M465.1 209.6h.7M461.7 186.6h.7M478.5 192.8h.7M469.3 212.5h.7M474.5 185.5h.7M475.5 185.5h.7M463.9 204.5h.7M455.4 203.9h.7M463.4 188.6h.7M468.2 181.8h.7M473.5 180.5h.7M465.0 191.9h.7M468.1 209.7h.7M455.5 197.2h.7M474.3 217.0h.7M468.0 202.8h.7M473.6 182.1h.7M471.3 202.6h.7M472.8 188.0h.7M468.2 180.7h.7M457.0 189.5h.7M482.8 178.2h.7M478.0 180.8h.7M479.9 177.5h.7M455.0 202.1h.7M474.6 182.8h.7M466.9 186.0h.7M458.5 206.7h.7M481.2 190.3h.7M474.9 188.7h.7M467.2 184.6h.7M472.8 192.8h.7M475.8 193.0h.7M457.9 183.1h.7M465.6 194.8h.7M453.2 200.2h.7M453.3 202.3h.7M454.4 196.0h.7M468.6 188.2h.7M468.9 189.8h.7M451.9 193.2h.7M465.8 192.6h.7M454.5 209.0h.7M474.6 176.9h.7M468.8 183.7h.7M459.1 186.8h.7M482.3 183.9h.7M477.5 182.7h.7M459.4 201.5h.7M479.4 208.8h.7M462.6 196.5h.7M454.8 194.1h.7M478.6 194.3h.7M462.3 181.4h.7M465.9 215.6h.7M454.4 201.3h.7M456.8 192.7h.7M470.1 182.1h.7M466.1 190.9h.7M463.7 195.3h.7M449.6 204.8h.7M484.1 182.7h.7M452.1 207.2h.7M461.6 191.8h.7M464.7 205.9h.7M462.1 189.3h.7M471.5 184.4h.7M466.1 201.4h.7M468.1 198.0h.7M468.6 207.4h.7M468.7 194.8h.7M463.2 202.6h.7M449.7 190.1h.7M481.8 182.6h.7M472.6 205.2h.7M459.9 205.3h.7M457.0 194.0h.7M479.0 185.6h.7M458.0 192.7h.7M474.0 198.5h.7M452.4 194.4h.7M476.4 177.9h.7M451.0 210.9h.7M481.2 184.6h.7M466.1 190.9h.7M474.5 195.2h.7M474.0 181.6h.7M475.9 207.8h.7M474.4 197.8h.7M465.2 190.8h.7M487.6 182.2h.7M465.6 187.4h.7M474.6 203.9h.7M459.2 176.9h.7M462.0 198.8h.7M460.4 193.9h.7M478.0 197.0h.7M456.3 201.7h.7M465.3 197.6h.7M468.1 197.6h.7M457.9 201.9h.7M451.3 195.8h.7M457.2 193.2h.7M470.6 203.0h.7M461.9 208.7h.7M463.3 193.5h.7M454.9 195.3h.7M489.5 185.0h.7M473.7 196.3h.7M451.4 195.2h.7M470.2 178.5h.7M476.9 185.6h.7M459.4 190.3h.7M478.5 190.8h.7M477.6 169.6h.7M479.2 186.1h.7M471.2 204.5h.7M455.9 195.5h.7M474.3 194.4h.7M473.8 175.2h.7M470.7 191.6h.7M474.3 175.6h.7M463.8 194.1h.7M483.4 185.7h.7M454.0 188.8h.7M465.3 166.9h.7M464.2 206.6h.7M472.1 171.4h.7M461.4 207.2h.7M454.5 194.6h.7M456.0 189.6h.7M457.9 167.7h.7M476.4 191.9h.7M463.6 198.1h.7M465.1 190.9h.7M469.3 198.7h.7M472.5 189.6h.7M482.6 184.6h.7M454.1 214.0h.7M462.0 185.5h.7M468.3 193.4h.7M466.1 180.1h.7M464.9 198.9h.7M482.8 189.4h.7M478.9 201.4h.7M476.4 196.4h.7M475.4 194.7h.7M457.0 182.9h.7M460.0 202.1h.7M479.6 183.9h.7M463.1 209.1h.7M477.4 189.8h.7M465.9 175.0h.7M478.9 190.6h.7M466.1 194.0h.7M464.4 199.3h.7M466.8 190.9h.7M474.3 175.7h.7M467.5 186.7h.7M477.6 208.4h.7M471.8 202.4h.7M477.8 187.6h.7M467.1 209.2h.7M470.6 198.3h.7M449.5 203.1h.7M478.4 180.1h.7M462.7 198.5h.7M472.7 179.4h.7M468.0 198.8h.7M454.2 207.6h.7M449.5 211.6h.7M473.6 202.7h.7M464.1 195.7h.7M458.5 209.9h.7M465.4 192.9h.7M456.1 193.9h.7M448.6 199.2h.7M459.7 197.1h.7M449.7 199.2h.7M472.6 186.4h.7M465.7 184.2h.7M462.3 196.8h.7M462.1 203.4h.7M455.0 195.4h.7M472.1 200.9h.7M449.8 205.8h.7M462.6 194.8h.7M467.4 191.1h.7M471.5 188.3h.7M475.0 194.3h.7M449.6 207.2h.7M466.4 173.8h.7M452.7 191.3h.7M474.3 192.9h.7M466.6 179.1h.7M468.4 192.5h.7M470.1 197.0h.7M469.2 187.4h.7M474.3 195.0h.7M469.0 183.1h.7M468.5 187.6h.7M467.5 202.4h.7M472.2 189.9h.7M468.2 193.0h.7M465.8 189.6h.7M472.5 185.2h.7M467.4 196.5h.7M465.4 195.3h.7M480.2 190.3h.7M468.3 187.7h.7M459.3 197.9h.7M468.8 204.0h.7M457.9 209.5h.7M465.4 195.3h.7M475.7 196.2h.7M471.3 183.6h.7M466.8 191.0h.7M477.9 178.8h.7M479.0 188.2h.7M461.2 197.2h.7M471.2 180.0h.7M478.6 185.3h.7M476.9 183.5h.7M461.5 202.9h.7M473.2 190.0h.7M452.8 210.3h.7M474.8 174.0h.7M452.7 198.2h.7M471.7 192.0h.7M453.8 202.4h.7M471.2 196.0h.7M465.3 187.1h.7M459.5 205.5h.7M469.2 192.6h.7M470.6 198.0h.7M471.0 200.6h.7M454.3 210.5h.7M474.9 183.3h.7M473.2 182.8h.7M470.4 186.9h.7M455.0 207.1h.7M465.2 210.9h.7M452.5 204.9h.7M459.3 185.7h.7M459.2 190.3h.7M471.1 197.1h.7M447.9 188.8h.7M469.2 187.8h.7M476.3 192.4h.7M461.4 189.9h.7M484.2 174.8h.7M456.8 189.1h.7M470.8 193.9h.7M474.0 175.1h.7M469.2 182.6h.7M468.1 177.2h.7M458.5 194.0h.7M467.1 170.8h.7M470.5 184.1h.7M467.9 198.9h.7M481.1 196.8h.7M477.5 197.5h.7M453.7 194.1h.7M466.3 193.1h.7M479.1 192.4h.7M474.3 193.0h.7M452.2 213.4h.7M470.1 190.7h.7M454.1 183.4h.7M473.3 198.1h.7M453.8 183.2h.7M469.5 184.6h.7M479.1 191.7h.7M467.9 166.8h.7M482.9 182.0h.7M456.2 202.1h.7M463.1 201.1h.7M483.9 173.1h.7M477.3 178.7h.7M470.4 196.7h.7M484.8 184.9h.7M471.4 187.6h.7M462.8 189.6h.7M451.1 183.8h.7M461.6 202.0h.7M468.3 206.6h.7M453.6 195.1h.7M465.3 206.0h.7M458.5 202.5h.7M478.2 198.3h.7M463.7 193.5h.7M476.8 186.0h.7M473.7 190.3h.7M477.2 192.2h.7M471.9 187.3h.7M472.9 188.8h.7M497.1 181.5h.7M468.7 189.4h.7M448.4 202.6h.7M471.6 195.1h.7M465.7 205.5h.7M471.7 184.5h.7M457.2 209.9h.7M463.3 189.5h.7M456.0 192.3h.7M473.8 195.1h.7M466.6 201.3h.7M477.1 196.0h.7M449.5 202.0h.7M463.1 212.7h.7M483.1 188.8h.7M458.5 208.0h.7M465.9 188.2h.7M478.5 189.5h.7M467.8 185.6h.7M460.3 214.4h.7M460.7 181.8h.7M480.9 182.0h.7M466.0 194.3h.7M488.5 169.1h.7M470.3 194.2h.7M471.0 194.9h.7M470.3 216.0h.7M470.8 204.1h.7M467.5 185.7h.7M465.0 177.9h.7M488.9 167.7h.7M480.9 181.3h.7M464.6 188.3h.7M461.7 186.7h.7M466.3 195.4h.7M469.0 204.6h.7M470.3 179.4h.7M483.4 176.7h.7M465.0 193.4h.7M459.2 216.2h.7M463.1 198.0h.7M459.8 190.5h.7M465.8 193.1h.7M470.9 181.9h.7M477.4 196.1h.7M471.3 186.6h.7M479.2 186.9h.7M473.8 194.4h.7M456.2 201.3h.7M474.5 177.0h.7M480.2 175.9h.7M450.2 209.5h.7M475.3 196.1h.7M464.4 207.7h.7M478.7 197.4h.7M470.4 189.0h.7M465.5 188.2h.7M465.4 211.1h.7M461.6 208.0h.7M466.6 204.5h.7M485.6 167.1h.7M461.3 193.0h.7M464.5 189.9h.7M469.7 188.9h.7M468.5 192.6h.7M470.7 166.6h.7M484.1 183.1h.7M475.6 205.6h.7M457.7 200.8h.7M468.6 197.5h.7M452.6 195.2h.7M481.5 180.2h.7M471.2 195.7h.7M474.0 205.1h.7M477.1 216.0h.7M471.6 208.8h.7M462.5 205.2h.7M469.2 205.7h.7M483.7 200.1h.7M478.2 206.6h.7M477.2 205.4h.7M467.9 211.2h.7M473.8 198.2h.7M457.8 221.7h.7M474.5 207.6h.7M481.1 200.3h.7M466.4 209.7h.7M475.6 214.4h.7M471.7 201.9h.7M461.7 202.9h.7M459.3 191.2h.7M472.5 204.1h.7M483.6 196.8h.7M476.9 201.6h.7M465.6 203.1h.7M472.5 201.4h.7M474.2 205.8h.7M463.9 203.0h.7M477.0 196.2h.7M482.5 195.2h.7M475.1 202.4h.7M471.9 199.3h.7M473.6 202.8h.7M478.8 186.3h.7M475.2 203.2h.7M466.7 209.2h.7M469.7 205.1h.7M484.3 209.6h.7M467.0 210.7h.7M474.7 221.0h.7M481.1 197.0h.7M476.0 204.7h.7M474.4 191.7h.7M474.4 196.8h.7M474.1 208.8h.7M480.3 198.2h.7M471.0 191.4h.7M479.1 205.1h.7M476.2 198.5h.7M459.7 208.0h.7M479.2 210.0h.7M474.4 208.6h.7M461.1 214.8h.7M487.2 194.7h.7M465.0 206.7h.7M480.2 198.9h.7M454.9 214.3h.7M482.8 200.5h.7M480.1 196.0h.7M466.6 195.0h.7M478.9 195.2h.7M480.3 201.9h.7M469.9 200.9h.7M469.8 189.3h.7M476.0 200.3h.7M478.1 193.3h.7M469.2 197.5h.7M468.4 204.3h.7M474.8 193.4h.7M470.1 215.1h.7M482.8 203.6h.7M473.6 199.4h.7M470.9 199.6h.7M461.9 197.1h.7M468.9 212.9h.7M466.5 193.4h.7M476.8 201.2h.7M471.5 202.0h.7M464.5 213.0h.7M484.2 196.4h.7M474.9 202.3h.7M474.2 203.9h.7M456.2 202.1h.7M476.1 203.9h.7M456.8 211.9h.7M476.8 194.4h.7M471.8 207.1h.7M462.5 209.3h.7M482.1 213.8h.7M485.1 196.2h.7M483.3 191.0h.7M477.6 206.1h.7M464.7 204.5h.7M468.8 200.3h.7M484.5 201.3h.7M472.9 206.4h.7M472.2 210.9h.7M464.4 200.9h.7M467.7 198.4h.7M469.6 202.8h.7M475.2 201.0h.7M469.0 199.1h.7M484.8 201.4h.7M474.0 193.5h.7M462.8 204.8h.7M476.0 205.9h.7M472.9 205.3h.7M471.2 199.8h.7M470.0 201.5h.7M477.7 210.8h.7M471.9 204.7h.7M481.5 188.4h.7M473.9 202.6h.7M473.3 199.5h.7M467.4 205.2h.7M465.0 204.7h.7M475.6 198.9h.7M469.9 201.9h.7M479.1 197.8h.7M467.5 208.0h.7M482.7 194.2h.7M483.6 193.3h.7M483.1 207.1h.7M476.3 208.1h.7M477.3 209.8h.7M475.6 207.2h.7M482.2 199.1h.7M455.8 204.9h.7M466.8 210.3h.7M484.7 194.0h.7M478.3 194.7h.7M477.8 205.7h.7M471.0 204.4h.7M477.4 209.8h.7M477.5 195.9h.7M462.2 201.8h.7M464.0 196.4h.7M486.7 204.0h.7M463.9 204.8h.7M476.3 197.3h.7M463.5 204.6h.7M476.3 209.2h.7M464.4 199.8h.7M478.4 202.6h.7M462.2 205.8h.7M469.8 208.2h.7M481.0 203.0h.7M473.5 202.4h.7M474.8 201.5h.7M465.1 201.8h.7M473.9 206.8h.7M477.5 210.4h.7M465.0 195.0h.7M470.9 207.4h.7M454.4 206.5h.7M483.0 189.0h.7M462.5 193.8h.7M457.9 202.6h.7M470.7 204.6h.7M481.6 209.4h.7M464.8 207.3h.7M470.0 197.5h.7M477.3 192.0h.7M464.5 207.4h.7M463.5 203.1h.7M470.7 204.7h.7M457.4 195.7h.7M478.5 196.2h.7M469.8 212.6h.7M474.0 207.1h.7M468.0 198.1h.7M476.6 201.3h.7M464.3 195.1h.7M464.7 202.7h.7M468.1 205.0h.7M459.4 199.2h.7M481.2 206.1h.7M479.6 207.1h.7M482.6 201.2h.7M476.7 211.2h.7M484.6 188.5h.7M474.7 206.9h.7M462.5 207.4h.7M480.7 204.3h.7M481.9 185.6h.7M467.8 203.9h.7M470.2 220.2h.7M469.4 201.5h.7M485.3 199.7h.7M479.1 205.5h.7M480.0 203.7h.7M483.8 199.2h.7M457.5 203.8h.7M479.6 206.5h.7M466.8 205.9h.7M480.4 197.2h.7M480.6 199.6h.7M481.4 210.2h.7M478.8 212.2h.7M466.0 206.7h.7M461.0 195.5h.7M482.0 192.0h.7M452.3 202.5h.7M465.3 203.1h.7M477.9 203.9h.7M479.0 206.8h.7M473.9 201.1h.7M479.7 204.1h.7M474.7 198.0h.7M479.0 187.1h.7M463.3 204.5h.7M471.2 208.7h.7M484.8 189.7h.7M476.0 201.9h.7M485.3 207.9h.7M484.8 199.1h.7M449.7 216.8h.7M468.8 213.5h.7M479.4 202.1h.7M457.8 202.8h.7M482.4 203.9h.7M468.0 199.6h.7M475.1 194.7h.7M464.4 219.1h.7M467.4 203.6h.7M469.5 199.7h.7M470.9 202.8h.7M479.3 203.2h.7M475.8 202.2h.7M479.0 198.1h.7M482.9 202.6h.7M478.2 198.2h.7M468.8 206.5h.7M477.7 204.1h.7M457.3 206.4h.7M481.6 198.5h.7M474.1 204.9h.7M475.3 187.6h.7M472.1 204.4h.7M456.1 202.2h.7M479.9 191.2h.7M461.5 209.3h.7M471.6 198.0h.7M471.5 182.7h.7M488.7 209.4h.7M470.2 202.7h.7M475.6 205.8h.7M472.1 196.5h.7M476.7 194.4h.7M474.6 200.1h.7M469.0 210.1h.7M469.0 208.5h.7M479.8 207.0h.7M461.7 206.6h.7M475.5 202.7h.7M477.9 202.4h.7M475.6 214.5h.7M475.8 196.3h.7M484.6 208.3h.7M457.4 214.7h.7M466.6 204.4h.7M471.0 204.2h.7M477.0 210.9h.7M468.2 205.2h.7M478.1 200.1h.7M460.5 212.4h.7M467.7 210.4h.7M461.4 216.6h.7M465.1 200.9h.7M477.5 201.1h.7M470.0 211.0h.7M485.3 211.4h.7M475.2 199.7h.7M475.0 200.9h.7M468.9 213.2h.7M453.7 211.8h.7M473.9 205.1h.7M480.7 209.2h.7M473.1 212.5h.7M479.0 199.4h.7M478.4 204.2h.7M474.5 195.0h.7M465.5 194.3h.7M464.6 204.7h.7M474.1 203.1h.7M471.8 194.2h.7M478.1 211.5h.7M466.7 204.4h.7M475.4 199.1h.7M479.2 194.3h.7M482.3 192.9h.7M479.6 202.7h.7M466.1 207.9h.7M475.4 196.1h.7M478.2 192.4h.7M471.7 200.7h.7M456.5 205.8h.7M474.2 201.2h.7M469.2 212.6h.7M476.4 203.0h.7M466.2 201.3h.7M470.0 209.5h.7M473.6 203.2h.7M461.0 219.3h.7M463.8 205.3h.7M470.5 211.0h.7M457.9 206.7h.7M467.1 212.8h.7M474.6 205.9h.7M470.5 204.2h.7M466.5 208.3h.7M476.2 202.2h.7M472.5 196.7h.7M473.8 197.9h.7M462.4 211.1h.7M474.1 191.5h.7M461.7 212.4h.7M475.2 203.4h.7M474.4 209.7h.7M474.8 205.0h.7M467.0 210.0h.7M472.2 204.4h.7M472.9 203.3h.7M470.6 196.5h.7M468.6 200.5h.7M470.1 199.9h.7M463.7 211.0h.7M478.0 197.3h.7M465.6 211.1h.7M472.3 204.8h.7M474.2 202.4h.7M476.1 203.2h.7M469.2 207.0h.7M476.4 208.1h.7M470.3 216.3h.7M468.8 197.3h.7M464.3 199.9h.7M471.5 201.2h.7M469.9 199.9h.7M470.8 199.8h.7M468.9 209.7h.7M469.8 208.0h.7M463.6 198.0h.7M473.2 201.9h.7M467.3 195.8h.7M467.9 204.8h.7M472.6 195.1h.7M461.6 208.2h.7M468.8 208.4h.7M469.7 205.0h.7M467.1 198.8h.7M464.5 219.4h.7M470.1 201.9h.7M473.4 201.9h.7M469.1 210.1h.7M470.3 195.7h.7M459.1 206.7h.7M461.4 210.8h.7M469.7 201.5h.7M462.9 210.0h.7M474.4 199.8h.7M472.3 202.5h.7M466.9 211.6h.7M467.7 203.3h.7M480.0 200.7h.7M469.7 207.0h.7M471.8 206.7h.7M472.7 206.8h.7M474.8 200.3h.7M464.5 198.9h.7M464.5 217.3h.7M477.8 190.7h.7M471.3 202.3h.7M477.1 195.1h.7M465.0 215.5h.7M468.1 210.5h.7M474.4 199.0h.7M476.1 194.0h.7M460.5 208.1h.7M476.8 194.3h.7M472.1 212.5h.7M466.2 201.7h.7M462.8 207.8h.7M468.2 213.8h.7M478.7 204.9h.7M473.0 203.0h.7M459.7 213.0h.7M456.8 210.2h.7M474.6 197.6h.7M463.4 208.5h.7M466.1 207.1h.7M470.7 213.2h.7M463.5 215.5h.7M471.0 196.1h.7M468.9 199.3h.7M463.4 203.1h.7M462.6 211.3h.7M483.1 201.5h.7M467.9 200.9h.7M466.8 205.2h.7M467.9 195.6h.7M479.0 196.7h.7M469.7 209.7h.7M468.5 200.8h.7M469.1 193.5h.7M476.5 194.4h.7M467.5 200.4h.7M462.0 202.4h.7M463.4 192.7h.7M465.7 204.1h.7M471.9 197.8h.7M465.8 207.8h.7M473.2 206.0h.7M468.6 207.0h.7M462.0 214.6h.7M467.3 193.7h.7M470.4 205.7h.7M471.8 206.9h.7M471.5 206.6h.7M468.1 211.2h.7M479.0 205.7h.7M469.4 206.4h.7M466.3 204.9h.7M469.9 211.0h.7M468.5 210.4h.7M460.4 222.1h.7M463.3 204.9h.7M463.7 204.3h.7M470.0 203.7h.7M465.0 205.6h.7M469.0 208.2h.7M468.3 210.6h.7M470.6 208.8h.7M476.5 199.1h.7M476.5 199.6h.7M466.6 207.1h.7M480.5 201.6h.7M478.4 199.6h.7M471.6 199.0h.7M469.6 209.6h.7M466.9 208.0h.7M463.4 204.3h.7M469.1 213.0h.7M472.3 206.5h.7M468.3 197.3h.7M466.8 210.4h.7M475.6 195.7h.7M460.2 211.2h.7M469.9 201.6h.7M456.1 216.2h.7M481.4 200.5h.7M472.5 201.7h.7M471.7 207.3h.7M469.5 202.0h.7M468.9 201.6h.7M470.6 200.7h.7M475.3 208.8h.7M475.6 201.2h.7M465.3 210.0h.7M473.4 203.7h.7M466.3 204.2h.7M476.5 199.9h.7M474.4 204.6h.7M467.3 208.6h.7M467.8 210.4h.7M469.5 203.3h.7M467.9 202.4h.7M463.3 204.7h.7M465.2 218.5h.7M472.7 204.7h.7M469.3 202.7h.7M473.7 196.4h.7M467.5 198.5h.7M470.6 211.0h.7M463.3 202.9h.7M475.5 198.2h.7M474.8 200.5h.7M469.2 202.4h.7M469.6 200.6h.7M471.5 200.2h.7M469.3 207.9h.7M469.6 197.5h.7M470.4 206.5h.7M468.1 207.9h.7M475.9 199.2h.7M470.5 203.1h.7M471.1 197.2h.7M469.3 208.1h.7M474.8 208.3h.7M466.7 194.4h.7M471.1 201.6h.7M474.9 195.6h.7M469.8 198.4h.7M469.5 212.1h.7M475.3 203.7h.7M473.9 203.7h.7M469.0 212.1h.7M475.0 202.4h.7M474.9 203.3h.7M475.6 192.9h.7M465.5 204.8h.7M470.8 201.7h.7M471.3 200.6h.7M472.4 214.2h.7M466.8 204.5h.7M465.0 211.1h.7M463.3 213.3h.7M468.7 201.4h.7M478.5 197.5h.7M473.9 211.2h.7M463.6 205.9h.7M475.2 203.5h.7M472.0 205.8h.7M470.8 193.9h.7M456.5 203.1h.7M476.5 204.0h.7M474.0 206.0h.7M470.3 200.8h.7M471.6 202.4h.7M473.5 195.7h.7M475.8 207.1h.7M465.0 198.5h.7M470.3 201.6h.7M468.9 201.5h.7M462.5 211.9h.7M462.4 210.6h.7M470.2 199.5h.7M469.3 206.0h.7M472.5 204.3h.7M451.2 221.7h.7M474.4 192.7h.7M465.8 196.9h.7M466.0 206.8h.7M472.1 201.1h.7M462.9 212.2h.7M469.3 210.1h.7M462.1 197.7h.7M476.2 203.2h.7M471.0 208.7h.7M477.7 198.2h.7M466.6 212.4h.7M472.7 198.2h.7M474.7 198.0h.7M475.0 201.8h.7M464.8 207.5h.7M458.3 209.5h.7M468.9 204.4h.7M470.7 206.0h.7M472.9 205.0h.7M467.5 212.4h.7M473.6 204.1h.7M471.3 204.0h.7M456.2 209.9h.7M466.9 200.1h.7M472.6 208.8h.7M472.1 199.9h.7M470.8 205.4h.7M465.6 208.4h.7M478.8 196.0h.7M465.1 205.5h.7M457.0 207.0h.7M470.1 202.3h.7M472.0 200.9h.7M471.1 205.1h.7M463.1 202.8h.7M464.4 201.5h.7M474.1 199.0h.7M476.2 206.5h.7M467.8 200.4h.7M467.3 211.7h.7M459.7 207.7h.7M477.7 196.9h.7M473.5 207.5h.7M471.3 206.6h.7M472.4 205.2h.7M462.7 214.7h.7M476.4 198.3h.7M464.6 208.4h.7M470.0 207.1h.7M470.1 204.7h.7M465.2 212.8h.7M469.0 210.2h.7M471.3 196.8h.7M472.5 205.8h.7M469.1 205.3h.7M467.5 205.7h.7M471.9 201.0h.7M467.8 210.3h.7M465.0 205.7h.7M478.8 203.8h.7M467.7 202.8h.7M463.1 212.6h.7M472.5 213.3h.7M469.9 208.0h.7M472.9 199.3h.7M478.2 205.0h.7M476.0 197.5h.7M469.4 202.9h.7M470.9 206.9h.7M470.2 197.3h.7M474.3 203.9h.7M469.0 208.9h.7M466.5 205.9h.7M474.1 207.2h.7M471.8 201.1h.7M472.1 203.5h.7M468.0 211.9h.7M462.6 208.8h.7M478.0 187.0h.7M476.8 204.6h.7M470.3 193.8h.7M472.6 201.3h.7M469.7 208.1h.7M469.9 201.3h.7M481.6 206.1h.7M468.3 210.7h.7M476.4 202.4h.7M473.9 207.2h.7M471.0 209.1h.7M468.2 212.2h.7M461.2 215.9h.7M464.0 206.6h.7M475.4 209.9h.7M471.5 220.4h.7M475.0 203.5h.7M473.4 204.6h.7M469.0 206.1h.7M475.8 201.4h.7M474.9 204.3h.7M470.1 205.7h.7M476.7 203.8h.7M469.3 201.3h.7M470.5 201.7h.7M480.0 198.6h.7M468.1 202.5h.7M471.1 199.8h.7M474.9 192.6h.7M466.8 201.1h.7M466.5 213.1h.7M476.6 191.6h.7M474.9 208.1h.7M470.2 207.7h.7M469.2 201.7h.7M468.7 203.5h.7M473.2 210.1h.7M464.6 208.1h.7M474.1 210.6h.7M473.1 195.9h.7M472.1 201.4h.7M469.2 203.3h.7M471.7 205.8h.7M458.4 216.4h.7M464.8 205.3h.7M466.8 219.8h.7M475.5 195.8h.7M473.0 202.7h.7M467.5 208.8h.7M471.8 197.7h.7M468.0 205.3h.7M468.2 211.1h.7M469.8 204.2h.7M468.9 213.5h.7M473.1 199.9h.7M471.0 209.9h.7M467.2 206.7h.7M464.8 207.9h.7M469.8 200.3h.7M478.2 198.9h.7M470.7 212.5h.7M470.1 196.8h.7M473.1 200.3h.7M467.8 208.3h.7M474.0 208.1h.7M477.8 203.7h.7M465.9 213.9h.7M476.0 200.3h.7M476.4 193.2h.7M474.0 197.5h.7M461.9 207.4h.7M466.8 204.4h.7M474.5 196.7h.7M466.6 200.0h.7M468.7 199.4h.7M469.1 207.4h.7M465.7 211.7h.7M470.6 204.0h.7M465.2 219.3h.7M467.4 195.5h.7M472.2 207.8h.7M459.7 211.8h.7M465.0 203.7h.7M475.6 199.9h.7M475.2 196.6h.7M462.0 208.4h.7M465.9 205.4h.7M465.6 201.7h.7M467.4 208.9h.7M469.0 209.4h.7M464.5 205.8h.7M462.8 206.6h.7M478.7 199.6h.7M471.7 199.8h.7M471.1 196.1h.7M481.4 185.5h.7M473.8 199.9h.7M470.6 202.7h.7M475.2 199.6h.7M471.9 200.8h.7M478.6 198.0h.7M470.7 206.7h.7M476.8 197.4h.7M467.7 198.8h.7M469.4 206.5h.7M480.8 191.9h.7M470.1 199.2h.7M470.2 203.2h.7M473.6 202.4h.7M459.8 215.9h.7M468.9 207.6h.7M472.8 200.2h.7M475.2 198.2h.7M465.2 202.8h.7M466.3 209.7h.7M473.6 198.8h.7M472.0 206.3h.7M474.0 200.8h.7M467.2 207.9h.7M474.3 200.9h.7M479.2 198.2h.7M476.3 196.5h.7M467.7 211.5h.7M466.3 205.0h.7M474.0 195.9h.7M471.2 203.6h.7M475.1 192.3h.7M468.3 201.2h.7M461.9 207.6h.7M471.4 210.2h.7M468.0 206.4h.7M465.6 218.6h.7M480.6 192.5h.7M462.8 205.5h.7M471.2 201.7h.7M464.7 203.6h.7M465.7 205.4h.7M476.0 202.9h.7M479.4 200.2h.7M477.0 211.8h.7M471.8 200.6h.7M462.3 201.8h.7M474.3 202.2h.7M469.5 216.4h.7M473.8 197.4h.7M471.6 210.9h.7M462.8 204.0h.7M471.4 198.8h.7M473.0 208.9h.7M470.9 206.3h.7M469.1 204.4h.7M485.7 189.9h.7M471.4 201.1h.7M469.1 209.3h.7M470.2 211.5h.7M467.5 206.6h.7M477.3 195.5h.7M465.5 203.6h.7M470.2 211.1h.7M468.7 209.4h.7M467.6 206.2h.7M462.9 200.2h.7M472.8 199.2h.7M473.7 200.6h.7M468.0 207.6h.7M471.4 198.1h.7M463.2 203.3h.7M469.8 207.7h.7M472.3 202.0h.7M468.7 188.1h.7M462.4 217.4h.7M464.6 210.6h.7M473.7 198.3h.7M463.3 214.0h.7M471.9 200.6h.7M462.4 217.8h.7M462.8 206.8h.7M465.4 205.7h.7M467.4 200.7h.7M475.2 200.6h.7M465.1 203.7h.7M477.1 200.1h.7M473.3 203.3h.7M475.2 198.8h.7M470.4 199.9h.7M460.6 214.1h.7M472.2 204.7h.7M472.5 200.2h.7M467.4 201.4h.7M474.6 195.6h.7M462.4 211.6h.7M473.5 206.8h.7M466.9 206.3h.7M477.8 190.2h.7M473.1 203.8h.7M470.7 195.7h.7M471.3 206.8h.7M479.4 202.7h.7M466.9 205.5h.7M461.2 208.5h.7M469.4 205.8h.7M472.6 210.0h.7M470.4 205.7h.7M464.0 210.3h.7M468.9 200.5h.7M460.8 198.4h.7M468.7 198.9h.7M471.7 204.5h.7M467.9 213.2h.7M464.1 207.5h.7M462.6 211.5h.7M460.9 212.1h.7M463.2 213.5h.7M469.4 211.7h.7M464.5 212.6h.7M475.3 199.7h.7M466.9 202.0h.7M472.9 202.0h.7M470.2 196.3h.7M472.2 197.2h.7M469.5 202.0h.7M468.3 201.6h.7M466.6 205.0h.7M469.9 211.4h.7M472.5 204.2h.7M464.3 207.1h.7M465.2 205.2h.7M476.6 200.2h.7M474.2 201.9h.7M466.0 195.7h.7M465.4 214.9h.7M480.6 200.5h.7M468.6 204.4h.7M471.7 199.2h.7M479.2 207.8h.7M463.8 212.4h.7M466.8 212.3h.7M471.8 206.2h.7M471.5 197.7h.7M469.7 195.4h.7M466.3 200.7h.7M471.8 206.9h.7M475.3 197.7h.7M467.1 199.5h.7M465.5 207.9h.7M471.6 200.5h.7M475.9 207.9h.7M470.1 195.6h.7M466.3 215.7h.7M470.2 197.6h.7M480.0 196.2h.7M467.6 202.3h.7M470.3 201.5h.7M471.8 202.3h.7M472.2 208.2h.7M477.4 194.4h.7M475.2 199.0h.7M476.9 198.1h.7M484.7 198.9h.7M475.4 206.6h.7M467.8 206.1h.7M467.5 206.7h.7M478.6 196.1h.7M457.6 211.1h.7M466.1 205.5h.7M455.8 209.0h.7M474.5 209.2h.7M477.1 201.7h.7M474.4 204.1h.7M470.9 204.4h.7M461.2 209.8h.7M475.7 207.3h.7M466.9 190.8h.7M472.7 208.9h.7M472.4 208.4h.7M472.3 205.3h.7M466.8 204.7h.7M471.6 205.8h.7M468.1 215.2h.7M471.8 196.3h.7M474.8 213.7h.7M465.9 207.8h.7M471.5 203.5h.7M471.0 211.0h.7M469.1 211.2h.7M471.1 208.2h.7M475.4 196.7h.7M476.3 189.0h.7M471.4 209.8h.7M473.8 202.5h.7M471.8 215.9h.7M470.0 197.8h.7M494.5 212.8h.7M486.0 216.1h.7M489.5 208.3h.7M488.0 207.3h.7M491.7 205.2h.7M480.2 208.6h.7M508.2 198.2h.7M479.5 208.6h.7M481.7 212.7h.7M487.9 211.9h.7M490.2 209.6h.7M482.3 220.2h.7M489.7 203.9h.7M477.8 190.1h.7M498.9 217.0h.7M493.4 206.8h.7M483.9 211.7h.7M499.6 221.9h.7M487.1 209.9h.7M489.6 215.4h.7M483.6 213.8h.7M480.4 215.7h.7M507.9 202.2h.7M470.8 204.0h.7M479.4 212.2h.7M494.1 206.3h.7M478.6 209.7h.7M482.6 205.4h.7M490.3 202.6h.7M492.0 201.1h.7M486.4 211.3h.7M475.6 218.2h.7M487.4 199.1h.7M483.5 204.2h.7M483.8 203.4h.7M491.4 207.4h.7M472.7 203.3h.7M482.1 213.7h.7M472.7 201.9h.7M495.4 209.3h.7M483.2 198.9h.7M487.3 206.7h.7M471.8 209.3h.7M486.9 202.8h.7M481.9 202.8h.7M507.8 204.6h.7M503.5 216.5h.7M503.5 215.0h.7M479.3 207.8h.7M482.3 207.2h.7M496.8 214.8h.7M495.2 211.6h.7M509.4 212.0h.7M491.6 211.6h.7M492.9 209.7h.7M484.5 172.0h.7M478.8 174.5h.7M485.5 180.4h.7M478.1 195.6h.7M481.3 206.5h.7M475.2 191.5h.7M485.3 177.6h.7M481.9 184.7h.7M489.5 172.8h.7M466.8 189.5h.7M479.3 167.0h.7M484.9 187.2h.7M479.8 181.5h.7M469.9 194.1h.7M470.6 195.2h.7M469.8 190.0h.7M461.1 196.6h.7M468.1 188.6h.7M481.5 187.4h.7M471.5 166.1h.7M464.8 167.8h.7M450.4 192.6h.7M471.1 191.3h.7M480.0 178.8h.7M467.6 191.8h.7M480.5 191.0h.7M490.8 181.1h.7M480.6 184.0h.7M481.9 187.4h.7M450.5 184.4h.7M490.6 203.9h.7M466.3 180.5h.7M468.0 185.5h.7M461.6 190.4h.7M478.8 195.7h.7M496.0 189.8h.7M458.7 193.1h.7M464.5 190.7h.7M466.3 171.7h.7M485.0 179.2h.7M471.9 185.5h.7M484.5 177.3h.7M480.9 182.2h.7M495.9 207.0h.7M472.9 175.3h.7M458.9 209.1h.7M500.2 195.0h.7M467.3 181.2h.7M482.4 210.8h.7M449.3 191.6h.7M483.3 200.6h.7M488.0 183.0h.7M479.6 180.8h.7M473.9 174.5h.7M476.1 198.6h.7M501.4 194.5h.7M467.3 184.7h.7M474.7 180.1h.7M473.8 179.5h.7M500.0 197.3h.7M476.7 176.6h.7M460.1 184.0h.7M486.7 201.9h.7M461.3 184.6h.7M484.5 192.3h.7M458.0 192.2h.7M477.5 186.6h.7M473.9 198.4h.7M490.6 196.0h.7M463.2 191.1h.7M472.9 194.1h.7M491.5 181.8h.7M460.5 187.4h.7M482.3 171.8h.7M477.7 180.3h.7M490.7 176.1h.7M469.9 173.4h.7M481.6 194.5h.7M479.4 197.0h.7M471.1 172.4h.7M466.8 186.7h.7M504.9 192.7h.7M482.5 189.1h.7M487.6 181.5h.7M497.4 188.5h.7M492.2 172.8h.7M475.6 180.8h.7M484.7 165.6h.7M473.2 195.5h.7M491.4 184.5h.7M486.7 195.9h.7M491.4 188.8h.7M465.2 193.1h.7M468.5 179.1h.7M453.2 197.2h.7M466.4 180.7h.7M473.3 178.0h.7M477.6 188.1h.7" stroke="#000" stroke-width="0.7" fill="none"/>
<ellipse cx="458.5" cy="209" rx="4.2" ry="13.5" fill="#000" transform="rotate(39 458.5 209)"/>
<ellipse cx="486.5" cy="210.8" rx="17.6" ry="9.5" fill="none" stroke="#111" stroke-width="0.8" transform="rotate(0 486.5 210.8)"/>
<rect x="445.9" y="164.6" width="65.10000000000002" height="59.099999999999994" fill="none" stroke="#222" stroke-width="0.9" />
<rect x="483.9" y="164.6" width="27.100000000000023" height="7.800000000000011" fill="#fff" stroke="#222" stroke-width="0.8" />
<text x="497.45" y="170.1" font-size="5.3" text-anchor="middle" font-weight="normal" fill="#111" >Gate = 12</text>
<text x="444.2" y="171.29999999999998" font-size="6.3" text-anchor="end" font-weight="normal" fill="#111" >1000</text>
<text x="444.2" y="197.34999999999997" font-size="6.3" text-anchor="end" font-weight="normal" fill="#111" >500</text>
<text x="444.2" y="224.6" font-size="6.3" text-anchor="end" font-weight="normal" fill="#111" >0</text>
<text x="451.3" y="230.8" font-size="6.3" text-anchor="middle" font-weight="normal" fill="#111" >0</text>
<text x="480.5" y="230.8" font-size="6.3" text-anchor="middle" font-weight="normal" fill="#111" >500</text>
<text x="512.5" y="230.8" font-size="6.3" text-anchor="middle" font-weight="normal" fill="#111" >1000</text>
<text x="481.6" y="239.4" font-size="6.5" text-anchor="middle" font-weight="normal" fill="#111" >FSC</text>
</svg></body></html>
